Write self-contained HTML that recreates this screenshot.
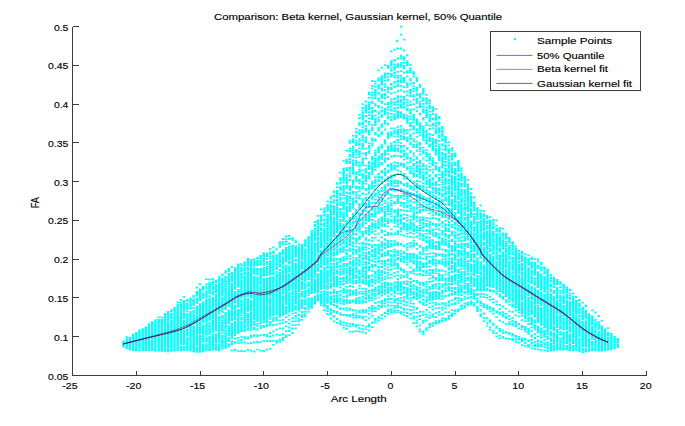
<!DOCTYPE html>
<html><head><meta charset="utf-8"><title>Comparison</title>
<style>html,body{margin:0;padding:0;background:#fff;font-family:"Liberation Sans",sans-serif}</style>
</head><body>
<svg width="685" height="426" viewBox="0 0 685 426" style="display:block">
<defs><filter id="b" x="0" y="0" width="100%" height="100%" filterUnits="userSpaceOnUse"><feGaussianBlur stdDeviation="0.5"/></filter></defs>
<rect width="685" height="426" fill="#fff"/>
<path d="M122.3 341.3h2.4M122.3 341.5h2.4M122.3 341.7h2.4M122.3 341.8h2.4M122.3 342.2h2.4M122.3 342.4h2.4M122.3 342.5h2.4M122.3 342.7h2.4M122.3 342.8h2.4M122.3 342.9h2.4M122.3 343.3h2.4M122.3 343.4h2.4M122.3 343.7h2.4M122.3 344h2.4M122.3 344.1h2.4M122.3 344.3h2.4M122.3 344.4h2.4M122.3 344.5h2.4M122.3 344.6h2.4M122.3 344.7h2.4M122.3 344.9h2.4M122.3 345h2.4M122.3 345.1h2.4M122.3 345.2h2.4M122.3 345.3h2.4M122.3 345.5h2.4M122.3 345.7h2.4M122.3 346h2.4M122.3 346.1h2.4M122.3 346.3h2.4M122.3 346.4h2.4M122.3 346.5h2.4M122.3 346.7h2.4M125.5 337.2h2.4M125.5 339.1h2.4M125.5 339.3h2.4M125.5 339.7h2.4M125.5 340.1h2.4M125.5 340.4h2.4M125.5 340.5h2.4M125.5 340.7h2.4M125.5 340.9h2.4M125.5 341.1h2.4M125.5 341.2h2.4M125.5 341.3h2.4M125.5 341.5h2.4M125.5 341.6h2.4M125.5 341.7h2.4M125.5 341.9h2.4M125.5 342h2.4M125.5 342.2h2.4M125.5 342.4h2.4M125.5 342.5h2.4M125.5 342.7h2.4M125.5 343.4h2.4M125.5 343.5h2.4M125.5 343.6h2.4M125.5 343.7h2.4M125.5 344h2.4M125.5 344.3h2.4M125.5 344.6h2.4M125.5 344.8h2.4M125.5 344.9h2.4M125.5 345.1h2.4M125.5 345.2h2.4M125.5 345.4h2.4M125.5 345.5h2.4M125.5 345.7h2.4M125.5 346.1h2.4M125.5 346.3h2.4M125.5 346.4h2.4M125.5 346.5h2.4M125.5 346.9h2.4M125.5 347h2.4M125.5 347.2h2.4M125.5 347.3h2.4M125.5 347.7h2.4M125.5 348.2h2.4M128.7 337.6h2.4M128.7 337.9h2.4M128.7 338.7h2.4M128.7 338.8h2.4M128.7 338.9h2.4M128.7 339.2h2.4M128.7 339.4h2.4M128.7 339.6h2.4M128.7 339.7h2.4M128.7 339.9h2.4M128.7 340.1h2.4M128.7 340.6h2.4M128.7 340.8h2.4M128.7 340.9h2.4M128.7 341h2.4M128.7 341.1h2.4M128.7 341.5h2.4M128.7 341.7h2.4M128.7 342h2.4M128.7 342.1h2.4M128.7 342.2h2.4M128.7 342.3h2.4M128.7 342.4h2.4M128.7 342.7h2.4M128.7 343h2.4M128.7 343.2h2.4M128.7 343.7h2.4M128.7 344h2.4M128.7 344.3h2.4M128.7 344.4h2.4M128.7 344.5h2.4M128.7 344.6h2.4M128.7 344.8h2.4M128.7 345.1h2.4M128.7 345.4h2.4M128.7 345.6h2.4M128.7 346.1h2.4M128.7 346.2h2.4M128.7 346.3h2.4M128.7 346.4h2.4M128.7 346.9h2.4M128.7 347h2.4M128.7 347.1h2.4M128.7 347.4h2.4M128.7 347.5h2.4M128.7 347.8h2.4M128.7 347.9h2.4M128.7 348h2.4M128.7 348.7h2.4M128.7 348.9h2.4M128.7 349.3h2.4M131.9 334.6h2.4M131.9 336.3h2.4M131.9 336.6h2.4M131.9 336.8h2.4M131.9 337h2.4M131.9 337.1h2.4M131.9 337.5h2.4M131.9 337.7h2.4M131.9 338.1h2.4M131.9 338.2h2.4M131.9 338.6h2.4M131.9 338.7h2.4M131.9 338.8h2.4M131.9 338.9h2.4M131.9 339h2.4M131.9 339.4h2.4M131.9 339.6h2.4M131.9 339.7h2.4M131.9 339.8h2.4M131.9 340h2.4M131.9 340.2h2.4M131.9 340.3h2.4M131.9 340.4h2.4M131.9 340.5h2.4M131.9 341h2.4M131.9 341.1h2.4M131.9 341.2h2.4M131.9 341.6h2.4M131.9 342.2h2.4M131.9 342.6h2.4M131.9 342.8h2.4M131.9 343h2.4M131.9 343.4h2.4M131.9 343.6h2.4M131.9 344.1h2.4M131.9 344.3h2.4M131.9 344.9h2.4M131.9 345.3h2.4M131.9 345.6h2.4M131.9 345.8h2.4M131.9 345.9h2.4M131.9 346.1h2.4M131.9 346.2h2.4M131.9 346.4h2.4M131.9 346.6h2.4M131.9 346.7h2.4M131.9 346.9h2.4M131.9 347.5h2.4M131.9 347.7h2.4M131.9 347.9h2.4M131.9 348.1h2.4M131.9 348.5h2.4M131.9 348.9h2.4M131.9 349.1h2.4M131.9 349.8h2.4M131.9 350.1h2.4M135.1 332.9h2.4M135.1 333.4h2.4M135.1 334h2.4M135.1 335.1h2.4M135.1 335.5h2.4M135.1 335.6h2.4M135.1 335.7h2.4M135.1 335.8h2.4M135.1 336h2.4M135.1 336.1h2.4M135.1 336.6h2.4M135.1 336.7h2.4M135.1 336.9h2.4M135.1 337.1h2.4M135.1 337.4h2.4M135.1 338.1h2.4M135.1 338.3h2.4M135.1 338.4h2.4M135.1 338.5h2.4M135.1 338.6h2.4M135.1 339h2.4M135.1 339.1h2.4M135.1 339.2h2.4M135.1 339.5h2.4M135.1 340h2.4M135.1 340.2h2.4M135.1 340.3h2.4M135.1 340.4h2.4M135.1 341.3h2.4M135.1 341.5h2.4M135.1 341.9h2.4M135.1 342.2h2.4M135.1 342.4h2.4M135.1 342.5h2.4M135.1 343.6h2.4M135.1 343.9h2.4M135.1 344.3h2.4M135.1 344.5h2.4M135.1 344.9h2.4M135.1 345.2h2.4M135.1 345.5h2.4M135.1 345.6h2.4M135.1 346.1h2.4M135.1 346.7h2.4M135.1 347.1h2.4M135.1 347.5h2.4M135.1 347.6h2.4M135.1 347.8h2.4M135.1 347.9h2.4M135.1 348.3h2.4M135.1 348.4h2.4M135.1 348.7h2.4M135.1 349.4h2.4M135.1 349.8h2.4M135.1 350.3h2.4M138.3 330.2h2.4M138.3 330.9h2.4M138.3 332h2.4M138.3 334h2.4M138.3 334.1h2.4M138.3 334.6h2.4M138.3 334.7h2.4M138.3 334.8h2.4M138.3 334.9h2.4M138.3 335.3h2.4M138.3 335.8h2.4M138.3 336h2.4M138.3 336.6h2.4M138.3 336.8h2.4M138.3 337h2.4M138.3 337.3h2.4M138.3 337.5h2.4M138.3 337.6h2.4M138.3 337.9h2.4M138.3 338.2h2.4M138.3 338.6h2.4M138.3 338.9h2.4M138.3 339h2.4M138.3 339.3h2.4M138.3 339.9h2.4M138.3 340.1h2.4M138.3 341.1h2.4M138.3 341.3h2.4M138.3 341.5h2.4M138.3 341.7h2.4M138.3 341.8h2.4M138.3 342.2h2.4M138.3 342.9h2.4M138.3 343.9h2.4M138.3 344h2.4M138.3 344.3h2.4M138.3 344.5h2.4M138.3 345h2.4M138.3 345.2h2.4M138.3 345.3h2.4M138.3 345.4h2.4M138.3 345.5h2.4M138.3 345.7h2.4M138.3 345.9h2.4M138.3 346.3h2.4M138.3 346.5h2.4M138.3 346.8h2.4M138.3 347.1h2.4M138.3 347.4h2.4M138.3 347.7h2.4M138.3 348h2.4M138.3 348.3h2.4M138.3 348.6h2.4M138.3 349h2.4M138.3 349.3h2.4M138.3 349.4h2.4M138.3 349.6h2.4M138.3 350.3h2.4M141.5 329.1h2.4M141.5 329.5h2.4M141.5 330.1h2.4M141.5 331.1h2.4M141.5 331.9h2.4M141.5 332.2h2.4M141.5 332.7h2.4M141.5 333h2.4M141.5 333.3h2.4M141.5 333.6h2.4M141.5 333.7h2.4M141.5 334.3h2.4M141.5 334.9h2.4M141.5 335h2.4M141.5 335.5h2.4M141.5 336h2.4M141.5 336.1h2.4M141.5 336.2h2.4M141.5 336.3h2.4M141.5 336.4h2.4M141.5 336.5h2.4M141.5 336.9h2.4M141.5 337.1h2.4M141.5 337.2h2.4M141.5 337.7h2.4M141.5 337.9h2.4M141.5 338.2h2.4M141.5 338.4h2.4M141.5 338.6h2.4M141.5 338.9h2.4M141.5 339.1h2.4M141.5 339.6h2.4M141.5 339.8h2.4M141.5 339.9h2.4M141.5 340.7h2.4M141.5 340.8h2.4M141.5 340.9h2.4M141.5 341.5h2.4M141.5 342.3h2.4M141.5 342.4h2.4M141.5 343.1h2.4M141.5 343.5h2.4M141.5 343.8h2.4M141.5 344.2h2.4M141.5 344.6h2.4M141.5 344.9h2.4M141.5 345.2h2.4M141.5 345.4h2.4M141.5 345.5h2.4M141.5 345.9h2.4M141.5 346.5h2.4M141.5 346.7h2.4M141.5 346.9h2.4M141.5 347.5h2.4M141.5 347.8h2.4M141.5 348.3h2.4M141.5 348.5h2.4M141.5 349h2.4M141.5 349.2h2.4M141.5 349.3h2.4M141.5 349.4h2.4M141.5 349.5h2.4M141.5 349.9h2.4M141.5 350.2h2.4M144.6 327.3h2.4M144.6 327.8h2.4M144.6 328.8h2.4M144.6 329.3h2.4M144.6 330.1h2.4M144.6 331.2h2.4M144.6 331.5h2.4M144.6 331.8h2.4M144.6 331.9h2.4M144.6 332.3h2.4M144.6 332.6h2.4M144.6 333.1h2.4M144.6 333.3h2.4M144.6 333.8h2.4M144.6 333.9h2.4M144.6 334h2.4M144.6 334.2h2.4M144.6 334.7h2.4M144.6 335h2.4M144.6 335.1h2.4M144.6 335.2h2.4M144.6 335.8h2.4M144.6 335.9h2.4M144.6 336h2.4M144.6 336.3h2.4M144.6 336.4h2.4M144.6 336.6h2.4M144.6 336.9h2.4M144.6 337h2.4M144.6 337.3h2.4M144.6 337.7h2.4M144.6 337.8h2.4M144.6 338.2h2.4M144.6 338.7h2.4M144.6 339.3h2.4M144.6 339.8h2.4M144.6 340h2.4M144.6 340.3h2.4M144.6 340.7h2.4M144.6 342h2.4M144.6 342.2h2.4M144.6 342.5h2.4M144.6 342.9h2.4M144.6 343.4h2.4M144.6 343.6h2.4M144.6 343.9h2.4M144.6 344h2.4M144.6 344.1h2.4M144.6 344.3h2.4M144.6 344.4h2.4M144.6 344.5h2.4M144.6 345.1h2.4M144.6 345.4h2.4M144.6 345.8h2.4M144.6 346.5h2.4M144.6 346.7h2.4M144.6 347.1h2.4M144.6 347.2h2.4M144.6 348.2h2.4M144.6 348.3h2.4M144.6 348.6h2.4M144.6 348.8h2.4M144.6 349.1h2.4M144.6 349.3h2.4M144.6 349.4h2.4M144.6 349.5h2.4M144.6 349.9h2.4M144.6 350.4h2.4M147.8 324.2h2.4M147.8 325.9h2.4M147.8 327h2.4M147.8 328.1h2.4M147.8 329.1h2.4M147.8 329.3h2.4M147.8 330h2.4M147.8 330.1h2.4M147.8 330.6h2.4M147.8 330.8h2.4M147.8 331h2.4M147.8 331.3h2.4M147.8 331.6h2.4M147.8 332.8h2.4M147.8 333.1h2.4M147.8 333.2h2.4M147.8 333.7h2.4M147.8 333.8h2.4M147.8 334.1h2.4M147.8 334.3h2.4M147.8 335h2.4M147.8 335.2h2.4M147.8 335.4h2.4M147.8 335.5h2.4M147.8 335.6h2.4M147.8 335.8h2.4M147.8 335.9h2.4M147.8 336h2.4M147.8 336.1h2.4M147.8 336.2h2.4M147.8 336.5h2.4M147.8 336.9h2.4M147.8 337.6h2.4M147.8 338h2.4M147.8 338.3h2.4M147.8 338.7h2.4M147.8 339h2.4M147.8 339.1h2.4M147.8 339.4h2.4M147.8 339.5h2.4M147.8 341.2h2.4M147.8 342.4h2.4M147.8 342.7h2.4M147.8 343h2.4M147.8 343.6h2.4M147.8 343.8h2.4M147.8 344h2.4M147.8 344.2h2.4M147.8 344.4h2.4M147.8 344.6h2.4M147.8 344.7h2.4M147.8 345h2.4M147.8 345.5h2.4M147.8 345.7h2.4M147.8 346.5h2.4M147.8 347.6h2.4M147.8 348.1h2.4M147.8 348.8h2.4M147.8 348.9h2.4M147.8 349h2.4M147.8 349.7h2.4M147.8 349.8h2.4M147.8 350.1h2.4M147.8 350.2h2.4M151 322.2h2.4M151 322.9h2.4M151 323h2.4M151 324.8h2.4M151 325.2h2.4M151 327.2h2.4M151 327.4h2.4M151 327.7h2.4M151 328h2.4M151 328.2h2.4M151 328.3h2.4M151 329.2h2.4M151 329.3h2.4M151 329.4h2.4M151 329.7h2.4M151 330.1h2.4M151 330.3h2.4M151 330.4h2.4M151 330.9h2.4M151 331.1h2.4M151 332.2h2.4M151 332.6h2.4M151 332.8h2.4M151 333.1h2.4M151 334h2.4M151 334.1h2.4M151 334.3h2.4M151 334.4h2.4M151 334.5h2.4M151 334.8h2.4M151 335.3h2.4M151 335.4h2.4M151 335.8h2.4M151 336h2.4M151 336.1h2.4M151 336.2h2.4M151 337.2h2.4M151 337.4h2.4M151 338h2.4M151 338.3h2.4M151 338.5h2.4M151 338.7h2.4M151 338.8h2.4M151 340.8h2.4M151 341.3h2.4M151 341.5h2.4M151 341.6h2.4M151 342.2h2.4M151 343.5h2.4M151 343.6h2.4M151 343.8h2.4M151 343.9h2.4M151 344h2.4M151 344.1h2.4M151 344.2h2.4M151 344.5h2.4M151 344.8h2.4M151 345.3h2.4M151 346h2.4M151 346.1h2.4M151 346.5h2.4M151 347.1h2.4M151 348.2h2.4M151 348.6h2.4M151 348.7h2.4M151 349.1h2.4M151 349.2h2.4M151 349.3h2.4M151 349.4h2.4M151 349.7h2.4M151 350h2.4M151 350.2h2.4M154.2 320.1h2.4M154.2 321.8h2.4M154.2 322h2.4M154.2 323h2.4M154.2 324h2.4M154.2 325.5h2.4M154.2 326.4h2.4M154.2 326.8h2.4M154.2 326.9h2.4M154.2 327.1h2.4M154.2 327.6h2.4M154.2 327.8h2.4M154.2 328.2h2.4M154.2 328.6h2.4M154.2 329.2h2.4M154.2 329.3h2.4M154.2 329.5h2.4M154.2 330.4h2.4M154.2 331h2.4M154.2 331.5h2.4M154.2 331.7h2.4M154.2 331.8h2.4M154.2 332.1h2.4M154.2 332.3h2.4M154.2 332.6h2.4M154.2 332.7h2.4M154.2 333.6h2.4M154.2 334.1h2.4M154.2 334.5h2.4M154.2 334.6h2.4M154.2 334.7h2.4M154.2 334.9h2.4M154.2 335.2h2.4M154.2 335.4h2.4M154.2 335.6h2.4M154.2 336.4h2.4M154.2 336.8h2.4M154.2 337.1h2.4M154.2 337.7h2.4M154.2 337.8h2.4M154.2 338.2h2.4M154.2 338.4h2.4M154.2 338.7h2.4M154.2 340h2.4M154.2 340.2h2.4M154.2 340.3h2.4M154.2 341.3h2.4M154.2 341.4h2.4M154.2 341.6h2.4M154.2 342.9h2.4M154.2 343.2h2.4M154.2 343.4h2.4M154.2 344.1h2.4M154.2 344.5h2.4M154.2 344.8h2.4M154.2 345.1h2.4M154.2 345.3h2.4M154.2 346.2h2.4M154.2 346.3h2.4M154.2 346.9h2.4M154.2 348.2h2.4M154.2 348.7h2.4M154.2 349.3h2.4M154.2 349.4h2.4M154.2 349.5h2.4M154.2 350h2.4M154.2 350.1h2.4M154.2 350.2h2.4M154.2 350.7h2.4M154.2 350.8h2.4M157.4 317.4h2.4M157.4 319.9h2.4M157.4 320h2.4M157.4 321.3h2.4M157.4 321.5h2.4M157.4 323h2.4M157.4 323.3h2.4M157.4 324.2h2.4M157.4 324.9h2.4M157.4 325.2h2.4M157.4 325.6h2.4M157.4 326h2.4M157.4 326.5h2.4M157.4 327.4h2.4M157.4 327.5h2.4M157.4 327.8h2.4M157.4 327.9h2.4M157.4 328.8h2.4M157.4 329h2.4M157.4 329.8h2.4M157.4 330h2.4M157.4 330.2h2.4M157.4 331h2.4M157.4 331.2h2.4M157.4 331.9h2.4M157.4 332.1h2.4M157.4 332.5h2.4M157.4 332.9h2.4M157.4 333.2h2.4M157.4 333.7h2.4M157.4 333.8h2.4M157.4 334h2.4M157.4 334.2h2.4M157.4 334.3h2.4M157.4 334.4h2.4M157.4 334.8h2.4M157.4 335.8h2.4M157.4 335.9h2.4M157.4 336.6h2.4M157.4 337.6h2.4M157.4 337.9h2.4M157.4 338.8h2.4M157.4 339h2.4M157.4 339.4h2.4M157.4 340.3h2.4M157.4 340.6h2.4M157.4 340.8h2.4M157.4 341.2h2.4M157.4 341.7h2.4M157.4 342.1h2.4M157.4 342.7h2.4M157.4 343.3h2.4M157.4 343.8h2.4M157.4 344.1h2.4M157.4 344.2h2.4M157.4 344.5h2.4M157.4 344.9h2.4M157.4 345.4h2.4M157.4 346.3h2.4M157.4 346.9h2.4M157.4 347.2h2.4M157.4 347.4h2.4M157.4 348.5h2.4M157.4 348.7h2.4M157.4 349.1h2.4M157.4 349.2h2.4M157.4 349.3h2.4M157.4 349.5h2.4M157.4 349.8h2.4M157.4 350h2.4M157.4 350.6h2.4M160.6 317.6h2.4M160.6 319.8h2.4M160.6 320.6h2.4M160.6 320.8h2.4M160.6 321.4h2.4M160.6 321.9h2.4M160.6 322.3h2.4M160.6 322.4h2.4M160.6 323.7h2.4M160.6 323.9h2.4M160.6 324h2.4M160.6 325h2.4M160.6 325.5h2.4M160.6 325.9h2.4M160.6 326.4h2.4M160.6 326.6h2.4M160.6 327.5h2.4M160.6 328.7h2.4M160.6 329h2.4M160.6 329.3h2.4M160.6 329.5h2.4M160.6 329.6h2.4M160.6 330.2h2.4M160.6 330.8h2.4M160.6 330.9h2.4M160.6 331.5h2.4M160.6 331.9h2.4M160.6 332.3h2.4M160.6 332.4h2.4M160.6 332.5h2.4M160.6 332.7h2.4M160.6 332.9h2.4M160.6 333.3h2.4M160.6 333.6h2.4M160.6 334h2.4M160.6 334.3h2.4M160.6 336h2.4M160.6 336.1h2.4M160.6 336.2h2.4M160.6 336.4h2.4M160.6 336.6h2.4M160.6 338h2.4M160.6 339.6h2.4M160.6 339.7h2.4M160.6 340h2.4M160.6 340.1h2.4M160.6 341.2h2.4M160.6 341.4h2.4M160.6 342.1h2.4M160.6 342.8h2.4M160.6 343.2h2.4M160.6 343.5h2.4M160.6 343.6h2.4M160.6 344.1h2.4M160.6 344.3h2.4M160.6 344.4h2.4M160.6 344.5h2.4M160.6 345h2.4M160.6 346.1h2.4M160.6 346.9h2.4M160.6 347.7h2.4M160.6 347.8h2.4M160.6 348.1h2.4M160.6 348.4h2.4M160.6 348.6h2.4M160.6 349.3h2.4M160.6 349.5h2.4M160.6 350.1h2.4M160.6 350.6h2.4M160.6 350.8h2.4M163.8 313.8h2.4M163.8 315.7h2.4M163.8 316.1h2.4M163.8 316.6h2.4M163.8 317.3h2.4M163.8 318.7h2.4M163.8 319.3h2.4M163.8 319.5h2.4M163.8 320.5h2.4M163.8 321.2h2.4M163.8 321.3h2.4M163.8 321.5h2.4M163.8 321.7h2.4M163.8 322.5h2.4M163.8 323h2.4M163.8 324.1h2.4M163.8 324.7h2.4M163.8 325h2.4M163.8 325.5h2.4M163.8 326.1h2.4M163.8 326.6h2.4M163.8 326.7h2.4M163.8 327.6h2.4M163.8 328.4h2.4M163.8 328.6h2.4M163.8 329.4h2.4M163.8 329.5h2.4M163.8 330.2h2.4M163.8 330.3h2.4M163.8 330.7h2.4M163.8 330.8h2.4M163.8 331.1h2.4M163.8 332h2.4M163.8 332.5h2.4M163.8 332.6h2.4M163.8 332.7h2.4M163.8 333h2.4M163.8 333.3h2.4M163.8 334.2h2.4M163.8 335h2.4M163.8 335.5h2.4M163.8 336.3h2.4M163.8 336.7h2.4M163.8 336.8h2.4M163.8 337.8h2.4M163.8 338.5h2.4M163.8 339.2h2.4M163.8 339.9h2.4M163.8 340.1h2.4M163.8 340.2h2.4M163.8 341.1h2.4M163.8 341.5h2.4M163.8 342h2.4M163.8 342.6h2.4M163.8 342.8h2.4M163.8 343.1h2.4M163.8 343.6h2.4M163.8 343.7h2.4M163.8 343.8h2.4M163.8 344.5h2.4M163.8 345.7h2.4M163.8 345.9h2.4M163.8 346h2.4M163.8 348.1h2.4M163.8 348.2h2.4M163.8 348.3h2.4M163.8 348.8h2.4M163.8 348.9h2.4M163.8 349.1h2.4M163.8 349.7h2.4M163.8 350.1h2.4M163.8 350.2h2.4M163.8 350.5h2.4M163.8 350.8h2.4M167 311.9h2.4M167 312.2h2.4M167 313.5h2.4M167 313.7h2.4M167 314.7h2.4M167 315.8h2.4M167 316.8h2.4M167 317h2.4M167 317.8h2.4M167 318.6h2.4M167 319.4h2.4M167 319.6h2.4M167 320h2.4M167 320.1h2.4M167 322.4h2.4M167 322.8h2.4M167 323h2.4M167 323.4h2.4M167 323.8h2.4M167 324.6h2.4M167 325.2h2.4M167 325.5h2.4M167 326.2h2.4M167 326.4h2.4M167 327h2.4M167 327.2h2.4M167 328.8h2.4M167 329.2h2.4M167 329.4h2.4M167 329.6h2.4M167 330.5h2.4M167 330.6h2.4M167 330.8h2.4M167 331.2h2.4M167 331.4h2.4M167 331.8h2.4M167 331.9h2.4M167 332.6h2.4M167 333.3h2.4M167 333.7h2.4M167 333.8h2.4M167 334.9h2.4M167 335.7h2.4M167 335.8h2.4M167 336.6h2.4M167 338.4h2.4M167 338.6h2.4M167 339h2.4M167 339.9h2.4M167 340.3h2.4M167 340.9h2.4M167 341.7h2.4M167 341.9h2.4M167 342.2h2.4M167 342.9h2.4M167 343.1h2.4M167 343.2h2.4M167 343.5h2.4M167 343.8h2.4M167 344.4h2.4M167 344.8h2.4M167 345.9h2.4M167 346.8h2.4M167 347.1h2.4M167 347.2h2.4M167 349.1h2.4M167 349.3h2.4M167 349.4h2.4M167 349.6h2.4M167 349.7h2.4M167 349.9h2.4M167 350h2.4M167 350.3h2.4M167 350.4h2.4M167 351.5h2.4M170.2 310.2h2.4M170.2 310.4h2.4M170.2 310.7h2.4M170.2 311h2.4M170.2 313.6h2.4M170.2 313.9h2.4M170.2 314.3h2.4M170.2 315.7h2.4M170.2 316.4h2.4M170.2 316.7h2.4M170.2 317.2h2.4M170.2 317.7h2.4M170.2 318.2h2.4M170.2 318.4h2.4M170.2 320.7h2.4M170.2 321h2.4M170.2 321.7h2.4M170.2 321.9h2.4M170.2 322.3h2.4M170.2 322.9h2.4M170.2 323.5h2.4M170.2 323.8h2.4M170.2 324.4h2.4M170.2 325.6h2.4M170.2 326.2h2.4M170.2 327.7h2.4M170.2 328h2.4M170.2 328.1h2.4M170.2 329h2.4M170.2 329.3h2.4M170.2 329.4h2.4M170.2 330.1h2.4M170.2 330.6h2.4M170.2 330.7h2.4M170.2 331.3h2.4M170.2 331.8h2.4M170.2 332.4h2.4M170.2 333.2h2.4M170.2 333.5h2.4M170.2 334.5h2.4M170.2 334.8h2.4M170.2 334.9h2.4M170.2 335.2h2.4M170.2 336.9h2.4M170.2 338h2.4M170.2 338.8h2.4M170.2 339.1h2.4M170.2 339.4h2.4M170.2 339.5h2.4M170.2 340.7h2.4M170.2 341.1h2.4M170.2 341.3h2.4M170.2 341.4h2.4M170.2 341.6h2.4M170.2 342.3h2.4M170.2 342.8h2.4M170.2 344h2.4M170.2 344.4h2.4M170.2 344.8h2.4M170.2 345.2h2.4M170.2 346h2.4M170.2 347.3h2.4M170.2 348h2.4M170.2 349h2.4M170.2 349.2h2.4M170.2 349.3h2.4M170.2 349.8h2.4M170.2 349.9h2.4M170.2 350.5h2.4M170.2 350.7h2.4M170.2 350.9h2.4M173.3 307.8h2.4M173.3 309.7h2.4M173.3 311.2h2.4M173.3 312.3h2.4M173.3 312.8h2.4M173.3 313.3h2.4M173.3 314.6h2.4M173.3 315h2.4M173.3 315.1h2.4M173.3 315.2h2.4M173.3 316.3h2.4M173.3 317.4h2.4M173.3 318.7h2.4M173.3 319.6h2.4M173.3 319.8h2.4M173.3 320.2h2.4M173.3 321.4h2.4M173.3 321.8h2.4M173.3 322.3h2.4M173.3 322.9h2.4M173.3 323h2.4M173.3 324.2h2.4M173.3 324.3h2.4M173.3 325.2h2.4M173.3 325.9h2.4M173.3 326.5h2.4M173.3 327h2.4M173.3 327.5h2.4M173.3 327.8h2.4M173.3 328.1h2.4M173.3 328.2h2.4M173.3 328.8h2.4M173.3 329.1h2.4M173.3 329.2h2.4M173.3 329.4h2.4M173.3 330h2.4M173.3 330.2h2.4M173.3 330.6h2.4M173.3 330.7h2.4M173.3 330.9h2.4M173.3 331.6h2.4M173.3 332.5h2.4M173.3 332.6h2.4M173.3 333.7h2.4M173.3 334.6h2.4M173.3 335.3h2.4M173.3 336.1h2.4M173.3 336.9h2.4M173.3 338.1h2.4M173.3 338.7h2.4M173.3 338.9h2.4M173.3 339.1h2.4M173.3 339.2h2.4M173.3 339.9h2.4M173.3 340h2.4M173.3 340.2h2.4M173.3 340.4h2.4M173.3 341.6h2.4M173.3 342.2h2.4M173.3 342.5h2.4M173.3 343.1h2.4M173.3 343.5h2.4M173.3 344.3h2.4M173.3 345.1h2.4M173.3 345.4h2.4M173.3 346.7h2.4M173.3 347.4h2.4M173.3 348.2h2.4M173.3 348.6h2.4M173.3 348.7h2.4M173.3 348.9h2.4M173.3 349.7h2.4M173.3 350.5h2.4M173.3 350.6h2.4M173.3 350.7h2.4M176.5 302.4h2.4M176.5 305h2.4M176.5 306.3h2.4M176.5 308.3h2.4M176.5 308.4h2.4M176.5 309.6h2.4M176.5 311.7h2.4M176.5 311.8h2.4M176.5 312h2.4M176.5 313.3h2.4M176.5 313.5h2.4M176.5 313.8h2.4M176.5 315.6h2.4M176.5 316.8h2.4M176.5 317.6h2.4M176.5 318.2h2.4M176.5 318.9h2.4M176.5 320h2.4M176.5 320.8h2.4M176.5 321.8h2.4M176.5 322.3h2.4M176.5 322.6h2.4M176.5 323.9h2.4M176.5 324h2.4M176.5 324.1h2.4M176.5 326h2.4M176.5 326.9h2.4M176.5 327.1h2.4M176.5 327.2h2.4M176.5 327.7h2.4M176.5 327.9h2.4M176.5 328h2.4M176.5 328.7h2.4M176.5 329h2.4M176.5 329.2h2.4M176.5 329.7h2.4M176.5 329.8h2.4M176.5 331.2h2.4M176.5 331.4h2.4M176.5 332.4h2.4M176.5 332.7h2.4M176.5 333.8h2.4M176.5 334.2h2.4M176.5 335.7h2.4M176.5 336.6h2.4M176.5 337.9h2.4M176.5 338h2.4M176.5 338.2h2.4M176.5 338.4h2.4M176.5 338.7h2.4M176.5 339.5h2.4M176.5 339.7h2.4M176.5 340.4h2.4M176.5 341h2.4M176.5 341.2h2.4M176.5 342.2h2.4M176.5 342.6h2.4M176.5 342.7h2.4M176.5 343.8h2.4M176.5 344.1h2.4M176.5 345h2.4M176.5 346.6h2.4M176.5 347.1h2.4M176.5 348.3h2.4M176.5 348.6h2.4M176.5 349.1h2.4M176.5 349.4h2.4M176.5 349.5h2.4M176.5 349.6h2.4M176.5 349.7h2.4M176.5 349.9h2.4M176.5 350.1h2.4M179.7 299.9h2.4M179.7 302.6h2.4M179.7 304.9h2.4M179.7 305.3h2.4M179.7 305.8h2.4M179.7 307.5h2.4M179.7 308.1h2.4M179.7 310.2h2.4M179.7 310.4h2.4M179.7 310.5h2.4M179.7 311h2.4M179.7 311.1h2.4M179.7 312.1h2.4M179.7 313.5h2.4M179.7 315.1h2.4M179.7 315.8h2.4M179.7 317.2h2.4M179.7 317.3h2.4M179.7 317.5h2.4M179.7 318.1h2.4M179.7 319h2.4M179.7 320.5h2.4M179.7 320.7h2.4M179.7 320.9h2.4M179.7 321.9h2.4M179.7 322.9h2.4M179.7 323h2.4M179.7 323.8h2.4M179.7 325.3h2.4M179.7 326.2h2.4M179.7 326.7h2.4M179.7 327.1h2.4M179.7 327.2h2.4M179.7 327.3h2.4M179.7 327.4h2.4M179.7 328h2.4M179.7 328.4h2.4M179.7 328.5h2.4M179.7 328.6h2.4M179.7 330.7h2.4M179.7 330.9h2.4M179.7 331.9h2.4M179.7 332.1h2.4M179.7 333.5h2.4M179.7 333.6h2.4M179.7 334h2.4M179.7 334.1h2.4M179.7 334.9h2.4M179.7 335.1h2.4M179.7 336.2h2.4M179.7 337.5h2.4M179.7 337.6h2.4M179.7 338.3h2.4M179.7 338.5h2.4M179.7 339h2.4M179.7 339.3h2.4M179.7 340.6h2.4M179.7 340.8h2.4M179.7 341h2.4M179.7 341.1h2.4M179.7 341.8h2.4M179.7 342.5h2.4M179.7 343.3h2.4M179.7 343.7h2.4M179.7 343.9h2.4M179.7 344.4h2.4M179.7 346.9h2.4M179.7 347.6h2.4M179.7 349h2.4M179.7 349.3h2.4M179.7 349.5h2.4M179.7 349.9h2.4M179.7 350h2.4M179.7 350.3h2.4M179.7 350.7h2.4M182.9 296.9h2.4M182.9 301h2.4M182.9 302.1h2.4M182.9 302.8h2.4M182.9 303.3h2.4M182.9 304.1h2.4M182.9 306h2.4M182.9 306.4h2.4M182.9 307.9h2.4M182.9 308.5h2.4M182.9 309h2.4M182.9 309.8h2.4M182.9 309.9h2.4M182.9 310.1h2.4M182.9 310.9h2.4M182.9 313.2h2.4M182.9 314.4h2.4M182.9 315.4h2.4M182.9 316.3h2.4M182.9 316.7h2.4M182.9 317.9h2.4M182.9 318.1h2.4M182.9 320.3h2.4M182.9 320.9h2.4M182.9 321.6h2.4M182.9 321.9h2.4M182.9 322.2h2.4M182.9 323.8h2.4M182.9 325.1h2.4M182.9 325.3h2.4M182.9 325.4h2.4M182.9 325.8h2.4M182.9 326.5h2.4M182.9 326.6h2.4M182.9 326.7h2.4M182.9 326.8h2.4M182.9 327h2.4M182.9 327.6h2.4M182.9 327.8h2.4M182.9 330.3h2.4M182.9 330.7h2.4M182.9 330.9h2.4M182.9 332.4h2.4M182.9 333.1h2.4M182.9 334.1h2.4M182.9 334.6h2.4M182.9 334.9h2.4M182.9 335.2h2.4M182.9 335.6h2.4M182.9 336.3h2.4M182.9 336.6h2.4M182.9 337.4h2.4M182.9 338.3h2.4M182.9 338.4h2.4M182.9 339.5h2.4M182.9 340.5h2.4M182.9 340.6h2.4M182.9 340.9h2.4M182.9 341.5h2.4M182.9 342h2.4M182.9 342.2h2.4M182.9 342.4h2.4M182.9 342.7h2.4M182.9 343.4h2.4M182.9 343.6h2.4M182.9 343.7h2.4M182.9 344.3h2.4M182.9 346.8h2.4M182.9 347.3h2.4M182.9 348.1h2.4M182.9 349.1h2.4M182.9 349.3h2.4M182.9 349.4h2.4M182.9 349.5h2.4M182.9 349.6h2.4M182.9 349.8h2.4M182.9 349.9h2.4M182.9 350h2.4M182.9 350.1h2.4M186.1 299.8h2.4M186.1 300.5h2.4M186.1 301.3h2.4M186.1 301.4h2.4M186.1 303.9h2.4M186.1 304.9h2.4M186.1 305.3h2.4M186.1 306.2h2.4M186.1 306.8h2.4M186.1 307.1h2.4M186.1 308.2h2.4M186.1 309h2.4M186.1 309.2h2.4M186.1 311.3h2.4M186.1 313.9h2.4M186.1 314.6h2.4M186.1 315h2.4M186.1 315.5h2.4M186.1 315.7h2.4M186.1 316.6h2.4M186.1 318.2h2.4M186.1 319.3h2.4M186.1 319.8h2.4M186.1 320.1h2.4M186.1 320.6h2.4M186.1 320.8h2.4M186.1 321h2.4M186.1 322.4h2.4M186.1 323.5h2.4M186.1 323.8h2.4M186.1 323.9h2.4M186.1 324.1h2.4M186.1 324.6h2.4M186.1 324.9h2.4M186.1 325.6h2.4M186.1 325.8h2.4M186.1 326h2.4M186.1 326.2h2.4M186.1 326.4h2.4M186.1 326.9h2.4M186.1 329.4h2.4M186.1 329.9h2.4M186.1 330.4h2.4M186.1 330.9h2.4M186.1 331.5h2.4M186.1 332.6h2.4M186.1 333.4h2.4M186.1 333.6h2.4M186.1 333.8h2.4M186.1 334.4h2.4M186.1 335.1h2.4M186.1 335.2h2.4M186.1 337.6h2.4M186.1 337.9h2.4M186.1 338.4h2.4M186.1 339.3h2.4M186.1 339.7h2.4M186.1 341.4h2.4M186.1 341.9h2.4M186.1 342.4h2.4M186.1 342.7h2.4M186.1 343.7h2.4M186.1 343.9h2.4M186.1 344.8h2.4M186.1 346.2h2.4M186.1 347.9h2.4M186.1 348.5h2.4M186.1 348.9h2.4M186.1 349h2.4M186.1 349.2h2.4M186.1 349.5h2.4M186.1 349.6h2.4M186.1 349.8h2.4M186.1 350h2.4M186.1 350.1h2.4M189.3 298.5h2.4M189.3 298.7h2.4M189.3 299h2.4M189.3 299.5h2.4M189.3 299.8h2.4M189.3 300.1h2.4M189.3 301.6h2.4M189.3 303.3h2.4M189.3 303.8h2.4M189.3 304.5h2.4M189.3 304.6h2.4M189.3 305.3h2.4M189.3 306.2h2.4M189.3 306.5h2.4M189.3 307h2.4M189.3 308.6h2.4M189.3 308.7h2.4M189.3 312.2h2.4M189.3 312.8h2.4M189.3 313.7h2.4M189.3 314h2.4M189.3 314.7h2.4M189.3 316.1h2.4M189.3 316.2h2.4M189.3 317.5h2.4M189.3 317.7h2.4M189.3 318.9h2.4M189.3 319h2.4M189.3 319.3h2.4M189.3 319.4h2.4M189.3 321.2h2.4M189.3 321.3h2.4M189.3 322.6h2.4M189.3 322.9h2.4M189.3 323.2h2.4M189.3 323.3h2.4M189.3 323.6h2.4M189.3 323.9h2.4M189.3 324.2h2.4M189.3 325.4h2.4M189.3 326h2.4M189.3 326.1h2.4M189.3 327.6h2.4M189.3 327.9h2.4M189.3 328.2h2.4M189.3 330h2.4M189.3 331.1h2.4M189.3 332.5h2.4M189.3 332.6h2.4M189.3 332.7h2.4M189.3 333.4h2.4M189.3 334h2.4M189.3 334.6h2.4M189.3 335.1h2.4M189.3 335.8h2.4M189.3 336h2.4M189.3 336.6h2.4M189.3 337.4h2.4M189.3 338.8h2.4M189.3 339.3h2.4M189.3 339.9h2.4M189.3 340.8h2.4M189.3 341.1h2.4M189.3 341.4h2.4M189.3 341.7h2.4M189.3 343.1h2.4M189.3 343.7h2.4M189.3 343.8h2.4M189.3 343.9h2.4M189.3 345.3h2.4M189.3 346.7h2.4M189.3 348h2.4M189.3 348.1h2.4M189.3 348.4h2.4M189.3 349.1h2.4M189.3 349.2h2.4M189.3 349.5h2.4M189.3 349.6h2.4M189.3 349.7h2.4M189.3 349.8h2.4M189.3 350.1h2.4M189.3 350.6h2.4M192.5 296h2.4M192.5 296.1h2.4M192.5 296.6h2.4M192.5 296.9h2.4M192.5 299.3h2.4M192.5 300.7h2.4M192.5 302.5h2.4M192.5 302.9h2.4M192.5 303h2.4M192.5 303.2h2.4M192.5 303.9h2.4M192.5 304.5h2.4M192.5 304.9h2.4M192.5 308.2h2.4M192.5 310.8h2.4M192.5 310.9h2.4M192.5 311.6h2.4M192.5 312.2h2.4M192.5 312.8h2.4M192.5 314.8h2.4M192.5 315h2.4M192.5 315.3h2.4M192.5 316.1h2.4M192.5 316.9h2.4M192.5 317.1h2.4M192.5 318.8h2.4M192.5 319.1h2.4M192.5 319.3h2.4M192.5 319.9h2.4M192.5 320.3h2.4M192.5 320.5h2.4M192.5 320.8h2.4M192.5 321.5h2.4M192.5 322.5h2.4M192.5 323.2h2.4M192.5 323.3h2.4M192.5 323.4h2.4M192.5 323.7h2.4M192.5 326.5h2.4M192.5 326.8h2.4M192.5 327.6h2.4M192.5 329h2.4M192.5 329.8h2.4M192.5 330.3h2.4M192.5 331h2.4M192.5 332h2.4M192.5 332.1h2.4M192.5 333h2.4M192.5 334.1h2.4M192.5 334.5h2.4M192.5 334.7h2.4M192.5 335h2.4M192.5 335.6h2.4M192.5 336.2h2.4M192.5 337.5h2.4M192.5 338.3h2.4M192.5 339.4h2.4M192.5 339.5h2.4M192.5 340.4h2.4M192.5 341h2.4M192.5 341.2h2.4M192.5 341.4h2.4M192.5 342.4h2.4M192.5 342.7h2.4M192.5 344.2h2.4M192.5 344.3h2.4M192.5 345.3h2.4M192.5 347.2h2.4M192.5 347.4h2.4M192.5 348.8h2.4M192.5 349.1h2.4M192.5 349.2h2.4M192.5 349.5h2.4M192.5 349.6h2.4M192.5 349.8h2.4M192.5 349.9h2.4M192.5 350.1h2.4M192.5 351.3h2.4M195.7 287.5h2.4M195.7 291.8h2.4M195.7 293.1h2.4M195.7 294.2h2.4M195.7 295h2.4M195.7 295.2h2.4M195.7 295.6h2.4M195.7 298.3h2.4M195.7 299.8h2.4M195.7 299.9h2.4M195.7 300.3h2.4M195.7 300.6h2.4M195.7 300.9h2.4M195.7 301.8h2.4M195.7 302.1h2.4M195.7 302.9h2.4M195.7 306.7h2.4M195.7 307.5h2.4M195.7 308h2.4M195.7 309.2h2.4M195.7 310.1h2.4M195.7 310.8h2.4M195.7 311.1h2.4M195.7 312.1h2.4M195.7 312.6h2.4M195.7 312.8h2.4M195.7 313.3h2.4M195.7 313.9h2.4M195.7 315.9h2.4M195.7 316h2.4M195.7 317.2h2.4M195.7 317.7h2.4M195.7 318h2.4M195.7 318.9h2.4M195.7 319.5h2.4M195.7 319.7h2.4M195.7 319.8h2.4M195.7 320.3h2.4M195.7 320.4h2.4M195.7 321.7h2.4M195.7 322.1h2.4M195.7 324.2h2.4M195.7 324.3h2.4M195.7 325.5h2.4M195.7 325.6h2.4M195.7 327.7h2.4M195.7 328.9h2.4M195.7 329.1h2.4M195.7 329.8h2.4M195.7 330.4h2.4M195.7 331.5h2.4M195.7 332.3h2.4M195.7 333.1h2.4M195.7 333.7h2.4M195.7 334h2.4M195.7 334.4h2.4M195.7 334.7h2.4M195.7 336.7h2.4M195.7 337.7h2.4M195.7 337.9h2.4M195.7 338.1h2.4M195.7 339.6h2.4M195.7 340.4h2.4M195.7 340.6h2.4M195.7 340.8h2.4M195.7 341.5h2.4M195.7 341.6h2.4M195.7 343.6h2.4M195.7 344.3h2.4M195.7 344.9h2.4M195.7 345h2.4M195.7 347.4h2.4M195.7 347.8h2.4M195.7 348.1h2.4M195.7 348.8h2.4M195.7 349h2.4M195.7 349.2h2.4M195.7 349.3h2.4M195.7 349.8h2.4M195.7 350h2.4M195.7 350.3h2.4M195.7 351.8h2.4M198.9 284.2h2.4M198.9 289.3h2.4M198.9 291h2.4M198.9 291.6h2.4M198.9 291.8h2.4M198.9 291.9h2.4M198.9 293.5h2.4M198.9 295h2.4M198.9 296.9h2.4M198.9 297.5h2.4M198.9 298.1h2.4M198.9 298.5h2.4M198.9 298.7h2.4M198.9 299.1h2.4M198.9 300.1h2.4M198.9 304.1h2.4M198.9 304.2h2.4M198.9 305.2h2.4M198.9 306.9h2.4M198.9 307.1h2.4M198.9 308.2h2.4M198.9 308.3h2.4M198.9 309.2h2.4M198.9 310.1h2.4M198.9 310.3h2.4M198.9 310.8h2.4M198.9 311.8h2.4M198.9 312.8h2.4M198.9 313.1h2.4M198.9 313.5h2.4M198.9 314.4h2.4M198.9 314.6h2.4M198.9 315.2h2.4M198.9 316h2.4M198.9 316.9h2.4M198.9 317.3h2.4M198.9 317.7h2.4M198.9 318.2h2.4M198.9 318.9h2.4M198.9 319.2h2.4M198.9 320.7h2.4M198.9 322.7h2.4M198.9 323.2h2.4M198.9 324.2h2.4M198.9 326.1h2.4M198.9 327h2.4M198.9 327.9h2.4M198.9 328.4h2.4M198.9 329.9h2.4M198.9 330.9h2.4M198.9 331.9h2.4M198.9 332.7h2.4M198.9 332.8h2.4M198.9 333.3h2.4M198.9 333.4h2.4M198.9 333.7h2.4M198.9 336h2.4M198.9 336.4h2.4M198.9 337.4h2.4M198.9 337.5h2.4M198.9 339h2.4M198.9 339.3h2.4M198.9 340h2.4M198.9 340.2h2.4M198.9 340.4h2.4M198.9 340.9h2.4M198.9 341.7h2.4M198.9 343.3h2.4M198.9 344.2h2.4M198.9 345.4h2.4M198.9 346.1h2.4M198.9 346.9h2.4M198.9 347.4h2.4M198.9 348.8h2.4M198.9 349h2.4M198.9 349.4h2.4M198.9 349.5h2.4M198.9 349.6h2.4M198.9 350.1h2.4M198.9 350.4h2.4M198.9 351.8h2.4M202 286.8h2.4M202 286.9h2.4M202 288.7h2.4M202 289.5h2.4M202 293.4h2.4M202 294.8h2.4M202 295h2.4M202 295.1h2.4M202 295.4h2.4M202 295.8h2.4M202 295.9h2.4M202 297.8h2.4M202 302.4h2.4M202 302.6h2.4M202 303h2.4M202 304.1h2.4M202 304.6h2.4M202 305.3h2.4M202 306.6h2.4M202 307.2h2.4M202 307.7h2.4M202 308h2.4M202 308.6h2.4M202 310h2.4M202 310.9h2.4M202 311.4h2.4M202 312h2.4M202 312.2h2.4M202 312.5h2.4M202 312.6h2.4M202 313.4h2.4M202 314.4h2.4M202 315.2h2.4M202 317h2.4M202 317.5h2.4M202 317.7h2.4M202 317.9h2.4M202 318.7h2.4M202 320h2.4M202 320.8h2.4M202 322.2h2.4M202 325.4h2.4M202 326.3h2.4M202 326.5h2.4M202 327.6h2.4M202 327.9h2.4M202 329.3h2.4M202 329.6h2.4M202 331.4h2.4M202 331.8h2.4M202 332.6h2.4M202 332.9h2.4M202 333.3h2.4M202 335.5h2.4M202 335.6h2.4M202 335.8h2.4M202 336.6h2.4M202 338.6h2.4M202 338.7h2.4M202 339.4h2.4M202 339.5h2.4M202 340.2h2.4M202 340.6h2.4M202 341.7h2.4M202 344.6h2.4M202 345.3h2.4M202 345.6h2.4M202 346.5h2.4M202 347h2.4M202 347.2h2.4M202 348.7h2.4M202 348.9h2.4M202 349.5h2.4M202 349.8h2.4M202 349.9h2.4M202 351.3h2.4M205.2 279.1h2.4M205.2 284.3h2.4M205.2 284.5h2.4M205.2 287.1h2.4M205.2 287.5h2.4M205.2 288.2h2.4M205.2 288.7h2.4M205.2 291.3h2.4M205.2 293h2.4M205.2 293.1h2.4M205.2 293.5h2.4M205.2 293.8h2.4M205.2 294.2h2.4M205.2 294.4h2.4M205.2 294.6h2.4M205.2 295.2h2.4M205.2 297h2.4M205.2 299.4h2.4M205.2 300.8h2.4M205.2 301.5h2.4M205.2 301.8h2.4M205.2 302h2.4M205.2 303.3h2.4M205.2 304.1h2.4M205.2 304.9h2.4M205.2 305.4h2.4M205.2 307.1h2.4M205.2 308h2.4M205.2 308.9h2.4M205.2 309h2.4M205.2 309.1h2.4M205.2 309.4h2.4M205.2 310h2.4M205.2 311.4h2.4M205.2 312h2.4M205.2 312.6h2.4M205.2 314h2.4M205.2 314.8h2.4M205.2 315.5h2.4M205.2 315.6h2.4M205.2 316h2.4M205.2 316.4h2.4M205.2 317.9h2.4M205.2 319.3h2.4M205.2 319.5h2.4M205.2 320.1h2.4M205.2 321.2h2.4M205.2 323.1h2.4M205.2 324.4h2.4M205.2 326.1h2.4M205.2 327.6h2.4M205.2 327.8h2.4M205.2 328.6h2.4M205.2 330.1h2.4M205.2 330.7h2.4M205.2 330.8h2.4M205.2 331.2h2.4M205.2 332.8h2.4M205.2 333.5h2.4M205.2 334.2h2.4M205.2 334.6h2.4M205.2 337.5h2.4M205.2 338h2.4M205.2 338.4h2.4M205.2 338.6h2.4M205.2 338.7h2.4M205.2 340.2h2.4M205.2 340.5h2.4M205.2 341.5h2.4M205.2 344.1h2.4M205.2 344.8h2.4M205.2 345.8h2.4M205.2 346.2h2.4M205.2 347h2.4M205.2 347.6h2.4M205.2 348.3h2.4M205.2 348.6h2.4M205.2 348.8h2.4M205.2 349.1h2.4M205.2 349.2h2.4M205.2 349.3h2.4M205.2 349.5h2.4M205.2 350.3h2.4M208.4 279.5h2.4M208.4 283h2.4M208.4 283.5h2.4M208.4 284.7h2.4M208.4 285h2.4M208.4 286.5h2.4M208.4 288.1h2.4M208.4 289.9h2.4M208.4 290.2h2.4M208.4 290.8h2.4M208.4 290.9h2.4M208.4 291.9h2.4M208.4 292.3h2.4M208.4 292.7h2.4M208.4 293.2h2.4M208.4 293.3h2.4M208.4 296.1h2.4M208.4 298.3h2.4M208.4 299.5h2.4M208.4 300.5h2.4M208.4 301.3h2.4M208.4 301.4h2.4M208.4 302.5h2.4M208.4 303.2h2.4M208.4 304.5h2.4M208.4 305.7h2.4M208.4 306.2h2.4M208.4 306.8h2.4M208.4 307.1h2.4M208.4 307.3h2.4M208.4 307.8h2.4M208.4 308h2.4M208.4 308.4h2.4M208.4 308.5h2.4M208.4 309.9h2.4M208.4 310.5h2.4M208.4 312h2.4M208.4 312.5h2.4M208.4 313.3h2.4M208.4 313.7h2.4M208.4 314h2.4M208.4 315.8h2.4M208.4 316.3h2.4M208.4 317.7h2.4M208.4 319.1h2.4M208.4 319.9h2.4M208.4 322.7h2.4M208.4 322.8h2.4M208.4 323.3h2.4M208.4 323.9h2.4M208.4 325.8h2.4M208.4 326.7h2.4M208.4 326.9h2.4M208.4 328.1h2.4M208.4 328.9h2.4M208.4 330.4h2.4M208.4 331.1h2.4M208.4 332.4h2.4M208.4 332.6h2.4M208.4 332.9h2.4M208.4 333.1h2.4M208.4 333.9h2.4M208.4 337h2.4M208.4 337.4h2.4M208.4 337.6h2.4M208.4 338h2.4M208.4 338.5h2.4M208.4 338.7h2.4M208.4 338.8h2.4M208.4 340.7h2.4M208.4 340.9h2.4M208.4 342.1h2.4M208.4 343.7h2.4M208.4 345.3h2.4M208.4 346.4h2.4M208.4 346.6h2.4M208.4 346.8h2.4M208.4 347.1h2.4M208.4 347.8h2.4M208.4 348.3h2.4M208.4 348.7h2.4M208.4 348.9h2.4M208.4 349h2.4M208.4 349.7h2.4M208.4 349.8h2.4M208.4 350h2.4M211.6 279h2.4M211.6 281.6h2.4M211.6 282.7h2.4M211.6 283.1h2.4M211.6 283.3h2.4M211.6 284.1h2.4M211.6 286.6h2.4M211.6 288.3h2.4M211.6 288.6h2.4M211.6 289.3h2.4M211.6 289.5h2.4M211.6 291.9h2.4M211.6 292h2.4M211.6 292.7h2.4M211.6 293.1h2.4M211.6 294.2h2.4M211.6 297.8h2.4M211.6 297.9h2.4M211.6 298.1h2.4M211.6 298.9h2.4M211.6 299.6h2.4M211.6 300h2.4M211.6 301.3h2.4M211.6 302h2.4M211.6 302.6h2.4M211.6 302.7h2.4M211.6 304.3h2.4M211.6 305.3h2.4M211.6 305.4h2.4M211.6 305.8h2.4M211.6 305.9h2.4M211.6 306.1h2.4M211.6 306.6h2.4M211.6 306.7h2.4M211.6 306.8h2.4M211.6 308.8h2.4M211.6 308.9h2.4M211.6 311.1h2.4M211.6 311.3h2.4M211.6 311.8h2.4M211.6 312.1h2.4M211.6 312.7h2.4M211.6 313.5h2.4M211.6 313.9h2.4M211.6 315.5h2.4M211.6 317.2h2.4M211.6 318h2.4M211.6 320.1h2.4M211.6 321.3h2.4M211.6 321.5h2.4M211.6 321.7h2.4M211.6 322.7h2.4M211.6 324.3h2.4M211.6 324.7h2.4M211.6 325.2h2.4M211.6 326.2h2.4M211.6 327.5h2.4M211.6 328.1h2.4M211.6 328.3h2.4M211.6 329.2h2.4M211.6 329.3h2.4M211.6 330.9h2.4M211.6 331.4h2.4M211.6 331.8h2.4M211.6 334.7h2.4M211.6 336.5h2.4M211.6 336.7h2.4M211.6 336.9h2.4M211.6 337.2h2.4M211.6 337.8h2.4M211.6 338.3h2.4M211.6 339.7h2.4M211.6 341.4h2.4M211.6 341.9h2.4M211.6 343.6h2.4M211.6 345h2.4M211.6 345.2h2.4M211.6 345.8h2.4M211.6 346.4h2.4M211.6 346.6h2.4M211.6 347h2.4M211.6 347.5h2.4M211.6 347.6h2.4M211.6 348.3h2.4M211.6 348.4h2.4M211.6 348.6h2.4M211.6 349.4h2.4M211.6 349.5h2.4M214.8 280.6h2.4M214.8 280.8h2.4M214.8 281.6h2.4M214.8 281.7h2.4M214.8 282.2h2.4M214.8 284.6h2.4M214.8 285.6h2.4M214.8 287h2.4M214.8 287.1h2.4M214.8 287.9h2.4M214.8 288h2.4M214.8 289.3h2.4M214.8 290.2h2.4M214.8 290.5h2.4M214.8 291.6h2.4M214.8 292.2h2.4M214.8 294.4h2.4M214.8 295.1h2.4M214.8 296h2.4M214.8 296.5h2.4M214.8 297.2h2.4M214.8 298.3h2.4M214.8 299.1h2.4M214.8 299.3h2.4M214.8 300.8h2.4M214.8 301.2h2.4M214.8 302.6h2.4M214.8 303.5h2.4M214.8 303.6h2.4M214.8 303.9h2.4M214.8 304.1h2.4M214.8 304.3h2.4M214.8 304.4h2.4M214.8 304.7h2.4M214.8 304.9h2.4M214.8 305.4h2.4M214.8 306.4h2.4M214.8 307.2h2.4M214.8 309.1h2.4M214.8 309.4h2.4M214.8 309.7h2.4M214.8 309.9h2.4M214.8 310.1h2.4M214.8 310.8h2.4M214.8 312.1h2.4M214.8 313.6h2.4M214.8 314.8h2.4M214.8 316.7h2.4M214.8 318.5h2.4M214.8 319.5h2.4M214.8 319.9h2.4M214.8 320.6h2.4M214.8 320.8h2.4M214.8 322.1h2.4M214.8 322.5h2.4M214.8 324h2.4M214.8 324.9h2.4M214.8 325h2.4M214.8 326.4h2.4M214.8 327.6h2.4M214.8 328h2.4M214.8 328.1h2.4M214.8 328.4h2.4M214.8 329.8h2.4M214.8 330h2.4M214.8 330.8h2.4M214.8 330.9h2.4M214.8 334.2h2.4M214.8 334.6h2.4M214.8 334.7h2.4M214.8 336h2.4M214.8 336.6h2.4M214.8 337.1h2.4M214.8 338.5h2.4M214.8 340.3h2.4M214.8 341h2.4M214.8 341.4h2.4M214.8 341.7h2.4M214.8 342.1h2.4M214.8 344.4h2.4M214.8 345.3h2.4M214.8 345.5h2.4M214.8 345.8h2.4M214.8 346.2h2.4M214.8 346.9h2.4M214.8 347.4h2.4M214.8 348.1h2.4M214.8 348.5h2.4M214.8 348.7h2.4M214.8 349.2h2.4M214.8 349.9h2.4M218 276.7h2.4M218 278.6h2.4M218 279.8h2.4M218 280.4h2.4M218 280.8h2.4M218 283.2h2.4M218 284.2h2.4M218 284.8h2.4M218 286.3h2.4M218 287h2.4M218 288.3h2.4M218 288.6h2.4M218 289.5h2.4M218 290h2.4M218 290.4h2.4M218 291.5h2.4M218 292.9h2.4M218 293.9h2.4M218 294.5h2.4M218 295.2h2.4M218 295.7h2.4M218 296.9h2.4M218 297.1h2.4M218 298.1h2.4M218 299h2.4M218 299.4h2.4M218 299.5h2.4M218 300.3h2.4M218 300.8h2.4M218 301.4h2.4M218 302.1h2.4M218 302.3h2.4M218 302.5h2.4M218 303h2.4M218 303.2h2.4M218 303.8h2.4M218 304.3h2.4M218 304.9h2.4M218 305h2.4M218 307h2.4M218 307.8h2.4M218 308.1h2.4M218 309h2.4M218 309.1h2.4M218 309.9h2.4M218 311h2.4M218 311.5h2.4M218 313.6h2.4M218 316.9h2.4M218 317.4h2.4M218 318.3h2.4M218 318.6h2.4M218 318.7h2.4M218 319.9h2.4M218 320h2.4M218 322.3h2.4M218 323.4h2.4M218 323.5h2.4M218 324.1h2.4M218 325.3h2.4M218 326.3h2.4M218 326.7h2.4M218 326.8h2.4M218 327.9h2.4M218 328.4h2.4M218 328.9h2.4M218 330.2h2.4M218 332.1h2.4M218 332.7h2.4M218 333.5h2.4M218 334.3h2.4M218 336h2.4M218 336.5h2.4M218 336.8h2.4M218 337.3h2.4M218 338.4h2.4M218 340.6h2.4M218 341.1h2.4M218 341.9h2.4M218 344.4h2.4M218 345.1h2.4M218 345.6h2.4M218 346h2.4M218 346.2h2.4M218 346.9h2.4M218 347h2.4M218 347.1h2.4M218 347.4h2.4M218 347.8h2.4M218 347.9h2.4M218 349h2.4M218 350.4h2.4M221.2 274.5h2.4M221.2 275.2h2.4M221.2 275.4h2.4M221.2 278.3h2.4M221.2 278.6h2.4M221.2 278.7h2.4M221.2 279.8h2.4M221.2 281.6h2.4M221.2 282h2.4M221.2 282.1h2.4M221.2 283.2h2.4M221.2 284.3h2.4M221.2 284.8h2.4M221.2 286.5h2.4M221.2 287.1h2.4M221.2 287.6h2.4M221.2 288.1h2.4M221.2 288.2h2.4M221.2 289.6h2.4M221.2 291.1h2.4M221.2 291.4h2.4M221.2 291.5h2.4M221.2 293.3h2.4M221.2 293.5h2.4M221.2 293.9h2.4M221.2 294.4h2.4M221.2 294.6h2.4M221.2 295.1h2.4M221.2 297.5h2.4M221.2 297.7h2.4M221.2 297.8h2.4M221.2 297.9h2.4M221.2 299.6h2.4M221.2 300h2.4M221.2 300.3h2.4M221.2 300.4h2.4M221.2 300.7h2.4M221.2 301.3h2.4M221.2 301.6h2.4M221.2 301.8h2.4M221.2 303.6h2.4M221.2 303.7h2.4M221.2 304.8h2.4M221.2 306h2.4M221.2 306.1h2.4M221.2 306.8h2.4M221.2 307.7h2.4M221.2 308.7h2.4M221.2 308.8h2.4M221.2 310.9h2.4M221.2 311.9h2.4M221.2 316h2.4M221.2 316.1h2.4M221.2 316.3h2.4M221.2 317.2h2.4M221.2 317.4h2.4M221.2 318.5h2.4M221.2 321h2.4M221.2 322.5h2.4M221.2 323.8h2.4M221.2 324.2h2.4M221.2 324.3h2.4M221.2 324.5h2.4M221.2 324.6h2.4M221.2 324.7h2.4M221.2 326.2h2.4M221.2 327.4h2.4M221.2 328h2.4M221.2 329.9h2.4M221.2 330.9h2.4M221.2 331h2.4M221.2 333.4h2.4M221.2 335.8h2.4M221.2 336h2.4M221.2 336.1h2.4M221.2 337h2.4M221.2 338.2h2.4M221.2 340h2.4M221.2 340.5h2.4M221.2 340.9h2.4M221.2 342.2h2.4M221.2 343.9h2.4M221.2 345h2.4M221.2 345.4h2.4M221.2 345.7h2.4M221.2 346h2.4M221.2 346.3h2.4M221.2 347h2.4M221.2 347.1h2.4M221.2 348.1h2.4M221.2 348.6h2.4M224.4 271.1h2.4M224.4 272.8h2.4M224.4 277h2.4M224.4 278.6h2.4M224.4 279.5h2.4M224.4 279.7h2.4M224.4 281.1h2.4M224.4 282.6h2.4M224.4 282.8h2.4M224.4 283.7h2.4M224.4 284.2h2.4M224.4 285.1h2.4M224.4 285.6h2.4M224.4 286.1h2.4M224.4 288.2h2.4M224.4 289.2h2.4M224.4 289.8h2.4M224.4 289.9h2.4M224.4 290h2.4M224.4 291.5h2.4M224.4 292.3h2.4M224.4 292.4h2.4M224.4 292.9h2.4M224.4 294.1h2.4M224.4 294.4h2.4M224.4 295.1h2.4M224.4 295.4h2.4M224.4 296h2.4M224.4 298h2.4M224.4 298.1h2.4M224.4 298.6h2.4M224.4 298.8h2.4M224.4 299.8h2.4M224.4 300.1h2.4M224.4 300.2h2.4M224.4 300.4h2.4M224.4 301.8h2.4M224.4 302.8h2.4M224.4 303.2h2.4M224.4 304.5h2.4M224.4 305.7h2.4M224.4 306.2h2.4M224.4 306.9h2.4M224.4 307.4h2.4M224.4 308.2h2.4M224.4 309.2h2.4M224.4 312.8h2.4M224.4 312.9h2.4M224.4 313.4h2.4M224.4 314.4h2.4M224.4 315.6h2.4M224.4 316.4h2.4M224.4 318.3h2.4M224.4 319h2.4M224.4 319.5h2.4M224.4 319.9h2.4M224.4 320.6h2.4M224.4 321.9h2.4M224.4 322h2.4M224.4 322.2h2.4M224.4 323h2.4M224.4 323.1h2.4M224.4 325.2h2.4M224.4 325.7h2.4M224.4 326.4h2.4M224.4 327.8h2.4M224.4 328.5h2.4M224.4 330.9h2.4M224.4 332.1h2.4M224.4 332.8h2.4M224.4 333.1h2.4M224.4 334.2h2.4M224.4 334.5h2.4M224.4 336.4h2.4M224.4 336.8h2.4M224.4 338.1h2.4M224.4 338.2h2.4M224.4 338.3h2.4M224.4 339.6h2.4M224.4 340.8h2.4M224.4 341.4h2.4M224.4 342h2.4M224.4 342.3h2.4M224.4 342.7h2.4M224.4 343h2.4M224.4 344.3h2.4M224.4 345.3h2.4M224.4 346.9h2.4M224.4 347.2h2.4M224.4 347.9h2.4M227.6 269h2.4M227.6 270.3h2.4M227.6 271.1h2.4M227.6 274h2.4M227.6 274.8h2.4M227.6 275h2.4M227.6 275.4h2.4M227.6 276.9h2.4M227.6 277.1h2.4M227.6 278h2.4M227.6 278.3h2.4M227.6 280.2h2.4M227.6 280.8h2.4M227.6 281h2.4M227.6 281.7h2.4M227.6 282.4h2.4M227.6 283.7h2.4M227.6 284.1h2.4M227.6 286.1h2.4M227.6 286.9h2.4M227.6 287h2.4M227.6 287.1h2.4M227.6 288h2.4M227.6 290.2h2.4M227.6 290.4h2.4M227.6 290.6h2.4M227.6 290.8h2.4M227.6 291.9h2.4M227.6 292.3h2.4M227.6 292.5h2.4M227.6 293.4h2.4M227.6 293.9h2.4M227.6 295.3h2.4M227.6 295.5h2.4M227.6 295.9h2.4M227.6 296.5h2.4M227.6 296.8h2.4M227.6 297.1h2.4M227.6 297.8h2.4M227.6 297.9h2.4M227.6 298.1h2.4M227.6 298.2h2.4M227.6 299h2.4M227.6 299.7h2.4M227.6 300.4h2.4M227.6 300.9h2.4M227.6 301.4h2.4M227.6 303.2h2.4M227.6 303.8h2.4M227.6 305.1h2.4M227.6 305.2h2.4M227.6 305.7h2.4M227.6 306.2h2.4M227.6 310.3h2.4M227.6 310.4h2.4M227.6 311h2.4M227.6 311.1h2.4M227.6 312.6h2.4M227.6 312.8h2.4M227.6 314.3h2.4M227.6 314.8h2.4M227.6 316h2.4M227.6 316.5h2.4M227.6 317.1h2.4M227.6 317.5h2.4M227.6 319.5h2.4M227.6 319.7h2.4M227.6 319.9h2.4M227.6 320.2h2.4M227.6 320.3h2.4M227.6 322.1h2.4M227.6 322.6h2.4M227.6 322.7h2.4M227.6 323.4h2.4M227.6 326.1h2.4M227.6 327.9h2.4M227.6 329.2h2.4M227.6 329.7h2.4M227.6 329.9h2.4M227.6 331h2.4M227.6 331.6h2.4M227.6 331.7h2.4M227.6 332.7h2.4M227.6 333.6h2.4M227.6 334.3h2.4M227.6 335.1h2.4M227.6 337.6h2.4M227.6 338h2.4M227.6 338.5h2.4M227.6 338.7h2.4M227.6 339h2.4M227.6 339.2h2.4M227.6 340.7h2.4M227.6 341h2.4M227.6 344.3h2.4M227.6 345.3h2.4M227.6 346.4h2.4M230.7 267.2h2.4M230.7 272.9h2.4M230.7 273.4h2.4M230.7 274.7h2.4M230.7 274.9h2.4M230.7 275.2h2.4M230.7 277h2.4M230.7 277.6h2.4M230.7 278h2.4M230.7 279.3h2.4M230.7 279.8h2.4M230.7 280.9h2.4M230.7 281h2.4M230.7 283.7h2.4M230.7 284h2.4M230.7 284.9h2.4M230.7 285.4h2.4M230.7 286.3h2.4M230.7 287.7h2.4M230.7 288.2h2.4M230.7 288.3h2.4M230.7 289.4h2.4M230.7 290.1h2.4M230.7 290.2h2.4M230.7 290.4h2.4M230.7 291.1h2.4M230.7 291.8h2.4M230.7 292.9h2.4M230.7 293.2h2.4M230.7 294.3h2.4M230.7 294.4h2.4M230.7 294.9h2.4M230.7 295.3h2.4M230.7 296.1h2.4M230.7 296.4h2.4M230.7 296.9h2.4M230.7 297.3h2.4M230.7 297.6h2.4M230.7 298.6h2.4M230.7 299.3h2.4M230.7 299.6h2.4M230.7 299.8h2.4M230.7 301.5h2.4M230.7 302.2h2.4M230.7 302.6h2.4M230.7 304h2.4M230.7 304.3h2.4M230.7 304.6h2.4M230.7 306.5h2.4M230.7 308.3h2.4M230.7 308.5h2.4M230.7 310.6h2.4M230.7 310.9h2.4M230.7 311.1h2.4M230.7 312.4h2.4M230.7 313.2h2.4M230.7 314h2.4M230.7 315.2h2.4M230.7 315.3h2.4M230.7 315.8h2.4M230.7 316.4h2.4M230.7 316.6h2.4M230.7 316.7h2.4M230.7 318.6h2.4M230.7 318.9h2.4M230.7 319.8h2.4M230.7 320.2h2.4M230.7 320.3h2.4M230.7 323.4h2.4M230.7 324.9h2.4M230.7 325.2h2.4M230.7 326.1h2.4M230.7 327.3h2.4M230.7 327.6h2.4M230.7 328.1h2.4M230.7 329.6h2.4M230.7 330.2h2.4M230.7 330.5h2.4M230.7 331h2.4M230.7 331.5h2.4M230.7 332.8h2.4M230.7 333h2.4M230.7 333.5h2.4M230.7 334.5h2.4M230.7 335h2.4M230.7 335.4h2.4M230.7 337.1h2.4M230.7 337.9h2.4M230.7 341.3h2.4M230.7 343.4h2.4M230.7 344.3h2.4M230.7 350.3h2.4M233.9 268.1h2.4M233.9 269.4h2.4M233.9 270.4h2.4M233.9 271.1h2.4M233.9 272.1h2.4M233.9 272.5h2.4M233.9 273.1h2.4M233.9 274.4h2.4M233.9 274.5h2.4M233.9 274.9h2.4M233.9 275.5h2.4M233.9 277.5h2.4M233.9 278.2h2.4M233.9 279.3h2.4M233.9 279.9h2.4M233.9 281.1h2.4M233.9 281.2h2.4M233.9 281.7h2.4M233.9 283h2.4M233.9 283.3h2.4M233.9 285.3h2.4M233.9 286.7h2.4M233.9 286.9h2.4M233.9 287.5h2.4M233.9 288.2h2.4M233.9 288.4h2.4M233.9 288.7h2.4M233.9 288.8h2.4M233.9 291.8h2.4M233.9 291.9h2.4M233.9 292.1h2.4M233.9 292.7h2.4M233.9 292.9h2.4M233.9 293h2.4M233.9 293.3h2.4M233.9 293.6h2.4M233.9 294.6h2.4M233.9 294.9h2.4M233.9 295.8h2.4M233.9 296.4h2.4M233.9 296.5h2.4M233.9 297h2.4M233.9 299.5h2.4M233.9 299.9h2.4M233.9 300h2.4M233.9 300.6h2.4M233.9 301.9h2.4M233.9 302.2h2.4M233.9 302.7h2.4M233.9 305.4h2.4M233.9 306h2.4M233.9 306.5h2.4M233.9 307.4h2.4M233.9 307.9h2.4M233.9 308h2.4M233.9 308.5h2.4M233.9 310.8h2.4M233.9 311.6h2.4M233.9 311.7h2.4M233.9 313.3h2.4M233.9 313.8h2.4M233.9 313.9h2.4M233.9 314.3h2.4M233.9 314.6h2.4M233.9 315.3h2.4M233.9 316.1h2.4M233.9 316.3h2.4M233.9 317.2h2.4M233.9 318.2h2.4M233.9 318.6h2.4M233.9 319.3h2.4M233.9 321.9h2.4M233.9 322h2.4M233.9 322.3h2.4M233.9 322.4h2.4M233.9 323.9h2.4M233.9 325.3h2.4M233.9 326h2.4M233.9 327.2h2.4M233.9 327.5h2.4M233.9 329h2.4M233.9 329.1h2.4M233.9 329.2h2.4M233.9 329.4h2.4M233.9 331h2.4M233.9 331.6h2.4M233.9 331.9h2.4M233.9 332.3h2.4M233.9 332.4h2.4M233.9 332.9h2.4M233.9 334.3h2.4M233.9 335h2.4M233.9 338.5h2.4M233.9 342.1h2.4M233.9 342.9h2.4M233.9 350h2.4M237.1 264.3h2.4M237.1 265.6h2.4M237.1 265.9h2.4M237.1 267h2.4M237.1 267.2h2.4M237.1 267.9h2.4M237.1 269.4h2.4M237.1 270.8h2.4M237.1 271.5h2.4M237.1 271.7h2.4M237.1 272.7h2.4M237.1 272.9h2.4M237.1 273h2.4M237.1 275h2.4M237.1 276.2h2.4M237.1 277.4h2.4M237.1 277.6h2.4M237.1 278.5h2.4M237.1 279.6h2.4M237.1 280h2.4M237.1 281.5h2.4M237.1 282.8h2.4M237.1 283.3h2.4M237.1 284.2h2.4M237.1 284.6h2.4M237.1 286.1h2.4M237.1 286.4h2.4M237.1 286.6h2.4M237.1 286.7h2.4M237.1 289.8h2.4M237.1 290.2h2.4M237.1 290.4h2.4M237.1 290.5h2.4M237.1 290.6h2.4M237.1 291.5h2.4M237.1 291.7h2.4M237.1 292.8h2.4M237.1 293.1h2.4M237.1 293.4h2.4M237.1 294.6h2.4M237.1 295.4h2.4M237.1 295.6h2.4M237.1 296.1h2.4M237.1 297.8h2.4M237.1 297.9h2.4M237.1 298h2.4M237.1 299.5h2.4M237.1 300.6h2.4M237.1 300.7h2.4M237.1 301.4h2.4M237.1 302.7h2.4M237.1 304.1h2.4M237.1 305.5h2.4M237.1 305.8h2.4M237.1 306.3h2.4M237.1 306.9h2.4M237.1 309.9h2.4M237.1 310.1h2.4M237.1 310.5h2.4M237.1 311.8h2.4M237.1 311.9h2.4M237.1 312h2.4M237.1 312.2h2.4M237.1 313.6h2.4M237.1 313.9h2.4M237.1 314.2h2.4M237.1 314.6h2.4M237.1 316.1h2.4M237.1 316.7h2.4M237.1 318.7h2.4M237.1 320.3h2.4M237.1 320.4h2.4M237.1 320.9h2.4M237.1 321h2.4M237.1 322h2.4M237.1 322.8h2.4M237.1 324.1h2.4M237.1 325.5h2.4M237.1 326.2h2.4M237.1 326.9h2.4M237.1 327h2.4M237.1 327.8h2.4M237.1 328.3h2.4M237.1 328.9h2.4M237.1 329.3h2.4M237.1 330h2.4M237.1 330.9h2.4M237.1 331.5h2.4M237.1 333h2.4M237.1 333.1h2.4M237.1 338.1h2.4M237.1 340.6h2.4M237.1 343.1h2.4M237.1 351.1h2.4M240.3 264.2h2.4M240.3 264.5h2.4M240.3 265.2h2.4M240.3 265.7h2.4M240.3 268h2.4M240.3 269.1h2.4M240.3 270.5h2.4M240.3 270.6h2.4M240.3 270.8h2.4M240.3 271.2h2.4M240.3 271.6h2.4M240.3 273.8h2.4M240.3 274.5h2.4M240.3 276h2.4M240.3 276.1h2.4M240.3 277.2h2.4M240.3 278.4h2.4M240.3 280.4h2.4M240.3 281.2h2.4M240.3 282.3h2.4M240.3 283h2.4M240.3 283.1h2.4M240.3 283.8h2.4M240.3 285.1h2.4M240.3 285.2h2.4M240.3 285.6h2.4M240.3 286.5h2.4M240.3 288h2.4M240.3 288.5h2.4M240.3 288.9h2.4M240.3 289.1h2.4M240.3 289.2h2.4M240.3 289.8h2.4M240.3 289.9h2.4M240.3 291h2.4M240.3 291.4h2.4M240.3 291.9h2.4M240.3 292.4h2.4M240.3 293.7h2.4M240.3 294.4h2.4M240.3 294.8h2.4M240.3 294.9h2.4M240.3 295h2.4M240.3 295.7h2.4M240.3 297.5h2.4M240.3 297.7h2.4M240.3 300.3h2.4M240.3 300.6h2.4M240.3 300.7h2.4M240.3 302.1h2.4M240.3 302.2h2.4M240.3 304.2h2.4M240.3 305.3h2.4M240.3 305.9h2.4M240.3 306.1h2.4M240.3 307.7h2.4M240.3 308h2.4M240.3 309.4h2.4M240.3 310.1h2.4M240.3 310.4h2.4M240.3 311h2.4M240.3 311.3h2.4M240.3 311.5h2.4M240.3 312.4h2.4M240.3 313h2.4M240.3 315.3h2.4M240.3 315.5h2.4M240.3 315.7h2.4M240.3 317.9h2.4M240.3 318.7h2.4M240.3 318.9h2.4M240.3 319h2.4M240.3 319.2h2.4M240.3 321.4h2.4M240.3 321.5h2.4M240.3 322h2.4M240.3 322.9h2.4M240.3 324.5h2.4M240.3 325.4h2.4M240.3 325.8h2.4M240.3 325.9h2.4M240.3 327.6h2.4M240.3 327.7h2.4M240.3 327.9h2.4M240.3 328.2h2.4M240.3 328.7h2.4M240.3 329.6h2.4M240.3 331.2h2.4M240.3 331.3h2.4M240.3 336.8h2.4M240.3 340h2.4M240.3 342.7h2.4M240.3 351h2.4M243.5 262.3h2.4M243.5 263.8h2.4M243.5 264.4h2.4M243.5 264.6h2.4M243.5 265.3h2.4M243.5 266.1h2.4M243.5 266.3h2.4M243.5 268.5h2.4M243.5 268.6h2.4M243.5 269.5h2.4M243.5 269.6h2.4M243.5 269.9h2.4M243.5 270.4h2.4M243.5 272.7h2.4M243.5 273.7h2.4M243.5 274.1h2.4M243.5 274.2h2.4M243.5 276.4h2.4M243.5 277.4h2.4M243.5 278h2.4M243.5 278.9h2.4M243.5 280h2.4M243.5 280.2h2.4M243.5 281.5h2.4M243.5 282.2h2.4M243.5 282.7h2.4M243.5 283.7h2.4M243.5 283.9h2.4M243.5 285.1h2.4M243.5 285.4h2.4M243.5 285.6h2.4M243.5 285.8h2.4M243.5 286.9h2.4M243.5 287.4h2.4M243.5 287.8h2.4M243.5 287.9h2.4M243.5 289.1h2.4M243.5 290.3h2.4M243.5 290.7h2.4M243.5 291.7h2.4M243.5 293h2.4M243.5 293.4h2.4M243.5 293.6h2.4M243.5 293.7h2.4M243.5 294h2.4M243.5 294.4h2.4M243.5 294.6h2.4M243.5 295.6h2.4M243.5 297.2h2.4M243.5 297.9h2.4M243.5 299.9h2.4M243.5 300.3h2.4M243.5 301.6h2.4M243.5 302.3h2.4M243.5 302.9h2.4M243.5 303.2h2.4M243.5 303.9h2.4M243.5 304.6h2.4M243.5 305.1h2.4M243.5 305.8h2.4M243.5 306.3h2.4M243.5 307.2h2.4M243.5 307.6h2.4M243.5 309.1h2.4M243.5 309.3h2.4M243.5 309.4h2.4M243.5 309.7h2.4M243.5 310.3h2.4M243.5 311h2.4M243.5 312.1h2.4M243.5 313.4h2.4M243.5 315.2h2.4M243.5 315.6h2.4M243.5 316.8h2.4M243.5 317.7h2.4M243.5 318.2h2.4M243.5 319.2h2.4M243.5 320h2.4M243.5 320.8h2.4M243.5 321.3h2.4M243.5 321.8h2.4M243.5 322.5h2.4M243.5 323.1h2.4M243.5 323.4h2.4M243.5 324h2.4M243.5 324.9h2.4M243.5 325.6h2.4M243.5 326h2.4M243.5 326.5h2.4M243.5 327.1h2.4M243.5 327.3h2.4M243.5 327.6h2.4M243.5 329.6h2.4M243.5 330.5h2.4M243.5 331.1h2.4M243.5 337.1h2.4M243.5 338.7h2.4M243.5 342.5h2.4M243.5 351.2h2.4M246.7 258.6h2.4M246.7 260.5h2.4M246.7 261.6h2.4M246.7 262.9h2.4M246.7 264.4h2.4M246.7 265.1h2.4M246.7 267.3h2.4M246.7 268.5h2.4M246.7 269h2.4M246.7 269.4h2.4M246.7 270.1h2.4M246.7 272.2h2.4M246.7 272.5h2.4M246.7 273.4h2.4M246.7 273.5h2.4M246.7 275.2h2.4M246.7 276.6h2.4M246.7 276.8h2.4M246.7 277h2.4M246.7 278.5h2.4M246.7 279.9h2.4M246.7 280.9h2.4M246.7 281h2.4M246.7 281.8h2.4M246.7 282.9h2.4M246.7 283.2h2.4M246.7 283.3h2.4M246.7 284.3h2.4M246.7 284.5h2.4M246.7 284.7h2.4M246.7 286.2h2.4M246.7 286.5h2.4M246.7 287.1h2.4M246.7 287.4h2.4M246.7 288h2.4M246.7 288.5h2.4M246.7 288.9h2.4M246.7 289.2h2.4M246.7 290.3h2.4M246.7 291h2.4M246.7 291.1h2.4M246.7 291.6h2.4M246.7 292.3h2.4M246.7 292.4h2.4M246.7 292.5h2.4M246.7 294.1h2.4M246.7 295.6h2.4M246.7 295.7h2.4M246.7 296.1h2.4M246.7 299h2.4M246.7 300.3h2.4M246.7 300.5h2.4M246.7 300.9h2.4M246.7 301.8h2.4M246.7 302.9h2.4M246.7 303.2h2.4M246.7 303.8h2.4M246.7 304.1h2.4M246.7 304.6h2.4M246.7 304.9h2.4M246.7 305.3h2.4M246.7 306.6h2.4M246.7 307.5h2.4M246.7 307.8h2.4M246.7 308.3h2.4M246.7 308.6h2.4M246.7 309.4h2.4M246.7 310.4h2.4M246.7 310.8h2.4M246.7 310.9h2.4M246.7 313.6h2.4M246.7 314.3h2.4M246.7 314.8h2.4M246.7 315.7h2.4M246.7 316h2.4M246.7 316.8h2.4M246.7 317.5h2.4M246.7 318.4h2.4M246.7 318.7h2.4M246.7 318.9h2.4M246.7 319.2h2.4M246.7 321.2h2.4M246.7 321.3h2.4M246.7 322.2h2.4M246.7 322.7h2.4M246.7 323.1h2.4M246.7 323.4h2.4M246.7 325.4h2.4M246.7 325.8h2.4M246.7 325.9h2.4M246.7 326.2h2.4M246.7 326.7h2.4M246.7 328.6h2.4M246.7 329.5h2.4M246.7 329.8h2.4M246.7 337.5h2.4M246.7 338.6h2.4M246.7 343.3h2.4M246.7 349.8h2.4M249.9 259.9h2.4M249.9 261.9h2.4M249.9 262.2h2.4M249.9 263.5h2.4M249.9 264.9h2.4M249.9 265.5h2.4M249.9 266.8h2.4M249.9 268.8h2.4M249.9 269.4h2.4M249.9 269.5h2.4M249.9 269.6h2.4M249.9 270.6h2.4M249.9 271.2h2.4M249.9 271.7h2.4M249.9 272.6h2.4M249.9 274h2.4M249.9 274.7h2.4M249.9 276.3h2.4M249.9 276.6h2.4M249.9 278.1h2.4M249.9 279.4h2.4M249.9 279.8h2.4M249.9 280.8h2.4M249.9 281.4h2.4M249.9 282h2.4M249.9 282.1h2.4M249.9 284.1h2.4M249.9 284.3h2.4M249.9 285.7h2.4M249.9 285.8h2.4M249.9 286.2h2.4M249.9 286.8h2.4M249.9 287h2.4M249.9 287.5h2.4M249.9 288h2.4M249.9 288.3h2.4M249.9 288.6h2.4M249.9 289.5h2.4M249.9 290.3h2.4M249.9 290.5h2.4M249.9 290.8h2.4M249.9 291h2.4M249.9 291.1h2.4M249.9 292.6h2.4M249.9 293.1h2.4M249.9 293.5h2.4M249.9 294.2h2.4M249.9 295.9h2.4M249.9 296.3h2.4M249.9 297.5h2.4M249.9 300.9h2.4M249.9 301h2.4M249.9 301.4h2.4M249.9 301.6h2.4M249.9 301.8h2.4M249.9 302.6h2.4M249.9 302.7h2.4M249.9 303.4h2.4M249.9 303.8h2.4M249.9 304h2.4M249.9 304.8h2.4M249.9 306.6h2.4M249.9 307.1h2.4M249.9 307.2h2.4M249.9 308.1h2.4M249.9 309.5h2.4M249.9 309.9h2.4M249.9 310.3h2.4M249.9 312.6h2.4M249.9 312.8h2.4M249.9 313.4h2.4M249.9 313.5h2.4M249.9 313.9h2.4M249.9 315.6h2.4M249.9 316.3h2.4M249.9 316.5h2.4M249.9 316.6h2.4M249.9 317.6h2.4M249.9 318h2.4M249.9 318.3h2.4M249.9 319.1h2.4M249.9 320.5h2.4M249.9 321h2.4M249.9 321.7h2.4M249.9 322.4h2.4M249.9 323.1h2.4M249.9 323.7h2.4M249.9 323.8h2.4M249.9 325h2.4M249.9 325.7h2.4M249.9 327.7h2.4M249.9 328h2.4M249.9 330.3h2.4M249.9 335.7h2.4M249.9 337.1h2.4M249.9 343.1h2.4M249.9 350.6h2.4M253.1 259.3h2.4M253.1 261.5h2.4M253.1 261.7h2.4M253.1 262h2.4M253.1 263.8h2.4M253.1 264.5h2.4M253.1 265.3h2.4M253.1 265.8h2.4M253.1 268.4h2.4M253.1 268.5h2.4M253.1 270.1h2.4M253.1 270.5h2.4M253.1 270.7h2.4M253.1 271.4h2.4M253.1 272.1h2.4M253.1 272.7h2.4M253.1 273.6h2.4M253.1 276.9h2.4M253.1 277h2.4M253.1 277.4h2.4M253.1 278.5h2.4M253.1 278.8h2.4M253.1 279h2.4M253.1 280.6h2.4M253.1 281.1h2.4M253.1 281.2h2.4M253.1 281.9h2.4M253.1 282.7h2.4M253.1 283.2h2.4M253.1 283.5h2.4M253.1 284.6h2.4M253.1 285.6h2.4M253.1 286.6h2.4M253.1 286.8h2.4M253.1 286.9h2.4M253.1 287.1h2.4M253.1 287.4h2.4M253.1 288h2.4M253.1 288.3h2.4M253.1 288.5h2.4M253.1 290.3h2.4M253.1 290.5h2.4M253.1 290.9h2.4M253.1 291.5h2.4M253.1 291.8h2.4M253.1 291.9h2.4M253.1 295.2h2.4M253.1 295.3h2.4M253.1 296h2.4M253.1 296.4h2.4M253.1 297h2.4M253.1 298.7h2.4M253.1 299.2h2.4M253.1 300.2h2.4M253.1 300.3h2.4M253.1 301.6h2.4M253.1 301.8h2.4M253.1 302.6h2.4M253.1 303h2.4M253.1 304.1h2.4M253.1 304.9h2.4M253.1 305.3h2.4M253.1 305.7h2.4M253.1 306.1h2.4M253.1 306.3h2.4M253.1 307.6h2.4M253.1 308.7h2.4M253.1 309.8h2.4M253.1 310h2.4M253.1 310.2h2.4M253.1 312h2.4M253.1 312.7h2.4M253.1 313.4h2.4M253.1 313.5h2.4M253.1 314.5h2.4M253.1 315.1h2.4M253.1 316h2.4M253.1 316.6h2.4M253.1 317h2.4M253.1 317.4h2.4M253.1 318.2h2.4M253.1 318.9h2.4M253.1 319h2.4M253.1 321.3h2.4M253.1 321.7h2.4M253.1 322.3h2.4M253.1 322.7h2.4M253.1 322.9h2.4M253.1 323.3h2.4M253.1 325h2.4M253.1 327.6h2.4M253.1 327.7h2.4M253.1 329.4h2.4M253.1 335.4h2.4M253.1 335.8h2.4M253.1 342.5h2.4M253.1 351.5h2.4M256.3 257.6h2.4M256.3 258h2.4M256.3 260.7h2.4M256.3 262h2.4M256.3 263.6h2.4M256.3 264h2.4M256.3 265h2.4M256.3 265.4h2.4M256.3 269h2.4M256.3 269.6h2.4M256.3 270.7h2.4M256.3 270.9h2.4M256.3 271h2.4M256.3 272.5h2.4M256.3 272.7h2.4M256.3 273h2.4M256.3 274.3h2.4M256.3 277.3h2.4M256.3 277.7h2.4M256.3 277.8h2.4M256.3 278.5h2.4M256.3 279.1h2.4M256.3 280.1h2.4M256.3 281h2.4M256.3 281.7h2.4M256.3 281.8h2.4M256.3 282.1h2.4M256.3 283.9h2.4M256.3 284.3h2.4M256.3 284.4h2.4M256.3 286.2h2.4M256.3 287.1h2.4M256.3 288h2.4M256.3 288.4h2.4M256.3 288.6h2.4M256.3 289h2.4M256.3 289.5h2.4M256.3 289.6h2.4M256.3 290.6h2.4M256.3 291h2.4M256.3 292.1h2.4M256.3 292.8h2.4M256.3 292.9h2.4M256.3 295.5h2.4M256.3 295.9h2.4M256.3 296.1h2.4M256.3 296.4h2.4M256.3 297.2h2.4M256.3 298.7h2.4M256.3 299.2h2.4M256.3 300.2h2.4M256.3 301.4h2.4M256.3 301.9h2.4M256.3 302.3h2.4M256.3 302.9h2.4M256.3 303.5h2.4M256.3 303.8h2.4M256.3 304h2.4M256.3 304.4h2.4M256.3 304.6h2.4M256.3 304.8h2.4M256.3 305.2h2.4M256.3 305.8h2.4M256.3 307.3h2.4M256.3 307.9h2.4M256.3 308.2h2.4M256.3 309h2.4M256.3 309.2h2.4M256.3 309.9h2.4M256.3 310.5h2.4M256.3 310.7h2.4M256.3 310.9h2.4M256.3 312h2.4M256.3 312.2h2.4M256.3 313h2.4M256.3 313.7h2.4M256.3 314.8h2.4M256.3 314.9h2.4M256.3 315h2.4M256.3 315.2h2.4M256.3 315.4h2.4M256.3 316.1h2.4M256.3 317.6h2.4M256.3 318.4h2.4M256.3 319.5h2.4M256.3 320.3h2.4M256.3 320.5h2.4M256.3 321h2.4M256.3 321.2h2.4M256.3 323.8h2.4M256.3 325.8h2.4M256.3 325.9h2.4M256.3 329.5h2.4M256.3 335.2h2.4M256.3 336.1h2.4M256.3 342h2.4M256.3 349.7h2.4M259.4 255.9h2.4M259.4 256.5h2.4M259.4 257.7h2.4M259.4 258.2h2.4M259.4 260.6h2.4M259.4 260.7h2.4M259.4 262h2.4M259.4 263.4h2.4M259.4 264.3h2.4M259.4 264.9h2.4M259.4 268.6h2.4M259.4 270.4h2.4M259.4 270.5h2.4M259.4 270.7h2.4M259.4 270.8h2.4M259.4 272.2h2.4M259.4 272.9h2.4M259.4 273.7h2.4M259.4 274.7h2.4M259.4 276.2h2.4M259.4 277.1h2.4M259.4 278.9h2.4M259.4 279.2h2.4M259.4 280.1h2.4M259.4 280.8h2.4M259.4 281.1h2.4M259.4 281.6h2.4M259.4 282.2h2.4M259.4 283h2.4M259.4 283.2h2.4M259.4 284.2h2.4M259.4 286.3h2.4M259.4 287.1h2.4M259.4 288h2.4M259.4 288.4h2.4M259.4 288.7h2.4M259.4 288.8h2.4M259.4 289.5h2.4M259.4 289.8h2.4M259.4 291.6h2.4M259.4 291.7h2.4M259.4 291.8h2.4M259.4 292.8h2.4M259.4 293.6h2.4M259.4 294.5h2.4M259.4 295.8h2.4M259.4 296.1h2.4M259.4 296.8h2.4M259.4 297.4h2.4M259.4 297.8h2.4M259.4 298.3h2.4M259.4 298.5h2.4M259.4 299.2h2.4M259.4 300.5h2.4M259.4 301.7h2.4M259.4 302.2h2.4M259.4 302.5h2.4M259.4 302.8h2.4M259.4 303.6h2.4M259.4 303.9h2.4M259.4 304.5h2.4M259.4 304.7h2.4M259.4 305.2h2.4M259.4 306h2.4M259.4 306.6h2.4M259.4 306.9h2.4M259.4 307.8h2.4M259.4 308.1h2.4M259.4 308.2h2.4M259.4 309.3h2.4M259.4 310h2.4M259.4 310.7h2.4M259.4 311.3h2.4M259.4 311.8h2.4M259.4 312.3h2.4M259.4 312.6h2.4M259.4 312.7h2.4M259.4 313.9h2.4M259.4 314.8h2.4M259.4 315.1h2.4M259.4 315.5h2.4M259.4 315.9h2.4M259.4 317.8h2.4M259.4 318.1h2.4M259.4 319h2.4M259.4 319.7h2.4M259.4 320h2.4M259.4 320.3h2.4M259.4 320.5h2.4M259.4 320.6h2.4M259.4 322.7h2.4M259.4 323.1h2.4M259.4 325.9h2.4M259.4 328h2.4M259.4 335.3h2.4M259.4 335.4h2.4M259.4 342.1h2.4M259.4 350.7h2.4M262.6 253.2h2.4M262.6 254.9h2.4M262.6 256h2.4M262.6 256.5h2.4M262.6 258.6h2.4M262.6 260.2h2.4M262.6 260.4h2.4M262.6 261.1h2.4M262.6 263.4h2.4M262.6 264.8h2.4M262.6 267.6h2.4M262.6 269.5h2.4M262.6 269.7h2.4M262.6 270.3h2.4M262.6 270.5h2.4M262.6 271.8h2.4M262.6 271.9h2.4M262.6 273.7h2.4M262.6 274.7h2.4M262.6 275.2h2.4M262.6 275.6h2.4M262.6 276h2.4M262.6 278.8h2.4M262.6 279.2h2.4M262.6 279.8h2.4M262.6 279.9h2.4M262.6 280.2h2.4M262.6 280.4h2.4M262.6 282.1h2.4M262.6 282.6h2.4M262.6 283.2h2.4M262.6 283.6h2.4M262.6 285.2h2.4M262.6 285.7h2.4M262.6 285.9h2.4M262.6 287.2h2.4M262.6 288.1h2.4M262.6 288.4h2.4M262.6 289.2h2.4M262.6 289.4h2.4M262.6 289.5h2.4M262.6 290.4h2.4M262.6 291.1h2.4M262.6 291.6h2.4M262.6 292h2.4M262.6 292.7h2.4M262.6 294.6h2.4M262.6 295h2.4M262.6 295.4h2.4M262.6 295.7h2.4M262.6 295.8h2.4M262.6 296.3h2.4M262.6 297.6h2.4M262.6 297.8h2.4M262.6 298.4h2.4M262.6 298.6h2.4M262.6 299.9h2.4M262.6 300.5h2.4M262.6 302.4h2.4M262.6 302.5h2.4M262.6 302.8h2.4M262.6 303h2.4M262.6 303.9h2.4M262.6 304.7h2.4M262.6 304.8h2.4M262.6 305.3h2.4M262.6 306.3h2.4M262.6 307.7h2.4M262.6 307.9h2.4M262.6 308h2.4M262.6 308.3h2.4M262.6 308.8h2.4M262.6 309.2h2.4M262.6 309.8h2.4M262.6 310.2h2.4M262.6 311h2.4M262.6 311.7h2.4M262.6 312.4h2.4M262.6 313.3h2.4M262.6 313.4h2.4M262.6 313.6h2.4M262.6 314.2h2.4M262.6 314.3h2.4M262.6 314.6h2.4M262.6 315.3h2.4M262.6 316.7h2.4M262.6 317.9h2.4M262.6 318.2h2.4M262.6 318.3h2.4M262.6 319h2.4M262.6 319.2h2.4M262.6 319.3h2.4M262.6 321.5h2.4M262.6 322.3h2.4M262.6 325.8h2.4M262.6 327.2h2.4M262.6 334.8h2.4M262.6 335.3h2.4M262.6 340.8h2.4M262.6 351h2.4M265.8 253.7h2.4M265.8 255.1h2.4M265.8 256.2h2.4M265.8 259.1h2.4M265.8 262h2.4M265.8 263.9h2.4M265.8 264h2.4M265.8 267h2.4M265.8 268.1h2.4M265.8 268.3h2.4M265.8 268.4h2.4M265.8 269.4h2.4M265.8 270.5h2.4M265.8 271.6h2.4M265.8 271.8h2.4M265.8 273h2.4M265.8 273.1h2.4M265.8 273.8h2.4M265.8 275h2.4M265.8 275.1h2.4M265.8 278.5h2.4M265.8 278.6h2.4M265.8 278.7h2.4M265.8 279.3h2.4M265.8 279.9h2.4M265.8 280.2h2.4M265.8 280.5h2.4M265.8 282h2.4M265.8 282.6h2.4M265.8 283.2h2.4M265.8 284.1h2.4M265.8 285.8h2.4M265.8 285.9h2.4M265.8 286.3h2.4M265.8 286.6h2.4M265.8 287.5h2.4M265.8 288.5h2.4M265.8 288.6h2.4M265.8 289.5h2.4M265.8 290.2h2.4M265.8 291.1h2.4M265.8 291.4h2.4M265.8 291.5h2.4M265.8 292.7h2.4M265.8 294.4h2.4M265.8 295.3h2.4M265.8 295.6h2.4M265.8 295.8h2.4M265.8 297.6h2.4M265.8 297.8h2.4M265.8 298.2h2.4M265.8 298.6h2.4M265.8 300h2.4M265.8 300.8h2.4M265.8 301.2h2.4M265.8 301.7h2.4M265.8 301.9h2.4M265.8 302.2h2.4M265.8 302.7h2.4M265.8 303.6h2.4M265.8 303.7h2.4M265.8 303.8h2.4M265.8 304.1h2.4M265.8 305.9h2.4M265.8 306.2h2.4M265.8 307.2h2.4M265.8 307.3h2.4M265.8 307.8h2.4M265.8 308.1h2.4M265.8 308.2h2.4M265.8 309.1h2.4M265.8 309.4h2.4M265.8 310.3h2.4M265.8 310.9h2.4M265.8 311.4h2.4M265.8 311.7h2.4M265.8 312.3h2.4M265.8 312.6h2.4M265.8 313.2h2.4M265.8 313.3h2.4M265.8 313.7h2.4M265.8 314.3h2.4M265.8 315.3h2.4M265.8 315.4h2.4M265.8 316.7h2.4M265.8 316.9h2.4M265.8 317.7h2.4M265.8 318h2.4M265.8 318.7h2.4M265.8 320.6h2.4M265.8 322.2h2.4M265.8 324.6h2.4M265.8 326.2h2.4M265.8 335h2.4M265.8 336.1h2.4M265.8 341.2h2.4M265.8 349.7h2.4M269 249.1h2.4M269 252.5h2.4M269 253.3h2.4M269 253.9h2.4M269 256.2h2.4M269 258.5h2.4M269 261.4h2.4M269 262.4h2.4M269 263.6h2.4M269 265h2.4M269 265.8h2.4M269 267.2h2.4M269 267.6h2.4M269 267.8h2.4M269 268.5h2.4M269 269.5h2.4M269 270.8h2.4M269 271.1h2.4M269 272.2h2.4M269 272.4h2.4M269 274h2.4M269 274.7h2.4M269 277.5h2.4M269 278.2h2.4M269 278.7h2.4M269 279h2.4M269 279.1h2.4M269 279.2h2.4M269 279.7h2.4M269 281.1h2.4M269 281.7h2.4M269 281.8h2.4M269 282.5h2.4M269 283.4h2.4M269 284.3h2.4M269 285.3h2.4M269 285.9h2.4M269 287.2h2.4M269 288.2h2.4M269 288.7h2.4M269 289.3h2.4M269 289.4h2.4M269 290.3h2.4M269 290.5h2.4M269 291.7h2.4M269 292.2h2.4M269 292.7h2.4M269 292.8h2.4M269 293.6h2.4M269 293.8h2.4M269 293.9h2.4M269 294.5h2.4M269 295.2h2.4M269 295.6h2.4M269 295.9h2.4M269 298.2h2.4M269 298.4h2.4M269 299.2h2.4M269 299.3h2.4M269 300.7h2.4M269 300.9h2.4M269 301.2h2.4M269 301.9h2.4M269 302.3h2.4M269 303.3h2.4M269 303.5h2.4M269 303.6h2.4M269 305.6h2.4M269 306h2.4M269 306.5h2.4M269 306.9h2.4M269 307.2h2.4M269 307.4h2.4M269 307.7h2.4M269 307.8h2.4M269 309h2.4M269 309.3h2.4M269 309.8h2.4M269 310.2h2.4M269 310.3h2.4M269 310.5h2.4M269 311.2h2.4M269 311.7h2.4M269 312.2h2.4M269 312.5h2.4M269 313.1h2.4M269 314.1h2.4M269 314.3h2.4M269 315h2.4M269 315.5h2.4M269 316.2h2.4M269 316.4h2.4M269 316.7h2.4M269 318.8h2.4M269 322.2h2.4M269 323.4h2.4M269 325.4h2.4M269 333h2.4M269 336.5h2.4M269 341h2.4M269 348.8h2.4M272.2 247.4h2.4M272.2 251.3h2.4M272.2 251.8h2.4M272.2 253.3h2.4M272.2 255.8h2.4M272.2 257.2h2.4M272.2 258.3h2.4M272.2 259.5h2.4M272.2 261.3h2.4M272.2 262.5h2.4M272.2 264.7h2.4M272.2 265.1h2.4M272.2 266.1h2.4M272.2 266.2h2.4M272.2 266.5h2.4M272.2 267.4h2.4M272.2 267.5h2.4M272.2 268.8h2.4M272.2 269.8h2.4M272.2 270.2h2.4M272.2 270.4h2.4M272.2 272.4h2.4M272.2 274.1h2.4M272.2 277.2h2.4M272.2 277.5h2.4M272.2 277.9h2.4M272.2 278h2.4M272.2 278.2h2.4M272.2 278.7h2.4M272.2 279.9h2.4M272.2 280.2h2.4M272.2 280.6h2.4M272.2 280.8h2.4M272.2 281h2.4M272.2 281.4h2.4M272.2 282.9h2.4M272.2 283h2.4M272.2 283.9h2.4M272.2 284.9h2.4M272.2 285h2.4M272.2 286.6h2.4M272.2 287.3h2.4M272.2 288.3h2.4M272.2 289h2.4M272.2 289.2h2.4M272.2 289.5h2.4M272.2 290h2.4M272.2 291.3h2.4M272.2 291.6h2.4M272.2 292.2h2.4M272.2 292.3h2.4M272.2 292.5h2.4M272.2 293h2.4M272.2 293.1h2.4M272.2 293.5h2.4M272.2 294.4h2.4M272.2 294.7h2.4M272.2 294.8h2.4M272.2 295.8h2.4M272.2 297.1h2.4M272.2 298.2h2.4M272.2 298.3h2.4M272.2 298.4h2.4M272.2 299.5h2.4M272.2 299.7h2.4M272.2 300.6h2.4M272.2 301.3h2.4M272.2 301.4h2.4M272.2 301.7h2.4M272.2 301.8h2.4M272.2 301.9h2.4M272.2 302.7h2.4M272.2 304.5h2.4M272.2 304.9h2.4M272.2 305.4h2.4M272.2 305.9h2.4M272.2 306.1h2.4M272.2 306.4h2.4M272.2 306.5h2.4M272.2 307.2h2.4M272.2 308h2.4M272.2 308.4h2.4M272.2 309.1h2.4M272.2 309.2h2.4M272.2 310.4h2.4M272.2 310.7h2.4M272.2 310.9h2.4M272.2 311h2.4M272.2 312.2h2.4M272.2 313.3h2.4M272.2 314h2.4M272.2 314.5h2.4M272.2 314.7h2.4M272.2 315.1h2.4M272.2 315.2h2.4M272.2 315.3h2.4M272.2 317.9h2.4M272.2 319.9h2.4M272.2 321.1h2.4M272.2 325h2.4M272.2 331.4h2.4M272.2 335.5h2.4M272.2 340.8h2.4M272.2 344.9h2.4M275.4 249.1h2.4M275.4 249.7h2.4M275.4 255.2h2.4M275.4 255.3h2.4M275.4 256.4h2.4M275.4 257.1h2.4M275.4 259h2.4M275.4 259.2h2.4M275.4 259.6h2.4M275.4 260h2.4M275.4 262.1h2.4M275.4 262.7h2.4M275.4 262.8h2.4M275.4 263.2h2.4M275.4 264h2.4M275.4 264.3h2.4M275.4 265.3h2.4M275.4 267.3h2.4M275.4 267.6h2.4M275.4 267.9h2.4M275.4 268.1h2.4M275.4 269.1h2.4M275.4 271.9h2.4M275.4 272.1h2.4M275.4 274.5h2.4M275.4 275.3h2.4M275.4 275.4h2.4M275.4 275.7h2.4M275.4 276.5h2.4M275.4 277.5h2.4M275.4 277.9h2.4M275.4 278.3h2.4M275.4 279.1h2.4M275.4 279.2h2.4M275.4 280.5h2.4M275.4 280.7h2.4M275.4 281.2h2.4M275.4 281.4h2.4M275.4 282.5h2.4M275.4 283.7h2.4M275.4 283.8h2.4M275.4 283.9h2.4M275.4 284.5h2.4M275.4 285.3h2.4M275.4 286.9h2.4M275.4 287.2h2.4M275.4 288.8h2.4M275.4 289.4h2.4M275.4 289.8h2.4M275.4 290.3h2.4M275.4 290.7h2.4M275.4 290.8h2.4M275.4 290.9h2.4M275.4 291.7h2.4M275.4 292h2.4M275.4 292.8h2.4M275.4 293.1h2.4M275.4 293.6h2.4M275.4 294.2h2.4M275.4 295.2h2.4M275.4 296.4h2.4M275.4 296.5h2.4M275.4 298.1h2.4M275.4 298.2h2.4M275.4 298.4h2.4M275.4 299.6h2.4M275.4 300.2h2.4M275.4 300.5h2.4M275.4 300.6h2.4M275.4 301.4h2.4M275.4 302.1h2.4M275.4 303.1h2.4M275.4 303.5h2.4M275.4 303.8h2.4M275.4 304.9h2.4M275.4 305.1h2.4M275.4 305.9h2.4M275.4 306h2.4M275.4 307.3h2.4M275.4 307.4h2.4M275.4 307.5h2.4M275.4 307.9h2.4M275.4 308.3h2.4M275.4 308.5h2.4M275.4 308.8h2.4M275.4 309h2.4M275.4 309.5h2.4M275.4 311.1h2.4M275.4 311.5h2.4M275.4 313h2.4M275.4 313.1h2.4M275.4 313.3h2.4M275.4 313.9h2.4M275.4 314h2.4M275.4 317.3h2.4M275.4 319.1h2.4M275.4 320h2.4M275.4 324.5h2.4M275.4 329.6h2.4M275.4 334.3h2.4M275.4 340.8h2.4M275.4 342.7h2.4M278.6 242.1h2.4M278.6 243.8h2.4M278.6 246.1h2.4M278.6 246.3h2.4M278.6 246.8h2.4M278.6 252.8h2.4M278.6 253h2.4M278.6 254.3h2.4M278.6 254.4h2.4M278.6 256.2h2.4M278.6 256.4h2.4M278.6 257.3h2.4M278.6 257.6h2.4M278.6 259.6h2.4M278.6 260.5h2.4M278.6 261h2.4M278.6 261.1h2.4M278.6 261.2h2.4M278.6 262.3h2.4M278.6 262.6h2.4M278.6 264.6h2.4M278.6 265.1h2.4M278.6 265.3h2.4M278.6 266.7h2.4M278.6 269.8h2.4M278.6 270.7h2.4M278.6 272.9h2.4M278.6 273h2.4M278.6 273.7h2.4M278.6 274.3h2.4M278.6 275.1h2.4M278.6 275.7h2.4M278.6 276.2h2.4M278.6 276.6h2.4M278.6 277.2h2.4M278.6 278.9h2.4M278.6 279.7h2.4M278.6 280.5h2.4M278.6 281.3h2.4M278.6 282.1h2.4M278.6 282.6h2.4M278.6 282.7h2.4M278.6 283.8h2.4M278.6 285.6h2.4M278.6 287.1h2.4M278.6 287.3h2.4M278.6 287.7h2.4M278.6 288.2h2.4M278.6 288.5h2.4M278.6 288.7h2.4M278.6 289.1h2.4M278.6 289.8h2.4M278.6 290h2.4M278.6 290.1h2.4M278.6 291.4h2.4M278.6 291.9h2.4M278.6 292.1h2.4M278.6 292.5h2.4M278.6 293.7h2.4M278.6 294.3h2.4M278.6 294.4h2.4M278.6 295.2h2.4M278.6 295.9h2.4M278.6 297.2h2.4M278.6 298h2.4M278.6 299.1h2.4M278.6 299.2h2.4M278.6 300.4h2.4M278.6 300.7h2.4M278.6 300.8h2.4M278.6 301.1h2.4M278.6 301.6h2.4M278.6 301.9h2.4M278.6 302.1h2.4M278.6 303.7h2.4M278.6 304.7h2.4M278.6 305.3h2.4M278.6 305.8h2.4M278.6 306.5h2.4M278.6 306.8h2.4M278.6 307.6h2.4M278.6 307.8h2.4M278.6 308.1h2.4M278.6 308.3h2.4M278.6 310.2h2.4M278.6 310.5h2.4M278.6 311.1h2.4M278.6 312h2.4M278.6 312.3h2.4M278.6 312.5h2.4M278.6 312.7h2.4M278.6 313h2.4M278.6 314.2h2.4M278.6 315.9h2.4M278.6 316.7h2.4M278.6 320.4h2.4M278.6 323.7h2.4M278.6 328.3h2.4M278.6 334.8h2.4M278.6 339.4h2.4M278.6 341.5h2.4M281.8 239h2.4M281.8 241.9h2.4M281.8 244h2.4M281.8 250.2h2.4M281.8 250.8h2.4M281.8 251.8h2.4M281.8 251.9h2.4M281.8 252.8h2.4M281.8 253.4h2.4M281.8 254h2.4M281.8 254.6h2.4M281.8 257.1h2.4M281.8 257.9h2.4M281.8 258.3h2.4M281.8 259.3h2.4M281.8 259.5h2.4M281.8 260.3h2.4M281.8 261.2h2.4M281.8 262.1h2.4M281.8 263.4h2.4M281.8 263.8h2.4M281.8 266.1h2.4M281.8 266.7h2.4M281.8 268.5h2.4M281.8 270.8h2.4M281.8 271h2.4M281.8 271.1h2.4M281.8 272.2h2.4M281.8 272.5h2.4M281.8 273.4h2.4M281.8 274.1h2.4M281.8 275.1h2.4M281.8 275.3h2.4M281.8 275.7h2.4M281.8 277.1h2.4M281.8 278.4h2.4M281.8 278.5h2.4M281.8 279h2.4M281.8 279.9h2.4M281.8 280h2.4M281.8 281h2.4M281.8 282.4h2.4M281.8 284.6h2.4M281.8 285.8h2.4M281.8 286.5h2.4M281.8 286.6h2.4M281.8 287.5h2.4M281.8 287.9h2.4M281.8 288.2h2.4M281.8 288.7h2.4M281.8 289.1h2.4M281.8 289.2h2.4M281.8 290.2h2.4M281.8 291.4h2.4M281.8 291.6h2.4M281.8 291.8h2.4M281.8 292.3h2.4M281.8 292.8h2.4M281.8 293.2h2.4M281.8 293.5h2.4M281.8 293.6h2.4M281.8 296.1h2.4M281.8 296.5h2.4M281.8 297.4h2.4M281.8 298.1h2.4M281.8 298.6h2.4M281.8 298.7h2.4M281.8 299.4h2.4M281.8 300.3h2.4M281.8 300.4h2.4M281.8 300.7h2.4M281.8 301h2.4M281.8 303.3h2.4M281.8 303.4h2.4M281.8 303.9h2.4M281.8 304h2.4M281.8 305.1h2.4M281.8 305.2h2.4M281.8 305.4h2.4M281.8 305.5h2.4M281.8 305.6h2.4M281.8 305.9h2.4M281.8 306.9h2.4M281.8 307.8h2.4M281.8 308.3h2.4M281.8 309.3h2.4M281.8 309.8h2.4M281.8 310h2.4M281.8 310.5h2.4M281.8 311h2.4M281.8 311.1h2.4M281.8 311.4h2.4M281.8 312.6h2.4M281.8 314.2h2.4M281.8 315.2h2.4M281.8 319.9h2.4M281.8 322.9h2.4M281.8 328.5h2.4M281.8 334h2.4M281.8 338h2.4M281.8 339.9h2.4M285 236.5h2.4M285 239.3h2.4M285 241.7h2.4M285 242.2h2.4M285 244.4h2.4M285 247.9h2.4M285 248.6h2.4M285 249h2.4M285 249.4h2.4M285 249.5h2.4M285 250.8h2.4M285 251.9h2.4M285 252.7h2.4M285 253.7h2.4M285 254.8h2.4M285 256.1h2.4M285 256.3h2.4M285 257.5h2.4M285 258.5h2.4M285 258.7h2.4M285 259.7h2.4M285 260.2h2.4M285 261.4h2.4M285 261.5h2.4M285 265.4h2.4M285 265.9h2.4M285 267.6h2.4M285 268.6h2.4M285 268.7h2.4M285 268.9h2.4M285 269.1h2.4M285 269.9h2.4M285 270.1h2.4M285 270.6h2.4M285 271.7h2.4M285 271.8h2.4M285 272.7h2.4M285 273.1h2.4M285 273.5h2.4M285 275.6h2.4M285 276.3h2.4M285 277.1h2.4M285 277.4h2.4M285 278.3h2.4M285 278.5h2.4M285 278.8h2.4M285 279.9h2.4M285 281.1h2.4M285 282h2.4M285 282.8h2.4M285 283.4h2.4M285 283.7h2.4M285 283.8h2.4M285 284.4h2.4M285 285.9h2.4M285 286.1h2.4M285 286.2h2.4M285 286.4h2.4M285 286.5h2.4M285 287.3h2.4M285 288.1h2.4M285 288.9h2.4M285 290.3h2.4M285 290.5h2.4M285 290.6h2.4M285 290.8h2.4M285 290.9h2.4M285 291.1h2.4M285 291.3h2.4M285 292.2h2.4M285 292.9h2.4M285 294.6h2.4M285 295.5h2.4M285 295.6h2.4M285 296.5h2.4M285 297.1h2.4M285 297.8h2.4M285 298.8h2.4M285 299h2.4M285 300.6h2.4M285 301h2.4M285 301.6h2.4M285 302.2h2.4M285 302.5h2.4M285 303.4h2.4M285 303.5h2.4M285 303.6h2.4M285 304.3h2.4M285 304.4h2.4M285 306.9h2.4M285 307.6h2.4M285 309.5h2.4M285 309.7h2.4M285 309.8h2.4M285 309.9h2.4M285 310h2.4M285 310.4h2.4M285 311.6h2.4M285 313.5h2.4M285 317.4h2.4M285 321.9h2.4M285 326.3h2.4M285 331.1h2.4M285 335.4h2.4M285 337h2.4M288.1 235.8h2.4M288.1 239h2.4M288.1 243.5h2.4M288.1 246.6h2.4M288.1 247h2.4M288.1 247.3h2.4M288.1 247.7h2.4M288.1 249.2h2.4M288.1 249.8h2.4M288.1 250h2.4M288.1 250.3h2.4M288.1 252.1h2.4M288.1 253.2h2.4M288.1 254.5h2.4M288.1 255.1h2.4M288.1 256.2h2.4M288.1 256.7h2.4M288.1 256.8h2.4M288.1 258.6h2.4M288.1 258.8h2.4M288.1 261.2h2.4M288.1 261.4h2.4M288.1 263h2.4M288.1 263.4h2.4M288.1 266.4h2.4M288.1 266.7h2.4M288.1 266.9h2.4M288.1 267.4h2.4M288.1 267.7h2.4M288.1 268h2.4M288.1 268.1h2.4M288.1 268.7h2.4M288.1 269.6h2.4M288.1 270.4h2.4M288.1 270.8h2.4M288.1 271h2.4M288.1 271.7h2.4M288.1 274.2h2.4M288.1 274.5h2.4M288.1 275h2.4M288.1 275.6h2.4M288.1 276.4h2.4M288.1 277.3h2.4M288.1 278.6h2.4M288.1 278.7h2.4M288.1 280.1h2.4M288.1 280.5h2.4M288.1 281h2.4M288.1 281.2h2.4M288.1 281.4h2.4M288.1 282.2h2.4M288.1 283.3h2.4M288.1 284h2.4M288.1 284.2h2.4M288.1 284.5h2.4M288.1 284.6h2.4M288.1 284.8h2.4M288.1 285.6h2.4M288.1 285.9h2.4M288.1 287h2.4M288.1 288.5h2.4M288.1 288.7h2.4M288.1 288.9h2.4M288.1 289.3h2.4M288.1 289.5h2.4M288.1 289.6h2.4M288.1 289.7h2.4M288.1 290.5h2.4M288.1 290.6h2.4M288.1 293.1h2.4M288.1 293.3h2.4M288.1 293.8h2.4M288.1 294.3h2.4M288.1 294.7h2.4M288.1 295.4h2.4M288.1 295.8h2.4M288.1 297h2.4M288.1 297.4h2.4M288.1 297.8h2.4M288.1 299.6h2.4M288.1 299.7h2.4M288.1 300h2.4M288.1 300.4h2.4M288.1 300.6h2.4M288.1 300.7h2.4M288.1 300.8h2.4M288.1 300.9h2.4M288.1 301.7h2.4M288.1 301.9h2.4M288.1 302.1h2.4M288.1 303.2h2.4M288.1 304.2h2.4M288.1 304.4h2.4M288.1 305.1h2.4M288.1 306.7h2.4M288.1 308h2.4M288.1 308.3h2.4M288.1 308.6h2.4M288.1 309h2.4M288.1 309.4h2.4M288.1 310.7h2.4M288.1 311.4h2.4M288.1 311.7h2.4M288.1 315.3h2.4M288.1 319.7h2.4M288.1 323.5h2.4M288.1 327.6h2.4M288.1 331h2.4M288.1 335.1h2.4M291.3 238.1h2.4M291.3 238.6h2.4M291.3 239.8h2.4M291.3 245.4h2.4M291.3 246h2.4M291.3 246.4h2.4M291.3 247.2h2.4M291.3 248.3h2.4M291.3 249.1h2.4M291.3 249.3h2.4M291.3 249.8h2.4M291.3 250.7h2.4M291.3 251.6h2.4M291.3 252.8h2.4M291.3 254.7h2.4M291.3 255h2.4M291.3 256h2.4M291.3 256.5h2.4M291.3 256.9h2.4M291.3 257h2.4M291.3 257.8h2.4M291.3 258h2.4M291.3 259.9h2.4M291.3 260.3h2.4M291.3 262.1h2.4M291.3 263.3h2.4M291.3 264.5h2.4M291.3 264.6h2.4M291.3 265.7h2.4M291.3 266.2h2.4M291.3 266.7h2.4M291.3 267h2.4M291.3 267.1h2.4M291.3 268.1h2.4M291.3 268.2h2.4M291.3 269h2.4M291.3 269.1h2.4M291.3 270.8h2.4M291.3 271.4h2.4M291.3 271.5h2.4M291.3 272.3h2.4M291.3 272.5h2.4M291.3 273h2.4M291.3 273.1h2.4M291.3 274.6h2.4M291.3 276.3h2.4M291.3 276.4h2.4M291.3 277.8h2.4M291.3 278.1h2.4M291.3 279.1h2.4M291.3 279.2h2.4M291.3 279.7h2.4M291.3 280.6h2.4M291.3 280.9h2.4M291.3 281.8h2.4M291.3 282.1h2.4M291.3 282.2h2.4M291.3 282.4h2.4M291.3 282.5h2.4M291.3 282.6h2.4M291.3 283.2h2.4M291.3 284.3h2.4M291.3 286h2.4M291.3 286.5h2.4M291.3 286.7h2.4M291.3 287.3h2.4M291.3 287.7h2.4M291.3 288h2.4M291.3 288.2h2.4M291.3 288.6h2.4M291.3 289.4h2.4M291.3 291.7h2.4M291.3 291.8h2.4M291.3 291.9h2.4M291.3 292.8h2.4M291.3 294h2.4M291.3 294.2h2.4M291.3 294.3h2.4M291.3 296.5h2.4M291.3 296.6h2.4M291.3 297.4h2.4M291.3 297.8h2.4M291.3 298.4h2.4M291.3 298.7h2.4M291.3 299h2.4M291.3 299.4h2.4M291.3 299.5h2.4M291.3 300.6h2.4M291.3 300.8h2.4M291.3 301.3h2.4M291.3 301.9h2.4M291.3 304h2.4M291.3 304.2h2.4M291.3 305.9h2.4M291.3 306.8h2.4M291.3 307h2.4M291.3 307.6h2.4M291.3 308.2h2.4M291.3 308.6h2.4M291.3 309h2.4M291.3 310.8h2.4M291.3 310.9h2.4M291.3 313.6h2.4M291.3 317.9h2.4M291.3 321.4h2.4M291.3 325.1h2.4M291.3 328.4h2.4M291.3 333h2.4M294.5 241.1h2.4M294.5 241.5h2.4M294.5 242.3h2.4M294.5 246.1h2.4M294.5 246.7h2.4M294.5 247.5h2.4M294.5 248.3h2.4M294.5 248.8h2.4M294.5 249.6h2.4M294.5 250.5h2.4M294.5 250.9h2.4M294.5 252h2.4M294.5 252.3h2.4M294.5 252.9h2.4M294.5 253.7h2.4M294.5 255.3h2.4M294.5 256h2.4M294.5 256.5h2.4M294.5 256.6h2.4M294.5 256.7h2.4M294.5 259.6h2.4M294.5 260h2.4M294.5 260.1h2.4M294.5 260.8h2.4M294.5 263.6h2.4M294.5 263.7h2.4M294.5 264.4h2.4M294.5 265.2h2.4M294.5 265.5h2.4M294.5 266.1h2.4M294.5 266.4h2.4M294.5 266.7h2.4M294.5 267.4h2.4M294.5 267.6h2.4M294.5 267.7h2.4M294.5 268.5h2.4M294.5 269.4h2.4M294.5 269.8h2.4M294.5 270.4h2.4M294.5 271.2h2.4M294.5 271.4h2.4M294.5 271.7h2.4M294.5 273.3h2.4M294.5 274.1h2.4M294.5 275.5h2.4M294.5 275.7h2.4M294.5 276.1h2.4M294.5 276.2h2.4M294.5 276.9h2.4M294.5 277.8h2.4M294.5 278.6h2.4M294.5 279.1h2.4M294.5 279.6h2.4M294.5 279.9h2.4M294.5 280.3h2.4M294.5 280.8h2.4M294.5 281.2h2.4M294.5 281.5h2.4M294.5 283.3h2.4M294.5 283.9h2.4M294.5 284.4h2.4M294.5 284.7h2.4M294.5 284.9h2.4M294.5 285.5h2.4M294.5 285.6h2.4M294.5 286h2.4M294.5 287.6h2.4M294.5 287.7h2.4M294.5 288.4h2.4M294.5 290.3h2.4M294.5 290.9h2.4M294.5 291.3h2.4M294.5 292.4h2.4M294.5 292.5h2.4M294.5 293h2.4M294.5 293.4h2.4M294.5 295.2h2.4M294.5 295.4h2.4M294.5 296.4h2.4M294.5 296.8h2.4M294.5 297h2.4M294.5 297.3h2.4M294.5 297.6h2.4M294.5 298.3h2.4M294.5 298.4h2.4M294.5 299.3h2.4M294.5 299.5h2.4M294.5 300.6h2.4M294.5 302h2.4M294.5 303.3h2.4M294.5 303.7h2.4M294.5 305.8h2.4M294.5 305.9h2.4M294.5 306.2h2.4M294.5 306.6h2.4M294.5 307.1h2.4M294.5 307.3h2.4M294.5 307.5h2.4M294.5 308.2h2.4M294.5 309.5h2.4M294.5 312.9h2.4M294.5 316h2.4M294.5 318.4h2.4M294.5 321.1h2.4M294.5 325.2h2.4M294.5 328.4h2.4M297.7 244.3h2.4M297.7 244.9h2.4M297.7 247.4h2.4M297.7 247.9h2.4M297.7 249.7h2.4M297.7 249.8h2.4M297.7 249.9h2.4M297.7 251.6h2.4M297.7 252h2.4M297.7 252.5h2.4M297.7 253.3h2.4M297.7 253.6h2.4M297.7 255.4h2.4M297.7 256.5h2.4M297.7 256.7h2.4M297.7 257.1h2.4M297.7 257.2h2.4M297.7 257.3h2.4M297.7 258.4h2.4M297.7 258.9h2.4M297.7 259.4h2.4M297.7 260.5h2.4M297.7 262.5h2.4M297.7 263.7h2.4M297.7 264.1h2.4M297.7 264.2h2.4M297.7 265.1h2.4M297.7 265.4h2.4M297.7 265.5h2.4M297.7 266h2.4M297.7 266.3h2.4M297.7 266.4h2.4M297.7 266.6h2.4M297.7 267.1h2.4M297.7 268.5h2.4M297.7 268.7h2.4M297.7 269.9h2.4M297.7 270.1h2.4M297.7 270.7h2.4M297.7 271.7h2.4M297.7 273h2.4M297.7 273.5h2.4M297.7 273.6h2.4M297.7 273.9h2.4M297.7 274.3h2.4M297.7 274.6h2.4M297.7 274.9h2.4M297.7 276h2.4M297.7 276.2h2.4M297.7 276.7h2.4M297.7 277h2.4M297.7 277.3h2.4M297.7 277.5h2.4M297.7 277.9h2.4M297.7 278.2h2.4M297.7 279.3h2.4M297.7 279.4h2.4M297.7 280.9h2.4M297.7 281.4h2.4M297.7 281.6h2.4M297.7 281.7h2.4M297.7 282.6h2.4M297.7 283.4h2.4M297.7 283.7h2.4M297.7 284.3h2.4M297.7 285h2.4M297.7 286.2h2.4M297.7 286.6h2.4M297.7 287.4h2.4M297.7 287.9h2.4M297.7 289.2h2.4M297.7 289.6h2.4M297.7 290.4h2.4M297.7 290.6h2.4M297.7 291h2.4M297.7 291.1h2.4M297.7 291.7h2.4M297.7 293.8h2.4M297.7 294h2.4M297.7 294.5h2.4M297.7 294.8h2.4M297.7 295.4h2.4M297.7 295.8h2.4M297.7 296.3h2.4M297.7 296.4h2.4M297.7 297.7h2.4M297.7 298.2h2.4M297.7 298.5h2.4M297.7 298.9h2.4M297.7 300.8h2.4M297.7 302h2.4M297.7 302.2h2.4M297.7 303.7h2.4M297.7 304.4h2.4M297.7 305h2.4M297.7 305.6h2.4M297.7 305.7h2.4M297.7 306.2h2.4M297.7 306.6h2.4M297.7 307.6h2.4M297.7 308.5h2.4M297.7 310.6h2.4M297.7 314.6h2.4M297.7 315.4h2.4M297.7 318.9h2.4M297.7 321h2.4M297.7 324.7h2.4M300.9 244.6h2.4M300.9 246h2.4M300.9 247.1h2.4M300.9 248h2.4M300.9 249h2.4M300.9 249.4h2.4M300.9 249.9h2.4M300.9 250.2h2.4M300.9 251.9h2.4M300.9 252.7h2.4M300.9 253h2.4M300.9 253.6h2.4M300.9 255.2h2.4M300.9 256.2h2.4M300.9 256.5h2.4M300.9 256.8h2.4M300.9 257.2h2.4M300.9 257.7h2.4M300.9 257.8h2.4M300.9 258h2.4M300.9 259.2h2.4M300.9 259.4h2.4M300.9 261.7h2.4M300.9 262.7h2.4M300.9 262.9h2.4M300.9 263.3h2.4M300.9 263.9h2.4M300.9 264.4h2.4M300.9 265.1h2.4M300.9 265.2h2.4M300.9 265.3h2.4M300.9 266h2.4M300.9 266.5h2.4M300.9 267.1h2.4M300.9 267.4h2.4M300.9 267.7h2.4M300.9 268.4h2.4M300.9 268.8h2.4M300.9 268.9h2.4M300.9 271.5h2.4M300.9 271.7h2.4M300.9 271.8h2.4M300.9 272h2.4M300.9 272.1h2.4M300.9 272.3h2.4M300.9 272.5h2.4M300.9 273.4h2.4M300.9 274h2.4M300.9 274.5h2.4M300.9 274.7h2.4M300.9 274.8h2.4M300.9 275.8h2.4M300.9 276.2h2.4M300.9 276.3h2.4M300.9 276.7h2.4M300.9 277.6h2.4M300.9 278.8h2.4M300.9 279.3h2.4M300.9 279.7h2.4M300.9 281.9h2.4M300.9 282.3h2.4M300.9 282.8h2.4M300.9 283h2.4M300.9 283.8h2.4M300.9 285h2.4M300.9 285.4h2.4M300.9 286.8h2.4M300.9 286.9h2.4M300.9 287.2h2.4M300.9 288.4h2.4M300.9 288.5h2.4M300.9 288.9h2.4M300.9 289h2.4M300.9 292h2.4M300.9 292.1h2.4M300.9 292.6h2.4M300.9 292.9h2.4M300.9 293.1h2.4M300.9 293.8h2.4M300.9 293.9h2.4M300.9 294.8h2.4M300.9 295.1h2.4M300.9 295.3h2.4M300.9 295.6h2.4M300.9 295.8h2.4M300.9 296.4h2.4M300.9 296.7h2.4M300.9 300h2.4M300.9 300.1h2.4M300.9 301.6h2.4M300.9 303.2h2.4M300.9 303.5h2.4M300.9 303.7h2.4M300.9 304.3h2.4M300.9 305.3h2.4M300.9 305.4h2.4M300.9 305.5h2.4M300.9 306.5h2.4M300.9 306.6h2.4M300.9 307.1h2.4M300.9 308.3h2.4M300.9 312h2.4M300.9 312.4h2.4M300.9 315.1h2.4M300.9 317h2.4M300.9 319.8h2.4M304.1 240.1h2.4M304.1 240.4h2.4M304.1 241h2.4M304.1 242.6h2.4M304.1 243.6h2.4M304.1 243.8h2.4M304.1 244.4h2.4M304.1 245.3h2.4M304.1 246h2.4M304.1 246.1h2.4M304.1 246.2h2.4M304.1 249.3h2.4M304.1 249.6h2.4M304.1 250.3h2.4M304.1 250.6h2.4M304.1 250.7h2.4M304.1 251h2.4M304.1 251.2h2.4M304.1 253h2.4M304.1 253.5h2.4M304.1 254.3h2.4M304.1 254.4h2.4M304.1 254.6h2.4M304.1 254.9h2.4M304.1 255h2.4M304.1 256.2h2.4M304.1 256.7h2.4M304.1 258.5h2.4M304.1 258.8h2.4M304.1 258.9h2.4M304.1 259.4h2.4M304.1 260.2h2.4M304.1 261.3h2.4M304.1 261.8h2.4M304.1 263.3h2.4M304.1 264.1h2.4M304.1 264.3h2.4M304.1 264.4h2.4M304.1 264.5h2.4M304.1 265.4h2.4M304.1 265.6h2.4M304.1 266.8h2.4M304.1 267.7h2.4M304.1 268.6h2.4M304.1 268.7h2.4M304.1 269.2h2.4M304.1 269.3h2.4M304.1 269.8h2.4M304.1 270.5h2.4M304.1 270.8h2.4M304.1 271.5h2.4M304.1 271.9h2.4M304.1 272.2h2.4M304.1 272.4h2.4M304.1 273.1h2.4M304.1 273.6h2.4M304.1 274.1h2.4M304.1 274.2h2.4M304.1 275.2h2.4M304.1 275.9h2.4M304.1 276.6h2.4M304.1 276.8h2.4M304.1 277.1h2.4M304.1 278.1h2.4M304.1 279.3h2.4M304.1 280.1h2.4M304.1 280.2h2.4M304.1 280.7h2.4M304.1 281h2.4M304.1 281.3h2.4M304.1 283.6h2.4M304.1 283.8h2.4M304.1 284.1h2.4M304.1 285.1h2.4M304.1 285.8h2.4M304.1 286.3h2.4M304.1 286.4h2.4M304.1 286.8h2.4M304.1 288.3h2.4M304.1 288.4h2.4M304.1 290.9h2.4M304.1 291.8h2.4M304.1 291.9h2.4M304.1 293.4h2.4M304.1 293.8h2.4M304.1 294h2.4M304.1 294.3h2.4M304.1 294.8h2.4M304.1 294.9h2.4M304.1 295.3h2.4M304.1 295.9h2.4M304.1 297.6h2.4M304.1 300.1h2.4M304.1 301h2.4M304.1 302.2h2.4M304.1 302.9h2.4M304.1 303h2.4M304.1 303.1h2.4M304.1 303.7h2.4M304.1 304.1h2.4M304.1 304.7h2.4M304.1 307.7h2.4M304.1 309.1h2.4M304.1 309.2h2.4M304.1 311.6h2.4M304.1 313.9h2.4M304.1 316h2.4M307.3 237.1h2.4M307.3 237.8h2.4M307.3 239.5h2.4M307.3 240.3h2.4M307.3 241.7h2.4M307.3 241.9h2.4M307.3 242.5h2.4M307.3 243.6h2.4M307.3 245.1h2.4M307.3 246h2.4M307.3 246.6h2.4M307.3 246.8h2.4M307.3 248.3h2.4M307.3 249.1h2.4M307.3 249.2h2.4M307.3 250.3h2.4M307.3 250.7h2.4M307.3 250.9h2.4M307.3 251.1h2.4M307.3 251.4h2.4M307.3 251.9h2.4M307.3 252.9h2.4M307.3 253.2h2.4M307.3 254.6h2.4M307.3 256.2h2.4M307.3 256.4h2.4M307.3 256.6h2.4M307.3 257.1h2.4M307.3 257.2h2.4M307.3 257.6h2.4M307.3 257.8h2.4M307.3 258.5h2.4M307.3 259.5h2.4M307.3 259.7h2.4M307.3 260.1h2.4M307.3 260.3h2.4M307.3 261.2h2.4M307.3 262h2.4M307.3 262.2h2.4M307.3 262.5h2.4M307.3 262.9h2.4M307.3 263.4h2.4M307.3 264.4h2.4M307.3 265.2h2.4M307.3 266.4h2.4M307.3 267.1h2.4M307.3 267.3h2.4M307.3 267.6h2.4M307.3 267.9h2.4M307.3 268.4h2.4M307.3 269h2.4M307.3 269.3h2.4M307.3 269.4h2.4M307.3 269.9h2.4M307.3 270h2.4M307.3 270.5h2.4M307.3 271.7h2.4M307.3 272.1h2.4M307.3 272.3h2.4M307.3 273.1h2.4M307.3 273.7h2.4M307.3 274.4h2.4M307.3 274.9h2.4M307.3 275.9h2.4M307.3 276h2.4M307.3 277.9h2.4M307.3 278h2.4M307.3 278.4h2.4M307.3 278.9h2.4M307.3 279.1h2.4M307.3 282.5h2.4M307.3 282.6h2.4M307.3 283.1h2.4M307.3 283.8h2.4M307.3 284.2h2.4M307.3 284.5h2.4M307.3 284.7h2.4M307.3 284.8h2.4M307.3 285.1h2.4M307.3 286.4h2.4M307.3 289.2h2.4M307.3 289.3h2.4M307.3 289.5h2.4M307.3 289.8h2.4M307.3 290.1h2.4M307.3 291.4h2.4M307.3 291.7h2.4M307.3 291.9h2.4M307.3 292.1h2.4M307.3 292.8h2.4M307.3 293.2h2.4M307.3 293.4h2.4M307.3 295.4h2.4M307.3 298.7h2.4M307.3 298.9h2.4M307.3 300.4h2.4M307.3 301h2.4M307.3 301.2h2.4M307.3 301.3h2.4M307.3 302.5h2.4M307.3 302.8h2.4M307.3 302.9h2.4M307.3 303.1h2.4M307.3 303.3h2.4M307.3 305.2h2.4M307.3 306.8h2.4M307.3 307.2h2.4M307.3 309.1h2.4M307.3 309.3h2.4M307.3 311.9h2.4M310.5 230.9h2.4M310.5 232.9h2.4M310.5 233.5h2.4M310.5 234.5h2.4M310.5 235.7h2.4M310.5 236.6h2.4M310.5 237h2.4M310.5 238h2.4M310.5 239.1h2.4M310.5 239.5h2.4M310.5 240h2.4M310.5 241.3h2.4M310.5 241.4h2.4M310.5 241.9h2.4M310.5 242.5h2.4M310.5 242.7h2.4M310.5 243.6h2.4M310.5 244.9h2.4M310.5 245.6h2.4M310.5 245.7h2.4M310.5 246.1h2.4M310.5 247.2h2.4M310.5 247.9h2.4M310.5 248.2h2.4M310.5 249.4h2.4M310.5 250.1h2.4M310.5 250.8h2.4M310.5 252h2.4M310.5 252.5h2.4M310.5 252.7h2.4M310.5 253.3h2.4M310.5 253.4h2.4M310.5 253.6h2.4M310.5 254.6h2.4M310.5 254.8h2.4M310.5 255.4h2.4M310.5 255.8h2.4M310.5 257.1h2.4M310.5 257.2h2.4M310.5 257.3h2.4M310.5 257.4h2.4M310.5 258.7h2.4M310.5 258.9h2.4M310.5 259h2.4M310.5 260.1h2.4M310.5 261.5h2.4M310.5 263.2h2.4M310.5 263.7h2.4M310.5 263.8h2.4M310.5 264.3h2.4M310.5 264.5h2.4M310.5 264.6h2.4M310.5 265h2.4M310.5 265.4h2.4M310.5 265.8h2.4M310.5 266h2.4M310.5 266.5h2.4M310.5 266.7h2.4M310.5 266.8h2.4M310.5 267h2.4M310.5 267.3h2.4M310.5 268.5h2.4M310.5 269h2.4M310.5 269.9h2.4M310.5 271h2.4M310.5 271.4h2.4M310.5 272.5h2.4M310.5 273h2.4M310.5 273.5h2.4M310.5 273.8h2.4M310.5 274.3h2.4M310.5 274.6h2.4M310.5 275.2h2.4M310.5 275.9h2.4M310.5 276.8h2.4M310.5 277.9h2.4M310.5 279.3h2.4M310.5 280.3h2.4M310.5 280.8h2.4M310.5 281.7h2.4M310.5 283.1h2.4M310.5 283.3h2.4M310.5 283.7h2.4M310.5 283.9h2.4M310.5 284.5h2.4M310.5 285.4h2.4M310.5 285.8h2.4M310.5 287.6h2.4M310.5 287.7h2.4M310.5 287.9h2.4M310.5 288.4h2.4M310.5 288.9h2.4M310.5 290h2.4M310.5 290.5h2.4M310.5 290.6h2.4M310.5 290.7h2.4M310.5 291h2.4M310.5 291.7h2.4M310.5 291.8h2.4M310.5 293h2.4M310.5 298.2h2.4M310.5 298.3h2.4M310.5 299h2.4M310.5 299.5h2.4M310.5 300.3h2.4M310.5 300.4h2.4M310.5 300.6h2.4M310.5 300.7h2.4M310.5 301.6h2.4M310.5 301.9h2.4M310.5 302.2h2.4M310.5 302.4h2.4M310.5 303.5h2.4M310.5 303.8h2.4M310.5 304.8h2.4M310.5 305.7h2.4M310.5 306.8h2.4M310.5 307.8h2.4M313.7 222h2.4M313.7 225h2.4M313.7 226.2h2.4M313.7 229h2.4M313.7 229.7h2.4M313.7 229.9h2.4M313.7 232h2.4M313.7 232.1h2.4M313.7 232.4h2.4M313.7 232.8h2.4M313.7 234.9h2.4M313.7 235.7h2.4M313.7 235.9h2.4M313.7 236.5h2.4M313.7 237h2.4M313.7 237.9h2.4M313.7 239.4h2.4M313.7 239.7h2.4M313.7 240.2h2.4M313.7 240.3h2.4M313.7 240.4h2.4M313.7 243.2h2.4M313.7 243.9h2.4M313.7 244.1h2.4M313.7 244.7h2.4M313.7 245.6h2.4M313.7 246.4h2.4M313.7 246.9h2.4M313.7 247.2h2.4M313.7 248.6h2.4M313.7 248.7h2.4M313.7 248.8h2.4M313.7 249.3h2.4M313.7 249.7h2.4M313.7 249.9h2.4M313.7 251.8h2.4M313.7 252h2.4M313.7 253.6h2.4M313.7 254.1h2.4M313.7 254.2h2.4M313.7 254.8h2.4M313.7 255h2.4M313.7 256.9h2.4M313.7 259.1h2.4M313.7 260.5h2.4M313.7 260.8h2.4M313.7 260.9h2.4M313.7 261h2.4M313.7 261.2h2.4M313.7 262.2h2.4M313.7 262.3h2.4M313.7 262.9h2.4M313.7 263.1h2.4M313.7 263.6h2.4M313.7 263.9h2.4M313.7 264.3h2.4M313.7 264.7h2.4M313.7 264.8h2.4M313.7 265.2h2.4M313.7 265.5h2.4M313.7 266.6h2.4M313.7 267.2h2.4M313.7 267.3h2.4M313.7 269h2.4M313.7 269.1h2.4M313.7 269.9h2.4M313.7 270.4h2.4M313.7 270.5h2.4M313.7 271.3h2.4M313.7 271.9h2.4M313.7 272.1h2.4M313.7 272.9h2.4M313.7 273.3h2.4M313.7 274.8h2.4M313.7 276.9h2.4M313.7 279.6h2.4M313.7 280.1h2.4M313.7 281.3h2.4M313.7 282.3h2.4M313.7 282.6h2.4M313.7 282.8h2.4M313.7 283.2h2.4M313.7 284.8h2.4M313.7 285.6h2.4M313.7 285.9h2.4M313.7 286.3h2.4M313.7 286.4h2.4M313.7 286.9h2.4M313.7 288h2.4M313.7 288.1h2.4M313.7 288.2h2.4M313.7 288.9h2.4M313.7 289.3h2.4M313.7 289.5h2.4M313.7 291.4h2.4M313.7 291.6h2.4M313.7 292.7h2.4M313.7 296.3h2.4M313.7 297.3h2.4M313.7 298.3h2.4M313.7 298.7h2.4M313.7 298.8h2.4M313.7 299.4h2.4M313.7 299.8h2.4M313.7 300.1h2.4M313.7 300.4h2.4M313.7 301.3h2.4M313.7 301.5h2.4M313.7 302.6h2.4M313.7 302.8h2.4M313.7 303.3h2.4M313.7 303.6h2.4M316.8 215.9h2.4M316.8 220.3h2.4M316.8 220.8h2.4M316.8 221.6h2.4M316.8 223.1h2.4M316.8 223.2h2.4M316.8 223.4h2.4M316.8 224h2.4M316.8 226.4h2.4M316.8 226.9h2.4M316.8 227.2h2.4M316.8 228.8h2.4M316.8 228.9h2.4M316.8 230.1h2.4M316.8 230.4h2.4M316.8 232.2h2.4M316.8 232.5h2.4M316.8 233h2.4M316.8 234.5h2.4M316.8 234.9h2.4M316.8 235.3h2.4M316.8 235.4h2.4M316.8 237.6h2.4M316.8 238.6h2.4M316.8 239.2h2.4M316.8 241.1h2.4M316.8 242.1h2.4M316.8 242.4h2.4M316.8 243.1h2.4M316.8 243.4h2.4M316.8 243.8h2.4M316.8 244.2h2.4M316.8 245h2.4M316.8 245.1h2.4M316.8 245.9h2.4M316.8 247.3h2.4M316.8 247.5h2.4M316.8 248.5h2.4M316.8 249.1h2.4M316.8 250.1h2.4M316.8 250.2h2.4M316.8 250.3h2.4M316.8 250.5h2.4M316.8 251.1h2.4M316.8 251.8h2.4M316.8 254.4h2.4M316.8 254.9h2.4M316.8 257.3h2.4M316.8 257.4h2.4M316.8 258h2.4M316.8 258.3h2.4M316.8 259h2.4M316.8 259.1h2.4M316.8 259.6h2.4M316.8 259.9h2.4M316.8 260h2.4M316.8 260.8h2.4M316.8 261.3h2.4M316.8 261.5h2.4M316.8 261.7h2.4M316.8 261.8h2.4M316.8 262h2.4M316.8 262.2h2.4M316.8 262.6h2.4M316.8 265h2.4M316.8 265.1h2.4M316.8 265.2h2.4M316.8 265.6h2.4M316.8 265.9h2.4M316.8 267.9h2.4M316.8 269.1h2.4M316.8 269.3h2.4M316.8 269.9h2.4M316.8 270.3h2.4M316.8 270.4h2.4M316.8 270.9h2.4M316.8 274.1h2.4M316.8 274.4h2.4M316.8 276h2.4M316.8 277.6h2.4M316.8 277.7h2.4M316.8 278h2.4M316.8 279.5h2.4M316.8 280h2.4M316.8 280.5h2.4M316.8 281.8h2.4M316.8 282.1h2.4M316.8 282.6h2.4M316.8 282.7h2.4M316.8 284h2.4M316.8 284.1h2.4M316.8 284.4h2.4M316.8 284.9h2.4M316.8 286.4h2.4M316.8 287.2h2.4M316.8 287.5h2.4M316.8 288h2.4M316.8 288.2h2.4M316.8 288.6h2.4M316.8 289.9h2.4M316.8 290.3h2.4M316.8 290.6h2.4M316.8 292.3h2.4M316.8 294.8h2.4M316.8 295.9h2.4M316.8 296.3h2.4M316.8 298h2.4M316.8 298.1h2.4M316.8 298.2h2.4M316.8 298.6h2.4M316.8 298.7h2.4M316.8 298.8h2.4M316.8 299.4h2.4M316.8 299.5h2.4M316.8 299.9h2.4M316.8 300.2h2.4M316.8 300.6h2.4M320 209.4h2.4M320 215.6h2.4M320 216.7h2.4M320 217.5h2.4M320 218.4h2.4M320 218.7h2.4M320 218.8h2.4M320 219.6h2.4M320 220.1h2.4M320 221.4h2.4M320 223.8h2.4M320 224h2.4M320 224.5h2.4M320 225.3h2.4M320 228.4h2.4M320 228.7h2.4M320 228.9h2.4M320 229h2.4M320 229.2h2.4M320 229.5h2.4M320 230.2h2.4M320 233h2.4M320 233.3h2.4M320 233.9h2.4M320 235.9h2.4M320 236.7h2.4M320 237.2h2.4M320 238.4h2.4M320 238.8h2.4M320 239.1h2.4M320 239.4h2.4M320 239.7h2.4M320 241.1h2.4M320 241.7h2.4M320 242.4h2.4M320 242.6h2.4M320 243.7h2.4M320 244.6h2.4M320 244.8h2.4M320 245.2h2.4M320 245.6h2.4M320 245.7h2.4M320 246.2h2.4M320 246.6h2.4M320 247.5h2.4M320 250.9h2.4M320 251.9h2.4M320 252.3h2.4M320 252.4h2.4M320 252.5h2.4M320 252.6h2.4M320 253.1h2.4M320 253.2h2.4M320 253.5h2.4M320 254.3h2.4M320 255.3h2.4M320 256.5h2.4M320 256.6h2.4M320 256.7h2.4M320 256.8h2.4M320 258.3h2.4M320 258.5h2.4M320 260.1h2.4M320 261h2.4M320 262h2.4M320 262.3h2.4M320 262.8h2.4M320 263h2.4M320 265.2h2.4M320 265.4h2.4M320 265.6h2.4M320 266h2.4M320 266.1h2.4M320 267.2h2.4M320 270.3h2.4M320 270.9h2.4M320 272.3h2.4M320 273.3h2.4M320 274.8h2.4M320 275.5h2.4M320 276.7h2.4M320 277.6h2.4M320 278.9h2.4M320 279.1h2.4M320 279.3h2.4M320 279.8h2.4M320 280.2h2.4M320 280.4h2.4M320 281.4h2.4M320 282.7h2.4M320 284.4h2.4M320 285.5h2.4M320 285.9h2.4M320 286h2.4M320 286.5h2.4M320 287.7h2.4M320 288.4h2.4M320 289.2h2.4M320 291.9h2.4M320 294.4h2.4M320 294.9h2.4M320 295.5h2.4M320 297h2.4M320 297.2h2.4M320 297.4h2.4M320 298h2.4M320 298.2h2.4M320 298.4h2.4M320 299h2.4M320 299.4h2.4M320 300.2h2.4M320 301.4h2.4M320 301.9h2.4M320 302.3h2.4M320 303.1h2.4M320 303.2h2.4M320 305.1h2.4M323.2 208.5h2.4M323.2 210.8h2.4M323.2 212.2h2.4M323.2 212.7h2.4M323.2 215h2.4M323.2 215.2h2.4M323.2 215.5h2.4M323.2 215.6h2.4M323.2 219.5h2.4M323.2 220h2.4M323.2 220.3h2.4M323.2 223.1h2.4M323.2 223.8h2.4M323.2 224.3h2.4M323.2 225.2h2.4M323.2 225.3h2.4M323.2 226.1h2.4M323.2 229h2.4M323.2 230.1h2.4M323.2 230.5h2.4M323.2 231.4h2.4M323.2 232.1h2.4M323.2 233.8h2.4M323.2 234.3h2.4M323.2 234.4h2.4M323.2 234.8h2.4M323.2 235.8h2.4M323.2 236.1h2.4M323.2 236.6h2.4M323.2 237h2.4M323.2 237.4h2.4M323.2 238.1h2.4M323.2 238.6h2.4M323.2 239.6h2.4M323.2 240.2h2.4M323.2 241.5h2.4M323.2 242.1h2.4M323.2 242.8h2.4M323.2 243h2.4M323.2 243.4h2.4M323.2 245.5h2.4M323.2 247.2h2.4M323.2 247.7h2.4M323.2 249h2.4M323.2 249.4h2.4M323.2 250.1h2.4M323.2 250.2h2.4M323.2 250.4h2.4M323.2 250.8h2.4M323.2 253.2h2.4M323.2 253.7h2.4M323.2 253.9h2.4M323.2 254.1h2.4M323.2 254.2h2.4M323.2 255.7h2.4M323.2 256.2h2.4M323.2 256.5h2.4M323.2 258.2h2.4M323.2 258.4h2.4M323.2 258.8h2.4M323.2 259.8h2.4M323.2 260.7h2.4M323.2 262.5h2.4M323.2 263.3h2.4M323.2 263.4h2.4M323.2 263.8h2.4M323.2 264.4h2.4M323.2 264.5h2.4M323.2 267.8h2.4M323.2 268h2.4M323.2 269h2.4M323.2 270.4h2.4M323.2 272.5h2.4M323.2 273.6h2.4M323.2 275.4h2.4M323.2 275.7h2.4M323.2 276.3h2.4M323.2 277.2h2.4M323.2 277.9h2.4M323.2 278.4h2.4M323.2 278.9h2.4M323.2 280h2.4M323.2 280.8h2.4M323.2 282.6h2.4M323.2 283.5h2.4M323.2 283.6h2.4M323.2 283.9h2.4M323.2 284.7h2.4M323.2 285.5h2.4M323.2 286.1h2.4M323.2 287.4h2.4M323.2 288h2.4M323.2 288.2h2.4M323.2 291.1h2.4M323.2 292.7h2.4M323.2 294h2.4M323.2 294.2h2.4M323.2 296h2.4M323.2 296.6h2.4M323.2 297.2h2.4M323.2 297.6h2.4M323.2 297.8h2.4M323.2 299.6h2.4M323.2 301.1h2.4M323.2 301.4h2.4M323.2 302.7h2.4M323.2 304.2h2.4M323.2 305.3h2.4M323.2 306h2.4M323.2 306.6h2.4M323.2 310.1h2.4M326.4 201.3h2.4M326.4 205.1h2.4M326.4 205.9h2.4M326.4 207.5h2.4M326.4 208.4h2.4M326.4 208.8h2.4M326.4 209.8h2.4M326.4 210h2.4M326.4 210.3h2.4M326.4 210.9h2.4M326.4 215h2.4M326.4 215.8h2.4M326.4 216.2h2.4M326.4 218h2.4M326.4 219.3h2.4M326.4 219.5h2.4M326.4 219.6h2.4M326.4 220.7h2.4M326.4 221h2.4M326.4 221.7h2.4M326.4 221.8h2.4M326.4 223.5h2.4M326.4 225.6h2.4M326.4 225.8h2.4M326.4 226.1h2.4M326.4 228h2.4M326.4 228.6h2.4M326.4 229.5h2.4M326.4 231.1h2.4M326.4 231.6h2.4M326.4 232.2h2.4M326.4 232.6h2.4M326.4 233h2.4M326.4 233.5h2.4M326.4 234.7h2.4M326.4 235.7h2.4M326.4 235.8h2.4M326.4 236.7h2.4M326.4 237.5h2.4M326.4 239.1h2.4M326.4 239.7h2.4M326.4 240.2h2.4M326.4 240.7h2.4M326.4 242.9h2.4M326.4 243.3h2.4M326.4 243.9h2.4M326.4 245.1h2.4M326.4 246h2.4M326.4 247h2.4M326.4 247.4h2.4M326.4 247.6h2.4M326.4 247.9h2.4M326.4 249.5h2.4M326.4 250h2.4M326.4 250.8h2.4M326.4 251h2.4M326.4 251.6h2.4M326.4 252.5h2.4M326.4 253h2.4M326.4 254.2h2.4M326.4 254.5h2.4M326.4 255.4h2.4M326.4 257.7h2.4M326.4 257.9h2.4M326.4 258.4h2.4M326.4 259.2h2.4M326.4 259.6h2.4M326.4 260.3h2.4M326.4 260.8h2.4M326.4 262.3h2.4M326.4 262.8h2.4M326.4 264.3h2.4M326.4 266.7h2.4M326.4 266.9h2.4M326.4 268.2h2.4M326.4 270.7h2.4M326.4 271.1h2.4M326.4 272.8h2.4M326.4 273.1h2.4M326.4 273.5h2.4M326.4 274.7h2.4M326.4 275.4h2.4M326.4 275.5h2.4M326.4 276.8h2.4M326.4 277.7h2.4M326.4 279.7h2.4M326.4 279.8h2.4M326.4 281.4h2.4M326.4 281.9h2.4M326.4 282.3h2.4M326.4 283.3h2.4M326.4 283.7h2.4M326.4 285.9h2.4M326.4 286.7h2.4M326.4 286.9h2.4M326.4 287.3h2.4M326.4 289h2.4M326.4 292h2.4M326.4 292.7h2.4M326.4 293.2h2.4M326.4 294.6h2.4M326.4 296.5h2.4M326.4 296.9h2.4M326.4 297.7h2.4M326.4 299.2h2.4M326.4 299.7h2.4M326.4 301.3h2.4M326.4 302.3h2.4M326.4 302.8h2.4M326.4 305.8h2.4M326.4 306.2h2.4M326.4 307.4h2.4M326.4 308.8h2.4M326.4 311.2h2.4M326.4 314h2.4M329.6 196.7h2.4M329.6 198.7h2.4M329.6 201.6h2.4M329.6 201.7h2.4M329.6 202.5h2.4M329.6 205.3h2.4M329.6 205.7h2.4M329.6 207.5h2.4M329.6 207.8h2.4M329.6 209.9h2.4M329.6 210.8h2.4M329.6 211.5h2.4M329.6 212.8h2.4M329.6 214.1h2.4M329.6 214.2h2.4M329.6 214.3h2.4M329.6 215.9h2.4M329.6 216.4h2.4M329.6 216.7h2.4M329.6 218h2.4M329.6 218.7h2.4M329.6 220.5h2.4M329.6 220.8h2.4M329.6 221.8h2.4M329.6 223h2.4M329.6 224.4h2.4M329.6 224.7h2.4M329.6 225.4h2.4M329.6 227h2.4M329.6 227.6h2.4M329.6 228.4h2.4M329.6 228.6h2.4M329.6 229h2.4M329.6 230.3h2.4M329.6 231.8h2.4M329.6 232h2.4M329.6 232.9h2.4M329.6 233.2h2.4M329.6 233.4h2.4M329.6 234h2.4M329.6 235.9h2.4M329.6 236h2.4M329.6 236.2h2.4M329.6 238.2h2.4M329.6 239.1h2.4M329.6 240.2h2.4M329.6 240.3h2.4M329.6 242.2h2.4M329.6 243.3h2.4M329.6 243.5h2.4M329.6 244.2h2.4M329.6 245.9h2.4M329.6 246.2h2.4M329.6 247h2.4M329.6 247.2h2.4M329.6 247.3h2.4M329.6 248.1h2.4M329.6 248.8h2.4M329.6 249.7h2.4M329.6 251.1h2.4M329.6 252.1h2.4M329.6 252.8h2.4M329.6 253.7h2.4M329.6 255.1h2.4M329.6 255.7h2.4M329.6 256.1h2.4M329.6 256.6h2.4M329.6 257.1h2.4M329.6 257.6h2.4M329.6 257.7h2.4M329.6 259.5h2.4M329.6 260.7h2.4M329.6 261.4h2.4M329.6 263.8h2.4M329.6 266.4h2.4M329.6 266.8h2.4M329.6 267.9h2.4M329.6 269.3h2.4M329.6 270.4h2.4M329.6 271.7h2.4M329.6 273.3h2.4M329.6 273.5h2.4M329.6 274h2.4M329.6 275.8h2.4M329.6 276.6h2.4M329.6 278.8h2.4M329.6 279.3h2.4M329.6 279.6h2.4M329.6 280.4h2.4M329.6 280.7h2.4M329.6 280.9h2.4M329.6 281.1h2.4M329.6 283.6h2.4M329.6 285.2h2.4M329.6 285.6h2.4M329.6 286.6h2.4M329.6 287.4h2.4M329.6 287.8h2.4M329.6 292.1h2.4M329.6 292.6h2.4M329.6 293h2.4M329.6 293.4h2.4M329.6 296.5h2.4M329.6 298h2.4M329.6 298.2h2.4M329.6 298.4h2.4M329.6 299.8h2.4M329.6 301.8h2.4M329.6 303.7h2.4M329.6 304.1h2.4M329.6 309.1h2.4M329.6 309.2h2.4M329.6 310.2h2.4M329.6 312.4h2.4M329.6 314.1h2.4M329.6 318.5h2.4M332.8 191.3h2.4M332.8 191.5h2.4M332.8 192.4h2.4M332.8 195.4h2.4M332.8 195.7h2.4M332.8 196.4h2.4M332.8 196.5h2.4M332.8 200.1h2.4M332.8 200.7h2.4M332.8 202.7h2.4M332.8 202.9h2.4M332.8 206.1h2.4M332.8 206.6h2.4M332.8 207.7h2.4M332.8 207.9h2.4M332.8 208.5h2.4M332.8 208.9h2.4M332.8 210.5h2.4M332.8 210.7h2.4M332.8 210.8h2.4M332.8 212h2.4M332.8 213h2.4M332.8 214.2h2.4M332.8 214.5h2.4M332.8 217.5h2.4M332.8 218h2.4M332.8 218.6h2.4M332.8 220.3h2.4M332.8 220.8h2.4M332.8 221.8h2.4M332.8 222.6h2.4M332.8 223.1h2.4M332.8 223.5h2.4M332.8 224.1h2.4M332.8 225.6h2.4M332.8 226.1h2.4M332.8 226.4h2.4M332.8 227.9h2.4M332.8 228.3h2.4M332.8 229.6h2.4M332.8 230.1h2.4M332.8 230.6h2.4M332.8 231.7h2.4M332.8 232.4h2.4M332.8 233.1h2.4M332.8 234.5h2.4M332.8 234.6h2.4M332.8 234.7h2.4M332.8 236h2.4M332.8 236.1h2.4M332.8 236.4h2.4M332.8 239.7h2.4M332.8 239.8h2.4M332.8 240h2.4M332.8 240.1h2.4M332.8 242.3h2.4M332.8 242.7h2.4M332.8 242.9h2.4M332.8 244h2.4M332.8 244.4h2.4M332.8 244.8h2.4M332.8 245.7h2.4M332.8 246.4h2.4M332.8 247.4h2.4M332.8 248.6h2.4M332.8 248.7h2.4M332.8 250.4h2.4M332.8 250.5h2.4M332.8 252.9h2.4M332.8 253.8h2.4M332.8 254.2h2.4M332.8 255.4h2.4M332.8 255.6h2.4M332.8 258.3h2.4M332.8 258.4h2.4M332.8 260.1h2.4M332.8 260.8h2.4M332.8 263.6h2.4M332.8 264.3h2.4M332.8 266.6h2.4M332.8 267.2h2.4M332.8 267.6h2.4M332.8 269.7h2.4M332.8 270h2.4M332.8 272.2h2.4M332.8 272.8h2.4M332.8 273.5h2.4M332.8 274.1h2.4M332.8 276.2h2.4M332.8 277.4h2.4M332.8 278.6h2.4M332.8 279.1h2.4M332.8 279.4h2.4M332.8 279.7h2.4M332.8 281.2h2.4M332.8 282.2h2.4M332.8 282.5h2.4M332.8 283.7h2.4M332.8 284.7h2.4M332.8 285.5h2.4M332.8 286.4h2.4M332.8 289.6h2.4M332.8 291.7h2.4M332.8 292h2.4M332.8 293h2.4M332.8 293.4h2.4M332.8 296h2.4M332.8 298.3h2.4M332.8 299h2.4M332.8 300h2.4M332.8 301.3h2.4M332.8 302.1h2.4M332.8 304.9h2.4M332.8 305.3h2.4M332.8 310.6h2.4M332.8 311.7h2.4M332.8 311.9h2.4M332.8 316h2.4M332.8 316.7h2.4M332.8 321.4h2.4M336 183.1h2.4M336 183.9h2.4M336 187.1h2.4M336 187.4h2.4M336 191h2.4M336 192.3h2.4M336 192.8h2.4M336 193.4h2.4M336 194h2.4M336 196.1h2.4M336 197.1h2.4M336 199.6h2.4M336 200.8h2.4M336 201.2h2.4M336 201.3h2.4M336 203.6h2.4M336 204.2h2.4M336 204.4h2.4M336 205h2.4M336 205.1h2.4M336 207.3h2.4M336 209h2.4M336 209.7h2.4M336 211.7h2.4M336 213.3h2.4M336 214.7h2.4M336 215.9h2.4M336 216.4h2.4M336 216.8h2.4M336 217.5h2.4M336 217.8h2.4M336 217.9h2.4M336 218.4h2.4M336 219.5h2.4M336 219.7h2.4M336 221.9h2.4M336 223.2h2.4M336 223.9h2.4M336 224.7h2.4M336 225.9h2.4M336 226.2h2.4M336 226.9h2.4M336 228.7h2.4M336 228.8h2.4M336 229.1h2.4M336 230.2h2.4M336 230.8h2.4M336 231h2.4M336 231.3h2.4M336 232.2h2.4M336 235.7h2.4M336 236h2.4M336 236.2h2.4M336 238.1h2.4M336 239.4h2.4M336 240.5h2.4M336 241h2.4M336 241.4h2.4M336 241.5h2.4M336 241.7h2.4M336 241.8h2.4M336 244h2.4M336 245.8h2.4M336 246.1h2.4M336 246.3h2.4M336 246.4h2.4M336 247.4h2.4M336 249.6h2.4M336 251.6h2.4M336 251.8h2.4M336 252.1h2.4M336 252.2h2.4M336 252.6h2.4M336 253.1h2.4M336 254.1h2.4M336 254.3h2.4M336 258.8h2.4M336 259.5h2.4M336 262.5h2.4M336 263.6h2.4M336 263.9h2.4M336 264.3h2.4M336 266.5h2.4M336 266.7h2.4M336 267.5h2.4M336 270.3h2.4M336 272.1h2.4M336 272.3h2.4M336 273.7h2.4M336 276.3h2.4M336 276.6h2.4M336 278.5h2.4M336 279.5h2.4M336 279.8h2.4M336 281.2h2.4M336 281.6h2.4M336 282.3h2.4M336 282.7h2.4M336 284.1h2.4M336 285.2h2.4M336 286.2h2.4M336 291.6h2.4M336 291.8h2.4M336 291.9h2.4M336 292.5h2.4M336 293.8h2.4M336 296h2.4M336 298.2h2.4M336 299.2h2.4M336 300.7h2.4M336 301.8h2.4M336 302.7h2.4M336 305.7h2.4M336 307.3h2.4M336 311.9h2.4M336 312.7h2.4M336 312.9h2.4M336 318.9h2.4M336 319.2h2.4M336 323.2h2.4M339.2 172.7h2.4M339.2 178.1h2.4M339.2 178.6h2.4M339.2 180.2h2.4M339.2 182.3h2.4M339.2 182.7h2.4M339.2 183.4h2.4M339.2 183.5h2.4M339.2 187.2h2.4M339.2 187.9h2.4M339.2 189.5h2.4M339.2 193.6h2.4M339.2 193.7h2.4M339.2 194.7h2.4M339.2 195h2.4M339.2 195.5h2.4M339.2 198.2h2.4M339.2 198.7h2.4M339.2 199.9h2.4M339.2 202.4h2.4M339.2 203.1h2.4M339.2 205.1h2.4M339.2 208.8h2.4M339.2 209.3h2.4M339.2 209.4h2.4M339.2 209.6h2.4M339.2 209.9h2.4M339.2 212.1h2.4M339.2 213.2h2.4M339.2 213.8h2.4M339.2 214.3h2.4M339.2 214.4h2.4M339.2 214.8h2.4M339.2 217h2.4M339.2 217.2h2.4M339.2 219.9h2.4M339.2 221h2.4M339.2 221.1h2.4M339.2 223.4h2.4M339.2 223.5h2.4M339.2 224.1h2.4M339.2 225h2.4M339.2 225.6h2.4M339.2 225.9h2.4M339.2 227.4h2.4M339.2 227.5h2.4M339.2 228.6h2.4M339.2 231.1h2.4M339.2 231.7h2.4M339.2 232.8h2.4M339.2 235.3h2.4M339.2 236.5h2.4M339.2 237.1h2.4M339.2 237.4h2.4M339.2 238.4h2.4M339.2 239.1h2.4M339.2 239.6h2.4M339.2 239.9h2.4M339.2 241.9h2.4M339.2 243.9h2.4M339.2 244h2.4M339.2 244.4h2.4M339.2 245.2h2.4M339.2 245.5h2.4M339.2 248.3h2.4M339.2 248.5h2.4M339.2 249.5h2.4M339.2 250.4h2.4M339.2 250.9h2.4M339.2 251h2.4M339.2 251.3h2.4M339.2 252.2h2.4M339.2 252.5h2.4M339.2 258.5h2.4M339.2 259.5h2.4M339.2 260.1h2.4M339.2 260.9h2.4M339.2 261.9h2.4M339.2 262.1h2.4M339.2 265.6h2.4M339.2 266.2h2.4M339.2 266.5h2.4M339.2 269.3h2.4M339.2 271.7h2.4M339.2 273h2.4M339.2 273.7h2.4M339.2 274.8h2.4M339.2 278.2h2.4M339.2 278.3h2.4M339.2 279.1h2.4M339.2 279.4h2.4M339.2 281.7h2.4M339.2 281.8h2.4M339.2 282.1h2.4M339.2 282.4h2.4M339.2 284.3h2.4M339.2 284.8h2.4M339.2 287.4h2.4M339.2 291.1h2.4M339.2 291.2h2.4M339.2 291.8h2.4M339.2 295h2.4M339.2 295.6h2.4M339.2 298.4h2.4M339.2 300.3h2.4M339.2 300.9h2.4M339.2 303.4h2.4M339.2 303.7h2.4M339.2 308.1h2.4M339.2 309.1h2.4M339.2 313.5h2.4M339.2 314.3h2.4M339.2 314.9h2.4M339.2 321.1h2.4M339.2 323.1h2.4M339.2 324.5h2.4M342.4 161.2h2.4M342.4 168.7h2.4M342.4 169.7h2.4M342.4 170.1h2.4M342.4 170.2h2.4M342.4 170.3h2.4M342.4 171.8h2.4M342.4 173.5h2.4M342.4 174.5h2.4M342.4 176.1h2.4M342.4 177.9h2.4M342.4 179.4h2.4M342.4 180.3h2.4M342.4 182.6h2.4M342.4 185.9h2.4M342.4 186.1h2.4M342.4 187.6h2.4M342.4 188.3h2.4M342.4 188.8h2.4M342.4 190.1h2.4M342.4 190.3h2.4M342.4 192.5h2.4M342.4 194.7h2.4M342.4 195.4h2.4M342.4 198.3h2.4M342.4 202.3h2.4M342.4 202.5h2.4M342.4 203.5h2.4M342.4 204.5h2.4M342.4 204.8h2.4M342.4 206.2h2.4M342.4 207h2.4M342.4 208.6h2.4M342.4 209.2h2.4M342.4 209.4h2.4M342.4 212.5h2.4M342.4 215h2.4M342.4 215.6h2.4M342.4 216.5h2.4M342.4 216.7h2.4M342.4 217.3h2.4M342.4 217.9h2.4M342.4 218.8h2.4M342.4 219h2.4M342.4 220.4h2.4M342.4 220.5h2.4M342.4 221.1h2.4M342.4 224.5h2.4M342.4 226.1h2.4M342.4 227.4h2.4M342.4 227.6h2.4M342.4 229.4h2.4M342.4 230.5h2.4M342.4 234h2.4M342.4 234.7h2.4M342.4 235.4h2.4M342.4 235.9h2.4M342.4 236.8h2.4M342.4 240.1h2.4M342.4 241.2h2.4M342.4 241.6h2.4M342.4 242.1h2.4M342.4 242.5h2.4M342.4 243.9h2.4M342.4 247h2.4M342.4 247.3h2.4M342.4 247.4h2.4M342.4 247.6h2.4M342.4 247.9h2.4M342.4 248h2.4M342.4 248.7h2.4M342.4 250.2h2.4M342.4 251.5h2.4M342.4 257.2h2.4M342.4 258.2h2.4M342.4 258.5h2.4M342.4 259.6h2.4M342.4 259.9h2.4M342.4 260.8h2.4M342.4 263.9h2.4M342.4 265h2.4M342.4 266.3h2.4M342.4 268.9h2.4M342.4 271h2.4M342.4 271.9h2.4M342.4 272.4h2.4M342.4 273.9h2.4M342.4 277.3h2.4M342.4 278.1h2.4M342.4 278.3h2.4M342.4 279.5h2.4M342.4 280.3h2.4M342.4 280.6h2.4M342.4 281.2h2.4M342.4 283.6h2.4M342.4 284.5h2.4M342.4 289h2.4M342.4 291h2.4M342.4 291.2h2.4M342.4 292.3h2.4M342.4 292.7h2.4M342.4 296.6h2.4M342.4 299.3h2.4M342.4 300.9h2.4M342.4 301.4h2.4M342.4 303.4h2.4M342.4 304.1h2.4M342.4 308.6h2.4M342.4 309h2.4M342.4 314.9h2.4M342.4 315.2h2.4M342.4 322.4h2.4M342.4 325.4h2.4M342.4 327.9h2.4M345.5 150.7h2.4M345.5 160h2.4M345.5 160.2h2.4M345.5 161.1h2.4M345.5 162.5h2.4M345.5 163.1h2.4M345.5 163.2h2.4M345.5 168.1h2.4M345.5 169.4h2.4M345.5 169.5h2.4M345.5 170h2.4M345.5 175.1h2.4M345.5 177.3h2.4M345.5 178.4h2.4M345.5 180.4h2.4M345.5 182.1h2.4M345.5 182.7h2.4M345.5 182.9h2.4M345.5 183.7h2.4M345.5 185.8h2.4M345.5 186.6h2.4M345.5 187.9h2.4M345.5 192.4h2.4M345.5 193.2h2.4M345.5 196h2.4M345.5 196.3h2.4M345.5 197h2.4M345.5 197.2h2.4M345.5 198.3h2.4M345.5 200h2.4M345.5 200.4h2.4M345.5 202.4h2.4M345.5 203.6h2.4M345.5 203.8h2.4M345.5 206.8h2.4M345.5 207.8h2.4M345.5 209.2h2.4M345.5 210.3h2.4M345.5 211.1h2.4M345.5 211.8h2.4M345.5 212.4h2.4M345.5 212.6h2.4M345.5 213.5h2.4M345.5 214.2h2.4M345.5 215.2h2.4M345.5 216.1h2.4M345.5 216.2h2.4M345.5 221.2h2.4M345.5 222h2.4M345.5 222.7h2.4M345.5 223.8h2.4M345.5 226.6h2.4M345.5 226.9h2.4M345.5 230.5h2.4M345.5 231.6h2.4M345.5 231.8h2.4M345.5 232.4h2.4M345.5 233.8h2.4M345.5 234.3h2.4M345.5 237.5h2.4M345.5 237.6h2.4M345.5 239h2.4M345.5 239.3h2.4M345.5 239.5h2.4M345.5 239.8h2.4M345.5 242.2h2.4M345.5 243h2.4M345.5 244h2.4M345.5 244.4h2.4M345.5 244.9h2.4M345.5 246.3h2.4M345.5 246.5h2.4M345.5 250h2.4M345.5 252.3h2.4M345.5 254.1h2.4M345.5 256.3h2.4M345.5 256.6h2.4M345.5 258.9h2.4M345.5 259.2h2.4M345.5 259.4h2.4M345.5 263.9h2.4M345.5 264.3h2.4M345.5 266h2.4M345.5 268.7h2.4M345.5 270.7h2.4M345.5 272.6h2.4M345.5 273.5h2.4M345.5 275.8h2.4M345.5 275.9h2.4M345.5 276.1h2.4M345.5 277.7h2.4M345.5 278.3h2.4M345.5 278.7h2.4M345.5 280.1h2.4M345.5 280.6h2.4M345.5 282h2.4M345.5 283h2.4M345.5 286.9h2.4M345.5 290.1h2.4M345.5 291h2.4M345.5 292.3h2.4M345.5 292.5h2.4M345.5 295.5h2.4M345.5 297.1h2.4M345.5 299.9h2.4M345.5 301.3h2.4M345.5 301.7h2.4M345.5 303h2.4M345.5 303.4h2.4M345.5 308.2h2.4M345.5 310.3h2.4M345.5 315h2.4M345.5 315.4h2.4M345.5 315.7h2.4M345.5 323.1h2.4M345.5 325.5h2.4M345.5 329h2.4M348.7 140.9h2.4M348.7 142.8h2.4M348.7 148.7h2.4M348.7 151h2.4M348.7 151.7h2.4M348.7 154.9h2.4M348.7 155.2h2.4M348.7 156.2h2.4M348.7 159.2h2.4M348.7 161.4h2.4M348.7 161.6h2.4M348.7 162.6h2.4M348.7 162.8h2.4M348.7 167.7h2.4M348.7 168.7h2.4M348.7 170.7h2.4M348.7 170.9h2.4M348.7 173.3h2.4M348.7 175.7h2.4M348.7 176h2.4M348.7 176.4h2.4M348.7 176.5h2.4M348.7 176.8h2.4M348.7 179.6h2.4M348.7 180.6h2.4M348.7 186.2h2.4M348.7 187.5h2.4M348.7 189h2.4M348.7 190h2.4M348.7 190.1h2.4M348.7 192.7h2.4M348.7 193.4h2.4M348.7 193.9h2.4M348.7 196.6h2.4M348.7 198h2.4M348.7 198.4h2.4M348.7 200.7h2.4M348.7 203.4h2.4M348.7 203.9h2.4M348.7 204.9h2.4M348.7 206.8h2.4M348.7 206.9h2.4M348.7 207.1h2.4M348.7 207.9h2.4M348.7 209h2.4M348.7 209.1h2.4M348.7 209.5h2.4M348.7 210.8h2.4M348.7 211.2h2.4M348.7 217.8h2.4M348.7 218.1h2.4M348.7 218.9h2.4M348.7 220.2h2.4M348.7 220.8h2.4M348.7 223.2h2.4M348.7 223.8h2.4M348.7 226.5h2.4M348.7 227.8h2.4M348.7 229.3h2.4M348.7 231.3h2.4M348.7 232.1h2.4M348.7 234.8h2.4M348.7 235.2h2.4M348.7 235.6h2.4M348.7 236.3h2.4M348.7 236.9h2.4M348.7 238.6h2.4M348.7 239.6h2.4M348.7 240.4h2.4M348.7 241.9h2.4M348.7 244h2.4M348.7 244.8h2.4M348.7 245h2.4M348.7 245.3h2.4M348.7 248.4h2.4M348.7 250.4h2.4M348.7 251h2.4M348.7 255.3h2.4M348.7 255.6h2.4M348.7 256.1h2.4M348.7 256.2h2.4M348.7 258.9h2.4M348.7 261.8h2.4M348.7 263.4h2.4M348.7 264h2.4M348.7 267.2h2.4M348.7 268.5h2.4M348.7 270.2h2.4M348.7 271h2.4M348.7 272h2.4M348.7 272.3h2.4M348.7 273.7h2.4M348.7 274.2h2.4M348.7 275.1h2.4M348.7 277.3h2.4M348.7 279.3h2.4M348.7 279.4h2.4M348.7 280.5h2.4M348.7 280.7h2.4M348.7 282.6h2.4M348.7 286h2.4M348.7 290.1h2.4M348.7 290.9h2.4M348.7 291.4h2.4M348.7 293.5h2.4M348.7 295.1h2.4M348.7 295.4h2.4M348.7 300.3h2.4M348.7 301.7h2.4M348.7 302h2.4M348.7 302.4h2.4M348.7 303h2.4M348.7 308.6h2.4M348.7 309.7h2.4M348.7 314.8h2.4M348.7 315.8h2.4M348.7 316.4h2.4M348.7 324.2h2.4M348.7 326.4h2.4M348.7 331.7h2.4M351.9 135.6h2.4M351.9 139.5h2.4M351.9 141.1h2.4M351.9 142.3h2.4M351.9 146.6h2.4M351.9 146.8h2.4M351.9 147.8h2.4M351.9 150.4h2.4M351.9 152.8h2.4M351.9 153.3h2.4M351.9 155.1h2.4M351.9 157.1h2.4M351.9 160.5h2.4M351.9 160.6h2.4M351.9 162.9h2.4M351.9 163.7h2.4M351.9 165.2h2.4M351.9 167.2h2.4M351.9 168.4h2.4M351.9 169.1h2.4M351.9 169.8h2.4M351.9 170.7h2.4M351.9 172.7h2.4M351.9 173.5h2.4M351.9 180.5h2.4M351.9 180.8h2.4M351.9 181.7h2.4M351.9 182.7h2.4M351.9 183.8h2.4M351.9 184.7h2.4M351.9 186.7h2.4M351.9 187.1h2.4M351.9 187.2h2.4M351.9 191.7h2.4M351.9 191.9h2.4M351.9 193.2h2.4M351.9 193.5h2.4M351.9 198.6h2.4M351.9 199.4h2.4M351.9 201.3h2.4M351.9 201.9h2.4M351.9 202.2h2.4M351.9 202.6h2.4M351.9 203.4h2.4M351.9 204.6h2.4M351.9 205.2h2.4M351.9 207.1h2.4M351.9 207.8h2.4M351.9 214h2.4M351.9 214.6h2.4M351.9 215.6h2.4M351.9 216.4h2.4M351.9 216.5h2.4M351.9 218.1h2.4M351.9 219h2.4M351.9 221.9h2.4M351.9 222.9h2.4M351.9 225.3h2.4M351.9 225.6h2.4M351.9 230.4h2.4M351.9 231.1h2.4M351.9 231.9h2.4M351.9 232.4h2.4M351.9 232.9h2.4M351.9 233.6h2.4M351.9 234.8h2.4M351.9 234.9h2.4M351.9 237.8h2.4M351.9 238.9h2.4M351.9 242.3h2.4M351.9 243.5h2.4M351.9 243.6h2.4M351.9 246h2.4M351.9 249.1h2.4M351.9 250.6h2.4M351.9 253h2.4M351.9 253.3h2.4M351.9 253.7h2.4M351.9 254h2.4M351.9 257.6h2.4M351.9 260.5h2.4M351.9 262.1h2.4M351.9 263.6h2.4M351.9 265h2.4M351.9 265.8h2.4M351.9 268.5h2.4M351.9 270h2.4M351.9 271.6h2.4M351.9 273.4h2.4M351.9 274h2.4M351.9 275.5h2.4M351.9 276.5h2.4M351.9 276.6h2.4M351.9 278.1h2.4M351.9 278.6h2.4M351.9 281.1h2.4M351.9 281.5h2.4M351.9 283.7h2.4M351.9 286.8h2.4M351.9 291.1h2.4M351.9 293h2.4M351.9 294h2.4M351.9 294.2h2.4M351.9 294.6h2.4M351.9 300.3h2.4M351.9 301.2h2.4M351.9 301.5h2.4M351.9 301.9h2.4M351.9 309.8h2.4M351.9 310.3h2.4M351.9 314.1h2.4M351.9 315.2h2.4M351.9 317.5h2.4M351.9 323.9h2.4M351.9 325.5h2.4M351.9 331.7h2.4M355.1 128.6h2.4M355.1 128.8h2.4M355.1 131.9h2.4M355.1 132.5h2.4M355.1 135.7h2.4M355.1 136.8h2.4M355.1 137.3h2.4M355.1 140.7h2.4M355.1 142.9h2.4M355.1 143.5h2.4M355.1 144.3h2.4M355.1 145h2.4M355.1 149.9h2.4M355.1 151.1h2.4M355.1 151.9h2.4M355.1 152.1h2.4M355.1 154.6h2.4M355.1 157.6h2.4M355.1 157.7h2.4M355.1 160.9h2.4M355.1 161h2.4M355.1 161.6h2.4M355.1 162.2h2.4M355.1 163h2.4M355.1 165.1h2.4M355.1 172.2h2.4M355.1 173.3h2.4M355.1 174.1h2.4M355.1 176.6h2.4M355.1 177.4h2.4M355.1 179.2h2.4M355.1 179.5h2.4M355.1 181.3h2.4M355.1 186.5h2.4M355.1 186.7h2.4M355.1 186.8h2.4M355.1 188.4h2.4M355.1 192.1h2.4M355.1 194.4h2.4M355.1 194.5h2.4M355.1 195.1h2.4M355.1 195.4h2.4M355.1 195.6h2.4M355.1 197.8h2.4M355.1 200.8h2.4M355.1 201.6h2.4M355.1 201.7h2.4M355.1 202.5h2.4M355.1 209.6h2.4M355.1 211.3h2.4M355.1 212.3h2.4M355.1 213h2.4M355.1 213.3h2.4M355.1 216.4h2.4M355.1 217.9h2.4M355.1 220.2h2.4M355.1 220.8h2.4M355.1 222.3h2.4M355.1 225.3h2.4M355.1 227.3h2.4M355.1 227.6h2.4M355.1 228h2.4M355.1 228.9h2.4M355.1 229.3h2.4M355.1 230.2h2.4M355.1 230.5h2.4M355.1 233.7h2.4M355.1 234.6h2.4M355.1 238.4h2.4M355.1 239.8h2.4M355.1 240.7h2.4M355.1 241.1h2.4M355.1 241.3h2.4M355.1 243.3h2.4M355.1 246.5h2.4M355.1 249.9h2.4M355.1 250.2h2.4M355.1 250.6h2.4M355.1 252.1h2.4M355.1 253.5h2.4M355.1 258.1h2.4M355.1 258.7h2.4M355.1 260h2.4M355.1 262.3h2.4M355.1 263.4h2.4M355.1 264.5h2.4M355.1 267.2h2.4M355.1 267.9h2.4M355.1 269.2h2.4M355.1 271.2h2.4M355.1 271.9h2.4M355.1 272.1h2.4M355.1 275.1h2.4M355.1 276.5h2.4M355.1 277.2h2.4M355.1 277.6h2.4M355.1 280.6h2.4M355.1 280.7h2.4M355.1 281.4h2.4M355.1 281.7h2.4M355.1 282h2.4M355.1 283h2.4M355.1 290h2.4M355.1 290.6h2.4M355.1 292.6h2.4M355.1 293.5h2.4M355.1 295h2.4M355.1 298.5h2.4M355.1 300.1h2.4M355.1 301.3h2.4M355.1 302.1h2.4M355.1 303h2.4M355.1 310.7h2.4M355.1 310.8h2.4M355.1 313.4h2.4M355.1 316h2.4M355.1 317.7h2.4M355.1 324.8h2.4M355.1 326.7h2.4M355.1 331.2h2.4M358.3 114.9h2.4M358.3 118h2.4M358.3 122.9h2.4M358.3 123.3h2.4M358.3 123.6h2.4M358.3 124.7h2.4M358.3 125.3h2.4M358.3 130.2h2.4M358.3 130.5h2.4M358.3 132.9h2.4M358.3 133.8h2.4M358.3 134.3h2.4M358.3 139.2h2.4M358.3 139.6h2.4M358.3 141.6h2.4M358.3 143.9h2.4M358.3 144.2h2.4M358.3 145.1h2.4M358.3 148.1h2.4M358.3 151.1h2.4M358.3 152.1h2.4M358.3 152.4h2.4M358.3 153h2.4M358.3 154.5h2.4M358.3 156.6h2.4M358.3 162.5h2.4M358.3 165.1h2.4M358.3 166.5h2.4M358.3 166.7h2.4M358.3 169.5h2.4M358.3 170.2h2.4M358.3 171.6h2.4M358.3 172h2.4M358.3 175h2.4M358.3 179.7h2.4M358.3 181h2.4M358.3 181.1h2.4M358.3 183.1h2.4M358.3 183.4h2.4M358.3 187h2.4M358.3 187.5h2.4M358.3 187.8h2.4M358.3 188.9h2.4M358.3 191.3h2.4M358.3 195.3h2.4M358.3 195.5h2.4M358.3 197.8h2.4M358.3 198.5h2.4M358.3 204.2h2.4M358.3 206h2.4M358.3 206.8h2.4M358.3 208.4h2.4M358.3 208.8h2.4M358.3 208.9h2.4M358.3 213.3h2.4M358.3 214h2.4M358.3 215.5h2.4M358.3 218.9h2.4M358.3 219.4h2.4M358.3 220.7h2.4M358.3 224.1h2.4M358.3 225h2.4M358.3 225.1h2.4M358.3 225.5h2.4M358.3 226.6h2.4M358.3 227.7h2.4M358.3 228.7h2.4M358.3 229.8h2.4M358.3 231.8h2.4M358.3 236.4h2.4M358.3 236.8h2.4M358.3 236.9h2.4M358.3 237.2h2.4M358.3 238.6h2.4M358.3 239.3h2.4M358.3 243.6h2.4M358.3 247.5h2.4M358.3 248.4h2.4M358.3 249.7h2.4M358.3 250.1h2.4M358.3 251.6h2.4M358.3 255h2.4M358.3 256.6h2.4M358.3 257.6h2.4M358.3 260.2h2.4M358.3 261.4h2.4M358.3 263.4h2.4M358.3 264.1h2.4M358.3 265.2h2.4M358.3 265.7h2.4M358.3 270.5h2.4M358.3 271h2.4M358.3 271.8h2.4M358.3 273.1h2.4M358.3 274.2h2.4M358.3 276.8h2.4M358.3 278.6h2.4M358.3 279.6h2.4M358.3 280.7h2.4M358.3 281.5h2.4M358.3 281.9h2.4M358.3 282.2h2.4M358.3 282.5h2.4M358.3 285.6h2.4M358.3 288.4h2.4M358.3 292.2h2.4M358.3 293.2h2.4M358.3 293.6h2.4M358.3 297.7h2.4M358.3 298.5h2.4M358.3 300.9h2.4M358.3 302.2h2.4M358.3 303.1h2.4M358.3 310.9h2.4M358.3 311.5h2.4M358.3 312.2h2.4M358.3 316.1h2.4M358.3 317.7h2.4M358.3 325.1h2.4M358.3 328.1h2.4M358.3 331.5h2.4M361.5 104.2h2.4M361.5 108h2.4M361.5 110.5h2.4M361.5 113h2.4M361.5 115.4h2.4M361.5 117.1h2.4M361.5 117.3h2.4M361.5 118.6h2.4M361.5 119.6h2.4M361.5 122.5h2.4M361.5 124.4h2.4M361.5 124.7h2.4M361.5 127.3h2.4M361.5 130.3h2.4M361.5 132.3h2.4M361.5 135.7h2.4M361.5 136.4h2.4M361.5 137.5h2.4M361.5 140.1h2.4M361.5 143.6h2.4M361.5 144.2h2.4M361.5 144.7h2.4M361.5 146h2.4M361.5 146.6h2.4M361.5 148.6h2.4M361.5 153.5h2.4M361.5 158.4h2.4M361.5 159h2.4M361.5 161.2h2.4M361.5 161.6h2.4M361.5 163.1h2.4M361.5 164.7h2.4M361.5 165.2h2.4M361.5 170.3h2.4M361.5 174.2h2.4M361.5 175.6h2.4M361.5 175.7h2.4M361.5 176.5h2.4M361.5 177h2.4M361.5 177.9h2.4M361.5 181.3h2.4M361.5 181.7h2.4M361.5 183.3h2.4M361.5 184.2h2.4M361.5 186.1h2.4M361.5 187h2.4M361.5 187.3h2.4M361.5 188.4h2.4M361.5 193.1h2.4M361.5 193.9h2.4M361.5 199.1h2.4M361.5 200.7h2.4M361.5 202.5h2.4M361.5 204.1h2.4M361.5 204.9h2.4M361.5 205.7h2.4M361.5 210.1h2.4M361.5 210.6h2.4M361.5 211.3h2.4M361.5 214h2.4M361.5 214.4h2.4M361.5 217.9h2.4M361.5 220.1h2.4M361.5 220.6h2.4M361.5 223h2.4M361.5 223.1h2.4M361.5 223.6h2.4M361.5 223.7h2.4M361.5 225.2h2.4M361.5 225.6h2.4M361.5 226.6h2.4M361.5 231.8h2.4M361.5 233.4h2.4M361.5 233.6h2.4M361.5 234.2h2.4M361.5 234.8h2.4M361.5 236h2.4M361.5 242.3h2.4M361.5 244h2.4M361.5 246.8h2.4M361.5 247.3h2.4M361.5 248.1h2.4M361.5 249.8h2.4M361.5 252.7h2.4M361.5 255.1h2.4M361.5 257.7h2.4M361.5 259h2.4M361.5 259.6h2.4M361.5 262.2h2.4M361.5 264.3h2.4M361.5 267.1h2.4M361.5 269h2.4M361.5 269.7h2.4M361.5 270.5h2.4M361.5 271.2h2.4M361.5 273.1h2.4M361.5 275.2h2.4M361.5 275.8h2.4M361.5 277.2h2.4M361.5 279.6h2.4M361.5 281.4h2.4M361.5 281.7h2.4M361.5 282h2.4M361.5 282.8h2.4M361.5 283.1h2.4M361.5 288.7h2.4M361.5 291.8h2.4M361.5 293.8h2.4M361.5 294.2h2.4M361.5 296.8h2.4M361.5 297.7h2.4M361.5 300.3h2.4M361.5 301.8h2.4M361.5 302.9h2.4M361.5 310h2.4M361.5 311.2h2.4M361.5 312.7h2.4M361.5 316.7h2.4M361.5 318.3h2.4M361.5 325.6h2.4M361.5 329.1h2.4M361.5 331.8h2.4M364.7 101.3h2.4M364.7 101.6h2.4M364.7 105.3h2.4M364.7 106.7h2.4M364.7 108h2.4M364.7 108.9h2.4M364.7 109.5h2.4M364.7 111.4h2.4M364.7 112.3h2.4M364.7 115.9h2.4M364.7 116h2.4M364.7 121h2.4M364.7 121.7h2.4M364.7 125.8h2.4M364.7 128.5h2.4M364.7 129.8h2.4M364.7 131.4h2.4M364.7 131.5h2.4M364.7 137.5h2.4M364.7 137.8h2.4M364.7 138.4h2.4M364.7 140.5h2.4M364.7 141.2h2.4M364.7 142.2h2.4M364.7 148.7h2.4M364.7 152.9h2.4M364.7 154.2h2.4M364.7 155h2.4M364.7 155.1h2.4M364.7 155.3h2.4M364.7 158.2h2.4M364.7 158.6h2.4M364.7 165.7h2.4M364.7 169.1h2.4M364.7 170.9h2.4M364.7 171.2h2.4M364.7 171.4h2.4M364.7 172.3h2.4M364.7 172.6h2.4M364.7 175.7h2.4M364.7 177.4h2.4M364.7 178.6h2.4M364.7 179.3h2.4M364.7 179.6h2.4M364.7 180h2.4M364.7 181.1h2.4M364.7 183.7h2.4M364.7 189h2.4M364.7 190.2h2.4M364.7 194.3h2.4M364.7 194.4h2.4M364.7 197.6h2.4M364.7 199.3h2.4M364.7 199.8h2.4M364.7 204h2.4M364.7 205.5h2.4M364.7 207.7h2.4M364.7 207.8h2.4M364.7 210.7h2.4M364.7 210.9h2.4M364.7 214.7h2.4M364.7 216.4h2.4M364.7 217h2.4M364.7 217.8h2.4M364.7 218.5h2.4M364.7 219.1h2.4M364.7 220.5h2.4M364.7 220.6h2.4M364.7 222.9h2.4M364.7 223.3h2.4M364.7 228.2h2.4M364.7 230.9h2.4M364.7 231h2.4M364.7 231.3h2.4M364.7 232.8h2.4M364.7 233.5h2.4M364.7 237.8h2.4M364.7 239.8h2.4M364.7 243.5h2.4M364.7 244.7h2.4M364.7 247.1h2.4M364.7 249.5h2.4M364.7 253h2.4M364.7 253.5h2.4M364.7 256h2.4M364.7 257.4h2.4M364.7 258.7h2.4M364.7 259h2.4M364.7 262h2.4M364.7 262.9h2.4M364.7 264.6h2.4M364.7 267h2.4M364.7 267.3h2.4M364.7 268.4h2.4M364.7 268.8h2.4M364.7 271.1h2.4M364.7 272.9h2.4M364.7 275h2.4M364.7 276.5h2.4M364.7 278.3h2.4M364.7 278.8h2.4M364.7 280.8h2.4M364.7 282.8h2.4M364.7 283.2h2.4M364.7 284.3h2.4M364.7 288.9h2.4M364.7 291.1h2.4M364.7 293.2h2.4M364.7 293.3h2.4M364.7 294.9h2.4M364.7 297.5h2.4M364.7 299h2.4M364.7 301.7h2.4M364.7 302h2.4M364.7 310.1h2.4M364.7 311.5h2.4M364.7 312.3h2.4M364.7 316.7h2.4M364.7 320.2h2.4M364.7 326.7h2.4M364.7 329.4h2.4M364.7 333.1h2.4M367.9 92.6h2.4M367.9 94h2.4M367.9 97.7h2.4M367.9 102.3h2.4M367.9 104.4h2.4M367.9 106.2h2.4M367.9 107.4h2.4M367.9 108.3h2.4M367.9 109.4h2.4M367.9 112.2h2.4M367.9 115.2h2.4M367.9 118.4h2.4M367.9 121.9h2.4M367.9 122.1h2.4M367.9 124.2h2.4M367.9 124.6h2.4M367.9 130.8h2.4M367.9 131.2h2.4M367.9 132.7h2.4M367.9 134.1h2.4M367.9 134.6h2.4M367.9 143.4h2.4M367.9 146h2.4M367.9 146.6h2.4M367.9 147.1h2.4M367.9 147.3h2.4M367.9 148.2h2.4M367.9 151.2h2.4M367.9 152.9h2.4M367.9 161.8h2.4M367.9 163.4h2.4M367.9 165.3h2.4M367.9 165.6h2.4M367.9 167.1h2.4M367.9 167.5h2.4M367.9 168.3h2.4M367.9 169.2h2.4M367.9 172.8h2.4M367.9 173.6h2.4M367.9 173.8h2.4M367.9 174.8h2.4M367.9 177h2.4M367.9 178h2.4M367.9 185.2h2.4M367.9 186.3h2.4M367.9 187.9h2.4M367.9 189.6h2.4M367.9 192.2h2.4M367.9 193.4h2.4M367.9 197.7h2.4M367.9 200.8h2.4M367.9 202.2h2.4M367.9 203.7h2.4M367.9 204.8h2.4M367.9 206.4h2.4M367.9 206.8h2.4M367.9 211.7h2.4M367.9 212h2.4M367.9 212.5h2.4M367.9 214.5h2.4M367.9 216h2.4M367.9 216.6h2.4M367.9 217.3h2.4M367.9 218h2.4M367.9 219h2.4M367.9 220.9h2.4M367.9 225.8h2.4M367.9 227.4h2.4M367.9 228.9h2.4M367.9 229.3h2.4M367.9 231.2h2.4M367.9 233.2h2.4M367.9 234.4h2.4M367.9 234.9h2.4M367.9 240.2h2.4M367.9 244.1h2.4M367.9 245h2.4M367.9 248.6h2.4M367.9 251.9h2.4M367.9 253.3h2.4M367.9 253.4h2.4M367.9 254.1h2.4M367.9 256.9h2.4M367.9 258.9h2.4M367.9 259.2h2.4M367.9 260.7h2.4M367.9 263h2.4M367.9 263.3h2.4M367.9 267h2.4M367.9 267.4h2.4M367.9 268.5h2.4M367.9 269.5h2.4M367.9 269.6h2.4M367.9 270.1h2.4M367.9 276h2.4M367.9 277.9h2.4M367.9 280.3h2.4M367.9 280.4h2.4M367.9 281.9h2.4M367.9 283.6h2.4M367.9 284.7h2.4M367.9 286.4h2.4M367.9 290.5h2.4M367.9 291.4h2.4M367.9 291.9h2.4M367.9 295.3h2.4M367.9 296.3h2.4M367.9 298h2.4M367.9 300.4h2.4M367.9 300.5h2.4M367.9 308h2.4M367.9 310.7h2.4M367.9 313.9h2.4M367.9 318.3h2.4M367.9 324.5h2.4M367.9 326.4h2.4M367.9 330.5h2.4M371.1 81h2.4M371.1 85.8h2.4M371.1 88.5h2.4M371.1 92.4h2.4M371.1 94.8h2.4M371.1 95.7h2.4M371.1 98.1h2.4M371.1 101.7h2.4M371.1 102.6h2.4M371.1 102.7h2.4M371.1 102.9h2.4M371.1 108h2.4M371.1 111h2.4M371.1 112.5h2.4M371.1 115.3h2.4M371.1 116.8h2.4M371.1 117.5h2.4M371.1 119.1h2.4M371.1 125.1h2.4M371.1 125.3h2.4M371.1 127.9h2.4M371.1 128.4h2.4M371.1 128.9h2.4M371.1 130.7h2.4M371.1 138.3h2.4M371.1 138.9h2.4M371.1 139.6h2.4M371.1 140.1h2.4M371.1 140.5h2.4M371.1 143.3h2.4M371.1 145.3h2.4M371.1 145.6h2.4M371.1 157h2.4M371.1 157.8h2.4M371.1 159.3h2.4M371.1 159.9h2.4M371.1 162.6h2.4M371.1 162.8h2.4M371.1 163.8h2.4M371.1 164.9h2.4M371.1 166.9h2.4M371.1 168.1h2.4M371.1 168.3h2.4M371.1 169.2h2.4M371.1 170.5h2.4M371.1 172.7h2.4M371.1 173.8h2.4M371.1 181.6h2.4M371.1 183.2h2.4M371.1 183.6h2.4M371.1 185.6h2.4M371.1 187.5h2.4M371.1 188.7h2.4M371.1 195.2h2.4M371.1 196.7h2.4M371.1 198.3h2.4M371.1 198.9h2.4M371.1 202.9h2.4M371.1 203.1h2.4M371.1 203.3h2.4M371.1 208.2h2.4M371.1 209.1h2.4M371.1 209.7h2.4M371.1 210.3h2.4M371.1 213.8h2.4M371.1 214.2h2.4M371.1 214.6h2.4M371.1 216.3h2.4M371.1 220h2.4M371.1 223.3h2.4M371.1 225.1h2.4M371.1 226.1h2.4M371.1 227.2h2.4M371.1 229.5h2.4M371.1 231.8h2.4M371.1 232.1h2.4M371.1 232.5h2.4M371.1 237.9h2.4M371.1 240.9h2.4M371.1 245.1h2.4M371.1 247.2h2.4M371.1 250.1h2.4M371.1 250.2h2.4M371.1 251.7h2.4M371.1 254.4h2.4M371.1 255.2h2.4M371.1 256.4h2.4M371.1 256.6h2.4M371.1 259.9h2.4M371.1 261h2.4M371.1 264.6h2.4M371.1 265.4h2.4M371.1 265.8h2.4M371.1 267.3h2.4M371.1 267.4h2.4M371.1 270.8h2.4M371.1 275.3h2.4M371.1 275.8h2.4M371.1 279.1h2.4M371.1 279.4h2.4M371.1 280.3h2.4M371.1 281.2h2.4M371.1 282.5h2.4M371.1 285.5h2.4M371.1 289.7h2.4M371.1 290.4h2.4M371.1 291.3h2.4M371.1 293.3h2.4M371.1 294.8h2.4M371.1 297.3h2.4M371.1 298.1h2.4M371.1 300.3h2.4M371.1 306h2.4M371.1 307.6h2.4M371.1 309.5h2.4M371.1 311.7h2.4M371.1 315.6h2.4M371.1 322.3h2.4M371.1 322.8h2.4M371.1 327.1h2.4M374.2 81.3h2.4M374.2 83.6h2.4M374.2 86.5h2.4M374.2 89.8h2.4M374.2 90h2.4M374.2 91h2.4M374.2 91.8h2.4M374.2 93.4h2.4M374.2 95.1h2.4M374.2 97.1h2.4M374.2 98.2h2.4M374.2 98.4h2.4M374.2 104.1h2.4M374.2 104.7h2.4M374.2 105.5h2.4M374.2 110.4h2.4M374.2 110.9h2.4M374.2 111.1h2.4M374.2 115.6h2.4M374.2 118.9h2.4M374.2 120.3h2.4M374.2 121.9h2.4M374.2 123.6h2.4M374.2 124.4h2.4M374.2 125.2h2.4M374.2 132.8h2.4M374.2 134.1h2.4M374.2 134.3h2.4M374.2 134.5h2.4M374.2 134.6h2.4M374.2 139.5h2.4M374.2 140h2.4M374.2 140.7h2.4M374.2 150.7h2.4M374.2 152.8h2.4M374.2 153.5h2.4M374.2 153.8h2.4M374.2 155.6h2.4M374.2 158.4h2.4M374.2 158.7h2.4M374.2 160.7h2.4M374.2 162.2h2.4M374.2 162.9h2.4M374.2 163.4h2.4M374.2 164.8h2.4M374.2 166h2.4M374.2 167.6h2.4M374.2 169.8h2.4M374.2 177.1h2.4M374.2 179.7h2.4M374.2 181.4h2.4M374.2 181.6h2.4M374.2 183.3h2.4M374.2 186h2.4M374.2 189.4h2.4M374.2 189.6h2.4M374.2 193.4h2.4M374.2 195.2h2.4M374.2 195.8h2.4M374.2 199.3h2.4M374.2 199.6h2.4M374.2 202.8h2.4M374.2 203h2.4M374.2 206.7h2.4M374.2 209.2h2.4M374.2 209.3h2.4M374.2 211.7h2.4M374.2 212.7h2.4M374.2 213.2h2.4M374.2 214.5h2.4M374.2 216.7h2.4M374.2 221.3h2.4M374.2 224h2.4M374.2 224.6h2.4M374.2 225h2.4M374.2 225.9h2.4M374.2 227.5h2.4M374.2 228.2h2.4M374.2 230.9h2.4M374.2 234.4h2.4M374.2 237.6h2.4M374.2 244.9h2.4M374.2 245.5h2.4M374.2 248.5h2.4M374.2 249.3h2.4M374.2 251.2h2.4M374.2 252.6h2.4M374.2 253.3h2.4M374.2 253.8h2.4M374.2 254.7h2.4M374.2 256.3h2.4M374.2 258.8h2.4M374.2 261.7h2.4M374.2 261.9h2.4M374.2 262.2h2.4M374.2 264.9h2.4M374.2 266.2h2.4M374.2 271.7h2.4M374.2 272.9h2.4M374.2 274.2h2.4M374.2 276.7h2.4M374.2 277.3h2.4M374.2 277.7h2.4M374.2 280.2h2.4M374.2 281.4h2.4M374.2 283.6h2.4M374.2 287.7h2.4M374.2 289.4h2.4M374.2 290.4h2.4M374.2 291.4h2.4M374.2 293.9h2.4M374.2 295.9h2.4M374.2 296h2.4M374.2 298.8h2.4M374.2 303h2.4M374.2 307.5h2.4M374.2 307.7h2.4M374.2 308.3h2.4M374.2 311.1h2.4M374.2 319h2.4M374.2 320h2.4M374.2 322.5h2.4M377.4 70.4h2.4M377.4 78.5h2.4M377.4 80.3h2.4M377.4 85.1h2.4M377.4 85.2h2.4M377.4 85.5h2.4M377.4 86.7h2.4M377.4 87.8h2.4M377.4 88.4h2.4M377.4 92.9h2.4M377.4 93.1h2.4M377.4 93.7h2.4M377.4 98.7h2.4M377.4 99h2.4M377.4 100.9h2.4M377.4 106h2.4M377.4 106.4h2.4M377.4 107h2.4M377.4 112.2h2.4M377.4 113.2h2.4M377.4 113.7h2.4M377.4 117.4h2.4M377.4 119.7h2.4M377.4 120.3h2.4M377.4 121.4h2.4M377.4 127.7h2.4M377.4 129.4h2.4M377.4 129.7h2.4M377.4 130.1h2.4M377.4 130.7h2.4M377.4 135.1h2.4M377.4 135.6h2.4M377.4 136h2.4M377.4 147.4h2.4M377.4 148.9h2.4M377.4 149.7h2.4M377.4 149.8h2.4M377.4 150.7h2.4M377.4 152.1h2.4M377.4 156.5h2.4M377.4 158.2h2.4M377.4 158.9h2.4M377.4 159.2h2.4M377.4 159.9h2.4M377.4 160h2.4M377.4 162.5h2.4M377.4 164.6h2.4M377.4 166.6h2.4M377.4 174h2.4M377.4 176.9h2.4M377.4 177.6h2.4M377.4 179.9h2.4M377.4 181.2h2.4M377.4 184.4h2.4M377.4 184.5h2.4M377.4 185.6h2.4M377.4 190.5h2.4M377.4 191.5h2.4M377.4 193.2h2.4M377.4 194.6h2.4M377.4 197.2h2.4M377.4 199.3h2.4M377.4 200.8h2.4M377.4 202.8h2.4M377.4 205.6h2.4M377.4 207.8h2.4M377.4 208.2h2.4M377.4 210.1h2.4M377.4 212.1h2.4M377.4 212.3h2.4M377.4 213h2.4M377.4 219.4h2.4M377.4 221.6h2.4M377.4 221.7h2.4M377.4 222.6h2.4M377.4 222.8h2.4M377.4 224.7h2.4M377.4 226.9h2.4M377.4 228.3h2.4M377.4 233.6h2.4M377.4 233.7h2.4M377.4 240.4h2.4M377.4 244.7h2.4M377.4 245.7h2.4M377.4 246.7h2.4M377.4 247.8h2.4M377.4 248.1h2.4M377.4 250.2h2.4M377.4 251h2.4M377.4 252.6h2.4M377.4 253.1h2.4M377.4 253.7h2.4M377.4 257.1h2.4M377.4 258.6h2.4M377.4 260.9h2.4M377.4 261.4h2.4M377.4 261.9h2.4M377.4 267h2.4M377.4 269.3h2.4M377.4 270.7h2.4M377.4 272h2.4M377.4 274.5h2.4M377.4 275.9h2.4M377.4 276.8h2.4M377.4 278.6h2.4M377.4 279.8h2.4M377.4 282h2.4M377.4 286.3h2.4M377.4 287.7h2.4M377.4 289.7h2.4M377.4 290.8h2.4M377.4 292.6h2.4M377.4 292.8h2.4M377.4 294.2h2.4M377.4 297.7h2.4M377.4 301.8h2.4M377.4 305.6h2.4M377.4 306h2.4M377.4 308.9h2.4M377.4 317.1h2.4M377.4 317.8h2.4M377.4 320.5h2.4M380.6 67.6h2.4M380.6 76.2h2.4M380.6 77h2.4M380.6 77.7h2.4M380.6 79.2h2.4M380.6 80.7h2.4M380.6 81.7h2.4M380.6 82.5h2.4M380.6 83.8h2.4M380.6 84.6h2.4M380.6 88.3h2.4M380.6 89h2.4M380.6 90.5h2.4M380.6 94.3h2.4M380.6 96.2h2.4M380.6 97.9h2.4M380.6 101.4h2.4M380.6 102.4h2.4M380.6 102.8h2.4M380.6 107.5h2.4M380.6 110.7h2.4M380.6 111.6h2.4M380.6 115.1h2.4M380.6 115.4h2.4M380.6 116.2h2.4M380.6 116.9h2.4M380.6 124.4h2.4M380.6 125.4h2.4M380.6 125.9h2.4M380.6 126.3h2.4M380.6 126.8h2.4M380.6 132.1h2.4M380.6 133h2.4M380.6 134h2.4M380.6 145.1h2.4M380.6 145.2h2.4M380.6 145.3h2.4M380.6 145.6h2.4M380.6 146.6h2.4M380.6 147.9h2.4M380.6 154h2.4M380.6 154.7h2.4M380.6 155.2h2.4M380.6 156h2.4M380.6 156.9h2.4M380.6 158.2h2.4M380.6 158.8h2.4M380.6 163h2.4M380.6 164.2h2.4M380.6 171h2.4M380.6 172.7h2.4M380.6 176.6h2.4M380.6 176.8h2.4M380.6 177h2.4M380.6 178.4h2.4M380.6 181.3h2.4M380.6 183.3h2.4M380.6 187.9h2.4M380.6 190.5h2.4M380.6 191h2.4M380.6 194.9h2.4M380.6 195.3h2.4M380.6 198h2.4M380.6 199.2h2.4M380.6 201.1h2.4M380.6 204.7h2.4M380.6 207.7h2.4M380.6 208h2.4M380.6 208.2h2.4M380.6 209.8h2.4M380.6 211.6h2.4M380.6 217.3h2.4M380.6 218.4h2.4M380.6 219.2h2.4M380.6 220.7h2.4M380.6 222.7h2.4M380.6 224.6h2.4M380.6 225.9h2.4M380.6 230.5h2.4M380.6 232.3h2.4M380.6 237.3h2.4M380.6 241.9h2.4M380.6 244h2.4M380.6 244.4h2.4M380.6 245.9h2.4M380.6 246.9h2.4M380.6 249.5h2.4M380.6 250.5h2.4M380.6 253.9h2.4M380.6 254h2.4M380.6 255.7h2.4M380.6 256.2h2.4M380.6 256.7h2.4M380.6 261h2.4M380.6 261.5h2.4M380.6 263.8h2.4M380.6 266.9h2.4M380.6 267.2h2.4M380.6 271h2.4M380.6 272.7h2.4M380.6 275h2.4M380.6 277.6h2.4M380.6 278.3h2.4M380.6 280.4h2.4M380.6 283.3h2.4M380.6 285.7h2.4M380.6 287.2h2.4M380.6 288.4h2.4M380.6 290.3h2.4M380.6 291.6h2.4M380.6 292h2.4M380.6 293h2.4M380.6 295.5h2.4M380.6 301h2.4M380.6 302.4h2.4M380.6 303.7h2.4M380.6 305.8h2.4M380.6 307.1h2.4M380.6 314.9h2.4M380.6 315.2h2.4M380.6 318.5h2.4M383.8 65.1h2.4M383.8 73.3h2.4M383.8 74.2h2.4M383.8 74.9h2.4M383.8 75h2.4M383.8 75.9h2.4M383.8 76.9h2.4M383.8 77.6h2.4M383.8 80.6h2.4M383.8 84.1h2.4M383.8 86.4h2.4M383.8 86.8h2.4M383.8 90.1h2.4M383.8 93.6h2.4M383.8 95.1h2.4M383.8 97.4h2.4M383.8 98.2h2.4M383.8 98.4h2.4M383.8 104.1h2.4M383.8 108.6h2.4M383.8 108.9h2.4M383.8 110.6h2.4M383.8 112h2.4M383.8 113.1h2.4M383.8 114.2h2.4M383.8 120.9h2.4M383.8 121.5h2.4M383.8 122.2h2.4M383.8 122.5h2.4M383.8 123.6h2.4M383.8 129.4h2.4M383.8 129.5h2.4M383.8 140.2h2.4M383.8 140.4h2.4M383.8 141.2h2.4M383.8 142.6h2.4M383.8 142.8h2.4M383.8 143.6h2.4M383.8 150.7h2.4M383.8 151.6h2.4M383.8 151.9h2.4M383.8 152.7h2.4M383.8 153.1h2.4M383.8 155h2.4M383.8 157.9h2.4M383.8 160h2.4M383.8 161.8h2.4M383.8 168.8h2.4M383.8 169.5h2.4M383.8 172.1h2.4M383.8 173.7h2.4M383.8 174.2h2.4M383.8 175.4h2.4M383.8 179.6h2.4M383.8 181h2.4M383.8 185.3h2.4M383.8 187h2.4M383.8 188.4h2.4M383.8 190.3h2.4M383.8 192.6h2.4M383.8 195.2h2.4M383.8 195.3h2.4M383.8 200.7h2.4M383.8 203.2h2.4M383.8 206.6h2.4M383.8 206.9h2.4M383.8 209.5h2.4M383.8 212h2.4M383.8 213.5h2.4M383.8 215.2h2.4M383.8 215.4h2.4M383.8 216.6h2.4M383.8 219h2.4M383.8 221h2.4M383.8 221.1h2.4M383.8 224.2h2.4M383.8 226h2.4M383.8 231.2h2.4M383.8 235h2.4M383.8 239.2h2.4M383.8 239.8h2.4M383.8 243.4h2.4M383.8 245.1h2.4M383.8 245.5h2.4M383.8 247.8h2.4M383.8 247.9h2.4M383.8 248.2h2.4M383.8 252.6h2.4M383.8 253.1h2.4M383.8 253.5h2.4M383.8 255.5h2.4M383.8 260.6h2.4M383.8 261h2.4M383.8 262.3h2.4M383.8 263.9h2.4M383.8 265.8h2.4M383.8 269.1h2.4M383.8 272.1h2.4M383.8 273.3h2.4M383.8 276.9h2.4M383.8 279.1h2.4M383.8 282.4h2.4M383.8 283.5h2.4M383.8 285.5h2.4M383.8 286.7h2.4M383.8 287h2.4M383.8 289.4h2.4M383.8 289.8h2.4M383.8 290.6h2.4M383.8 291.8h2.4M383.8 294.1h2.4M383.8 298.8h2.4M383.8 300.5h2.4M383.8 301.3h2.4M383.8 303.6h2.4M383.8 306.3h2.4M383.8 312.6h2.4M383.8 313.2h2.4M383.8 316.3h2.4M387 65.7h2.4M387 65.9h2.4M387 67.3h2.4M387 67.6h2.4M387 67.8h2.4M387 73.3h2.4M387 74.3h2.4M387 77.4h2.4M387 79.8h2.4M387 80.6h2.4M387 87.5h2.4M387 88.2h2.4M387 89.2h2.4M387 91.4h2.4M387 91.9h2.4M387 97.2h2.4M387 102.6h2.4M387 104.2h2.4M387 104.5h2.4M387 107.1h2.4M387 109.5h2.4M387 113.2h2.4M387 113.6h2.4M387 116.5h2.4M387 118h2.4M387 123.6h2.4M387 124.4h2.4M387 133.1h2.4M387 134.8h2.4M387 136.5h2.4M387 136.6h2.4M387 137.4h2.4M387 138.1h2.4M387 146.3h2.4M387 146.8h2.4M387 147.9h2.4M387 149.1h2.4M387 149.6h2.4M387 151h2.4M387 153.8h2.4M387 158.1h2.4M387 159.1h2.4M387 165h2.4M387 166h2.4M387 166.1h2.4M387 170.6h2.4M387 170.8h2.4M387 172h2.4M387 177.1h2.4M387 178.9h2.4M387 181.1h2.4M387 184h2.4M387 184.8h2.4M387 185.6h2.4M387 185.7h2.4M387 192.5h2.4M387 192.8h2.4M387 193.2h2.4M387 194.1h2.4M387 198.5h2.4M387 202.7h2.4M387 205.1h2.4M387 206.4h2.4M387 207.5h2.4M387 209.4h2.4M387 210.1h2.4M387 210.8h2.4M387 211.3h2.4M387 214.2h2.4M387 218.9h2.4M387 221h2.4M387 222.3h2.4M387 223.1h2.4M387 226.5h2.4M387 233h2.4M387 235h2.4M387 235.2h2.4M387 241h2.4M387 241.5h2.4M387 243.6h2.4M387 245.7h2.4M387 246h2.4M387 247.1h2.4M387 251h2.4M387 252.3h2.4M387 253.7h2.4M387 254.7h2.4M387 255.3h2.4M387 259.7h2.4M387 260.7h2.4M387 261h2.4M387 261.2h2.4M387 264.1h2.4M387 267.4h2.4M387 269.9h2.4M387 272.8h2.4M387 275.5h2.4M387 278.1h2.4M387 282.9h2.4M387 283.7h2.4M387 285.2h2.4M387 285.4h2.4M387 287.6h2.4M387 287.8h2.4M387 289h2.4M387 289.8h2.4M387 291.1h2.4M387 293h2.4M387 296.1h2.4M387 298.8h2.4M387 299.5h2.4M387 302.4h2.4M387 305.5h2.4M387 309.7h2.4M387 311.5h2.4M387 314h2.4M390.2 51.3h2.4M390.2 61.1h2.4M390.2 61.3h2.4M390.2 62.3h2.4M390.2 64h2.4M390.2 65h2.4M390.2 67.7h2.4M390.2 69.9h2.4M390.2 70.5h2.4M390.2 70.8h2.4M390.2 74h2.4M390.2 76h2.4M390.2 76.6h2.4M390.2 84h2.4M390.2 84.9h2.4M390.2 87.6h2.4M390.2 89.2h2.4M390.2 93.5h2.4M390.2 99.4h2.4M390.2 101.6h2.4M390.2 101.8h2.4M390.2 102.1h2.4M390.2 103.8h2.4M390.2 106.5h2.4M390.2 109.3h2.4M390.2 110h2.4M390.2 110.7h2.4M390.2 113.9h2.4M390.2 116.8h2.4M390.2 119.3h2.4M390.2 120.1h2.4M390.2 120.2h2.4M390.2 128.4h2.4M390.2 132.1h2.4M390.2 133.2h2.4M390.2 133.5h2.4M390.2 134.8h2.4M390.2 135.6h2.4M390.2 143.3h2.4M390.2 143.9h2.4M390.2 145.9h2.4M390.2 147.4h2.4M390.2 148.2h2.4M390.2 149.6h2.4M390.2 150.9h2.4M390.2 156.1h2.4M390.2 156.5h2.4M390.2 164h2.4M390.2 165.1h2.4M390.2 166.3h2.4M390.2 167.2h2.4M390.2 168.5h2.4M390.2 169.9h2.4M390.2 175.7h2.4M390.2 178.1h2.4M390.2 180.7h2.4M390.2 181.8h2.4M390.2 183.2h2.4M390.2 183.6h2.4M390.2 185.5h2.4M390.2 189.8h2.4M390.2 190.2h2.4M390.2 194.7h2.4M390.2 195.4h2.4M390.2 197.7h2.4M390.2 200.7h2.4M390.2 203.5h2.4M390.2 203.9h2.4M390.2 205.5h2.4M390.2 208.4h2.4M390.2 209.7h2.4M390.2 209.8h2.4M390.2 211.9h2.4M390.2 214.2h2.4M390.2 216.4h2.4M390.2 220.1h2.4M390.2 220.3h2.4M390.2 221.4h2.4M390.2 221.7h2.4M390.2 229.3h2.4M390.2 233.5h2.4M390.2 234h2.4M390.2 234.5h2.4M390.2 240.9h2.4M390.2 243.3h2.4M390.2 244.3h2.4M390.2 246.2h2.4M390.2 246.6h2.4M390.2 250.9h2.4M390.2 251.3h2.4M390.2 255h2.4M390.2 255.1h2.4M390.2 256.2h2.4M390.2 258.6h2.4M390.2 260.6h2.4M390.2 260.8h2.4M390.2 262.4h2.4M390.2 264.5h2.4M390.2 265.9h2.4M390.2 269.5h2.4M390.2 274.3h2.4M390.2 274.6h2.4M390.2 277.6h2.4M390.2 283.7h2.4M390.2 283.8h2.4M390.2 284.6h2.4M390.2 285h2.4M390.2 287.3h2.4M390.2 288.3h2.4M390.2 289h2.4M390.2 290.4h2.4M390.2 290.6h2.4M390.2 294.4h2.4M390.2 294.5h2.4M390.2 298.7h2.4M390.2 299.1h2.4M390.2 302.3h2.4M390.2 305.7h2.4M390.2 309.1h2.4M390.2 311.2h2.4M390.2 312.7h2.4M393.4 49.6h2.4M393.4 60h2.4M393.4 60.2h2.4M393.4 60.3h2.4M393.4 60.9h2.4M393.4 64.3h2.4M393.4 66.7h2.4M393.4 67.5h2.4M393.4 68.1h2.4M393.4 69.8h2.4M393.4 73h2.4M393.4 75.7h2.4M393.4 77.7h2.4M393.4 82h2.4M393.4 82.1h2.4M393.4 82.9h2.4M393.4 86.5h2.4M393.4 87h2.4M393.4 92.6h2.4M393.4 98.4h2.4M393.4 98.6h2.4M393.4 99h2.4M393.4 102.2h2.4M393.4 102.8h2.4M393.4 104.9h2.4M393.4 108.2h2.4M393.4 108.8h2.4M393.4 111.1h2.4M393.4 114.4h2.4M393.4 116.5h2.4M393.4 117.2h2.4M393.4 118h2.4M393.4 119.2h2.4M393.4 128.4h2.4M393.4 131.2h2.4M393.4 132.5h2.4M393.4 133.2h2.4M393.4 133.4h2.4M393.4 136.3h2.4M393.4 141.9h2.4M393.4 142.2h2.4M393.4 145.3h2.4M393.4 147.3h2.4M393.4 149.1h2.4M393.4 150.9h2.4M393.4 151h2.4M393.4 155.5h2.4M393.4 156h2.4M393.4 162.3h2.4M393.4 165.4h2.4M393.4 165.9h2.4M393.4 166.9h2.4M393.4 167.8h2.4M393.4 169.4h2.4M393.4 175h2.4M393.4 175.9h2.4M393.4 180.4h2.4M393.4 182.1h2.4M393.4 182.7h2.4M393.4 183.4h2.4M393.4 186.2h2.4M393.4 189.7h2.4M393.4 190.8h2.4M393.4 195.9h2.4M393.4 196.2h2.4M393.4 196.9h2.4M393.4 202.1h2.4M393.4 202.2h2.4M393.4 202.9h2.4M393.4 203.4h2.4M393.4 210.4h2.4M393.4 210.6h2.4M393.4 210.8h2.4M393.4 212.6h2.4M393.4 216.5h2.4M393.4 217.3h2.4M393.4 217.8h2.4M393.4 218.9h2.4M393.4 219.7h2.4M393.4 221.3h2.4M393.4 222.9h2.4M393.4 226.4h2.4M393.4 233.4h2.4M393.4 233.6h2.4M393.4 234.1h2.4M393.4 241.1h2.4M393.4 243.3h2.4M393.4 243.8h2.4M393.4 245.1h2.4M393.4 249.7h2.4M393.4 251.9h2.4M393.4 252.1h2.4M393.4 254.6h2.4M393.4 254.8h2.4M393.4 256.6h2.4M393.4 259.5h2.4M393.4 261h2.4M393.4 263.1h2.4M393.4 265h2.4M393.4 265.5h2.4M393.4 268.3h2.4M393.4 273h2.4M393.4 276.2h2.4M393.4 276.3h2.4M393.4 282.3h2.4M393.4 282.8h2.4M393.4 285.4h2.4M393.4 285.9h2.4M393.4 286.5h2.4M393.4 287.9h2.4M393.4 288h2.4M393.4 290.6h2.4M393.4 291.6h2.4M393.4 293.2h2.4M393.4 296.1h2.4M393.4 299.2h2.4M393.4 300.4h2.4M393.4 302.2h2.4M393.4 305.9h2.4M393.4 307.9h2.4M393.4 310.8h2.4M393.4 312.3h2.4M396 41h2.4M396.6 48.5h2.4M396.6 58.4h2.4M396.6 58.5h2.4M396.6 58.7h2.4M396.6 64.1h2.4M396.6 64.6h2.4M396.6 65.8h2.4M396.6 66.3h2.4M396.6 67.3h2.4M396.6 71.8h2.4M396.6 75.7h2.4M396.6 77.7h2.4M396.6 80.3h2.4M396.6 81.8h2.4M396.6 84.5h2.4M396.6 86h2.4M396.6 91.1h2.4M396.6 96.2h2.4M396.6 97.6h2.4M396.6 97.9h2.4M396.6 100.4h2.4M396.6 102.2h2.4M396.6 104.7h2.4M396.6 107.5h2.4M396.6 107.8h2.4M396.6 111.3h2.4M396.6 113h2.4M396.6 114.3h2.4M396.6 116.1h2.4M396.6 117.2h2.4M396.6 117.9h2.4M396.6 126.8h2.4M396.6 129.7h2.4M396.6 130.9h2.4M396.6 132.7h2.4M396.6 134.5h2.4M396.6 136.7h2.4M396.6 140h2.4M396.6 142.4h2.4M396.6 145.3h2.4M396.6 148.4h2.4M396.6 148.6h2.4M396.6 150.5h2.4M396.6 150.8h2.4M396.6 155.8h2.4M396.6 163h2.4M396.6 165.4h2.4M396.6 165.5h2.4M396.6 165.6h2.4M396.6 166.4h2.4M396.6 170.4h2.4M396.6 174.1h2.4M396.6 180.8h2.4M396.6 182.6h2.4M396.6 183.3h2.4M396.6 185.6h2.4M396.6 186h2.4M396.6 190.1h2.4M396.6 190.7h2.4M396.6 195.7h2.4M396.6 196.1h2.4M396.6 197.5h2.4M396.6 199.4h2.4M396.6 200.5h2.4M396.6 202.5h2.4M396.6 203.1h2.4M396.6 209.3h2.4M396.6 210.5h2.4M396.6 212.5h2.4M396.6 214.1h2.4M396.6 215.8h2.4M396.6 216.7h2.4M396.6 219.5h2.4M396.6 219.6h2.4M396.6 221h2.4M396.6 221.5h2.4M396.6 224.2h2.4M396.6 226.5h2.4M396.6 231.2h2.4M396.6 233h2.4M396.6 234.4h2.4M396.6 242.6h2.4M396.6 243h2.4M396.6 244h2.4M396.6 245.4h2.4M396.6 251.1h2.4M396.6 252.1h2.4M396.6 252.7h2.4M396.6 252.8h2.4M396.6 255.2h2.4M396.6 257.6h2.4M396.6 257.8h2.4M396.6 259.2h2.4M396.6 259.6h2.4M396.6 263.6h2.4M396.6 264.9h2.4M396.6 266.6h2.4M396.6 268.3h2.4M396.6 271.8h2.4M396.6 275.5h2.4M396.6 279.2h2.4M396.6 281.6h2.4M396.6 283.1h2.4M396.6 285h2.4M396.6 285.4h2.4M396.6 286.2h2.4M396.6 288h2.4M396.6 288.6h2.4M396.6 290.2h2.4M396.6 293.3h2.4M396.6 293.4h2.4M396.6 293.7h2.4M396.6 298.6h2.4M396.6 300.1h2.4M396.6 303.1h2.4M396.6 305.5h2.4M396.6 307.2h2.4M396.6 310.3h2.4M396.6 312.4h2.4M399.8 48.5h2.4M399.8 55.7h2.4M399.8 56.4h2.4M399.8 58.4h2.4M399.8 58.5h2.4M399.8 62.9h2.4M399.8 65h2.4M399.8 65.8h2.4M399.8 66.3h2.4M399.8 66.5h2.4M399.8 71.2h2.4M399.8 75.8h2.4M399.8 78.3h2.4M399.8 78.4h2.4M399.8 80.5h2.4M399.8 81.4h2.4M399.8 82.3h2.4M399.8 85.8h2.4M399.8 90.1h2.4M399.8 96.3h2.4M399.8 96.9h2.4M399.8 100h2.4M399.8 101.8h2.4M399.8 104.3h2.4M399.8 106h2.4M399.8 107.7h2.4M399.8 112.5h2.4M399.8 114.1h2.4M399.8 115.2h2.4M399.8 115.4h2.4M399.8 116.8h2.4M399.8 117.2h2.4M399.8 126.2h2.4M399.8 129.4h2.4M399.8 131.3h2.4M399.8 132.6h2.4M399.8 135.6h2.4M399.8 136.7h2.4M399.8 139.1h2.4M399.8 143.2h2.4M399.8 145.9h2.4M399.8 147.6h2.4M399.8 150.5h2.4M399.8 151.2h2.4M399.8 152.3h2.4M399.8 155.8h2.4M399.8 157h2.4M399.8 163.5h2.4M399.8 163.7h2.4M399.8 163.8h2.4M399.8 164.5h2.4M399.8 165.3h2.4M399.8 171.7h2.4M399.8 174.2h2.4M399.8 182h2.4M399.8 182.9h2.4M399.8 183.3h2.4M399.8 183.4h2.4M399.8 189.1h2.4M399.8 190h2.4M399.8 191.2h2.4M399.8 195.6h2.4M399.8 195.7h2.4M399.8 196.2h2.4M399.8 197.6h2.4M399.8 202.3h2.4M399.8 202.8h2.4M399.8 203h2.4M399.8 205.5h2.4M399.8 210h2.4M399.8 215.2h2.4M399.8 216.3h2.4M399.8 219.1h2.4M399.8 220.9h2.4M399.8 222.6h2.4M399.8 223.1h2.4M399.8 223.6h2.4M399.8 227.3h2.4M399.8 227.8h2.4M399.8 229h2.4M399.8 231.4h2.4M399.8 234.7h2.4M399.8 243.9h2.4M399.8 244.4h2.4M399.8 244.9h2.4M399.8 250.9h2.4M399.8 253.4h2.4M399.8 253.9h2.4M399.8 256.2h2.4M399.8 258.4h2.4M399.8 259.2h2.4M399.8 259.6h2.4M399.8 260.5h2.4M399.8 260.7h2.4M399.8 261.4h2.4M399.8 268.3h2.4M399.8 270.1h2.4M399.8 270.2h2.4M399.8 275.5h2.4M399.8 277.8h2.4M399.8 282.4h2.4M399.8 282.8h2.4M399.8 284.2h2.4M399.8 286h2.4M399.8 286.3h2.4M399.8 287.2h2.4M399.8 289.1h2.4M399.8 290.4h2.4M399.8 292.8h2.4M399.8 293h2.4M399.8 294.6h2.4M399.8 297.9h2.4M399.8 300.8h2.4M399.8 303.3h2.4M399.8 307.2h2.4M399.8 307.9h2.4M399.8 311.9h2.4M399.8 313.5h2.4M400 26.7h2.4M400 34.6h2.4M402.9 50.5h2.4M402.9 57.1h2.4M402.9 57.5h2.4M402.9 58.3h2.4M402.9 58.8h2.4M402.9 59.9h2.4M402.9 62.8h2.4M402.9 65.9h2.4M402.9 66.4h2.4M402.9 67.8h2.4M402.9 68h2.4M402.9 72.5h2.4M402.9 78h2.4M402.9 79.3h2.4M402.9 80.5h2.4M402.9 80.7h2.4M402.9 82h2.4M402.9 82.4h2.4M402.9 87.1h2.4M402.9 91.7h2.4M402.9 96.8h2.4M402.9 98.2h2.4M402.9 99.9h2.4M402.9 102.4h2.4M402.9 104h2.4M402.9 106.4h2.4M402.9 106.6h2.4M402.9 107.5h2.4M402.9 114.3h2.4M402.9 115.9h2.4M402.9 116.8h2.4M402.9 118.3h2.4M402.9 118.6h2.4M402.9 129.4h2.4M402.9 130h2.4M402.9 131.1h2.4M402.9 133.5h2.4M402.9 136.3h2.4M402.9 137.8h2.4M402.9 139.3h2.4M402.9 145.9h2.4M402.9 146.7h2.4M402.9 150.5h2.4M402.9 151.4h2.4M402.9 153.6h2.4M402.9 155.4h2.4M402.9 156h2.4M402.9 159.6h2.4M402.9 164h2.4M402.9 165h2.4M402.9 166.3h2.4M402.9 166.4h2.4M402.9 166.8h2.4M402.9 174h2.4M402.9 175.7h2.4M402.9 178.5h2.4M402.9 184.1h2.4M402.9 184.2h2.4M402.9 184.6h2.4M402.9 185.4h2.4M402.9 190.3h2.4M402.9 190.7h2.4M402.9 193.8h2.4M402.9 194.3h2.4M402.9 195.3h2.4M402.9 196.4h2.4M402.9 199.1h2.4M402.9 202.8h2.4M402.9 204.4h2.4M402.9 204.5h2.4M402.9 206.8h2.4M402.9 210.5h2.4M402.9 214.7h2.4M402.9 217.8h2.4M402.9 218.7h2.4M402.9 219h2.4M402.9 222.9h2.4M402.9 223.4h2.4M402.9 225.2h2.4M402.9 225.6h2.4M402.9 227h2.4M402.9 229.1h2.4M402.9 229.4h2.4M402.9 235.5h2.4M402.9 245.3h2.4M402.9 245.9h2.4M402.9 246h2.4M402.9 246.1h2.4M402.9 252.2h2.4M402.9 253.7h2.4M402.9 256.7h2.4M402.9 257.5h2.4M402.9 257.6h2.4M402.9 257.8h2.4M402.9 258.5h2.4M402.9 258.9h2.4M402.9 261.1h2.4M402.9 262.2h2.4M402.9 269.9h2.4M402.9 270.7h2.4M402.9 272h2.4M402.9 276.1h2.4M402.9 276.8h2.4M402.9 281.7h2.4M402.9 283.7h2.4M402.9 287.1h2.4M402.9 287.9h2.4M402.9 288h2.4M402.9 289.2h2.4M402.9 291.5h2.4M402.9 292.7h2.4M402.9 293.2h2.4M402.9 297.2h2.4M402.9 299.7h2.4M402.9 301.6h2.4M402.9 305.2h2.4M402.9 308.4h2.4M402.9 309.8h2.4M402.9 312.3h2.4M402.9 315.1h2.4M403 39.7h2.4M406.1 55.1h2.4M406.1 61.3h2.4M406.1 63.2h2.4M406.1 64.2h2.4M406.1 64.8h2.4M406.1 65.3h2.4M406.1 71.2h2.4M406.1 72h2.4M406.1 72.1h2.4M406.1 72.7h2.4M406.1 76.4h2.4M406.1 83.4h2.4M406.1 84.2h2.4M406.1 84.4h2.4M406.1 84.8h2.4M406.1 85.1h2.4M406.1 87.1h2.4M406.1 91.5h2.4M406.1 95.3h2.4M406.1 99.8h2.4M406.1 102.4h2.4M406.1 105.1h2.4M406.1 105.5h2.4M406.1 108.3h2.4M406.1 109h2.4M406.1 109.9h2.4M406.1 110.4h2.4M406.1 115.7h2.4M406.1 118h2.4M406.1 119.5h2.4M406.1 121.3h2.4M406.1 121.8h2.4M406.1 122.9h2.4M406.1 130.1h2.4M406.1 133.2h2.4M406.1 133.4h2.4M406.1 137.4h2.4M406.1 139.5h2.4M406.1 140.4h2.4M406.1 141.2h2.4M406.1 147.8h2.4M406.1 149.2h2.4M406.1 153.7h2.4M406.1 153.8h2.4M406.1 156.2h2.4M406.1 157.9h2.4M406.1 158.7h2.4M406.1 162.4h2.4M406.1 167.5h2.4M406.1 168h2.4M406.1 168.1h2.4M406.1 168.7h2.4M406.1 169.3h2.4M406.1 176.8h2.4M406.1 178.5h2.4M406.1 183.2h2.4M406.1 184.4h2.4M406.1 185.6h2.4M406.1 186.6h2.4M406.1 191.1h2.4M406.1 192h2.4M406.1 194.2h2.4M406.1 196.1h2.4M406.1 196.9h2.4M406.1 198.1h2.4M406.1 200.4h2.4M406.1 202.7h2.4M406.1 205.3h2.4M406.1 207.1h2.4M406.1 210.9h2.4M406.1 211.1h2.4M406.1 215.2h2.4M406.1 217.7h2.4M406.1 220.5h2.4M406.1 220.9h2.4M406.1 224.1h2.4M406.1 225.1h2.4M406.1 226.7h2.4M406.1 227.4h2.4M406.1 228.7h2.4M406.1 230.5h2.4M406.1 233.6h2.4M406.1 236.4h2.4M406.1 244.2h2.4M406.1 247.2h2.4M406.1 247.3h2.4M406.1 249.6h2.4M406.1 253.8h2.4M406.1 254.2h2.4M406.1 255.9h2.4M406.1 256.1h2.4M406.1 257.1h2.4M406.1 257.5h2.4M406.1 257.8h2.4M406.1 258.5h2.4M406.1 259.6h2.4M406.1 262.3h2.4M406.1 264.7h2.4M406.1 271.8h2.4M406.1 274.1h2.4M406.1 274.6h2.4M406.1 275.7h2.4M406.1 277.7h2.4M406.1 281.4h2.4M406.1 283.7h2.4M406.1 284.4h2.4M406.1 287.9h2.4M406.1 288.2h2.4M406.1 289.4h2.4M406.1 290.8h2.4M406.1 292.5h2.4M406.1 293.2h2.4M406.1 294.6h2.4M406.1 296.4h2.4M406.1 298.5h2.4M406.1 302.1h2.4M406.1 305.4h2.4M406.1 309.3h2.4M406.1 312.7h2.4M406.1 313.2h2.4M406.1 316h2.4M409.3 65h2.4M409.3 68.3h2.4M409.3 69.8h2.4M409.3 71.1h2.4M409.3 72h2.4M409.3 79.1h2.4M409.3 79.2h2.4M409.3 79.4h2.4M409.3 80.7h2.4M409.3 83.5h2.4M409.3 89.7h2.4M409.3 90.8h2.4M409.3 91.1h2.4M409.3 92h2.4M409.3 93.5h2.4M409.3 96h2.4M409.3 101.6h2.4M409.3 105h2.4M409.3 109.7h2.4M409.3 110.9h2.4M409.3 112.8h2.4M409.3 113.6h2.4M409.3 116.3h2.4M409.3 116.5h2.4M409.3 116.6h2.4M409.3 119.1h2.4M409.3 122.9h2.4M409.3 124h2.4M409.3 125.7h2.4M409.3 126.1h2.4M409.3 129.7h2.4M409.3 135h2.4M409.3 136.8h2.4M409.3 138.9h2.4M409.3 142.8h2.4M409.3 143.1h2.4M409.3 143.4h2.4M409.3 144.2h2.4M409.3 150.8h2.4M409.3 152.2h2.4M409.3 157.8h2.4M409.3 158.9h2.4M409.3 161.2h2.4M409.3 161.3h2.4M409.3 162h2.4M409.3 166.6h2.4M409.3 168.6h2.4M409.3 171.1h2.4M409.3 171.2h2.4M409.3 172.6h2.4M409.3 173.4h2.4M409.3 180.4h2.4M409.3 180.7h2.4M409.3 185.7h2.4M409.3 186.1h2.4M409.3 186.5h2.4M409.3 187h2.4M409.3 188.6h2.4M409.3 192.9h2.4M409.3 193.7h2.4M409.3 194h2.4M409.3 195.9h2.4M409.3 200.3h2.4M409.3 200.8h2.4M409.3 201.6h2.4M409.3 205h2.4M409.3 206.6h2.4M409.3 208.8h2.4M409.3 211.1h2.4M409.3 211.3h2.4M409.3 216.4h2.4M409.3 216.6h2.4M409.3 219.8h2.4M409.3 222.1h2.4M409.3 223h2.4M409.3 224.5h2.4M409.3 225.6h2.4M409.3 226.7h2.4M409.3 227.6h2.4M409.3 229.3h2.4M409.3 232.8h2.4M409.3 237.1h2.4M409.3 237.2h2.4M409.3 243h2.4M409.3 245.3h2.4M409.3 246.8h2.4M409.3 254h2.4M409.3 254.3h2.4M409.3 254.9h2.4M409.3 256.4h2.4M409.3 256.7h2.4M409.3 258.1h2.4M409.3 260.1h2.4M409.3 260.5h2.4M409.3 260.6h2.4M409.3 261h2.4M409.3 261.5h2.4M409.3 267.5h2.4M409.3 272h2.4M409.3 272.9h2.4M409.3 278.4h2.4M409.3 279h2.4M409.3 281.9h2.4M409.3 283.7h2.4M409.3 286h2.4M409.3 288.5h2.4M409.3 289.9h2.4M409.3 290.2h2.4M409.3 291.8h2.4M409.3 292.4h2.4M409.3 294.3h2.4M409.3 294.8h2.4M409.3 297.8h2.4M409.3 300.6h2.4M409.3 303.3h2.4M409.3 306.3h2.4M409.3 310h2.4M409.3 314h2.4M409.3 314.3h2.4M409.3 318.1h2.4M412.5 72.1h2.4M412.5 73.2h2.4M412.5 74.1h2.4M412.5 76.3h2.4M412.5 76.6h2.4M412.5 82.8h2.4M412.5 83.5h2.4M412.5 86.3h2.4M412.5 88.9h2.4M412.5 91.4h2.4M412.5 95.1h2.4M412.5 95.8h2.4M412.5 96.3h2.4M412.5 96.5h2.4M412.5 96.6h2.4M412.5 99.6h2.4M412.5 104.1h2.4M412.5 109.3h2.4M412.5 114.6h2.4M412.5 115.8h2.4M412.5 117h2.4M412.5 118h2.4M412.5 119.6h2.4M412.5 120.1h2.4M412.5 122.3h2.4M412.5 126.2h2.4M412.5 126.9h2.4M412.5 127.9h2.4M412.5 129.6h2.4M412.5 133.5h2.4M412.5 139.2h2.4M412.5 139.4h2.4M412.5 141.4h2.4M412.5 144.8h2.4M412.5 145.5h2.4M412.5 146.6h2.4M412.5 147h2.4M412.5 153.3h2.4M412.5 155.6h2.4M412.5 159.7h2.4M412.5 160.1h2.4M412.5 163.9h2.4M412.5 165.1h2.4M412.5 165.5h2.4M412.5 168.4h2.4M412.5 170.7h2.4M412.5 173.1h2.4M412.5 173.6h2.4M412.5 175.5h2.4M412.5 176.7h2.4M412.5 181.8h2.4M412.5 182.8h2.4M412.5 186.9h2.4M412.5 187.9h2.4M412.5 189.8h2.4M412.5 194h2.4M412.5 194.7h2.4M412.5 195h2.4M412.5 199.1h2.4M412.5 202.1h2.4M412.5 202.2h2.4M412.5 202.5h2.4M412.5 207.4h2.4M412.5 208h2.4M412.5 210.3h2.4M412.5 213h2.4M412.5 214h2.4M412.5 216h2.4M412.5 218h2.4M412.5 219.7h2.4M412.5 223.4h2.4M412.5 225h2.4M412.5 225.3h2.4M412.5 226h2.4M412.5 228.5h2.4M412.5 229.4h2.4M412.5 231.2h2.4M412.5 233.6h2.4M412.5 237.3h2.4M412.5 240.6h2.4M412.5 243.1h2.4M412.5 245h2.4M412.5 246.6h2.4M412.5 253.9h2.4M412.5 255.2h2.4M412.5 256.8h2.4M412.5 257.1h2.4M412.5 258h2.4M412.5 260.6h2.4M412.5 260.8h2.4M412.5 261.5h2.4M412.5 261.7h2.4M412.5 263.5h2.4M412.5 263.6h2.4M412.5 269.5h2.4M412.5 271.3h2.4M412.5 273.7h2.4M412.5 280.9h2.4M412.5 281.2h2.4M412.5 285.1h2.4M412.5 286.6h2.4M412.5 289.2h2.4M412.5 291.9h2.4M412.5 293.1h2.4M412.5 293.8h2.4M412.5 294.6h2.4M412.5 297h2.4M412.5 298.1h2.4M412.5 303.6h2.4M412.5 307.2h2.4M412.5 309.6h2.4M412.5 312.7h2.4M412.5 316.7h2.4M412.5 318.7h2.4M412.5 323h2.4M415.7 78h2.4M415.7 79.8h2.4M415.7 80.8h2.4M415.7 81h2.4M415.7 87.7h2.4M415.7 88.8h2.4M415.7 89.1h2.4M415.7 90.8h2.4M415.7 93.6h2.4M415.7 95.1h2.4M415.7 98.7h2.4M415.7 99.8h2.4M415.7 100.6h2.4M415.7 101.2h2.4M415.7 101.3h2.4M415.7 102.9h2.4M415.7 107.3h2.4M415.7 111.1h2.4M415.7 119.5h2.4M415.7 119.8h2.4M415.7 120.5h2.4M415.7 121.5h2.4M415.7 123.2h2.4M415.7 123.8h2.4M415.7 124.4h2.4M415.7 124.7h2.4M415.7 129.2h2.4M415.7 129.8h2.4M415.7 130.7h2.4M415.7 132.8h2.4M415.7 136.6h2.4M415.7 141.7h2.4M415.7 144.1h2.4M415.7 145h2.4M415.7 145.5h2.4M415.7 147.1h2.4M415.7 150.3h2.4M415.7 150.9h2.4M415.7 157.4h2.4M415.7 158.8h2.4M415.7 162h2.4M415.7 163.3h2.4M415.7 166h2.4M415.7 167.2h2.4M415.7 168.9h2.4M415.7 170.9h2.4M415.7 171.9h2.4M415.7 174.9h2.4M415.7 175.6h2.4M415.7 176.3h2.4M415.7 181h2.4M415.7 183.7h2.4M415.7 185.4h2.4M415.7 186.4h2.4M415.7 187.1h2.4M415.7 188h2.4M415.7 191.6h2.4M415.7 192.1h2.4M415.7 195h2.4M415.7 196.5h2.4M415.7 197.8h2.4M415.7 200.2h2.4M415.7 201.3h2.4M415.7 201.9h2.4M415.7 204.9h2.4M415.7 207.3h2.4M415.7 208.7h2.4M415.7 211.6h2.4M415.7 213.2h2.4M415.7 216.4h2.4M415.7 216.6h2.4M415.7 217.9h2.4M415.7 221.2h2.4M415.7 226.4h2.4M415.7 227.6h2.4M415.7 227.9h2.4M415.7 230.2h2.4M415.7 232.5h2.4M415.7 232.6h2.4M415.7 236.3h2.4M415.7 236.9h2.4M415.7 243.6h2.4M415.7 244.4h2.4M415.7 244.6h2.4M415.7 248.9h2.4M415.7 255.3h2.4M415.7 256.5h2.4M415.7 257h2.4M415.7 258.9h2.4M415.7 261.1h2.4M415.7 261.6h2.4M415.7 263.4h2.4M415.7 263.7h2.4M415.7 265h2.4M415.7 267h2.4M415.7 268.2h2.4M415.7 270.5h2.4M415.7 274.3h2.4M415.7 280.9h2.4M415.7 282h2.4M415.7 282.6h2.4M415.7 286.9h2.4M415.7 288.7h2.4M415.7 290.4h2.4M415.7 293h2.4M415.7 294.8h2.4M415.7 295.3h2.4M415.7 295.8h2.4M415.7 296.3h2.4M415.7 298.7h2.4M415.7 299.1h2.4M415.7 307.9h2.4M415.7 309.2h2.4M415.7 312.8h2.4M415.7 316.7h2.4M415.7 320.5h2.4M415.7 323.1h2.4M415.7 326.3h2.4M418.9 84.8h2.4M418.9 85.6h2.4M418.9 86h2.4M418.9 86.1h2.4M418.9 86.4h2.4M418.9 86.8h2.4M418.9 94h2.4M418.9 94.4h2.4M418.9 94.8h2.4M418.9 96.5h2.4M418.9 97.7h2.4M418.9 101.6h2.4M418.9 104h2.4M418.9 104.7h2.4M418.9 105.2h2.4M418.9 106.1h2.4M418.9 107.4h2.4M418.9 113.7h2.4M418.9 114.4h2.4M418.9 122.9h2.4M418.9 124.8h2.4M418.9 125.2h2.4M418.9 126.4h2.4M418.9 126.7h2.4M418.9 127.2h2.4M418.9 128h2.4M418.9 130.2h2.4M418.9 132.4h2.4M418.9 132.5h2.4M418.9 135.3h2.4M418.9 135.4h2.4M418.9 142.9h2.4M418.9 144.7h2.4M418.9 147.6h2.4M418.9 148.1h2.4M418.9 148.3h2.4M418.9 149.1h2.4M418.9 151.3h2.4M418.9 154.5h2.4M418.9 160.6h2.4M418.9 162.2h2.4M418.9 163.5h2.4M418.9 166.1h2.4M418.9 168.3h2.4M418.9 170h2.4M418.9 172h2.4M418.9 172.9h2.4M418.9 174.5h2.4M418.9 177.1h2.4M418.9 177.5h2.4M418.9 181.6h2.4M418.9 185.6h2.4M418.9 187.2h2.4M418.9 187.6h2.4M418.9 188h2.4M418.9 188.3h2.4M418.9 194.2h2.4M418.9 194.9h2.4M418.9 196.2h2.4M418.9 197.3h2.4M418.9 198.1h2.4M418.9 198.8h2.4M418.9 200.5h2.4M418.9 204.5h2.4M418.9 205.4h2.4M418.9 207.4h2.4M418.9 210h2.4M418.9 211.5h2.4M418.9 212.5h2.4M418.9 217.3h2.4M418.9 219.6h2.4M418.9 220.7h2.4M418.9 222.9h2.4M418.9 225.3h2.4M418.9 228h2.4M418.9 229.5h2.4M418.9 230.2h2.4M418.9 230.7h2.4M418.9 233.4h2.4M418.9 235.4h2.4M418.9 235.6h2.4M418.9 238.5h2.4M418.9 246h2.4M418.9 246.7h2.4M418.9 246.9h2.4M418.9 252.4h2.4M418.9 254.2h2.4M418.9 257.2h2.4M418.9 257.6h2.4M418.9 258.3h2.4M418.9 261.6h2.4M418.9 262.4h2.4M418.9 263.7h2.4M418.9 264.2h2.4M418.9 266.5h2.4M418.9 267.2h2.4M418.9 268.8h2.4M418.9 269.9h2.4M418.9 270.7h2.4M418.9 273.8h2.4M418.9 274.7h2.4M418.9 282.5h2.4M418.9 283.2h2.4M418.9 284.9h2.4M418.9 287.9h2.4M418.9 290.4h2.4M418.9 292h2.4M418.9 294.5h2.4M418.9 295.8h2.4M418.9 296.2h2.4M418.9 297.9h2.4M418.9 301.4h2.4M418.9 302.5h2.4M418.9 311.6h2.4M418.9 311.9h2.4M418.9 316h2.4M418.9 319.2h2.4M418.9 325.4h2.4M418.9 329.4h2.4M418.9 331.7h2.4M422.1 88.9h2.4M422.1 90.5h2.4M422.1 91.6h2.4M422.1 92.4h2.4M422.1 93.6h2.4M422.1 98.5h2.4M422.1 100.1h2.4M422.1 100.2h2.4M422.1 100.8h2.4M422.1 103.9h2.4M422.1 106.8h2.4M422.1 109.3h2.4M422.1 109.5h2.4M422.1 110.1h2.4M422.1 111.2h2.4M422.1 112.2h2.4M422.1 118.2h2.4M422.1 119.7h2.4M422.1 126.3h2.4M422.1 128.5h2.4M422.1 129.2h2.4M422.1 129.5h2.4M422.1 131.1h2.4M422.1 131.6h2.4M422.1 132.5h2.4M422.1 134.7h2.4M422.1 136.3h2.4M422.1 136.9h2.4M422.1 137.9h2.4M422.1 140.1h2.4M422.1 147.7h2.4M422.1 147.8h2.4M422.1 150.6h2.4M422.1 151.2h2.4M422.1 151.4h2.4M422.1 152.6h2.4M422.1 153.1h2.4M422.1 158.3h2.4M422.1 164.1h2.4M422.1 164.9h2.4M422.1 166.4h2.4M422.1 169.1h2.4M422.1 169.5h2.4M422.1 172.4h2.4M422.1 174.8h2.4M422.1 176.3h2.4M422.1 177.6h2.4M422.1 178.9h2.4M422.1 179.5h2.4M422.1 179.8h2.4M422.1 183.4h2.4M422.1 186.2h2.4M422.1 188.1h2.4M422.1 188.9h2.4M422.1 190.3h2.4M422.1 190.9h2.4M422.1 196.4h2.4M422.1 196.6h2.4M422.1 197.4h2.4M422.1 197.8h2.4M422.1 198.2h2.4M422.1 199.2h2.4M422.1 202.3h2.4M422.1 205.5h2.4M422.1 207.2h2.4M422.1 207.5h2.4M422.1 209.8h2.4M422.1 210.7h2.4M422.1 217.4h2.4M422.1 218.5h2.4M422.1 220.4h2.4M422.1 223.2h2.4M422.1 223.9h2.4M422.1 226.3h2.4M422.1 227.8h2.4M422.1 230.8h2.4M422.1 230.9h2.4M422.1 234.4h2.4M422.1 234.9h2.4M422.1 236.6h2.4M422.1 239.1h2.4M422.1 240.1h2.4M422.1 247.7h2.4M422.1 248h2.4M422.1 249.4h2.4M422.1 251.5h2.4M422.1 253.9h2.4M422.1 258.3h2.4M422.1 258.4h2.4M422.1 258.7h2.4M422.1 263.1h2.4M422.1 263.3h2.4M422.1 263.7h2.4M422.1 264.5h2.4M422.1 265.9h2.4M422.1 267.2h2.4M422.1 270.9h2.4M422.1 271.4h2.4M422.1 271.6h2.4M422.1 274.6h2.4M422.1 275.3h2.4M422.1 282.8h2.4M422.1 284.1h2.4M422.1 285.5h2.4M422.1 289.7h2.4M422.1 291.7h2.4M422.1 292.7h2.4M422.1 293.3h2.4M422.1 295.7h2.4M422.1 296.1h2.4M422.1 299.5h2.4M422.1 299.9h2.4M422.1 303h2.4M422.1 304.9h2.4M422.1 311.9h2.4M422.1 314.8h2.4M422.1 320.6h2.4M422.1 322.6h2.4M422.1 331.3h2.4M422.1 332h2.4M422.1 334.1h2.4M425.3 94.8h2.4M425.3 98.2h2.4M425.3 98.9h2.4M425.3 100.2h2.4M425.3 102.2h2.4M425.3 103.5h2.4M425.3 107.3h2.4M425.3 107.5h2.4M425.3 110h2.4M425.3 112h2.4M425.3 113.7h2.4M425.3 114.3h2.4M425.3 114.6h2.4M425.3 115.6h2.4M425.3 115.7h2.4M425.3 117.4h2.4M425.3 122.9h2.4M425.3 125h2.4M425.3 130.8h2.4M425.3 131.1h2.4M425.3 132.3h2.4M425.3 132.8h2.4M425.3 135h2.4M425.3 136.7h2.4M425.3 137.4h2.4M425.3 139.6h2.4M425.3 140.1h2.4M425.3 140.5h2.4M425.3 142.3h2.4M425.3 143.5h2.4M425.3 150.2h2.4M425.3 152.8h2.4M425.3 153.7h2.4M425.3 153.8h2.4M425.3 155.3h2.4M425.3 155.5h2.4M425.3 156.1h2.4M425.3 160.5h2.4M425.3 165.7h2.4M425.3 168.1h2.4M425.3 169.5h2.4M425.3 172.1h2.4M425.3 173.3h2.4M425.3 173.9h2.4M425.3 177.7h2.4M425.3 178.1h2.4M425.3 180.7h2.4M425.3 180.8h2.4M425.3 182.2h2.4M425.3 183.8h2.4M425.3 184h2.4M425.3 187.4h2.4M425.3 190h2.4M425.3 190.7h2.4M425.3 192.6h2.4M425.3 192.9h2.4M425.3 198.3h2.4M425.3 199.2h2.4M425.3 199.8h2.4M425.3 201.4h2.4M425.3 201.5h2.4M425.3 204.7h2.4M425.3 206.9h2.4M425.3 207.4h2.4M425.3 208.4h2.4M425.3 210.3h2.4M425.3 210.4h2.4M425.3 217.9h2.4M425.3 220.5h2.4M425.3 220.8h2.4M425.3 223.9h2.4M425.3 224.4h2.4M425.3 226h2.4M425.3 230h2.4M425.3 230.1h2.4M425.3 230.8h2.4M425.3 233.9h2.4M425.3 236.8h2.4M425.3 238h2.4M425.3 240.8h2.4M425.3 242.2h2.4M425.3 246.6h2.4M425.3 247.2h2.4M425.3 248.1h2.4M425.3 250.1h2.4M425.3 254.2h2.4M425.3 256.9h2.4M425.3 258.2h2.4M425.3 259.7h2.4M425.3 262.7h2.4M425.3 262.8h2.4M425.3 263.4h2.4M425.3 264h2.4M425.3 264.5h2.4M425.3 267h2.4M425.3 270.5h2.4M425.3 271.6h2.4M425.3 272.7h2.4M425.3 272.9h2.4M425.3 275.4h2.4M425.3 281.9h2.4M425.3 284.1h2.4M425.3 286.9h2.4M425.3 289.5h2.4M425.3 291h2.4M425.3 292.7h2.4M425.3 292.8h2.4M425.3 293.4h2.4M425.3 297.1h2.4M425.3 299.4h2.4M425.3 300h2.4M425.3 301.9h2.4M425.3 305h2.4M425.3 310h2.4M425.3 314.5h2.4M425.3 317.1h2.4M425.3 320.4h2.4M425.3 328.2h2.4M425.3 329.7h2.4M425.3 330.2h2.4M428.5 100.2h2.4M428.5 101h2.4M428.5 103.5h2.4M428.5 105.9h2.4M428.5 106.7h2.4M428.5 107.8h2.4M428.5 108.4h2.4M428.5 111.7h2.4M428.5 114.8h2.4M428.5 116.8h2.4M428.5 119h2.4M428.5 119.9h2.4M428.5 120.2h2.4M428.5 120.3h2.4M428.5 121.4h2.4M428.5 125.5h2.4M428.5 129h2.4M428.5 133.9h2.4M428.5 134.5h2.4M428.5 137.4h2.4M428.5 137.5h2.4M428.5 139.2h2.4M428.5 140.1h2.4M428.5 141h2.4M428.5 144.3h2.4M428.5 144.5h2.4M428.5 146.4h2.4M428.5 146.6h2.4M428.5 154.2h2.4M428.5 156.7h2.4M428.5 157.8h2.4M428.5 158h2.4M428.5 158.7h2.4M428.5 159.2h2.4M428.5 160h2.4M428.5 163.4h2.4M428.5 166.9h2.4M428.5 170.2h2.4M428.5 170.3h2.4M428.5 175.2h2.4M428.5 175.9h2.4M428.5 176.4h2.4M428.5 179.5h2.4M428.5 180.4h2.4M428.5 181.8h2.4M428.5 183.5h2.4M428.5 184.6h2.4M428.5 185.1h2.4M428.5 185.8h2.4M428.5 187.1h2.4M428.5 191.3h2.4M428.5 193.2h2.4M428.5 193.7h2.4M428.5 194.4h2.4M428.5 198.2h2.4M428.5 199.7h2.4M428.5 200.3h2.4M428.5 202.5h2.4M428.5 203.3h2.4M428.5 204h2.4M428.5 207.3h2.4M428.5 208h2.4M428.5 208.6h2.4M428.5 208.7h2.4M428.5 210.3h2.4M428.5 213.4h2.4M428.5 218.5h2.4M428.5 221.9h2.4M428.5 222.1h2.4M428.5 224.2h2.4M428.5 225.4h2.4M428.5 227.4h2.4M428.5 230.1h2.4M428.5 231.4h2.4M428.5 231.9h2.4M428.5 233.6h2.4M428.5 237.6h2.4M428.5 240.2h2.4M428.5 241.1h2.4M428.5 243h2.4M428.5 244.9h2.4M428.5 245.9h2.4M428.5 246.5h2.4M428.5 248.2h2.4M428.5 253.7h2.4M428.5 256.9h2.4M428.5 260.6h2.4M428.5 260.7h2.4M428.5 260.8h2.4M428.5 262.2h2.4M428.5 262.9h2.4M428.5 263.1h2.4M428.5 266.5h2.4M428.5 270h2.4M428.5 270.2h2.4M428.5 273.2h2.4M428.5 274.4h2.4M428.5 275.1h2.4M428.5 278.7h2.4M428.5 282h2.4M428.5 287.2h2.4M428.5 288.3h2.4M428.5 289.1h2.4M428.5 292.3h2.4M428.5 292.9h2.4M428.5 294.3h2.4M428.5 296.2h2.4M428.5 297.9h2.4M428.5 299.4h2.4M428.5 299.8h2.4M428.5 303.3h2.4M428.5 307.3h2.4M428.5 312.3h2.4M428.5 315.7h2.4M428.5 318h2.4M428.5 323.8h2.4M428.5 325.3h2.4M428.5 327.4h2.4M431.6 107.1h2.4M431.6 108h2.4M431.6 109.1h2.4M431.6 109.8h2.4M431.6 111.3h2.4M431.6 113.8h2.4M431.6 118.5h2.4M431.6 119.3h2.4M431.6 123.7h2.4M431.6 123.8h2.4M431.6 124.7h2.4M431.6 124.8h2.4M431.6 125.3h2.4M431.6 125.4h2.4M431.6 128.2h2.4M431.6 135h2.4M431.6 138.7h2.4M431.6 139h2.4M431.6 141.2h2.4M431.6 141.8h2.4M431.6 143.1h2.4M431.6 144.2h2.4M431.6 146.1h2.4M431.6 147.4h2.4M431.6 147.7h2.4M431.6 149.5h2.4M431.6 149.7h2.4M431.6 150h2.4M431.6 158.4h2.4M431.6 161h2.4M431.6 161.5h2.4M431.6 162h2.4M431.6 162.1h2.4M431.6 163.2h2.4M431.6 163.8h2.4M431.6 165h2.4M431.6 169.6h2.4M431.6 172.5h2.4M431.6 172.7h2.4M431.6 178.2h2.4M431.6 178.3h2.4M431.6 179.9h2.4M431.6 183.1h2.4M431.6 183.9h2.4M431.6 184.2h2.4M431.6 184.8h2.4M431.6 187.3h2.4M431.6 187.4h2.4M431.6 188.9h2.4M431.6 189.6h2.4M431.6 192.2h2.4M431.6 195.3h2.4M431.6 195.9h2.4M431.6 196.7h2.4M431.6 200.7h2.4M431.6 200.9h2.4M431.6 201.8h2.4M431.6 205.4h2.4M431.6 205.8h2.4M431.6 207.2h2.4M431.6 207.7h2.4M431.6 209.9h2.4M431.6 211h2.4M431.6 211.1h2.4M431.6 211.8h2.4M431.6 215.4h2.4M431.6 218h2.4M431.6 223.4h2.4M431.6 223.6h2.4M431.6 223.8h2.4M431.6 224.8h2.4M431.6 229.3h2.4M431.6 230.5h2.4M431.6 233.2h2.4M431.6 233.5h2.4M431.6 235.7h2.4M431.6 240.1h2.4M431.6 240.5h2.4M431.6 242.8h2.4M431.6 243.8h2.4M431.6 243.9h2.4M431.6 245.5h2.4M431.6 246.2h2.4M431.6 248h2.4M431.6 253.1h2.4M431.6 256.3h2.4M431.6 259h2.4M431.6 260.7h2.4M431.6 261h2.4M431.6 262.2h2.4M431.6 263.1h2.4M431.6 263.3h2.4M431.6 263.6h2.4M431.6 264.4h2.4M431.6 269.9h2.4M431.6 271.2h2.4M431.6 272.6h2.4M431.6 273.2h2.4M431.6 276.1h2.4M431.6 277.8h2.4M431.6 281.1h2.4M431.6 284.9h2.4M431.6 286.4h2.4M431.6 288.5h2.4M431.6 292.2h2.4M431.6 293h2.4M431.6 294.1h2.4M431.6 294.8h2.4M431.6 296.7h2.4M431.6 297.7h2.4M431.6 299.5h2.4M431.6 302.7h2.4M431.6 306.3h2.4M431.6 309.6h2.4M431.6 314.5h2.4M431.6 316.6h2.4M431.6 323.1h2.4M431.6 323.4h2.4M431.6 325.6h2.4M434.8 109.1h2.4M434.8 114.5h2.4M434.8 115.1h2.4M434.8 115.5h2.4M434.8 117.7h2.4M434.8 118.6h2.4M434.8 119.8h2.4M434.8 123h2.4M434.8 123.7h2.4M434.8 125.7h2.4M434.8 126.7h2.4M434.8 129.1h2.4M434.8 129.5h2.4M434.8 129.9h2.4M434.8 130.8h2.4M434.8 130.9h2.4M434.8 131.5h2.4M434.8 133.4h2.4M434.8 139.7h2.4M434.8 141.2h2.4M434.8 143h2.4M434.8 145.4h2.4M434.8 145.7h2.4M434.8 146.1h2.4M434.8 148.8h2.4M434.8 150.4h2.4M434.8 150.9h2.4M434.8 152.1h2.4M434.8 154.1h2.4M434.8 154.2h2.4M434.8 154.5h2.4M434.8 163h2.4M434.8 163.4h2.4M434.8 166.1h2.4M434.8 166.4h2.4M434.8 166.7h2.4M434.8 167.1h2.4M434.8 167.7h2.4M434.8 169.5h2.4M434.8 174.9h2.4M434.8 175.4h2.4M434.8 176.6h2.4M434.8 181.8h2.4M434.8 182.2h2.4M434.8 183.7h2.4M434.8 185h2.4M434.8 187.8h2.4M434.8 188.2h2.4M434.8 189.7h2.4M434.8 190.6h2.4M434.8 190.7h2.4M434.8 191.7h2.4M434.8 193.3h2.4M434.8 196.5h2.4M434.8 197.9h2.4M434.8 199.1h2.4M434.8 202.6h2.4M434.8 204.6h2.4M434.8 204.8h2.4M434.8 207.1h2.4M434.8 207.9h2.4M434.8 208.2h2.4M434.8 212.3h2.4M434.8 212.6h2.4M434.8 213.6h2.4M434.8 214.6h2.4M434.8 218.5h2.4M434.8 218.9h2.4M434.8 224.2h2.4M434.8 224.6h2.4M434.8 225.1h2.4M434.8 226.7h2.4M434.8 229.3h2.4M434.8 232.8h2.4M434.8 233.8h2.4M434.8 234.5h2.4M434.8 236.4h2.4M434.8 242h2.4M434.8 242.4h2.4M434.8 242.8h2.4M434.8 245.9h2.4M434.8 246.1h2.4M434.8 247.8h2.4M434.8 249.2h2.4M434.8 253.6h2.4M434.8 254.7h2.4M434.8 256.4h2.4M434.8 259.9h2.4M434.8 260.2h2.4M434.8 262.4h2.4M434.8 263h2.4M434.8 263.5h2.4M434.8 263.6h2.4M434.8 265.7h2.4M434.8 268.6h2.4M434.8 270.8h2.4M434.8 273.3h2.4M434.8 278h2.4M434.8 279.1h2.4M434.8 279.8h2.4M434.8 284.1h2.4M434.8 286.2h2.4M434.8 288.3h2.4M434.8 292h2.4M434.8 292.1h2.4M434.8 293.8h2.4M434.8 295.4h2.4M434.8 296.7h2.4M434.8 297.5h2.4M434.8 298.8h2.4M434.8 302.9h2.4M434.8 304.9h2.4M434.8 308.3h2.4M434.8 313.2h2.4M434.8 317h2.4M434.8 321.2h2.4M434.8 322.8h2.4M434.8 323.6h2.4M438 117h2.4M438 118.2h2.4M438 122.4h2.4M438 122.5h2.4M438 124.1h2.4M438 124.5h2.4M438 128.2h2.4M438 128.6h2.4M438 130h2.4M438 131.9h2.4M438 132.2h2.4M438 135.1h2.4M438 136.1h2.4M438 136.2h2.4M438 136.6h2.4M438 137.1h2.4M438 137.3h2.4M438 140.8h2.4M438 144.7h2.4M438 147h2.4M438 148.1h2.4M438 148.3h2.4M438 150.1h2.4M438 151.9h2.4M438 153h2.4M438 154.6h2.4M438 155.4h2.4M438 156.6h2.4M438 158.5h2.4M438 159.6h2.4M438 160.1h2.4M438 167.7h2.4M438 168h2.4M438 168.3h2.4M438 169h2.4M438 169.8h2.4M438 170.4h2.4M438 171.4h2.4M438 174.6h2.4M438 178h2.4M438 179.5h2.4M438 180.9h2.4M438 184.8h2.4M438 188.6h2.4M438 188.9h2.4M438 189.8h2.4M438 190.1h2.4M438 190.5h2.4M438 192.8h2.4M438 193h2.4M438 193.8h2.4M438 194.8h2.4M438 198.2h2.4M438 200.6h2.4M438 201.7h2.4M438 203.8h2.4M438 205.7h2.4M438 206.6h2.4M438 208.2h2.4M438 210.3h2.4M438 210.4h2.4M438 211.4h2.4M438 214h2.4M438 214.3h2.4M438 215.3h2.4M438 219h2.4M438 220.3h2.4M438 220.5h2.4M438 224.2h2.4M438 225.3h2.4M438 229.1h2.4M438 229.5h2.4M438 229.6h2.4M438 234.2h2.4M438 236.6h2.4M438 236.7h2.4M438 238h2.4M438 241.6h2.4M438 242.1h2.4M438 242.5h2.4M438 244.3h2.4M438 245.6h2.4M438 245.8h2.4M438 247.7h2.4M438 249.3h2.4M438 254.2h2.4M438 254.3h2.4M438 255.1h2.4M438 261h2.4M438 261.4h2.4M438 261.7h2.4M438 262.7h2.4M438 263.2h2.4M438 263.4h2.4M438 270.2h2.4M438 270.9h2.4M438 274.2h2.4M438 275.7h2.4M438 276.6h2.4M438 279h2.4M438 280h2.4M438 284.1h2.4M438 286.9h2.4M438 288.5h2.4M438 289.2h2.4M438 292.4h2.4M438 293h2.4M438 293.6h2.4M438 295.4h2.4M438 297h2.4M438 298.5h2.4M438 304.1h2.4M438 307.8h2.4M438 312h2.4M438 314.9h2.4M438 320.6h2.4M438 322.4h2.4M438 322.8h2.4M441.2 126.9h2.4M441.2 127h2.4M441.2 128.8h2.4M441.2 130.9h2.4M441.2 131.8h2.4M441.2 133.8h2.4M441.2 135.7h2.4M441.2 136.2h2.4M441.2 139h2.4M441.2 140.7h2.4M441.2 144.2h2.4M441.2 144.4h2.4M441.2 144.8h2.4M441.2 145.2h2.4M441.2 145.3h2.4M441.2 149.3h2.4M441.2 152.8h2.4M441.2 153.4h2.4M441.2 154.9h2.4M441.2 157.2h2.4M441.2 157.8h2.4M441.2 158h2.4M441.2 159.3h2.4M441.2 161.1h2.4M441.2 162.5h2.4M441.2 162.9h2.4M441.2 164.8h2.4M441.2 166.5h2.4M441.2 167.7h2.4M441.2 171.7h2.4M441.2 172.4h2.4M441.2 174.1h2.4M441.2 174.5h2.4M441.2 175.6h2.4M441.2 177.1h2.4M441.2 177.6h2.4M441.2 179.9h2.4M441.2 182.2h2.4M441.2 184.2h2.4M441.2 187.1h2.4M441.2 189.5h2.4M441.2 190.6h2.4M441.2 193.7h2.4M441.2 194.4h2.4M441.2 194.7h2.4M441.2 195.1h2.4M441.2 196h2.4M441.2 196.1h2.4M441.2 196.3h2.4M441.2 196.4h2.4M441.2 196.7h2.4M441.2 199.6h2.4M441.2 201.5h2.4M441.2 204.3h2.4M441.2 207.3h2.4M441.2 208.1h2.4M441.2 208.9h2.4M441.2 209.2h2.4M441.2 211.3h2.4M441.2 212.8h2.4M441.2 214h2.4M441.2 215.9h2.4M441.2 216.9h2.4M441.2 217.2h2.4M441.2 222.2h2.4M441.2 222.8h2.4M441.2 223.1h2.4M441.2 223.6h2.4M441.2 226.5h2.4M441.2 230.9h2.4M441.2 231.9h2.4M441.2 232.7h2.4M441.2 234.6h2.4M441.2 238.3h2.4M441.2 239h2.4M441.2 240.7h2.4M441.2 240.9h2.4M441.2 242.4h2.4M441.2 242.8h2.4M441.2 243.2h2.4M441.2 244h2.4M441.2 244.1h2.4M441.2 249.3h2.4M441.2 249.6h2.4M441.2 254.1h2.4M441.2 254.8h2.4M441.2 256h2.4M441.2 259.3h2.4M441.2 261.7h2.4M441.2 262.1h2.4M441.2 262.9h2.4M441.2 263.2h2.4M441.2 263.8h2.4M441.2 264.3h2.4M441.2 270.4h2.4M441.2 270.9h2.4M441.2 275.2h2.4M441.2 275.4h2.4M441.2 277.5h2.4M441.2 278.8h2.4M441.2 280.2h2.4M441.2 284.4h2.4M441.2 286.5h2.4M441.2 286.7h2.4M441.2 286.9h2.4M441.2 290.6h2.4M441.2 292.1h2.4M441.2 293.4h2.4M441.2 295.8h2.4M441.2 296.2h2.4M441.2 298.8h2.4M441.2 303.1h2.4M441.2 303.8h2.4M441.2 307.4h2.4M441.2 309.7h2.4M441.2 314.2h2.4M441.2 318.3h2.4M441.2 320.4h2.4M441.2 321.4h2.4M444.4 136.8h2.4M444.4 138.6h2.4M444.4 139.2h2.4M444.4 141h2.4M444.4 142.2h2.4M444.4 142.3h2.4M444.4 145.3h2.4M444.4 145.8h2.4M444.4 147.2h2.4M444.4 148h2.4M444.4 148.9h2.4M444.4 150.3h2.4M444.4 154h2.4M444.4 154.6h2.4M444.4 155.2h2.4M444.4 155.3h2.4M444.4 156.1h2.4M444.4 157.7h2.4M444.4 159.4h2.4M444.4 161.9h2.4M444.4 162h2.4M444.4 165.1h2.4M444.4 165.7h2.4M444.4 165.8h2.4M444.4 165.9h2.4M444.4 168.9h2.4M444.4 169.1h2.4M444.4 170.3h2.4M444.4 171.7h2.4M444.4 172.2h2.4M444.4 174.1h2.4M444.4 175.6h2.4M444.4 178.4h2.4M444.4 179.5h2.4M444.4 179.8h2.4M444.4 180.9h2.4M444.4 182.6h2.4M444.4 182.8h2.4M444.4 183.9h2.4M444.4 187h2.4M444.4 187.5h2.4M444.4 189.4h2.4M444.4 191.6h2.4M444.4 192.9h2.4M444.4 193.7h2.4M444.4 194.6h2.4M444.4 197.3h2.4M444.4 197.9h2.4M444.4 198.9h2.4M444.4 199h2.4M444.4 199.4h2.4M444.4 199.8h2.4M444.4 199.9h2.4M444.4 200.2h2.4M444.4 200.4h2.4M444.4 200.7h2.4M444.4 204.1h2.4M444.4 208.3h2.4M444.4 209.7h2.4M444.4 210.4h2.4M444.4 210.8h2.4M444.4 212.2h2.4M444.4 212.7h2.4M444.4 213.4h2.4M444.4 215.6h2.4M444.4 217h2.4M444.4 217.1h2.4M444.4 220.9h2.4M444.4 224.3h2.4M444.4 224.5h2.4M444.4 225h2.4M444.4 227.4h2.4M444.4 229.1h2.4M444.4 231h2.4M444.4 233.9h2.4M444.4 234.5h2.4M444.4 236.2h2.4M444.4 239.4h2.4M444.4 241.3h2.4M444.4 243.1h2.4M444.4 243.3h2.4M444.4 244h2.4M444.4 244.1h2.4M444.4 244.2h2.4M444.4 244.4h2.4M444.4 245.4h2.4M444.4 250h2.4M444.4 251.7h2.4M444.4 254.8h2.4M444.4 255.2h2.4M444.4 256.3h2.4M444.4 258.8h2.4M444.4 261.2h2.4M444.4 262.2h2.4M444.4 263.2h2.4M444.4 263.8h2.4M444.4 264.9h2.4M444.4 266.3h2.4M444.4 271.7h2.4M444.4 274.3h2.4M444.4 274.7h2.4M444.4 278.4h2.4M444.4 279.8h2.4M444.4 280.6h2.4M444.4 283.1h2.4M444.4 283.8h2.4M444.4 285.5h2.4M444.4 288.2h2.4M444.4 290.1h2.4M444.4 290.3h2.4M444.4 291.5h2.4M444.4 295.7h2.4M444.4 296.1h2.4M444.4 296.3h2.4M444.4 303.5h2.4M444.4 303.6h2.4M444.4 305.7h2.4M444.4 308.4h2.4M444.4 312.4h2.4M444.4 318.4h2.4M444.4 318.9h2.4M444.4 320.3h2.4M447.6 142.3h2.4M447.6 142.4h2.4M447.6 145.3h2.4M447.6 149.5h2.4M447.6 150.4h2.4M447.6 152.2h2.4M447.6 152.9h2.4M447.6 153h2.4M447.6 156.2h2.4M447.6 157.4h2.4M447.6 160h2.4M447.6 160.2h2.4M447.6 160.5h2.4M447.6 160.7h2.4M447.6 162.9h2.4M447.6 163.4h2.4M447.6 165.4h2.4M447.6 167.1h2.4M447.6 167.8h2.4M447.6 170.8h2.4M447.6 171.2h2.4M447.6 172.1h2.4M447.6 172.7h2.4M447.6 174.8h2.4M447.6 174.9h2.4M447.6 176.2h2.4M447.6 176.4h2.4M447.6 179.7h2.4M447.6 180.5h2.4M447.6 183.1h2.4M447.6 183.7h2.4M447.6 186.2h2.4M447.6 186.3h2.4M447.6 188.1h2.4M447.6 188.8h2.4M447.6 189.9h2.4M447.6 191.8h2.4M447.6 193.7h2.4M447.6 196.2h2.4M447.6 197.7h2.4M447.6 198.6h2.4M447.6 200.5h2.4M447.6 201.3h2.4M447.6 201.8h2.4M447.6 202h2.4M447.6 203h2.4M447.6 203.6h2.4M447.6 203.8h2.4M447.6 204.7h2.4M447.6 205.1h2.4M447.6 208.8h2.4M447.6 210h2.4M447.6 212.1h2.4M447.6 213h2.4M447.6 213.2h2.4M447.6 213.6h2.4M447.6 215.8h2.4M447.6 217.9h2.4M447.6 218.5h2.4M447.6 218.7h2.4M447.6 219.1h2.4M447.6 222h2.4M447.6 224.5h2.4M447.6 225.8h2.4M447.6 229h2.4M447.6 230.2h2.4M447.6 230.6h2.4M447.6 231.2h2.4M447.6 235.1h2.4M447.6 236.8h2.4M447.6 237.8h2.4M447.6 240.9h2.4M447.6 243.2h2.4M447.6 243.9h2.4M447.6 244.2h2.4M447.6 245.2h2.4M447.6 247h2.4M447.6 247.2h2.4M447.6 247.6h2.4M447.6 250.7h2.4M447.6 253.2h2.4M447.6 254h2.4M447.6 255.8h2.4M447.6 258.5h2.4M447.6 258.8h2.4M447.6 261.1h2.4M447.6 262.7h2.4M447.6 263.3h2.4M447.6 264.5h2.4M447.6 265.3h2.4M447.6 267.8h2.4M447.6 269.7h2.4M447.6 272.9h2.4M447.6 273.2h2.4M447.6 275.4h2.4M447.6 277.7h2.4M447.6 279.3h2.4M447.6 280.5h2.4M447.6 280.6h2.4M447.6 281h2.4M447.6 284h2.4M447.6 286.9h2.4M447.6 288.5h2.4M447.6 290h2.4M447.6 290.9h2.4M447.6 294.4h2.4M447.6 295.4h2.4M447.6 295.9h2.4M447.6 301.5h2.4M447.6 302.7h2.4M447.6 305.2h2.4M447.6 305.9h2.4M447.6 312.2h2.4M447.6 315.8h2.4M447.6 317.1h2.4M447.6 318.8h2.4M450.8 148.2h2.4M450.8 148.5h2.4M450.8 150.6h2.4M450.8 153.9h2.4M450.8 154.5h2.4M450.8 155.7h2.4M450.8 156.4h2.4M450.8 158.5h2.4M450.8 159h2.4M450.8 159.4h2.4M450.8 159.5h2.4M450.8 162.7h2.4M450.8 164.7h2.4M450.8 165.1h2.4M450.8 167.1h2.4M450.8 167.8h2.4M450.8 169.7h2.4M450.8 170.5h2.4M450.8 172.1h2.4M450.8 172.8h2.4M450.8 175.8h2.4M450.8 176.6h2.4M450.8 178.2h2.4M450.8 178.9h2.4M450.8 179.3h2.4M450.8 180.4h2.4M450.8 180.5h2.4M450.8 182.3h2.4M450.8 183.5h2.4M450.8 184.2h2.4M450.8 186.1h2.4M450.8 188.1h2.4M450.8 189.2h2.4M450.8 191.3h2.4M450.8 192.1h2.4M450.8 193.2h2.4M450.8 194.4h2.4M450.8 195.9h2.4M450.8 196.3h2.4M450.8 200h2.4M450.8 200.7h2.4M450.8 201h2.4M450.8 202.3h2.4M450.8 202.9h2.4M450.8 204.6h2.4M450.8 205h2.4M450.8 205.2h2.4M450.8 205.7h2.4M450.8 206h2.4M450.8 206.7h2.4M450.8 208.8h2.4M450.8 210.2h2.4M450.8 211.9h2.4M450.8 213.4h2.4M450.8 213.6h2.4M450.8 214.9h2.4M450.8 215.2h2.4M450.8 215.4h2.4M450.8 217.3h2.4M450.8 220.4h2.4M450.8 220.8h2.4M450.8 221.1h2.4M450.8 221.3h2.4M450.8 224.9h2.4M450.8 226.9h2.4M450.8 227.4h2.4M450.8 231.7h2.4M450.8 233.2h2.4M450.8 233.4h2.4M450.8 233.5h2.4M450.8 235.6h2.4M450.8 239.7h2.4M450.8 240h2.4M450.8 241.4h2.4M450.8 245.8h2.4M450.8 245.9h2.4M450.8 246.2h2.4M450.8 246.6h2.4M450.8 246.7h2.4M450.8 248h2.4M450.8 249.5h2.4M450.8 250.9h2.4M450.8 251.3h2.4M450.8 254h2.4M450.8 254.4h2.4M450.8 254.6h2.4M450.8 258.2h2.4M450.8 259.7h2.4M450.8 261.7h2.4M450.8 263.1h2.4M450.8 263.3h2.4M450.8 266h2.4M450.8 267h2.4M450.8 268.5h2.4M450.8 268.8h2.4M450.8 271.4h2.4M450.8 272h2.4M450.8 276.3h2.4M450.8 277h2.4M450.8 278.6h2.4M450.8 279.6h2.4M450.8 280.2h2.4M450.8 281.1h2.4M450.8 283.2h2.4M450.8 284.7h2.4M450.8 287.9h2.4M450.8 288.7h2.4M450.8 291h2.4M450.8 293.3h2.4M450.8 294.6h2.4M450.8 294.8h2.4M450.8 300.3h2.4M450.8 300.4h2.4M450.8 304.1h2.4M450.8 304.3h2.4M450.8 310.2h2.4M450.8 313.7h2.4M450.8 315.5h2.4M450.8 316.2h2.4M454 153.5h2.4M454 154.6h2.4M454 156.4h2.4M454 162.6h2.4M454 163.2h2.4M454 164.4h2.4M454 165.2h2.4M454 168.9h2.4M454 169.7h2.4M454 169.8h2.4M454 171.7h2.4M454 172.4h2.4M454 173.3h2.4M454 174.1h2.4M454 174.2h2.4M454 177h2.4M454 177.1h2.4M454 179h2.4M454 181h2.4M454 181.5h2.4M454 182.4h2.4M454 183.3h2.4M454 184.5h2.4M454 185.1h2.4M454 185.7h2.4M454 187.5h2.4M454 187.8h2.4M454 188.7h2.4M454 190.1h2.4M454 190.3h2.4M454 193.4h2.4M454 193.7h2.4M454 195.8h2.4M454 196.3h2.4M454 197.7h2.4M454 198.6h2.4M454 199.8h2.4M454 200h2.4M454 201.1h2.4M454 202.4h2.4M454 204.9h2.4M454 205.4h2.4M454 205.5h2.4M454 207h2.4M454 207.3h2.4M454 207.8h2.4M454 208h2.4M454 208.3h2.4M454 208.7h2.4M454 209h2.4M454 212.9h2.4M454 214.6h2.4M454 215.8h2.4M454 216.4h2.4M454 216.6h2.4M454 218h2.4M454 218.7h2.4M454 219h2.4M454 222.6h2.4M454 222.7h2.4M454 224.4h2.4M454 227.4h2.4M454 227.6h2.4M454 228.5h2.4M454 232.1h2.4M454 234.6h2.4M454 235.9h2.4M454 236.9h2.4M454 237.9h2.4M454 241.3h2.4M454 243.4h2.4M454 243.7h2.4M454 244.6h2.4M454 246.6h2.4M454 248.5h2.4M454 248.8h2.4M454 249.2h2.4M454 249.8h2.4M454 251.2h2.4M454 251.5h2.4M454 254.5h2.4M454 254.7h2.4M454 256.2h2.4M454 257.3h2.4M454 259.2h2.4M454 259.5h2.4M454 262.8h2.4M454 263.4h2.4M454 264h2.4M454 265.7h2.4M454 266h2.4M454 268.1h2.4M454 269.9h2.4M454 271.7h2.4M454 274.8h2.4M454 276.3h2.4M454 277.5h2.4M454 279.3h2.4M454 280.5h2.4M454 280.9h2.4M454 283.1h2.4M454 283.5h2.4M454 287.8h2.4M454 288.7h2.4M454 289.2h2.4M454 291.8h2.4M454 293.4h2.4M454 294h2.4M454 297.8h2.4M454 299.3h2.4M454 302.7h2.4M454 304h2.4M454 310.5h2.4M454 311.2h2.4M454 313.3h2.4M454 313.6h2.4M457.2 160.8h2.4M457.2 161.3h2.4M457.2 162.5h2.4M457.2 163.4h2.4M457.2 165h2.4M457.2 166.2h2.4M457.2 167.1h2.4M457.2 168.3h2.4M457.2 169.8h2.4M457.2 171h2.4M457.2 171.4h2.4M457.2 174.4h2.4M457.2 174.6h2.4M457.2 175.5h2.4M457.2 176.4h2.4M457.2 179h2.4M457.2 179.5h2.4M457.2 179.6h2.4M457.2 180.2h2.4M457.2 182.5h2.4M457.2 183.4h2.4M457.2 184.2h2.4M457.2 185.9h2.4M457.2 187h2.4M457.2 187.4h2.4M457.2 188h2.4M457.2 189.2h2.4M457.2 191h2.4M457.2 191.1h2.4M457.2 192.7h2.4M457.2 193.5h2.4M457.2 194.3h2.4M457.2 195.9h2.4M457.2 197.1h2.4M457.2 197.4h2.4M457.2 199h2.4M457.2 201.6h2.4M457.2 202.1h2.4M457.2 202.2h2.4M457.2 203.5h2.4M457.2 203.7h2.4M457.2 204.7h2.4M457.2 205.1h2.4M457.2 207h2.4M457.2 208.8h2.4M457.2 209.7h2.4M457.2 209.9h2.4M457.2 210.7h2.4M457.2 212.1h2.4M457.2 212.4h2.4M457.2 212.6h2.4M457.2 212.7h2.4M457.2 212.8h2.4M457.2 213h2.4M457.2 213.2h2.4M457.2 217.3h2.4M457.2 219.1h2.4M457.2 219.5h2.4M457.2 219.6h2.4M457.2 220.6h2.4M457.2 221h2.4M457.2 221.6h2.4M457.2 222.3h2.4M457.2 223.1h2.4M457.2 225.3h2.4M457.2 226.1h2.4M457.2 226.6h2.4M457.2 229h2.4M457.2 230.2h2.4M457.2 230.4h2.4M457.2 230.6h2.4M457.2 234.1h2.4M457.2 235.5h2.4M457.2 238.1h2.4M457.2 238.5h2.4M457.2 241.1h2.4M457.2 244.4h2.4M457.2 245h2.4M457.2 245.6h2.4M457.2 247h2.4M457.2 247.2h2.4M457.2 250.5h2.4M457.2 250.7h2.4M457.2 250.9h2.4M457.2 251.8h2.4M457.2 253.5h2.4M457.2 255.1h2.4M457.2 256h2.4M457.2 256.1h2.4M457.2 259.5h2.4M457.2 260.4h2.4M457.2 262.2h2.4M457.2 263.6h2.4M457.2 264.5h2.4M457.2 265.1h2.4M457.2 265.6h2.4M457.2 265.9h2.4M457.2 269.7h2.4M457.2 271.2h2.4M457.2 272h2.4M457.2 274.8h2.4M457.2 275.6h2.4M457.2 277.5h2.4M457.2 278.1h2.4M457.2 281h2.4M457.2 281.1h2.4M457.2 282.9h2.4M457.2 285h2.4M457.2 287.3h2.4M457.2 287.6h2.4M457.2 288.1h2.4M457.2 290h2.4M457.2 291h2.4M457.2 292.9h2.4M457.2 294.8h2.4M457.2 298h2.4M457.2 300.6h2.4M457.2 302.8h2.4M457.2 309.3h2.4M457.2 309.4h2.4M457.2 310.8h2.4M457.2 311.4h2.4M460.3 168.2h2.4M460.3 170.5h2.4M460.3 170.6h2.4M460.3 173.4h2.4M460.3 174.4h2.4M460.3 174.9h2.4M460.3 176.4h2.4M460.3 178h2.4M460.3 179.1h2.4M460.3 180h2.4M460.3 180.4h2.4M460.3 184h2.4M460.3 185.5h2.4M460.3 185.8h2.4M460.3 185.9h2.4M460.3 186.1h2.4M460.3 189.4h2.4M460.3 190.7h2.4M460.3 191h2.4M460.3 191.5h2.4M460.3 192.3h2.4M460.3 193.7h2.4M460.3 193.8h2.4M460.3 195.3h2.4M460.3 195.9h2.4M460.3 198.3h2.4M460.3 198.5h2.4M460.3 199.5h2.4M460.3 200.7h2.4M460.3 201.2h2.4M460.3 201.8h2.4M460.3 202.2h2.4M460.3 204.4h2.4M460.3 205.8h2.4M460.3 206.2h2.4M460.3 207.9h2.4M460.3 208h2.4M460.3 208.7h2.4M460.3 209.5h2.4M460.3 211.3h2.4M460.3 211.6h2.4M460.3 213.2h2.4M460.3 214.3h2.4M460.3 214.4h2.4M460.3 214.6h2.4M460.3 216.3h2.4M460.3 217.3h2.4M460.3 217.7h2.4M460.3 218.3h2.4M460.3 218.4h2.4M460.3 218.6h2.4M460.3 218.7h2.4M460.3 220.6h2.4M460.3 222.3h2.4M460.3 222.6h2.4M460.3 223.6h2.4M460.3 226h2.4M460.3 226.2h2.4M460.3 226.4h2.4M460.3 227.5h2.4M460.3 227.9h2.4M460.3 228.1h2.4M460.3 229h2.4M460.3 229.8h2.4M460.3 230.6h2.4M460.3 233.2h2.4M460.3 233.9h2.4M460.3 234h2.4M460.3 237.2h2.4M460.3 237.5h2.4M460.3 240.7h2.4M460.3 241.1h2.4M460.3 243.6h2.4M460.3 244.8h2.4M460.3 246.8h2.4M460.3 247.4h2.4M460.3 248.2h2.4M460.3 250.8h2.4M460.3 251.4h2.4M460.3 251.5h2.4M460.3 252.7h2.4M460.3 253h2.4M460.3 254.7h2.4M460.3 255.7h2.4M460.3 258.2h2.4M460.3 258.5h2.4M460.3 259.8h2.4M460.3 260.5h2.4M460.3 262.1h2.4M460.3 262.8h2.4M460.3 263.4h2.4M460.3 264.3h2.4M460.3 264.4h2.4M460.3 265.7h2.4M460.3 266.2h2.4M460.3 269.1h2.4M460.3 271.9h2.4M460.3 272.7h2.4M460.3 274.2h2.4M460.3 274.9h2.4M460.3 276.9h2.4M460.3 277.9h2.4M460.3 279.3h2.4M460.3 280.1h2.4M460.3 282.2h2.4M460.3 285.3h2.4M460.3 286.7h2.4M460.3 287.4h2.4M460.3 287.7h2.4M460.3 288.9h2.4M460.3 289.4h2.4M460.3 290.8h2.4M460.3 292.2h2.4M460.3 295.1h2.4M460.3 298.7h2.4M460.3 300.4h2.4M460.3 305.4h2.4M460.3 306.4h2.4M460.3 308.4h2.4M460.3 309.2h2.4M463.5 176.6h2.4M463.5 178.1h2.4M463.5 178.9h2.4M463.5 180.6h2.4M463.5 181.9h2.4M463.5 182.8h2.4M463.5 183.2h2.4M463.5 183.8h2.4M463.5 185.6h2.4M463.5 186.2h2.4M463.5 186.3h2.4M463.5 189.8h2.4M463.5 191.3h2.4M463.5 192.4h2.4M463.5 192.6h2.4M463.5 193.3h2.4M463.5 195.4h2.4M463.5 195.5h2.4M463.5 197.7h2.4M463.5 197.9h2.4M463.5 200.1h2.4M463.5 200.5h2.4M463.5 201.9h2.4M463.5 203.9h2.4M463.5 204.1h2.4M463.5 204.6h2.4M463.5 205.6h2.4M463.5 205.7h2.4M463.5 207.7h2.4M463.5 208.4h2.4M463.5 209.8h2.4M463.5 209.9h2.4M463.5 212.3h2.4M463.5 213h2.4M463.5 213.2h2.4M463.5 215.1h2.4M463.5 215.2h2.4M463.5 217.8h2.4M463.5 218h2.4M463.5 218.8h2.4M463.5 219.4h2.4M463.5 219.9h2.4M463.5 222.6h2.4M463.5 222.8h2.4M463.5 223.5h2.4M463.5 223.6h2.4M463.5 224.1h2.4M463.5 225.6h2.4M463.5 226.7h2.4M463.5 227.5h2.4M463.5 230.6h2.4M463.5 230.8h2.4M463.5 231.2h2.4M463.5 231.4h2.4M463.5 232.4h2.4M463.5 232.5h2.4M463.5 232.6h2.4M463.5 232.8h2.4M463.5 234.3h2.4M463.5 236.9h2.4M463.5 237.2h2.4M463.5 239.1h2.4M463.5 239.9h2.4M463.5 240.3h2.4M463.5 240.8h2.4M463.5 244h2.4M463.5 245.5h2.4M463.5 245.8h2.4M463.5 248.8h2.4M463.5 249.1h2.4M463.5 250.1h2.4M463.5 251.6h2.4M463.5 251.9h2.4M463.5 252.9h2.4M463.5 253.5h2.4M463.5 253.7h2.4M463.5 254.7h2.4M463.5 254.8h2.4M463.5 257.1h2.4M463.5 258.5h2.4M463.5 259.4h2.4M463.5 261.3h2.4M463.5 261.7h2.4M463.5 263.3h2.4M463.5 264.9h2.4M463.5 265h2.4M463.5 265.4h2.4M463.5 266.3h2.4M463.5 268.8h2.4M463.5 271.3h2.4M463.5 272.4h2.4M463.5 274.5h2.4M463.5 274.8h2.4M463.5 275.6h2.4M463.5 277.8h2.4M463.5 278.7h2.4M463.5 278.8h2.4M463.5 281h2.4M463.5 283.5h2.4M463.5 285.8h2.4M463.5 286.4h2.4M463.5 286.7h2.4M463.5 287.4h2.4M463.5 288.7h2.4M463.5 288.9h2.4M463.5 291.9h2.4M463.5 293.3h2.4M463.5 296.6h2.4M463.5 299.2h2.4M463.5 303.4h2.4M463.5 303.7h2.4M463.5 306.2h2.4M463.5 307.5h2.4M466.7 179.9h2.4M466.7 184.5h2.4M466.7 185.3h2.4M466.7 187.3h2.4M466.7 188.1h2.4M466.7 189.4h2.4M466.7 189.7h2.4M466.7 190.9h2.4M466.7 191.5h2.4M466.7 191.6h2.4M466.7 193h2.4M466.7 193.4h2.4M466.7 194.8h2.4M466.7 196.6h2.4M466.7 197.9h2.4M466.7 198.8h2.4M466.7 200.7h2.4M466.7 201.1h2.4M466.7 201.6h2.4M466.7 203.7h2.4M466.7 204.2h2.4M466.7 204.6h2.4M466.7 205.6h2.4M466.7 206.2h2.4M466.7 208h2.4M466.7 209.7h2.4M466.7 209.8h2.4M466.7 210.3h2.4M466.7 210.5h2.4M466.7 211.1h2.4M466.7 214.2h2.4M466.7 214.4h2.4M466.7 215.4h2.4M466.7 216.1h2.4M466.7 216.3h2.4M466.7 216.6h2.4M466.7 218h2.4M466.7 218.2h2.4M466.7 219.9h2.4M466.7 221.1h2.4M466.7 222.4h2.4M466.7 223h2.4M466.7 223.7h2.4M466.7 224h2.4M466.7 224.3h2.4M466.7 224.5h2.4M466.7 225.6h2.4M466.7 226.2h2.4M466.7 226.4h2.4M466.7 227.6h2.4M466.7 228.1h2.4M466.7 228.5h2.4M466.7 229h2.4M466.7 229.3h2.4M466.7 230.3h2.4M466.7 231h2.4M466.7 232.8h2.4M466.7 234.6h2.4M466.7 234.9h2.4M466.7 235.3h2.4M466.7 236h2.4M466.7 237.3h2.4M466.7 238.4h2.4M466.7 238.9h2.4M466.7 239.5h2.4M466.7 243.3h2.4M466.7 243.9h2.4M466.7 244.2h2.4M466.7 245h2.4M466.7 246.4h2.4M466.7 246.8h2.4M466.7 247h2.4M466.7 252.3h2.4M466.7 252.6h2.4M466.7 254.5h2.4M466.7 254.9h2.4M466.7 255.2h2.4M466.7 255.4h2.4M466.7 255.5h2.4M466.7 255.7h2.4M466.7 256.1h2.4M466.7 257.1h2.4M466.7 260.6h2.4M466.7 261.3h2.4M466.7 263.5h2.4M466.7 263.7h2.4M466.7 264.8h2.4M466.7 265h2.4M466.7 265.8h2.4M466.7 266.2h2.4M466.7 267.5h2.4M466.7 268h2.4M466.7 269.1h2.4M466.7 270.9h2.4M466.7 273.5h2.4M466.7 273.6h2.4M466.7 274.4h2.4M466.7 277.4h2.4M466.7 277.6h2.4M466.7 278.1h2.4M466.7 279.6h2.4M466.7 279.7h2.4M466.7 280h2.4M466.7 283.9h2.4M466.7 285.6h2.4M466.7 286.7h2.4M466.7 287.3h2.4M466.7 287.8h2.4M466.7 288.5h2.4M466.7 290.4h2.4M466.7 292.2h2.4M466.7 294.4h2.4M466.7 297.7h2.4M466.7 298.1h2.4M466.7 302.7h2.4M466.7 303.8h2.4M466.7 305.1h2.4M469.9 189h2.4M469.9 193.1h2.4M469.9 193.6h2.4M469.9 196.4h2.4M469.9 196.5h2.4M469.9 197.1h2.4M469.9 198h2.4M469.9 199.8h2.4M469.9 200.1h2.4M469.9 200.4h2.4M469.9 201.9h2.4M469.9 202.6h2.4M469.9 202.8h2.4M469.9 203.7h2.4M469.9 205.5h2.4M469.9 206.2h2.4M469.9 209.1h2.4M469.9 209.3h2.4M469.9 209.4h2.4M469.9 209.9h2.4M469.9 210.5h2.4M469.9 211.6h2.4M469.9 212.8h2.4M469.9 213.1h2.4M469.9 213.7h2.4M469.9 214.7h2.4M469.9 216h2.4M469.9 216.1h2.4M469.9 216.4h2.4M469.9 217.1h2.4M469.9 221.4h2.4M469.9 221.5h2.4M469.9 221.6h2.4M469.9 222.4h2.4M469.9 223.6h2.4M469.9 224h2.4M469.9 224.8h2.4M469.9 224.9h2.4M469.9 225.5h2.4M469.9 227.3h2.4M469.9 228.1h2.4M469.9 228.2h2.4M469.9 229.2h2.4M469.9 231.3h2.4M469.9 231.7h2.4M469.9 232h2.4M469.9 232.2h2.4M469.9 232.4h2.4M469.9 232.9h2.4M469.9 233h2.4M469.9 234.8h2.4M469.9 235.1h2.4M469.9 235.5h2.4M469.9 236h2.4M469.9 237.7h2.4M469.9 237.9h2.4M469.9 238h2.4M469.9 239.8h2.4M469.9 240.5h2.4M469.9 240.9h2.4M469.9 242h2.4M469.9 242.1h2.4M469.9 242.4h2.4M469.9 242.9h2.4M469.9 245.1h2.4M469.9 246.8h2.4M469.9 247.5h2.4M469.9 248.2h2.4M469.9 250.5h2.4M469.9 250.9h2.4M469.9 251.7h2.4M469.9 254.5h2.4M469.9 255.3h2.4M469.9 256.6h2.4M469.9 256.9h2.4M469.9 258.3h2.4M469.9 258.4h2.4M469.9 258.7h2.4M469.9 259h2.4M469.9 259.9h2.4M469.9 261.1h2.4M469.9 264.5h2.4M469.9 264.8h2.4M469.9 265.5h2.4M469.9 265.9h2.4M469.9 266.5h2.4M469.9 266.9h2.4M469.9 268.4h2.4M469.9 269.3h2.4M469.9 269.9h2.4M469.9 271.5h2.4M469.9 271.6h2.4M469.9 274.5h2.4M469.9 276.9h2.4M469.9 277.2h2.4M469.9 277.7h2.4M469.9 279.2h2.4M469.9 280.3h2.4M469.9 281.8h2.4M469.9 282.5h2.4M469.9 283.2h2.4M469.9 283.3h2.4M469.9 285.6h2.4M469.9 285.8h2.4M469.9 288.5h2.4M469.9 289.2h2.4M469.9 289.3h2.4M469.9 289.5h2.4M469.9 291h2.4M469.9 292.6h2.4M469.9 294h2.4M469.9 297h2.4M469.9 297.6h2.4M469.9 301.3h2.4M469.9 301.9h2.4M469.9 303.3h2.4M469.9 304.3h2.4M473.1 197.5h2.4M473.1 202.4h2.4M473.1 203.4h2.4M473.1 204.6h2.4M473.1 205.2h2.4M473.1 205.3h2.4M473.1 205.8h2.4M473.1 207.8h2.4M473.1 208.2h2.4M473.1 208.4h2.4M473.1 209h2.4M473.1 209.8h2.4M473.1 210.2h2.4M473.1 210.4h2.4M473.1 210.7h2.4M473.1 213.8h2.4M473.1 214.2h2.4M473.1 216.8h2.4M473.1 217.3h2.4M473.1 217.7h2.4M473.1 218h2.4M473.1 218.9h2.4M473.1 219.3h2.4M473.1 219.5h2.4M473.1 220.3h2.4M473.1 221h2.4M473.1 221.2h2.4M473.1 221.4h2.4M473.1 222.9h2.4M473.1 223.2h2.4M473.1 223.6h2.4M473.1 223.8h2.4M473.1 227.2h2.4M473.1 227.6h2.4M473.1 228.2h2.4M473.1 228.5h2.4M473.1 229.5h2.4M473.1 229.6h2.4M473.1 230.2h2.4M473.1 230.8h2.4M473.1 233.3h2.4M473.1 233.9h2.4M473.1 235h2.4M473.1 236.4h2.4M473.1 236.7h2.4M473.1 237.1h2.4M473.1 237.5h2.4M473.1 237.8h2.4M473.1 238.2h2.4M473.1 238.4h2.4M473.1 239h2.4M473.1 240h2.4M473.1 241.2h2.4M473.1 241.6h2.4M473.1 241.9h2.4M473.1 242.7h2.4M473.1 244.9h2.4M473.1 245.1h2.4M473.1 245.4h2.4M473.1 245.8h2.4M473.1 247h2.4M473.1 247.8h2.4M473.1 248h2.4M473.1 249.3h2.4M473.1 249.6h2.4M473.1 249.9h2.4M473.1 251h2.4M473.1 254h2.4M473.1 255.9h2.4M473.1 257.3h2.4M473.1 260.1h2.4M473.1 260.5h2.4M473.1 261h2.4M473.1 261.5h2.4M473.1 261.9h2.4M473.1 262.2h2.4M473.1 262.4h2.4M473.1 264.6h2.4M473.1 266h2.4M473.1 267h2.4M473.1 267.4h2.4M473.1 268.2h2.4M473.1 268.7h2.4M473.1 268.9h2.4M473.1 270h2.4M473.1 271.8h2.4M473.1 272.8h2.4M473.1 273.9h2.4M473.1 275.4h2.4M473.1 278.4h2.4M473.1 278.5h2.4M473.1 279h2.4M473.1 279.2h2.4M473.1 280.7h2.4M473.1 281h2.4M473.1 282.2h2.4M473.1 283.4h2.4M473.1 283.7h2.4M473.1 284.9h2.4M473.1 286h2.4M473.1 286.2h2.4M473.1 290.1h2.4M473.1 290.2h2.4M473.1 290.8h2.4M473.1 293.2h2.4M473.1 293.7h2.4M473.1 295.5h2.4M473.1 297.5h2.4M473.1 298.8h2.4M473.1 302.8h2.4M473.1 302.9h2.4M473.1 304.9h2.4M473.1 305.8h2.4M476.3 208.2h2.4M476.3 208.9h2.4M476.3 210.7h2.4M476.3 211.2h2.4M476.3 211.9h2.4M476.3 213.9h2.4M476.3 214h2.4M476.3 214.5h2.4M476.3 215.2h2.4M476.3 215.6h2.4M476.3 215.7h2.4M476.3 216.6h2.4M476.3 216.7h2.4M476.3 218.7h2.4M476.3 219h2.4M476.3 221.8h2.4M476.3 222.1h2.4M476.3 222.2h2.4M476.3 223.7h2.4M476.3 224.5h2.4M476.3 224.9h2.4M476.3 226.3h2.4M476.3 227.2h2.4M476.3 227.3h2.4M476.3 227.4h2.4M476.3 228.7h2.4M476.3 229.2h2.4M476.3 230.6h2.4M476.3 230.7h2.4M476.3 232.5h2.4M476.3 232.6h2.4M476.3 233.3h2.4M476.3 233.9h2.4M476.3 234.4h2.4M476.3 234.9h2.4M476.3 235.1h2.4M476.3 235.6h2.4M476.3 237.2h2.4M476.3 237.3h2.4M476.3 237.8h2.4M476.3 239.7h2.4M476.3 240.1h2.4M476.3 240.4h2.4M476.3 242.3h2.4M476.3 242.6h2.4M476.3 242.7h2.4M476.3 242.8h2.4M476.3 242.9h2.4M476.3 243h2.4M476.3 243.5h2.4M476.3 243.6h2.4M476.3 244.9h2.4M476.3 245.3h2.4M476.3 245.4h2.4M476.3 245.6h2.4M476.3 246.4h2.4M476.3 246.5h2.4M476.3 249.2h2.4M476.3 249.9h2.4M476.3 250.9h2.4M476.3 251.2h2.4M476.3 251.9h2.4M476.3 252.6h2.4M476.3 252.8h2.4M476.3 253.2h2.4M476.3 253.8h2.4M476.3 254.4h2.4M476.3 258.5h2.4M476.3 260.7h2.4M476.3 261.3h2.4M476.3 261.5h2.4M476.3 262.1h2.4M476.3 262.4h2.4M476.3 262.9h2.4M476.3 264h2.4M476.3 264.7h2.4M476.3 265.4h2.4M476.3 265.8h2.4M476.3 266.5h2.4M476.3 267.4h2.4M476.3 268h2.4M476.3 268.1h2.4M476.3 269.8h2.4M476.3 269.9h2.4M476.3 270.5h2.4M476.3 271.9h2.4M476.3 273.1h2.4M476.3 275.9h2.4M476.3 276h2.4M476.3 276.8h2.4M476.3 278.9h2.4M476.3 279.1h2.4M476.3 279.8h2.4M476.3 280.5h2.4M476.3 281.2h2.4M476.3 281.8h2.4M476.3 282.7h2.4M476.3 283.5h2.4M476.3 283.7h2.4M476.3 285.3h2.4M476.3 285.6h2.4M476.3 287.1h2.4M476.3 287.2h2.4M476.3 288.3h2.4M476.3 290h2.4M476.3 290.1h2.4M476.3 293.9h2.4M476.3 295h2.4M476.3 298.2h2.4M476.3 300.6h2.4M476.3 302h2.4M476.3 307h2.4M476.3 307.8h2.4M476.3 309.6h2.4M476.3 311h2.4M479.5 205.4h2.4M479.5 210.6h2.4M479.5 213.2h2.4M479.5 214.4h2.4M479.5 214.8h2.4M479.5 215.4h2.4M479.5 216.5h2.4M479.5 217.1h2.4M479.5 217.6h2.4M479.5 217.7h2.4M479.5 218.7h2.4M479.5 221h2.4M479.5 221.2h2.4M479.5 222.8h2.4M479.5 223.1h2.4M479.5 224.8h2.4M479.5 225.2h2.4M479.5 226.5h2.4M479.5 227.1h2.4M479.5 228.5h2.4M479.5 228.7h2.4M479.5 229.7h2.4M479.5 230.1h2.4M479.5 230.5h2.4M479.5 230.9h2.4M479.5 231.6h2.4M479.5 231.9h2.4M479.5 233.8h2.4M479.5 234.4h2.4M479.5 235.1h2.4M479.5 236h2.4M479.5 237h2.4M479.5 237.4h2.4M479.5 238h2.4M479.5 238.8h2.4M479.5 239.3h2.4M479.5 240.5h2.4M479.5 241.4h2.4M479.5 242.5h2.4M479.5 243.1h2.4M479.5 243.8h2.4M479.5 244.5h2.4M479.5 245.7h2.4M479.5 246h2.4M479.5 246.4h2.4M479.5 247h2.4M479.5 247.2h2.4M479.5 247.3h2.4M479.5 247.4h2.4M479.5 248.9h2.4M479.5 249.3h2.4M479.5 250.1h2.4M479.5 250.2h2.4M479.5 250.4h2.4M479.5 250.6h2.4M479.5 251.3h2.4M479.5 251.9h2.4M479.5 253.6h2.4M479.5 254.5h2.4M479.5 255.7h2.4M479.5 255.9h2.4M479.5 256.3h2.4M479.5 256.5h2.4M479.5 256.6h2.4M479.5 257.2h2.4M479.5 257.5h2.4M479.5 257.8h2.4M479.5 262.3h2.4M479.5 263.5h2.4M479.5 264h2.4M479.5 265.2h2.4M479.5 265.7h2.4M479.5 265.8h2.4M479.5 266h2.4M479.5 267.5h2.4M479.5 268.5h2.4M479.5 268.6h2.4M479.5 268.9h2.4M479.5 269.1h2.4M479.5 269.9h2.4M479.5 272.1h2.4M479.5 272.2h2.4M479.5 273.3h2.4M479.5 274.1h2.4M479.5 276.4h2.4M479.5 277.4h2.4M479.5 277.9h2.4M479.5 278.1h2.4M479.5 279.2h2.4M479.5 280.6h2.4M479.5 281.2h2.4M479.5 281.8h2.4M479.5 282.2h2.4M479.5 282.8h2.4M479.5 284.6h2.4M479.5 285.8h2.4M479.5 285.9h2.4M479.5 286h2.4M479.5 287.4h2.4M479.5 289.1h2.4M479.5 290.5h2.4M479.5 290.6h2.4M479.5 293.8h2.4M479.5 296.5h2.4M479.5 301.6h2.4M479.5 303h2.4M479.5 305.4h2.4M479.5 310.2h2.4M479.5 310.7h2.4M479.5 314.5h2.4M479.5 316.3h2.4M482.7 211h2.4M482.7 214.1h2.4M482.7 215.5h2.4M482.7 216.2h2.4M482.7 218.6h2.4M482.7 218.9h2.4M482.7 219.6h2.4M482.7 220.1h2.4M482.7 221.2h2.4M482.7 222.6h2.4M482.7 223.4h2.4M482.7 224.5h2.4M482.7 225.3h2.4M482.7 225.5h2.4M482.7 227.7h2.4M482.7 228.4h2.4M482.7 228.8h2.4M482.7 229.8h2.4M482.7 230h2.4M482.7 232.3h2.4M482.7 232.8h2.4M482.7 233h2.4M482.7 233.3h2.4M482.7 234.4h2.4M482.7 235.2h2.4M482.7 236.2h2.4M482.7 236.7h2.4M482.7 238.5h2.4M482.7 238.6h2.4M482.7 239.6h2.4M482.7 242.3h2.4M482.7 242.4h2.4M482.7 242.8h2.4M482.7 243.6h2.4M482.7 243.7h2.4M482.7 244.7h2.4M482.7 245.1h2.4M482.7 247.7h2.4M482.7 248.4h2.4M482.7 248.6h2.4M482.7 250.1h2.4M482.7 250.4h2.4M482.7 250.5h2.4M482.7 250.9h2.4M482.7 251.6h2.4M482.7 251.7h2.4M482.7 252.8h2.4M482.7 254.4h2.4M482.7 254.7h2.4M482.7 255h2.4M482.7 255.6h2.4M482.7 255.9h2.4M482.7 257.1h2.4M482.7 258.7h2.4M482.7 260.4h2.4M482.7 260.5h2.4M482.7 260.6h2.4M482.7 260.8h2.4M482.7 260.9h2.4M482.7 261.4h2.4M482.7 261.5h2.4M482.7 261.7h2.4M482.7 265.5h2.4M482.7 266.6h2.4M482.7 267.3h2.4M482.7 268h2.4M482.7 268.2h2.4M482.7 268.5h2.4M482.7 269.4h2.4M482.7 269.8h2.4M482.7 270.4h2.4M482.7 271.2h2.4M482.7 271.3h2.4M482.7 271.5h2.4M482.7 271.8h2.4M482.7 273.8h2.4M482.7 274.6h2.4M482.7 274.8h2.4M482.7 275.4h2.4M482.7 276.3h2.4M482.7 278.1h2.4M482.7 278.5h2.4M482.7 278.9h2.4M482.7 279.8h2.4M482.7 281.3h2.4M482.7 281.5h2.4M482.7 282.3h2.4M482.7 282.7h2.4M482.7 282.9h2.4M482.7 284h2.4M482.7 285.1h2.4M482.7 285.5h2.4M482.7 285.7h2.4M482.7 287.3h2.4M482.7 288.7h2.4M482.7 289.7h2.4M482.7 290.1h2.4M482.7 294.3h2.4M482.7 297.1h2.4M482.7 304.2h2.4M482.7 305.8h2.4M482.7 307.2h2.4M482.7 313.3h2.4M482.7 313.5h2.4M482.7 318.1h2.4M482.7 321.2h2.4M485.9 215.9h2.4M485.9 217.2h2.4M485.9 218.2h2.4M485.9 221.1h2.4M485.9 221.2h2.4M485.9 221.8h2.4M485.9 222.9h2.4M485.9 223h2.4M485.9 225.6h2.4M485.9 227.6h2.4M485.9 227.9h2.4M485.9 228h2.4M485.9 228.6h2.4M485.9 231.4h2.4M485.9 231.5h2.4M485.9 231.6h2.4M485.9 232.3h2.4M485.9 233.6h2.4M485.9 235.1h2.4M485.9 236.6h2.4M485.9 236.8h2.4M485.9 237.2h2.4M485.9 237.5h2.4M485.9 239.7h2.4M485.9 239.8h2.4M485.9 240.9h2.4M485.9 242h2.4M485.9 242.1h2.4M485.9 243.7h2.4M485.9 245.6h2.4M485.9 246.3h2.4M485.9 246.6h2.4M485.9 248.1h2.4M485.9 249.6h2.4M485.9 252h2.4M485.9 252.4h2.4M485.9 253.2h2.4M485.9 253.3h2.4M485.9 254.5h2.4M485.9 255.1h2.4M485.9 255.5h2.4M485.9 256.7h2.4M485.9 257.6h2.4M485.9 257.7h2.4M485.9 258.3h2.4M485.9 259.4h2.4M485.9 259.6h2.4M485.9 260h2.4M485.9 260.4h2.4M485.9 261.5h2.4M485.9 261.8h2.4M485.9 262.4h2.4M485.9 262.8h2.4M485.9 262.9h2.4M485.9 263.2h2.4M485.9 263.4h2.4M485.9 264.4h2.4M485.9 264.8h2.4M485.9 265.5h2.4M485.9 267h2.4M485.9 268.2h2.4M485.9 268.5h2.4M485.9 268.9h2.4M485.9 269.3h2.4M485.9 269.5h2.4M485.9 269.7h2.4M485.9 269.8h2.4M485.9 270.2h2.4M485.9 270.6h2.4M485.9 271.1h2.4M485.9 271.4h2.4M485.9 271.9h2.4M485.9 272.1h2.4M485.9 272.4h2.4M485.9 273.2h2.4M485.9 274.7h2.4M485.9 275.4h2.4M485.9 275.7h2.4M485.9 275.9h2.4M485.9 276.7h2.4M485.9 278.5h2.4M485.9 279h2.4M485.9 279.2h2.4M485.9 279.9h2.4M485.9 281.2h2.4M485.9 281.6h2.4M485.9 282h2.4M485.9 282.5h2.4M485.9 283.6h2.4M485.9 283.7h2.4M485.9 283.8h2.4M485.9 284.8h2.4M485.9 285.4h2.4M485.9 285.8h2.4M485.9 289h2.4M485.9 289.2h2.4M485.9 290h2.4M485.9 294.8h2.4M485.9 297.8h2.4M485.9 305.5h2.4M485.9 306.8h2.4M485.9 308.6h2.4M485.9 317.8h2.4M485.9 317.9h2.4M485.9 322.9h2.4M485.9 325.7h2.4M489 217.1h2.4M489 220.5h2.4M489 222.2h2.4M489 223.1h2.4M489 224.3h2.4M489 224.6h2.4M489 226.3h2.4M489 227.6h2.4M489 228.3h2.4M489 230.5h2.4M489 231.3h2.4M489 231.9h2.4M489 232.3h2.4M489 233.2h2.4M489 234.6h2.4M489 235.6h2.4M489 235.7h2.4M489 237h2.4M489 238.2h2.4M489 238.3h2.4M489 239.2h2.4M489 239.9h2.4M489 241.1h2.4M489 242.1h2.4M489 242.8h2.4M489 243.3h2.4M489 244h2.4M489 245h2.4M489 245.7h2.4M489 246.1h2.4M489 248.6h2.4M489 249.1h2.4M489 249.8h2.4M489 250.1h2.4M489 251.1h2.4M489 251.4h2.4M489 254.4h2.4M489 254.8h2.4M489 255.3h2.4M489 256.1h2.4M489 256.7h2.4M489 257.3h2.4M489 257.4h2.4M489 258.5h2.4M489 258.7h2.4M489 258.9h2.4M489 259.2h2.4M489 260h2.4M489 261.6h2.4M489 261.8h2.4M489 263.2h2.4M489 263.3h2.4M489 264.5h2.4M489 264.7h2.4M489 265.1h2.4M489 265.6h2.4M489 265.9h2.4M489 266.2h2.4M489 266.4h2.4M489 266.5h2.4M489 266.9h2.4M489 267.4h2.4M489 268.1h2.4M489 269.1h2.4M489 270h2.4M489 270.9h2.4M489 271.1h2.4M489 271.4h2.4M489 271.8h2.4M489 272.1h2.4M489 272.2h2.4M489 272.8h2.4M489 273.1h2.4M489 273.2h2.4M489 273.3h2.4M489 273.9h2.4M489 275.6h2.4M489 275.9h2.4M489 276.1h2.4M489 276.3h2.4M489 277.4h2.4M489 278h2.4M489 278.7h2.4M489 279.7h2.4M489 280.5h2.4M489 280.6h2.4M489 281.2h2.4M489 282.4h2.4M489 283.4h2.4M489 283.9h2.4M489 284.4h2.4M489 284.6h2.4M489 284.8h2.4M489 285.3h2.4M489 286.7h2.4M489 289.9h2.4M489 290.2h2.4M489 291.1h2.4M489 296.9h2.4M489 299.8h2.4M489 307.1h2.4M489 308.8h2.4M489 311.3h2.4M489 320.3h2.4M489 321.8h2.4M489 327.4h2.4M489 329.7h2.4M492.2 219.7h2.4M492.2 221.7h2.4M492.2 223.8h2.4M492.2 224.2h2.4M492.2 226.4h2.4M492.2 226.7h2.4M492.2 227.9h2.4M492.2 228.3h2.4M492.2 228.4h2.4M492.2 231.9h2.4M492.2 232.3h2.4M492.2 232.6h2.4M492.2 234.2h2.4M492.2 234.7h2.4M492.2 236.1h2.4M492.2 238.3h2.4M492.2 238.5h2.4M492.2 239.3h2.4M492.2 240.5h2.4M492.2 241.7h2.4M492.2 242.1h2.4M492.2 242.5h2.4M492.2 245h2.4M492.2 245.5h2.4M492.2 245.9h2.4M492.2 246.3h2.4M492.2 247.7h2.4M492.2 247.8h2.4M492.2 249.6h2.4M492.2 250.1h2.4M492.2 252.1h2.4M492.2 252.5h2.4M492.2 252.9h2.4M492.2 253.5h2.4M492.2 253.8h2.4M492.2 257.1h2.4M492.2 257.6h2.4M492.2 257.9h2.4M492.2 259.6h2.4M492.2 260h2.4M492.2 261.3h2.4M492.2 261.5h2.4M492.2 261.7h2.4M492.2 262.3h2.4M492.2 262.4h2.4M492.2 262.6h2.4M492.2 263.3h2.4M492.2 264.6h2.4M492.2 266.6h2.4M492.2 267.8h2.4M492.2 268.1h2.4M492.2 268.2h2.4M492.2 268.4h2.4M492.2 268.6h2.4M492.2 268.9h2.4M492.2 269.2h2.4M492.2 269.5h2.4M492.2 270h2.4M492.2 270.9h2.4M492.2 271.9h2.4M492.2 273.4h2.4M492.2 273.5h2.4M492.2 273.7h2.4M492.2 273.9h2.4M492.2 274h2.4M492.2 274.4h2.4M492.2 274.6h2.4M492.2 274.7h2.4M492.2 275.1h2.4M492.2 275.5h2.4M492.2 275.6h2.4M492.2 275.9h2.4M492.2 276.9h2.4M492.2 277.4h2.4M492.2 277.8h2.4M492.2 278.2h2.4M492.2 278.8h2.4M492.2 278.9h2.4M492.2 279.1h2.4M492.2 279.6h2.4M492.2 280.9h2.4M492.2 281h2.4M492.2 281.5h2.4M492.2 282.8h2.4M492.2 283.4h2.4M492.2 284.5h2.4M492.2 284.6h2.4M492.2 285.2h2.4M492.2 285.4h2.4M492.2 285.6h2.4M492.2 287.2h2.4M492.2 290.6h2.4M492.2 290.9h2.4M492.2 291.8h2.4M492.2 299.1h2.4M492.2 302.3h2.4M492.2 308.7h2.4M492.2 310.5h2.4M492.2 313.7h2.4M492.2 323.7h2.4M492.2 324.9h2.4M492.2 331.1h2.4M492.2 333.1h2.4M495.4 220.4h2.4M495.4 225.7h2.4M495.4 228.5h2.4M495.4 228.6h2.4M495.4 230.1h2.4M495.4 231.4h2.4M495.4 233.8h2.4M495.4 235.4h2.4M495.4 235.5h2.4M495.4 236.6h2.4M495.4 238.1h2.4M495.4 238.7h2.4M495.4 240.3h2.4M495.4 240.4h2.4M495.4 242.2h2.4M495.4 244h2.4M495.4 245.2h2.4M495.4 246h2.4M495.4 246.8h2.4M495.4 247.3h2.4M495.4 248.7h2.4M495.4 248.8h2.4M495.4 250h2.4M495.4 252.5h2.4M495.4 252.8h2.4M495.4 253.1h2.4M495.4 253.8h2.4M495.4 256h2.4M495.4 256.1h2.4M495.4 256.2h2.4M495.4 257.4h2.4M495.4 258.4h2.4M495.4 259.3h2.4M495.4 259.5h2.4M495.4 261.8h2.4M495.4 262.2h2.4M495.4 263.5h2.4M495.4 263.6h2.4M495.4 264.3h2.4M495.4 264.9h2.4M495.4 265.1h2.4M495.4 265.4h2.4M495.4 266.2h2.4M495.4 266.4h2.4M495.4 266.6h2.4M495.4 267.4h2.4M495.4 269.3h2.4M495.4 270.7h2.4M495.4 270.8h2.4M495.4 271.1h2.4M495.4 271.4h2.4M495.4 271.9h2.4M495.4 272.2h2.4M495.4 272.5h2.4M495.4 273.1h2.4M495.4 273.2h2.4M495.4 274.7h2.4M495.4 275.9h2.4M495.4 276.4h2.4M495.4 276.6h2.4M495.4 277h2.4M495.4 277.2h2.4M495.4 277.6h2.4M495.4 277.8h2.4M495.4 278.7h2.4M495.4 279.7h2.4M495.4 279.9h2.4M495.4 280h2.4M495.4 280.9h2.4M495.4 281h2.4M495.4 281.3h2.4M495.4 282.3h2.4M495.4 282.8h2.4M495.4 284.1h2.4M495.4 284.3h2.4M495.4 284.5h2.4M495.4 285.8h2.4M495.4 286.4h2.4M495.4 287h2.4M495.4 287.2h2.4M495.4 287.9h2.4M495.4 288.2h2.4M495.4 289.2h2.4M495.4 291.4h2.4M495.4 291.9h2.4M495.4 293.8h2.4M495.4 301.6h2.4M495.4 304.6h2.4M495.4 311.1h2.4M495.4 312.7h2.4M495.4 317.2h2.4M495.4 326.3h2.4M495.4 327.9h2.4M495.4 333.1h2.4M495.4 336.3h2.4M498.6 228.1h2.4M498.6 230.2h2.4M498.6 230.4h2.4M498.6 231.9h2.4M498.6 234.3h2.4M498.6 236.7h2.4M498.6 237.8h2.4M498.6 238.7h2.4M498.6 239.6h2.4M498.6 240.4h2.4M498.6 242h2.4M498.6 243.2h2.4M498.6 244.1h2.4M498.6 244.5h2.4M498.6 245.9h2.4M498.6 248.5h2.4M498.6 249.1h2.4M498.6 250.4h2.4M498.6 250.6h2.4M498.6 251.6h2.4M498.6 251.9h2.4M498.6 255.1h2.4M498.6 255.3h2.4M498.6 255.4h2.4M498.6 255.5h2.4M498.6 257.3h2.4M498.6 257.6h2.4M498.6 259h2.4M498.6 259.6h2.4M498.6 260.4h2.4M498.6 260.7h2.4M498.6 262.5h2.4M498.6 263h2.4M498.6 265h2.4M498.6 267.2h2.4M498.6 267.3h2.4M498.6 267.4h2.4M498.6 267.5h2.4M498.6 267.7h2.4M498.6 267.9h2.4M498.6 268.4h2.4M498.6 268.5h2.4M498.6 268.7h2.4M498.6 270.4h2.4M498.6 271.1h2.4M498.6 272.3h2.4M498.6 273.1h2.4M498.6 273.4h2.4M498.6 274.1h2.4M498.6 274.6h2.4M498.6 274.7h2.4M498.6 275h2.4M498.6 275.4h2.4M498.6 275.6h2.4M498.6 276h2.4M498.6 276.8h2.4M498.6 277.3h2.4M498.6 278.2h2.4M498.6 278.6h2.4M498.6 279.1h2.4M498.6 280h2.4M498.6 280.3h2.4M498.6 280.4h2.4M498.6 280.5h2.4M498.6 281.3h2.4M498.6 281.5h2.4M498.6 281.6h2.4M498.6 282.5h2.4M498.6 283h2.4M498.6 283.1h2.4M498.6 283.3h2.4M498.6 283.7h2.4M498.6 283.9h2.4M498.6 284.2h2.4M498.6 284.8h2.4M498.6 285.6h2.4M498.6 286.1h2.4M498.6 286.3h2.4M498.6 286.7h2.4M498.6 288.6h2.4M498.6 288.9h2.4M498.6 289h2.4M498.6 289.4h2.4M498.6 289.7h2.4M498.6 290.2h2.4M498.6 290.8h2.4M498.6 291.1h2.4M498.6 291.3h2.4M498.6 294.5h2.4M498.6 295.9h2.4M498.6 296.6h2.4M498.6 304.9h2.4M498.6 309.2h2.4M498.6 312.4h2.4M498.6 313.8h2.4M498.6 320.7h2.4M498.6 328.8h2.4M498.6 331h2.4M498.6 335.7h2.4M498.6 338.4h2.4M501.8 228.7h2.4M501.8 233.4h2.4M501.8 234.1h2.4M501.8 234.2h2.4M501.8 235.6h2.4M501.8 237.9h2.4M501.8 240.1h2.4M501.8 240.2h2.4M501.8 242h2.4M501.8 242.1h2.4M501.8 242.9h2.4M501.8 243.8h2.4M501.8 245.2h2.4M501.8 246.2h2.4M501.8 246.8h2.4M501.8 247.5h2.4M501.8 249h2.4M501.8 252.4h2.4M501.8 252.5h2.4M501.8 253.2h2.4M501.8 254.7h2.4M501.8 254.9h2.4M501.8 255.6h2.4M501.8 256.6h2.4M501.8 258.6h2.4M501.8 259h2.4M501.8 259.6h2.4M501.8 260.9h2.4M501.8 261.1h2.4M501.8 262.3h2.4M501.8 262.9h2.4M501.8 263.7h2.4M501.8 264.7h2.4M501.8 266.2h2.4M501.8 267.3h2.4M501.8 268.5h2.4M501.8 270.3h2.4M501.8 270.5h2.4M501.8 270.6h2.4M501.8 271.8h2.4M501.8 271.9h2.4M501.8 272.1h2.4M501.8 272.6h2.4M501.8 272.8h2.4M501.8 273.2h2.4M501.8 274.6h2.4M501.8 275h2.4M501.8 275.6h2.4M501.8 277.1h2.4M501.8 277.4h2.4M501.8 278h2.4M501.8 278.1h2.4M501.8 278.2h2.4M501.8 278.5h2.4M501.8 278.6h2.4M501.8 278.9h2.4M501.8 279.4h2.4M501.8 280.5h2.4M501.8 280.7h2.4M501.8 280.9h2.4M501.8 281h2.4M501.8 282h2.4M501.8 282.2h2.4M501.8 282.7h2.4M501.8 283h2.4M501.8 283.2h2.4M501.8 283.7h2.4M501.8 284h2.4M501.8 284.2h2.4M501.8 285.1h2.4M501.8 285.3h2.4M501.8 285.7h2.4M501.8 285.8h2.4M501.8 286h2.4M501.8 286.7h2.4M501.8 287.2h2.4M501.8 287.4h2.4M501.8 288h2.4M501.8 289.2h2.4M501.8 289.7h2.4M501.8 290h2.4M501.8 291.5h2.4M501.8 291.7h2.4M501.8 291.8h2.4M501.8 292.2h2.4M501.8 292.6h2.4M501.8 293.2h2.4M501.8 296.6h2.4M501.8 297.9h2.4M501.8 298.8h2.4M501.8 306.4h2.4M501.8 312.1h2.4M501.8 314.5h2.4M501.8 316.1h2.4M501.8 322.2h2.4M501.8 330.7h2.4M501.8 333.1h2.4M501.8 337h2.4M501.8 337.6h2.4M505 233.7h2.4M505 234h2.4M505 235.8h2.4M505 237h2.4M505 237.3h2.4M505 237.5h2.4M505 238.7h2.4M505 241.7h2.4M505 243.6h2.4M505 244.1h2.4M505 244.4h2.4M505 245h2.4M505 245.3h2.4M505 246.9h2.4M505 248.9h2.4M505 250.2h2.4M505 250.7h2.4M505 250.9h2.4M505 252.7h2.4M505 254.8h2.4M505 255.6h2.4M505 255.9h2.4M505 256.8h2.4M505 258.1h2.4M505 258.5h2.4M505 259.6h2.4M505 260.6h2.4M505 262.2h2.4M505 263.1h2.4M505 263.6h2.4M505 265.4h2.4M505 265.5h2.4M505 266.6h2.4M505 267.1h2.4M505 267.4h2.4M505 269.6h2.4M505 271h2.4M505 271.9h2.4M505 272.1h2.4M505 272.8h2.4M505 272.9h2.4M505 273.2h2.4M505 273.4h2.4M505 274.1h2.4M505 274.3h2.4M505 275.2h2.4M505 275.6h2.4M505 276.2h2.4M505 276.7h2.4M505 277.3h2.4M505 278.1h2.4M505 278.5h2.4M505 278.9h2.4M505 279h2.4M505 279.2h2.4M505 279.7h2.4M505 279.8h2.4M505 280.3h2.4M505 281h2.4M505 281.4h2.4M505 282.4h2.4M505 282.7h2.4M505 283.1h2.4M505 283.6h2.4M505 284.3h2.4M505 284.5h2.4M505 285.6h2.4M505 285.7h2.4M505 285.8h2.4M505 285.9h2.4M505 286.6h2.4M505 286.8h2.4M505 287.8h2.4M505 288h2.4M505 288.3h2.4M505 288.4h2.4M505 289.7h2.4M505 289.8h2.4M505 290h2.4M505 290.5h2.4M505 291.1h2.4M505 292h2.4M505 293.7h2.4M505 293.9h2.4M505 294h2.4M505 294.3h2.4M505 294.4h2.4M505 294.5h2.4M505 295.3h2.4M505 296.1h2.4M505 300.1h2.4M505 302.2h2.4M505 308.6h2.4M505 313.8h2.4M505 317h2.4M505 318h2.4M505 324.2h2.4M505 332.2h2.4M505 332.8h2.4M505 338.5h2.4M505 338.7h2.4M508.2 237.9h2.4M508.2 239.6h2.4M508.2 240h2.4M508.2 241h2.4M508.2 242.2h2.4M508.2 242.8h2.4M508.2 245.8h2.4M508.2 246.3h2.4M508.2 247h2.4M508.2 248h2.4M508.2 249.8h2.4M508.2 251.2h2.4M508.2 251.6h2.4M508.2 253.4h2.4M508.2 254.1h2.4M508.2 254.4h2.4M508.2 256.6h2.4M508.2 257.4h2.4M508.2 258.2h2.4M508.2 258.3h2.4M508.2 259.4h2.4M508.2 262h2.4M508.2 262.5h2.4M508.2 262.7h2.4M508.2 263.6h2.4M508.2 265.4h2.4M508.2 266h2.4M508.2 266.2h2.4M508.2 266.5h2.4M508.2 267.8h2.4M508.2 268.3h2.4M508.2 268.4h2.4M508.2 269.9h2.4M508.2 270.5h2.4M508.2 271h2.4M508.2 273h2.4M508.2 274.5h2.4M508.2 275.3h2.4M508.2 275.4h2.4M508.2 275.9h2.4M508.2 276.2h2.4M508.2 276.5h2.4M508.2 276.9h2.4M508.2 277.1h2.4M508.2 278h2.4M508.2 278.2h2.4M508.2 278.8h2.4M508.2 279.3h2.4M508.2 281.2h2.4M508.2 281.3h2.4M508.2 281.7h2.4M508.2 281.9h2.4M508.2 282.2h2.4M508.2 282.8h2.4M508.2 283.2h2.4M508.2 283.9h2.4M508.2 284h2.4M508.2 284.4h2.4M508.2 284.9h2.4M508.2 285h2.4M508.2 286.2h2.4M508.2 286.6h2.4M508.2 286.9h2.4M508.2 287.7h2.4M508.2 288h2.4M508.2 288.2h2.4M508.2 288.4h2.4M508.2 288.5h2.4M508.2 289.1h2.4M508.2 289.3h2.4M508.2 289.8h2.4M508.2 290h2.4M508.2 290.8h2.4M508.2 291h2.4M508.2 291.3h2.4M508.2 291.5h2.4M508.2 292.2h2.4M508.2 293.4h2.4M508.2 293.9h2.4M508.2 294.7h2.4M508.2 295.2h2.4M508.2 295.5h2.4M508.2 295.8h2.4M508.2 296.9h2.4M508.2 297.1h2.4M508.2 297.9h2.4M508.2 298.2h2.4M508.2 299h2.4M508.2 301.3h2.4M508.2 301.7h2.4M508.2 304.8h2.4M508.2 311.4h2.4M508.2 315.8h2.4M508.2 319.1h2.4M508.2 321.8h2.4M508.2 324h2.4M508.2 332.8h2.4M508.2 333.8h2.4M508.2 338.8h2.4M508.2 339h2.4M511.4 242.2h2.4M511.4 243h2.4M511.4 244.7h2.4M511.4 245.6h2.4M511.4 246h2.4M511.4 246.6h2.4M511.4 247h2.4M511.4 248.2h2.4M511.4 249.7h2.4M511.4 249.8h2.4M511.4 252.2h2.4M511.4 252.3h2.4M511.4 253.5h2.4M511.4 253.6h2.4M511.4 254h2.4M511.4 257.7h2.4M511.4 258.7h2.4M511.4 259.8h2.4M511.4 260.1h2.4M511.4 260.6h2.4M511.4 262h2.4M511.4 264.2h2.4M511.4 264.4h2.4M511.4 265.9h2.4M511.4 266.8h2.4M511.4 267.7h2.4M511.4 268.9h2.4M511.4 269.1h2.4M511.4 270h2.4M511.4 270.1h2.4M511.4 270.5h2.4M511.4 272.9h2.4M511.4 273h2.4M511.4 273.3h2.4M511.4 275.4h2.4M511.4 275.5h2.4M511.4 276.2h2.4M511.4 277.3h2.4M511.4 278h2.4M511.4 278.4h2.4M511.4 278.7h2.4M511.4 279h2.4M511.4 279.1h2.4M511.4 279.2h2.4M511.4 280.1h2.4M511.4 280.2h2.4M511.4 281.1h2.4M511.4 281.2h2.4M511.4 282.5h2.4M511.4 283h2.4M511.4 283.5h2.4M511.4 283.8h2.4M511.4 283.9h2.4M511.4 284.5h2.4M511.4 285.2h2.4M511.4 285.7h2.4M511.4 286.7h2.4M511.4 286.9h2.4M511.4 287h2.4M511.4 288h2.4M511.4 288.2h2.4M511.4 288.8h2.4M511.4 289h2.4M511.4 289.2h2.4M511.4 289.8h2.4M511.4 290.5h2.4M511.4 290.9h2.4M511.4 291.1h2.4M511.4 291.3h2.4M511.4 291.6h2.4M511.4 291.7h2.4M511.4 292.4h2.4M511.4 293h2.4M511.4 293.2h2.4M511.4 293.6h2.4M511.4 293.7h2.4M511.4 294.3h2.4M511.4 295.3h2.4M511.4 295.7h2.4M511.4 297h2.4M511.4 298.4h2.4M511.4 298.6h2.4M511.4 299.3h2.4M511.4 299.4h2.4M511.4 299.5h2.4M511.4 299.7h2.4M511.4 301.2h2.4M511.4 301.3h2.4M511.4 304.2h2.4M511.4 304.6h2.4M511.4 306.5h2.4M511.4 311.8h2.4M511.4 317.8h2.4M511.4 320.9h2.4M511.4 323.4h2.4M511.4 325.4h2.4M511.4 333.9h2.4M511.4 335.5h2.4M511.4 338.9h2.4M511.4 340h2.4M514.6 246.3h2.4M514.6 246.4h2.4M514.6 248.6h2.4M514.6 250.2h2.4M514.6 251.9h2.4M514.6 252.5h2.4M514.6 253.9h2.4M514.6 254.8h2.4M514.6 256h2.4M514.6 256.6h2.4M514.6 257.3h2.4M514.6 258.4h2.4M514.6 259.5h2.4M514.6 261.1h2.4M514.6 261.7h2.4M514.6 262.6h2.4M514.6 263.1h2.4M514.6 263.4h2.4M514.6 263.9h2.4M514.6 265.7h2.4M514.6 266.7h2.4M514.6 267.7h2.4M514.6 269.2h2.4M514.6 269.4h2.4M514.6 269.5h2.4M514.6 270.4h2.4M514.6 271.5h2.4M514.6 271.8h2.4M514.6 272.6h2.4M514.6 273.5h2.4M514.6 274.9h2.4M514.6 275.3h2.4M514.6 277.2h2.4M514.6 277.3h2.4M514.6 277.4h2.4M514.6 278.4h2.4M514.6 279.9h2.4M514.6 280.1h2.4M514.6 280.5h2.4M514.6 280.8h2.4M514.6 281.5h2.4M514.6 282h2.4M514.6 282.1h2.4M514.6 282.2h2.4M514.6 282.6h2.4M514.6 283h2.4M514.6 284.9h2.4M514.6 285h2.4M514.6 285.4h2.4M514.6 285.7h2.4M514.6 286.5h2.4M514.6 287.8h2.4M514.6 288.1h2.4M514.6 288.8h2.4M514.6 288.9h2.4M514.6 290.3h2.4M514.6 290.4h2.4M514.6 290.7h2.4M514.6 291.3h2.4M514.6 291.6h2.4M514.6 292.1h2.4M514.6 292.2h2.4M514.6 293.1h2.4M514.6 293.3h2.4M514.6 293.8h2.4M514.6 294.1h2.4M514.6 294.3h2.4M514.6 294.9h2.4M514.6 295.8h2.4M514.6 296h2.4M514.6 296.3h2.4M514.6 296.4h2.4M514.6 296.6h2.4M514.6 297.4h2.4M514.6 297.8h2.4M514.6 299.2h2.4M514.6 300.1h2.4M514.6 301.6h2.4M514.6 301.7h2.4M514.6 302h2.4M514.6 302.4h2.4M514.6 302.9h2.4M514.6 303.3h2.4M514.6 304.9h2.4M514.6 306.8h2.4M514.6 307.7h2.4M514.6 310.5h2.4M514.6 315.4h2.4M514.6 321.7h2.4M514.6 323.4h2.4M514.6 323.9h2.4M514.6 326h2.4M514.6 335.7h2.4M514.6 336.8h2.4M514.6 339.5h2.4M514.6 341.8h2.4M517.7 251h2.4M517.7 253.3h2.4M517.7 254.8h2.4M517.7 255.5h2.4M517.7 256.1h2.4M517.7 256.2h2.4M517.7 256.4h2.4M517.7 257.6h2.4M517.7 258.8h2.4M517.7 259h2.4M517.7 259.4h2.4M517.7 261.6h2.4M517.7 262.2h2.4M517.7 262.3h2.4M517.7 262.5h2.4M517.7 264.9h2.4M517.7 265.5h2.4M517.7 266.2h2.4M517.7 267.2h2.4M517.7 268.2h2.4M517.7 269.2h2.4M517.7 269.4h2.4M517.7 270.2h2.4M517.7 271h2.4M517.7 271.4h2.4M517.7 272.1h2.4M517.7 273.2h2.4M517.7 275.5h2.4M517.7 276.2h2.4M517.7 276.4h2.4M517.7 276.7h2.4M517.7 278.1h2.4M517.7 278.5h2.4M517.7 278.9h2.4M517.7 279.7h2.4M517.7 280h2.4M517.7 280.4h2.4M517.7 280.8h2.4M517.7 282h2.4M517.7 282.1h2.4M517.7 282.5h2.4M517.7 283.4h2.4M517.7 283.5h2.4M517.7 283.6h2.4M517.7 284.1h2.4M517.7 284.2h2.4M517.7 284.3h2.4M517.7 286.3h2.4M517.7 286.8h2.4M517.7 287h2.4M517.7 287.3h2.4M517.7 289.3h2.4M517.7 289.8h2.4M517.7 290h2.4M517.7 290.7h2.4M517.7 290.9h2.4M517.7 292.6h2.4M517.7 292.9h2.4M517.7 293h2.4M517.7 293.7h2.4M517.7 294.3h2.4M517.7 294.6h2.4M517.7 295.5h2.4M517.7 295.7h2.4M517.7 295.8h2.4M517.7 296.8h2.4M517.7 296.9h2.4M517.7 297.6h2.4M517.7 298.6h2.4M517.7 298.8h2.4M517.7 298.9h2.4M517.7 299h2.4M517.7 299.9h2.4M517.7 300.3h2.4M517.7 300.9h2.4M517.7 302.2h2.4M517.7 302.4h2.4M517.7 303.1h2.4M517.7 303.9h2.4M517.7 304.3h2.4M517.7 305.4h2.4M517.7 306h2.4M517.7 306.9h2.4M517.7 307.6h2.4M517.7 307.7h2.4M517.7 309h2.4M517.7 310.2h2.4M517.7 312.6h2.4M517.7 316.4h2.4M517.7 323.9h2.4M517.7 324.6h2.4M517.7 324.7h2.4M517.7 328.3h2.4M517.7 336.8h2.4M517.7 338.9h2.4M517.7 339.7h2.4M517.7 342.7h2.4M520.9 251.9h2.4M520.9 253.7h2.4M520.9 256h2.4M520.9 257h2.4M520.9 257.3h2.4M520.9 257.5h2.4M520.9 258.7h2.4M520.9 258.8h2.4M520.9 260.2h2.4M520.9 260.8h2.4M520.9 261.3h2.4M520.9 264h2.4M520.9 264.2h2.4M520.9 264.5h2.4M520.9 265.6h2.4M520.9 267.6h2.4M520.9 268h2.4M520.9 268.6h2.4M520.9 269.3h2.4M520.9 270.2h2.4M520.9 272.5h2.4M520.9 272.6h2.4M520.9 274h2.4M520.9 274.2h2.4M520.9 274.4h2.4M520.9 275h2.4M520.9 277.3h2.4M520.9 278.4h2.4M520.9 278.5h2.4M520.9 279.1h2.4M520.9 280.9h2.4M520.9 281h2.4M520.9 281.2h2.4M520.9 281.5h2.4M520.9 281.9h2.4M520.9 282.4h2.4M520.9 283h2.4M520.9 283.6h2.4M520.9 284h2.4M520.9 284.4h2.4M520.9 285.8h2.4M520.9 286.1h2.4M520.9 286.3h2.4M520.9 286.5h2.4M520.9 286.9h2.4M520.9 287.1h2.4M520.9 287.6h2.4M520.9 287.8h2.4M520.9 288.3h2.4M520.9 288.9h2.4M520.9 289.3h2.4M520.9 291h2.4M520.9 292.1h2.4M520.9 294.2h2.4M520.9 294.4h2.4M520.9 294.8h2.4M520.9 294.9h2.4M520.9 295.1h2.4M520.9 295.2h2.4M520.9 296.6h2.4M520.9 297.4h2.4M520.9 297.6h2.4M520.9 297.9h2.4M520.9 298.2h2.4M520.9 299.3h2.4M520.9 299.4h2.4M520.9 299.6h2.4M520.9 299.7h2.4M520.9 302.5h2.4M520.9 302.6h2.4M520.9 302.9h2.4M520.9 304h2.4M520.9 304.6h2.4M520.9 304.8h2.4M520.9 305.1h2.4M520.9 305.9h2.4M520.9 307.9h2.4M520.9 308.3h2.4M520.9 310h2.4M520.9 310.5h2.4M520.9 310.9h2.4M520.9 312.7h2.4M520.9 313.2h2.4M520.9 315.5h2.4M520.9 320.1h2.4M520.9 325.8h2.4M520.9 326.8h2.4M520.9 327h2.4M520.9 329.4h2.4M520.9 338.5h2.4M520.9 340.1h2.4M520.9 341.3h2.4M520.9 345.1h2.4M524.1 254.2h2.4M524.1 257.5h2.4M524.1 258.7h2.4M524.1 258.8h2.4M524.1 259.2h2.4M524.1 259.9h2.4M524.1 260.8h2.4M524.1 261.7h2.4M524.1 262.4h2.4M524.1 263.3h2.4M524.1 263.9h2.4M524.1 266h2.4M524.1 266.2h2.4M524.1 266.4h2.4M524.1 267.9h2.4M524.1 268.8h2.4M524.1 269.3h2.4M524.1 269.5h2.4M524.1 271.7h2.4M524.1 273.4h2.4M524.1 273.8h2.4M524.1 274.1h2.4M524.1 275h2.4M524.1 276.3h2.4M524.1 276.8h2.4M524.1 277.6h2.4M524.1 279h2.4M524.1 279.6h2.4M524.1 280.2h2.4M524.1 280.4h2.4M524.1 282.2h2.4M524.1 283.6h2.4M524.1 283.7h2.4M524.1 284h2.4M524.1 284.2h2.4M524.1 284.3h2.4M524.1 284.8h2.4M524.1 285.6h2.4M524.1 285.9h2.4M524.1 286.7h2.4M524.1 287.2h2.4M524.1 287.4h2.4M524.1 288.4h2.4M524.1 288.7h2.4M524.1 288.9h2.4M524.1 289h2.4M524.1 289.5h2.4M524.1 290.2h2.4M524.1 291.1h2.4M524.1 291.5h2.4M524.1 292h2.4M524.1 292.1h2.4M524.1 292.8h2.4M524.1 293.5h2.4M524.1 294.4h2.4M524.1 295.7h2.4M524.1 296.2h2.4M524.1 296.8h2.4M524.1 297.1h2.4M524.1 298h2.4M524.1 298.7h2.4M524.1 298.8h2.4M524.1 299.7h2.4M524.1 300.1h2.4M524.1 300.6h2.4M524.1 300.8h2.4M524.1 301.6h2.4M524.1 301.8h2.4M524.1 302.3h2.4M524.1 303.6h2.4M524.1 304.5h2.4M524.1 304.8h2.4M524.1 305.2h2.4M524.1 305.3h2.4M524.1 305.5h2.4M524.1 305.8h2.4M524.1 306.6h2.4M524.1 306.8h2.4M524.1 307.5h2.4M524.1 308.9h2.4M524.1 309.5h2.4M524.1 310.8h2.4M524.1 311.6h2.4M524.1 312.7h2.4M524.1 313.7h2.4M524.1 314.6h2.4M524.1 315.4h2.4M524.1 316.2h2.4M524.1 318h2.4M524.1 321.2h2.4M524.1 327h2.4M524.1 328.9h2.4M524.1 329.3h2.4M524.1 331.3h2.4M524.1 339h2.4M524.1 339.9h2.4M524.1 343h2.4M524.1 346.2h2.4M527.3 255.3h2.4M527.3 258.8h2.4M527.3 260.2h2.4M527.3 260.7h2.4M527.3 261.2h2.4M527.3 261.9h2.4M527.3 263h2.4M527.3 263.9h2.4M527.3 264.2h2.4M527.3 265.1h2.4M527.3 267.8h2.4M527.3 268.2h2.4M527.3 268.3h2.4M527.3 270.1h2.4M527.3 270.8h2.4M527.3 270.9h2.4M527.3 272.1h2.4M527.3 274h2.4M527.3 274.5h2.4M527.3 275.1h2.4M527.3 276h2.4M527.3 276.9h2.4M527.3 277.6h2.4M527.3 277.8h2.4M527.3 278.9h2.4M527.3 279.6h2.4M527.3 279.9h2.4M527.3 280.8h2.4M527.3 281.6h2.4M527.3 282.2h2.4M527.3 284.7h2.4M527.3 285h2.4M527.3 285.4h2.4M527.3 286.1h2.4M527.3 286.7h2.4M527.3 286.8h2.4M527.3 287.7h2.4M527.3 287.8h2.4M527.3 288.1h2.4M527.3 288.3h2.4M527.3 288.4h2.4M527.3 288.6h2.4M527.3 289.8h2.4M527.3 290.2h2.4M527.3 290.6h2.4M527.3 290.7h2.4M527.3 291.2h2.4M527.3 291.4h2.4M527.3 291.8h2.4M527.3 292.6h2.4M527.3 293.1h2.4M527.3 294.3h2.4M527.3 294.4h2.4M527.3 294.9h2.4M527.3 295.2h2.4M527.3 295.3h2.4M527.3 297.8h2.4M527.3 298.1h2.4M527.3 299.6h2.4M527.3 299.8h2.4M527.3 301.1h2.4M527.3 302.3h2.4M527.3 302.4h2.4M527.3 302.5h2.4M527.3 303.1h2.4M527.3 303.3h2.4M527.3 303.4h2.4M527.3 304.3h2.4M527.3 304.6h2.4M527.3 306h2.4M527.3 306.6h2.4M527.3 308.1h2.4M527.3 308.2h2.4M527.3 308.4h2.4M527.3 308.9h2.4M527.3 309.1h2.4M527.3 309.6h2.4M527.3 309.8h2.4M527.3 310.3h2.4M527.3 311h2.4M527.3 311.8h2.4M527.3 313.9h2.4M527.3 314.1h2.4M527.3 314.8h2.4M527.3 315.2h2.4M527.3 317.5h2.4M527.3 317.9h2.4M527.3 318.2h2.4M527.3 319.8h2.4M527.3 321h2.4M527.3 324h2.4M527.3 328.9h2.4M527.3 330.7h2.4M527.3 332.1h2.4M527.3 333.8h2.4M527.3 340.3h2.4M527.3 341h2.4M527.3 345h2.4M527.3 347h2.4M530.5 257.7h2.4M530.5 258.3h2.4M530.5 259.4h2.4M530.5 262.4h2.4M530.5 262.8h2.4M530.5 262.9h2.4M530.5 263.5h2.4M530.5 264.8h2.4M530.5 265.4h2.4M530.5 266h2.4M530.5 267.8h2.4M530.5 270.3h2.4M530.5 270.6h2.4M530.5 270.7h2.4M530.5 271.2h2.4M530.5 272.2h2.4M530.5 272.3h2.4M530.5 272.6h2.4M530.5 273.9h2.4M530.5 276.2h2.4M530.5 276.9h2.4M530.5 277h2.4M530.5 277.3h2.4M530.5 278.3h2.4M530.5 279.3h2.4M530.5 279.7h2.4M530.5 281.1h2.4M530.5 282.3h2.4M530.5 282.7h2.4M530.5 283h2.4M530.5 287h2.4M530.5 287.4h2.4M530.5 288.3h2.4M530.5 288.6h2.4M530.5 288.7h2.4M530.5 289.3h2.4M530.5 289.8h2.4M530.5 290.1h2.4M530.5 290.6h2.4M530.5 292.4h2.4M530.5 292.5h2.4M530.5 292.9h2.4M530.5 293.4h2.4M530.5 294.2h2.4M530.5 294.9h2.4M530.5 295.1h2.4M530.5 295.8h2.4M530.5 296.1h2.4M530.5 296.4h2.4M530.5 296.8h2.4M530.5 297.5h2.4M530.5 298.2h2.4M530.5 299.6h2.4M530.5 299.7h2.4M530.5 301.8h2.4M530.5 302.2h2.4M530.5 303.5h2.4M530.5 304.2h2.4M530.5 304.5h2.4M530.5 305h2.4M530.5 305.1h2.4M530.5 305.7h2.4M530.5 305.8h2.4M530.5 307h2.4M530.5 307.6h2.4M530.5 309.6h2.4M530.5 309.7h2.4M530.5 309.8h2.4M530.5 310.7h2.4M530.5 310.9h2.4M530.5 311.6h2.4M530.5 311.7h2.4M530.5 312.3h2.4M530.5 312.6h2.4M530.5 313.7h2.4M530.5 313.9h2.4M530.5 314.1h2.4M530.5 317.5h2.4M530.5 318.8h2.4M530.5 319.1h2.4M530.5 319.2h2.4M530.5 319.8h2.4M530.5 321.1h2.4M530.5 322.8h2.4M530.5 323.1h2.4M530.5 324.3h2.4M530.5 327.3h2.4M530.5 331.2h2.4M530.5 335.5h2.4M530.5 336.7h2.4M530.5 340h2.4M530.5 343h2.4M530.5 345.7h2.4M530.5 348.3h2.4M533.7 259.1h2.4M533.7 259.2h2.4M533.7 262.7h2.4M533.7 263.9h2.4M533.7 264.4h2.4M533.7 264.6h2.4M533.7 266h2.4M533.7 266.1h2.4M533.7 266.6h2.4M533.7 268.7h2.4M533.7 270.4h2.4M533.7 271.3h2.4M533.7 272.1h2.4M533.7 272.2h2.4M533.7 273.2h2.4M533.7 274.3h2.4M533.7 274.4h2.4M533.7 274.8h2.4M533.7 278.1h2.4M533.7 278.4h2.4M533.7 278.6h2.4M533.7 278.8h2.4M533.7 281.2h2.4M533.7 281.3h2.4M533.7 281.5h2.4M533.7 282.4h2.4M533.7 283h2.4M533.7 283.9h2.4M533.7 284.7h2.4M533.7 284.8h2.4M533.7 288.1h2.4M533.7 288.6h2.4M533.7 289.9h2.4M533.7 290.2h2.4M533.7 291h2.4M533.7 291.2h2.4M533.7 291.6h2.4M533.7 291.7h2.4M533.7 291.9h2.4M533.7 293.3h2.4M533.7 294.9h2.4M533.7 295.1h2.4M533.7 295.5h2.4M533.7 296.2h2.4M533.7 296.6h2.4M533.7 297.1h2.4M533.7 298.3h2.4M533.7 298.7h2.4M533.7 299.5h2.4M533.7 300.5h2.4M533.7 301.5h2.4M533.7 303.1h2.4M533.7 305.2h2.4M533.7 305.6h2.4M533.7 306.4h2.4M533.7 307.2h2.4M533.7 307.3h2.4M533.7 307.7h2.4M533.7 308.9h2.4M533.7 309.7h2.4M533.7 311.5h2.4M533.7 311.8h2.4M533.7 311.9h2.4M533.7 313.2h2.4M533.7 314.3h2.4M533.7 314.6h2.4M533.7 315.1h2.4M533.7 315.5h2.4M533.7 315.8h2.4M533.7 316.4h2.4M533.7 316.6h2.4M533.7 316.7h2.4M533.7 320.2h2.4M533.7 321.3h2.4M533.7 322h2.4M533.7 322.3h2.4M533.7 322.4h2.4M533.7 325.1h2.4M533.7 326.3h2.4M533.7 327.2h2.4M533.7 327.6h2.4M533.7 329.3h2.4M533.7 334.2h2.4M533.7 337.9h2.4M533.7 338.4h2.4M533.7 341.9h2.4M533.7 344.4h2.4M533.7 346.2h2.4M533.7 348.8h2.4M536.9 259.4h2.4M536.9 261.7h2.4M536.9 265.7h2.4M536.9 266.3h2.4M536.9 267.1h2.4M536.9 267.8h2.4M536.9 268h2.4M536.9 272.1h2.4M536.9 272.8h2.4M536.9 273.1h2.4M536.9 274.2h2.4M536.9 275h2.4M536.9 275.4h2.4M536.9 276.4h2.4M536.9 276.8h2.4M536.9 278.4h2.4M536.9 279.4h2.4M536.9 280.6h2.4M536.9 281.3h2.4M536.9 283.2h2.4M536.9 283.6h2.4M536.9 283.7h2.4M536.9 283.9h2.4M536.9 284.9h2.4M536.9 285.5h2.4M536.9 286.4h2.4M536.9 287.4h2.4M536.9 290.7h2.4M536.9 290.9h2.4M536.9 291.3h2.4M536.9 291.8h2.4M536.9 292.8h2.4M536.9 292.9h2.4M536.9 293.3h2.4M536.9 294h2.4M536.9 294.6h2.4M536.9 294.8h2.4M536.9 296.8h2.4M536.9 296.9h2.4M536.9 297.3h2.4M536.9 297.4h2.4M536.9 298.4h2.4M536.9 299h2.4M536.9 299.3h2.4M536.9 299.4h2.4M536.9 299.6h2.4M536.9 300.8h2.4M536.9 301.3h2.4M536.9 303.1h2.4M536.9 303.2h2.4M536.9 303.6h2.4M536.9 305.9h2.4M536.9 308h2.4M536.9 308.1h2.4M536.9 308.3h2.4M536.9 309.4h2.4M536.9 309.9h2.4M536.9 310.6h2.4M536.9 310.8h2.4M536.9 312.9h2.4M536.9 313.5h2.4M536.9 313.9h2.4M536.9 315h2.4M536.9 315.9h2.4M536.9 317.4h2.4M536.9 317.7h2.4M536.9 317.9h2.4M536.9 318.4h2.4M536.9 319.2h2.4M536.9 319.4h2.4M536.9 319.7h2.4M536.9 320.4h2.4M536.9 320.5h2.4M536.9 322.3h2.4M536.9 326.4h2.4M536.9 327.1h2.4M536.9 327.2h2.4M536.9 327.5h2.4M536.9 327.9h2.4M536.9 329.5h2.4M536.9 330.3h2.4M536.9 331.1h2.4M536.9 332.4h2.4M536.9 336.6h2.4M536.9 340.5h2.4M536.9 341.2h2.4M536.9 343.5h2.4M536.9 345.4h2.4M536.9 346.4h2.4M536.9 349.3h2.4M540.1 262.8h2.4M540.1 264h2.4M540.1 264.1h2.4M540.1 267.2h2.4M540.1 267.8h2.4M540.1 269h2.4M540.1 269.8h2.4M540.1 269.9h2.4M540.1 270.3h2.4M540.1 274.4h2.4M540.1 275.2h2.4M540.1 276.7h2.4M540.1 277.1h2.4M540.1 277.3h2.4M540.1 278.2h2.4M540.1 279h2.4M540.1 279.1h2.4M540.1 280.2h2.4M540.1 281.2h2.4M540.1 282.4h2.4M540.1 283.9h2.4M540.1 285.2h2.4M540.1 286h2.4M540.1 286.1h2.4M540.1 286.8h2.4M540.1 288.4h2.4M540.1 289.4h2.4M540.1 289.5h2.4M540.1 292.9h2.4M540.1 293.4h2.4M540.1 293.5h2.4M540.1 294h2.4M540.1 294.4h2.4M540.1 295.1h2.4M540.1 295.2h2.4M540.1 296.3h2.4M540.1 296.4h2.4M540.1 298.5h2.4M540.1 298.7h2.4M540.1 299.5h2.4M540.1 299.6h2.4M540.1 299.7h2.4M540.1 300.6h2.4M540.1 300.7h2.4M540.1 301.3h2.4M540.1 301.8h2.4M540.1 302.3h2.4M540.1 302.5h2.4M540.1 304.2h2.4M540.1 305.1h2.4M540.1 305.3h2.4M540.1 308.1h2.4M540.1 309.1h2.4M540.1 309.6h2.4M540.1 309.8h2.4M540.1 311.6h2.4M540.1 311.8h2.4M540.1 312.1h2.4M540.1 312.6h2.4M540.1 313.1h2.4M540.1 314.6h2.4M540.1 315.8h2.4M540.1 316.1h2.4M540.1 318h2.4M540.1 319.2h2.4M540.1 319.5h2.4M540.1 320.3h2.4M540.1 321.2h2.4M540.1 322h2.4M540.1 322.3h2.4M540.1 323h2.4M540.1 324.8h2.4M540.1 328.3h2.4M540.1 329.1h2.4M540.1 330.2h2.4M540.1 330.4h2.4M540.1 331.8h2.4M540.1 332h2.4M540.1 333.3h2.4M540.1 333.7h2.4M540.1 335.8h2.4M540.1 337.9h2.4M540.1 341.4h2.4M540.1 342.1h2.4M540.1 344.8h2.4M540.1 346h2.4M540.1 346.4h2.4M540.1 350.1h2.4M543.3 267.4h2.4M543.3 267.8h2.4M543.3 268.6h2.4M543.3 269.6h2.4M543.3 271.9h2.4M543.3 272.8h2.4M543.3 273.1h2.4M543.3 273.4h2.4M543.3 277h2.4M543.3 277.1h2.4M543.3 278.2h2.4M543.3 279.6h2.4M543.3 279.9h2.4M543.3 280.7h2.4M543.3 282.2h2.4M543.3 282.9h2.4M543.3 283.9h2.4M543.3 284h2.4M543.3 284.5h2.4M543.3 285.9h2.4M543.3 286.5h2.4M543.3 287.9h2.4M543.3 288h2.4M543.3 289h2.4M543.3 290.7h2.4M543.3 290.9h2.4M543.3 291.5h2.4M543.3 294.9h2.4M543.3 295h2.4M543.3 295.5h2.4M543.3 295.7h2.4M543.3 295.9h2.4M543.3 296h2.4M543.3 296.9h2.4M543.3 298.1h2.4M543.3 298.2h2.4M543.3 298.3h2.4M543.3 299.6h2.4M543.3 300.8h2.4M543.3 300.9h2.4M543.3 301.1h2.4M543.3 301.3h2.4M543.3 303.2h2.4M543.3 303.3h2.4M543.3 303.6h2.4M543.3 303.9h2.4M543.3 304.5h2.4M543.3 305.8h2.4M543.3 307.2h2.4M543.3 307.5h2.4M543.3 309.2h2.4M543.3 311h2.4M543.3 311.5h2.4M543.3 312.6h2.4M543.3 312.9h2.4M543.3 313.4h2.4M543.3 314.8h2.4M543.3 315.1h2.4M543.3 316.5h2.4M543.3 317.5h2.4M543.3 317.6h2.4M543.3 319.5h2.4M543.3 320.3h2.4M543.3 320.4h2.4M543.3 321.7h2.4M543.3 322h2.4M543.3 323.4h2.4M543.3 323.9h2.4M543.3 324.8h2.4M543.3 325.2h2.4M543.3 325.5h2.4M543.3 325.7h2.4M543.3 327.4h2.4M543.3 330.9h2.4M543.3 331h2.4M543.3 332.7h2.4M543.3 333.6h2.4M543.3 334.3h2.4M543.3 335.2h2.4M543.3 335.4h2.4M543.3 335.6h2.4M543.3 336.8h2.4M543.3 340.2h2.4M543.3 343.2h2.4M543.3 343.7h2.4M543.3 344.9h2.4M543.3 347.2h2.4M543.3 347.3h2.4M543.3 350.3h2.4M546.4 269.3h2.4M546.4 271h2.4M546.4 271.4h2.4M546.4 272.6h2.4M546.4 273.9h2.4M546.4 275.2h2.4M546.4 276.1h2.4M546.4 277.4h2.4M546.4 278.7h2.4M546.4 280.1h2.4M546.4 280.5h2.4M546.4 282h2.4M546.4 282.3h2.4M546.4 282.8h2.4M546.4 283.6h2.4M546.4 284.1h2.4M546.4 285.8h2.4M546.4 286.4h2.4M546.4 286.6h2.4M546.4 287.1h2.4M546.4 287.8h2.4M546.4 288.5h2.4M546.4 289.7h2.4M546.4 292h2.4M546.4 292.4h2.4M546.4 292.9h2.4M546.4 293h2.4M546.4 294.4h2.4M546.4 295.5h2.4M546.4 296.7h2.4M546.4 297.1h2.4M546.4 298h2.4M546.4 298.3h2.4M546.4 298.6h2.4M546.4 299.1h2.4M546.4 299.8h2.4M546.4 300.2h2.4M546.4 300.8h2.4M546.4 300.9h2.4M546.4 302.4h2.4M546.4 302.9h2.4M546.4 303.3h2.4M546.4 304h2.4M546.4 304.2h2.4M546.4 304.8h2.4M546.4 306.1h2.4M546.4 307.2h2.4M546.4 307.4h2.4M546.4 307.6h2.4M546.4 309.7h2.4M546.4 310.7h2.4M546.4 310.8h2.4M546.4 312.4h2.4M546.4 313h2.4M546.4 313.7h2.4M546.4 314.4h2.4M546.4 315.5h2.4M546.4 315.6h2.4M546.4 316.1h2.4M546.4 316.9h2.4M546.4 318.9h2.4M546.4 319.2h2.4M546.4 320.6h2.4M546.4 322.3h2.4M546.4 322.6h2.4M546.4 324.2h2.4M546.4 325.1h2.4M546.4 325.9h2.4M546.4 326.5h2.4M546.4 327.3h2.4M546.4 327.8h2.4M546.4 328.3h2.4M546.4 328.7h2.4M546.4 330.5h2.4M546.4 331.5h2.4M546.4 333.6h2.4M546.4 334.2h2.4M546.4 336.7h2.4M546.4 337h2.4M546.4 337.4h2.4M546.4 337.5h2.4M546.4 338.3h2.4M546.4 339.1h2.4M546.4 342.5h2.4M546.4 343.5h2.4M546.4 344.7h2.4M546.4 345.9h2.4M546.4 347.9h2.4M546.4 348.5h2.4M546.4 351h2.4M549.6 274.8h2.4M549.6 275.2h2.4M549.6 277.3h2.4M549.6 278.3h2.4M549.6 278.4h2.4M549.6 280.7h2.4M549.6 280.8h2.4M549.6 281.6h2.4M549.6 284.5h2.4M549.6 284.8h2.4M549.6 285.3h2.4M549.6 286.3h2.4M549.6 289.5h2.4M549.6 289.6h2.4M549.6 289.7h2.4M549.6 290.5h2.4M549.6 290.7h2.4M549.6 291.3h2.4M549.6 294.1h2.4M549.6 294.7h2.4M549.6 295.1h2.4M549.6 295.4h2.4M549.6 296.2h2.4M549.6 297.3h2.4M549.6 299.1h2.4M549.6 299.6h2.4M549.6 300.4h2.4M549.6 301.2h2.4M549.6 301.3h2.4M549.6 301.4h2.4M549.6 301.5h2.4M549.6 302.1h2.4M549.6 303h2.4M549.6 304.1h2.4M549.6 304.4h2.4M549.6 305.8h2.4M549.6 306.2h2.4M549.6 306.5h2.4M549.6 306.7h2.4M549.6 307.3h2.4M549.6 308.4h2.4M549.6 309h2.4M549.6 310.4h2.4M549.6 310.5h2.4M549.6 312.2h2.4M549.6 312.5h2.4M549.6 313h2.4M549.6 313.7h2.4M549.6 314.7h2.4M549.6 315.4h2.4M549.6 316.4h2.4M549.6 316.5h2.4M549.6 316.8h2.4M549.6 318.2h2.4M549.6 319.3h2.4M549.6 319.5h2.4M549.6 321h2.4M549.6 322.8h2.4M549.6 323.9h2.4M549.6 325.1h2.4M549.6 325.6h2.4M549.6 326h2.4M549.6 327.8h2.4M549.6 328.3h2.4M549.6 328.5h2.4M549.6 328.6h2.4M549.6 331.8h2.4M549.6 332.2h2.4M549.6 333.1h2.4M549.6 333.7h2.4M549.6 334.9h2.4M549.6 335.7h2.4M549.6 338.5h2.4M549.6 339h2.4M549.6 340h2.4M549.6 340.3h2.4M549.6 340.4h2.4M549.6 341.2h2.4M549.6 343.7h2.4M549.6 344.6h2.4M549.6 346.3h2.4M549.6 346.5h2.4M549.6 348h2.4M549.6 348.6h2.4M549.6 350.5h2.4M552.8 277.7h2.4M552.8 278.8h2.4M552.8 279.3h2.4M552.8 279.8h2.4M552.8 281.5h2.4M552.8 282.9h2.4M552.8 284.3h2.4M552.8 284.6h2.4M552.8 286.9h2.4M552.8 287h2.4M552.8 287.2h2.4M552.8 290.7h2.4M552.8 291.5h2.4M552.8 291.8h2.4M552.8 292.8h2.4M552.8 293.1h2.4M552.8 293.2h2.4M552.8 296.3h2.4M552.8 296.9h2.4M552.8 297h2.4M552.8 297.9h2.4M552.8 298.5h2.4M552.8 300.2h2.4M552.8 300.8h2.4M552.8 301.5h2.4M552.8 301.6h2.4M552.8 301.9h2.4M552.8 303.1h2.4M552.8 303.3h2.4M552.8 303.5h2.4M552.8 303.8h2.4M552.8 304h2.4M552.8 304.8h2.4M552.8 306.4h2.4M552.8 307.2h2.4M552.8 307.4h2.4M552.8 308h2.4M552.8 308.2h2.4M552.8 309.1h2.4M552.8 309.8h2.4M552.8 310.4h2.4M552.8 312.1h2.4M552.8 313.3h2.4M552.8 313.8h2.4M552.8 314.3h2.4M552.8 315.1h2.4M552.8 316.1h2.4M552.8 317h2.4M552.8 317.6h2.4M552.8 319.1h2.4M552.8 319.4h2.4M552.8 320h2.4M552.8 321h2.4M552.8 322.2h2.4M552.8 322.3h2.4M552.8 324h2.4M552.8 326.3h2.4M552.8 326.8h2.4M552.8 328.5h2.4M552.8 329.2h2.4M552.8 329.3h2.4M552.8 329.5h2.4M552.8 330.2h2.4M552.8 330.4h2.4M552.8 333.2h2.4M552.8 333.9h2.4M552.8 334.1h2.4M552.8 335.5h2.4M552.8 336.5h2.4M552.8 337h2.4M552.8 337.8h2.4M552.8 339.9h2.4M552.8 341h2.4M552.8 341.8h2.4M552.8 341.9h2.4M552.8 343.1h2.4M552.8 343.4h2.4M552.8 345.5h2.4M552.8 346.1h2.4M552.8 346.5h2.4M552.8 348.5h2.4M552.8 348.6h2.4M552.8 350.3h2.4M556 280h2.4M556 280.1h2.4M556 281.1h2.4M556 282.1h2.4M556 284h2.4M556 284.4h2.4M556 287.9h2.4M556 288.3h2.4M556 288.6h2.4M556 290.5h2.4M556 290.9h2.4M556 292.8h2.4M556 293.8h2.4M556 294.1h2.4M556 294.6h2.4M556 295.3h2.4M556 296.3h2.4M556 298h2.4M556 298.7h2.4M556 300.9h2.4M556 301.2h2.4M556 302.7h2.4M556 303.4h2.4M556 304.3h2.4M556 304.7h2.4M556 305.3h2.4M556 305.5h2.4M556 305.6h2.4M556 305.8h2.4M556 306.6h2.4M556 307.3h2.4M556 307.8h2.4M556 309.2h2.4M556 309.4h2.4M556 309.5h2.4M556 310.4h2.4M556 311.3h2.4M556 312.1h2.4M556 313.6h2.4M556 316.1h2.4M556 316.2h2.4M556 316.6h2.4M556 317.8h2.4M556 318.1h2.4M556 318.3h2.4M556 319.1h2.4M556 320.1h2.4M556 321.2h2.4M556 321.3h2.4M556 321.8h2.4M556 324h2.4M556 324.3h2.4M556 325.3h2.4M556 326.1h2.4M556 327.1h2.4M556 329.9h2.4M556 331.3h2.4M556 331.7h2.4M556 331.8h2.4M556 331.9h2.4M556 332.3h2.4M556 332.4h2.4M556 334.6h2.4M556 336.3h2.4M556 337.4h2.4M556 337.5h2.4M556 338.8h2.4M556 339.5h2.4M556 341h2.4M556 343.2h2.4M556 343.6h2.4M556 344h2.4M556 344.3h2.4M556 344.4h2.4M556 345h2.4M556 345.9h2.4M556 347.5h2.4M556 348.2h2.4M556 348.7h2.4M556 349.4h2.4M556 349.5h2.4M559.2 282.2h2.4M559.2 282.8h2.4M559.2 283.6h2.4M559.2 284.4h2.4M559.2 287.2h2.4M559.2 287.5h2.4M559.2 291h2.4M559.2 291.1h2.4M559.2 291.3h2.4M559.2 291.4h2.4M559.2 293.4h2.4M559.2 295.8h2.4M559.2 296.2h2.4M559.2 297.1h2.4M559.2 297.3h2.4M559.2 299h2.4M559.2 300.9h2.4M559.2 301h2.4M559.2 303.5h2.4M559.2 304.5h2.4M559.2 304.7h2.4M559.2 305.6h2.4M559.2 306.2h2.4M559.2 306.3h2.4M559.2 306.7h2.4M559.2 307.5h2.4M559.2 307.6h2.4M559.2 308.7h2.4M559.2 309.4h2.4M559.2 310.9h2.4M559.2 311.6h2.4M559.2 311.7h2.4M559.2 311.9h2.4M559.2 312.2h2.4M559.2 313.2h2.4M559.2 313.6h2.4M559.2 315.6h2.4M559.2 316.7h2.4M559.2 317.3h2.4M559.2 317.6h2.4M559.2 318.1h2.4M559.2 318.9h2.4M559.2 319.7h2.4M559.2 320.1h2.4M559.2 320.9h2.4M559.2 321.9h2.4M559.2 322.6h2.4M559.2 323.4h2.4M559.2 323.5h2.4M559.2 325.7h2.4M559.2 325.8h2.4M559.2 327.3h2.4M559.2 328.8h2.4M559.2 332h2.4M559.2 332.1h2.4M559.2 332.4h2.4M559.2 332.9h2.4M559.2 333.5h2.4M559.2 333.6h2.4M559.2 334.7h2.4M559.2 338.2h2.4M559.2 338.3h2.4M559.2 338.6h2.4M559.2 338.9h2.4M559.2 341h2.4M559.2 342.4h2.4M559.2 344.4h2.4M559.2 344.7h2.4M559.2 345h2.4M559.2 345.1h2.4M559.2 346h2.4M559.2 346.6h2.4M559.2 346.7h2.4M559.2 347.3h2.4M559.2 347.4h2.4M559.2 349h2.4M559.2 349.2h2.4M559.2 349.5h2.4M562.4 284.7h2.4M562.4 285.4h2.4M562.4 285.8h2.4M562.4 287.5h2.4M562.4 289.7h2.4M562.4 290.6h2.4M562.4 292.5h2.4M562.4 292.8h2.4M562.4 293.5h2.4M562.4 293.6h2.4M562.4 296.1h2.4M562.4 297.6h2.4M562.4 298.1h2.4M562.4 299.1h2.4M562.4 299.2h2.4M562.4 299.6h2.4M562.4 301.2h2.4M562.4 301.9h2.4M562.4 303.4h2.4M562.4 305.8h2.4M562.4 306.1h2.4M562.4 306.3h2.4M562.4 307.1h2.4M562.4 307.6h2.4M562.4 308.7h2.4M562.4 308.9h2.4M562.4 309.1h2.4M562.4 309.7h2.4M562.4 309.8h2.4M562.4 310.1h2.4M562.4 310.4h2.4M562.4 312h2.4M562.4 312.7h2.4M562.4 313.1h2.4M562.4 313.4h2.4M562.4 313.5h2.4M562.4 313.8h2.4M562.4 314.2h2.4M562.4 315.2h2.4M562.4 315.9h2.4M562.4 316.7h2.4M562.4 318.8h2.4M562.4 319.1h2.4M562.4 319.8h2.4M562.4 320h2.4M562.4 320.3h2.4M562.4 320.9h2.4M562.4 321.6h2.4M562.4 322.9h2.4M562.4 324.5h2.4M562.4 324.8h2.4M562.4 325.1h2.4M562.4 326h2.4M562.4 327.7h2.4M562.4 328.8h2.4M562.4 329.7h2.4M562.4 332.6h2.4M562.4 333.1h2.4M562.4 333.4h2.4M562.4 333.8h2.4M562.4 335.4h2.4M562.4 335.6h2.4M562.4 337.3h2.4M562.4 338.4h2.4M562.4 338.5h2.4M562.4 339h2.4M562.4 341h2.4M562.4 341.7h2.4M562.4 343.2h2.4M562.4 345.2h2.4M562.4 345.7h2.4M562.4 346.3h2.4M562.4 346.5h2.4M562.4 346.7h2.4M562.4 347.1h2.4M562.4 347.3h2.4M562.4 347.6h2.4M562.4 348h2.4M562.4 348.1h2.4M562.4 349h2.4M562.4 349.6h2.4M565.6 287.4h2.4M565.6 289.1h2.4M565.6 290.9h2.4M565.6 292.5h2.4M565.6 294.9h2.4M565.6 295h2.4M565.6 295.6h2.4M565.6 295.9h2.4M565.6 296.8h2.4M565.6 298.2h2.4M565.6 300.6h2.4M565.6 301.2h2.4M565.6 301.9h2.4M565.6 302.2h2.4M565.6 303.2h2.4M565.6 304.3h2.4M565.6 306.1h2.4M565.6 307.1h2.4M565.6 307.8h2.4M565.6 308.3h2.4M565.6 309.4h2.4M565.6 309.7h2.4M565.6 310h2.4M565.6 310.2h2.4M565.6 311.4h2.4M565.6 311.8h2.4M565.6 312.3h2.4M565.6 312.4h2.4M565.6 313.9h2.4M565.6 314.6h2.4M565.6 314.8h2.4M565.6 315.4h2.4M565.6 316.2h2.4M565.6 316.3h2.4M565.6 316.9h2.4M565.6 317.5h2.4M565.6 319.5h2.4M565.6 320.4h2.4M565.6 321.3h2.4M565.6 322.2h2.4M565.6 322.3h2.4M565.6 322.6h2.4M565.6 323.1h2.4M565.6 323.9h2.4M565.6 325.5h2.4M565.6 325.9h2.4M565.6 326.6h2.4M565.6 327.2h2.4M565.6 329h2.4M565.6 329.1h2.4M565.6 331.6h2.4M565.6 333.5h2.4M565.6 333.8h2.4M565.6 334h2.4M565.6 334.5h2.4M565.6 336.5h2.4M565.6 337.7h2.4M565.6 338.8h2.4M565.6 341h2.4M565.6 342.3h2.4M565.6 342.8h2.4M565.6 343.1h2.4M565.6 345.9h2.4M565.6 346.1h2.4M565.6 346.3h2.4M565.6 347h2.4M565.6 347.3h2.4M565.6 347.4h2.4M565.6 347.5h2.4M565.6 347.8h2.4M565.6 349.3h2.4M565.6 349.5h2.4M568.8 289.6h2.4M568.8 290.3h2.4M568.8 293.3h2.4M568.8 295.6h2.4M568.8 297.9h2.4M568.8 298.2h2.4M568.8 298.5h2.4M568.8 298.8h2.4M568.8 301.6h2.4M568.8 303.4h2.4M568.8 303.5h2.4M568.8 304.7h2.4M568.8 305.1h2.4M568.8 305.3h2.4M568.8 306.6h2.4M568.8 306.7h2.4M568.8 308h2.4M568.8 309.2h2.4M568.8 309.7h2.4M568.8 310.3h2.4M568.8 311h2.4M568.8 312.2h2.4M568.8 312.8h2.4M568.8 313.1h2.4M568.8 313.5h2.4M568.8 313.6h2.4M568.8 313.8h2.4M568.8 314.1h2.4M568.8 314.4h2.4M568.8 315.7h2.4M568.8 317.8h2.4M568.8 317.9h2.4M568.8 318.2h2.4M568.8 318.3h2.4M568.8 318.4h2.4M568.8 320.2h2.4M568.8 321.1h2.4M568.8 321.9h2.4M568.8 322.3h2.4M568.8 323.8h2.4M568.8 323.9h2.4M568.8 324.3h2.4M568.8 324.4h2.4M568.8 324.7h2.4M568.8 326.9h2.4M568.8 328.5h2.4M568.8 328.6h2.4M568.8 329.7h2.4M568.8 329.9h2.4M568.8 331.2h2.4M568.8 331.7h2.4M568.8 334.5h2.4M568.8 334.7h2.4M568.8 335.6h2.4M568.8 335.7h2.4M568.8 336.8h2.4M568.8 337.5h2.4M568.8 338.6h2.4M568.8 339.2h2.4M568.8 339.7h2.4M568.8 341.2h2.4M568.8 341.9h2.4M568.8 344.1h2.4M568.8 344.7h2.4M568.8 346.5h2.4M568.8 346.9h2.4M568.8 347.3h2.4M568.8 347.4h2.4M568.8 347.7h2.4M568.8 348h2.4M568.8 349.5h2.4M568.8 349.6h2.4M568.8 349.8h2.4M568.8 350.3h2.4M572 293.6h2.4M572 296.8h2.4M572 298.9h2.4M572 300.7h2.4M572 301.4h2.4M572 302.6h2.4M572 302.7h2.4M572 303h2.4M572 304.8h2.4M572 306.1h2.4M572 306.3h2.4M572 307.8h2.4M572 308.3h2.4M572 308.6h2.4M572 309.5h2.4M572 309.6h2.4M572 311.3h2.4M572 311.7h2.4M572 313.7h2.4M572 314.3h2.4M572 314.8h2.4M572 314.9h2.4M572 315h2.4M572 315.5h2.4M572 316.6h2.4M572 316.7h2.4M572 317.3h2.4M572 317.7h2.4M572 318h2.4M572 318.7h2.4M572 319.3h2.4M572 320.4h2.4M572 320.9h2.4M572 321h2.4M572 321.4h2.4M572 323h2.4M572 323.1h2.4M572 324h2.4M572 324.7h2.4M572 326h2.4M572 326.3h2.4M572 326.4h2.4M572 326.8h2.4M572 327.7h2.4M572 328.3h2.4M572 329.6h2.4M572 330.3h2.4M572 331.5h2.4M572 332.3h2.4M572 332.9h2.4M572 334.2h2.4M572 335.6h2.4M572 336.2h2.4M572 337.2h2.4M572 337.5h2.4M572 337.9h2.4M572 339.8h2.4M572 340.9h2.4M572 341.2h2.4M572 341.4h2.4M572 342.6h2.4M572 343.2h2.4M572 345.9h2.4M572 346.3h2.4M572 347.3h2.4M572 347.4h2.4M572 348.3h2.4M572 348.7h2.4M572 348.9h2.4M572 349.1h2.4M572 349.4h2.4M572 350h2.4M572 350.3h2.4M572 350.4h2.4M575.1 296.7h2.4M575.1 297h2.4M575.1 300.6h2.4M575.1 302.4h2.4M575.1 303h2.4M575.1 304.8h2.4M575.1 305.6h2.4M575.1 306.4h2.4M575.1 307.7h2.4M575.1 307.8h2.4M575.1 309.4h2.4M575.1 310h2.4M575.1 310.9h2.4M575.1 311h2.4M575.1 312.9h2.4M575.1 313.2h2.4M575.1 313.8h2.4M575.1 315.8h2.4M575.1 315.9h2.4M575.1 317.8h2.4M575.1 317.9h2.4M575.1 318.5h2.4M575.1 318.6h2.4M575.1 319.5h2.4M575.1 320h2.4M575.1 320.7h2.4M575.1 321h2.4M575.1 321.2h2.4M575.1 321.5h2.4M575.1 323h2.4M575.1 323.9h2.4M575.1 325.1h2.4M575.1 325.4h2.4M575.1 326.4h2.4M575.1 326.5h2.4M575.1 327.9h2.4M575.1 328.8h2.4M575.1 329h2.4M575.1 329.6h2.4M575.1 330.6h2.4M575.1 331.1h2.4M575.1 332.3h2.4M575.1 333.7h2.4M575.1 334.2h2.4M575.1 335.4h2.4M575.1 336.2h2.4M575.1 337.2h2.4M575.1 337.8h2.4M575.1 338.6h2.4M575.1 339.3h2.4M575.1 339.9h2.4M575.1 341h2.4M575.1 341.8h2.4M575.1 342.2h2.4M575.1 342.4h2.4M575.1 343.1h2.4M575.1 344.5h2.4M575.1 345h2.4M575.1 346.4h2.4M575.1 348.3h2.4M575.1 348.5h2.4M575.1 348.6h2.4M575.1 348.7h2.4M575.1 349.1h2.4M575.1 349.3h2.4M575.1 349.6h2.4M575.1 349.7h2.4M575.1 350.1h2.4M575.1 350.2h2.4M578.3 299.9h2.4M578.3 300.3h2.4M578.3 304h2.4M578.3 305.9h2.4M578.3 306.5h2.4M578.3 309h2.4M578.3 309.4h2.4M578.3 309.9h2.4M578.3 310h2.4M578.3 311h2.4M578.3 312.3h2.4M578.3 312.7h2.4M578.3 313h2.4M578.3 315.7h2.4M578.3 316.1h2.4M578.3 316.2h2.4M578.3 316.5h2.4M578.3 319.1h2.4M578.3 319.2h2.4M578.3 319.8h2.4M578.3 321.2h2.4M578.3 321.8h2.4M578.3 322h2.4M578.3 322.1h2.4M578.3 322.9h2.4M578.3 323.2h2.4M578.3 323.8h2.4M578.3 324.6h2.4M578.3 325h2.4M578.3 326.6h2.4M578.3 327.2h2.4M578.3 327.4h2.4M578.3 328.2h2.4M578.3 328.4h2.4M578.3 328.9h2.4M578.3 330.2h2.4M578.3 331.5h2.4M578.3 332.8h2.4M578.3 333.3h2.4M578.3 333.5h2.4M578.3 334.2h2.4M578.3 335h2.4M578.3 336.2h2.4M578.3 336.4h2.4M578.3 338.8h2.4M578.3 339.2h2.4M578.3 339.6h2.4M578.3 339.8h2.4M578.3 340.9h2.4M578.3 341.6h2.4M578.3 342h2.4M578.3 342.3h2.4M578.3 342.8h2.4M578.3 343.9h2.4M578.3 345.1h2.4M578.3 345.8h2.4M578.3 346.1h2.4M578.3 346.8h2.4M578.3 348.7h2.4M578.3 348.8h2.4M578.3 348.9h2.4M578.3 349h2.4M578.3 349.2h2.4M578.3 349.5h2.4M578.3 349.7h2.4M578.3 349.8h2.4M578.3 350h2.4M578.3 350.1h2.4M578.3 350.2h2.4M578.3 351.2h2.4M581.5 302.7h2.4M581.5 307.6h2.4M581.5 309.4h2.4M581.5 309.6h2.4M581.5 311.7h2.4M581.5 312.3h2.4M581.5 313.3h2.4M581.5 313.6h2.4M581.5 315.3h2.4M581.5 315.9h2.4M581.5 317.5h2.4M581.5 318.7h2.4M581.5 318.9h2.4M581.5 319h2.4M581.5 321.6h2.4M581.5 321.8h2.4M581.5 322.2h2.4M581.5 322.5h2.4M581.5 323.7h2.4M581.5 324.2h2.4M581.5 324.4h2.4M581.5 324.7h2.4M581.5 324.8h2.4M581.5 324.9h2.4M581.5 325h2.4M581.5 325.6h2.4M581.5 327h2.4M581.5 327.7h2.4M581.5 327.8h2.4M581.5 328.7h2.4M581.5 330.2h2.4M581.5 330.3h2.4M581.5 330.6h2.4M581.5 331h2.4M581.5 331.8h2.4M581.5 332h2.4M581.5 333.3h2.4M581.5 334.7h2.4M581.5 334.9h2.4M581.5 335.5h2.4M581.5 335.8h2.4M581.5 336.5h2.4M581.5 337.9h2.4M581.5 338.9h2.4M581.5 340.1h2.4M581.5 340.7h2.4M581.5 341h2.4M581.5 342.4h2.4M581.5 342.8h2.4M581.5 343.1h2.4M581.5 343.8h2.4M581.5 344.1h2.4M581.5 344.9h2.4M581.5 345.5h2.4M581.5 346.1h2.4M581.5 346.5h2.4M581.5 349h2.4M581.5 349.2h2.4M581.5 349.4h2.4M581.5 349.5h2.4M581.5 349.8h2.4M581.5 349.9h2.4M581.5 350h2.4M581.5 350.1h2.4M581.5 350.3h2.4M581.5 352.4h2.4M584.7 305.5h2.4M584.7 306.3h2.4M584.7 310.7h2.4M584.7 312h2.4M584.7 312.8h2.4M584.7 314.2h2.4M584.7 315.2h2.4M584.7 315.3h2.4M584.7 316.1h2.4M584.7 317.1h2.4M584.7 317.7h2.4M584.7 318h2.4M584.7 318.5h2.4M584.7 318.6h2.4M584.7 321.2h2.4M584.7 321.3h2.4M584.7 321.9h2.4M584.7 323.7h2.4M584.7 324h2.4M584.7 324.3h2.4M584.7 325.5h2.4M584.7 325.8h2.4M584.7 325.9h2.4M584.7 326.2h2.4M584.7 326.6h2.4M584.7 326.7h2.4M584.7 327.1h2.4M584.7 328h2.4M584.7 329.5h2.4M584.7 329.8h2.4M584.7 330.8h2.4M584.7 330.9h2.4M584.7 331.4h2.4M584.7 331.5h2.4M584.7 331.7h2.4M584.7 332.5h2.4M584.7 333.8h2.4M584.7 334.1h2.4M584.7 335.8h2.4M584.7 336.5h2.4M584.7 337h2.4M584.7 338.7h2.4M584.7 339.2h2.4M584.7 339.7h2.4M584.7 340.1h2.4M584.7 340.4h2.4M584.7 341.4h2.4M584.7 341.9h2.4M584.7 342h2.4M584.7 343.1h2.4M584.7 343.2h2.4M584.7 343.9h2.4M584.7 344h2.4M584.7 344.2h2.4M584.7 345.6h2.4M584.7 345.7h2.4M584.7 345.8h2.4M584.7 346.7h2.4M584.7 349.1h2.4M584.7 349.3h2.4M584.7 349.4h2.4M584.7 349.5h2.4M584.7 349.6h2.4M584.7 349.8h2.4M584.7 349.9h2.4M584.7 350h2.4M584.7 350.4h2.4M584.7 350.5h2.4M584.7 350.8h2.4M584.7 351.7h2.4M587.9 314.1h2.4M587.9 314.4h2.4M587.9 315.5h2.4M587.9 317h2.4M587.9 317.6h2.4M587.9 318.8h2.4M587.9 319.3h2.4M587.9 319.4h2.4M587.9 320.3h2.4M587.9 320.8h2.4M587.9 321.3h2.4M587.9 322.3h2.4M587.9 323.6h2.4M587.9 324.2h2.4M587.9 324.5h2.4M587.9 324.7h2.4M587.9 325.8h2.4M587.9 326.9h2.4M587.9 327.2h2.4M587.9 327.3h2.4M587.9 328.1h2.4M587.9 328.2h2.4M587.9 328.4h2.4M587.9 328.7h2.4M587.9 329h2.4M587.9 330.2h2.4M587.9 330.6h2.4M587.9 332h2.4M587.9 332.6h2.4M587.9 332.7h2.4M587.9 333.2h2.4M587.9 333.3h2.4M587.9 333.5h2.4M587.9 334.1h2.4M587.9 334.9h2.4M587.9 336.1h2.4M587.9 336.4h2.4M587.9 338.8h2.4M587.9 339.1h2.4M587.9 340.2h2.4M587.9 340.5h2.4M587.9 341.2h2.4M587.9 342.7h2.4M587.9 343h2.4M587.9 343.1h2.4M587.9 343.4h2.4M587.9 343.8h2.4M587.9 344h2.4M587.9 344.6h2.4M587.9 344.8h2.4M587.9 345h2.4M587.9 345.2h2.4M587.9 346.5h2.4M587.9 347h2.4M587.9 349.1h2.4M587.9 349.5h2.4M587.9 349.7h2.4M587.9 349.9h2.4M587.9 350.4h2.4M587.9 350.5h2.4M587.9 350.6h2.4M587.9 350.9h2.4M591.1 310.4h2.4M591.1 316.3h2.4M591.1 316.5h2.4M591.1 318.2h2.4M591.1 319.2h2.4M591.1 320.7h2.4M591.1 321.2h2.4M591.1 321.5h2.4M591.1 322.4h2.4M591.1 323.3h2.4M591.1 323.7h2.4M591.1 324.1h2.4M591.1 326.3h2.4M591.1 326.4h2.4M591.1 327.1h2.4M591.1 327.5h2.4M591.1 327.6h2.4M591.1 328.1h2.4M591.1 329.2h2.4M591.1 329.3h2.4M591.1 329.6h2.4M591.1 330h2.4M591.1 330.2h2.4M591.1 330.7h2.4M591.1 331.4h2.4M591.1 331.9h2.4M591.1 332.1h2.4M591.1 332.7h2.4M591.1 333.6h2.4M591.1 334.6h2.4M591.1 334.7h2.4M591.1 334.8h2.4M591.1 335.1h2.4M591.1 335.7h2.4M591.1 336.1h2.4M591.1 336.6h2.4M591.1 337.2h2.4M591.1 338.2h2.4M591.1 339h2.4M591.1 339.2h2.4M591.1 341.8h2.4M591.1 342.3h2.4M591.1 343h2.4M591.1 343.4h2.4M591.1 343.6h2.4M591.1 344h2.4M591.1 344.3h2.4M591.1 344.4h2.4M591.1 344.8h2.4M591.1 345h2.4M591.1 347.3h2.4M591.1 347.5h2.4M591.1 347.6h2.4M591.1 348.6h2.4M591.1 349h2.4M591.1 349.3h2.4M591.1 349.5h2.4M591.1 349.7h2.4M591.1 350h2.4M591.1 350.1h2.4M591.1 350.2h2.4M591.1 350.3h2.4M594.3 312.5h2.4M594.3 320h2.4M594.3 320.2h2.4M594.3 322.4h2.4M594.3 322.8h2.4M594.3 323.3h2.4M594.3 323.4h2.4M594.3 323.8h2.4M594.3 324.1h2.4M594.3 325.7h2.4M594.3 326.7h2.4M594.3 327.2h2.4M594.3 329.1h2.4M594.3 329.4h2.4M594.3 329.5h2.4M594.3 329.8h2.4M594.3 330.4h2.4M594.3 330.8h2.4M594.3 331.1h2.4M594.3 331.3h2.4M594.3 331.5h2.4M594.3 332.6h2.4M594.3 333.5h2.4M594.3 333.7h2.4M594.3 334.5h2.4M594.3 335.4h2.4M594.3 335.6h2.4M594.3 336.6h2.4M594.3 336.7h2.4M594.3 337.1h2.4M594.3 337.8h2.4M594.3 338.1h2.4M594.3 339.1h2.4M594.3 339.4h2.4M594.3 339.8h2.4M594.3 340.3h2.4M594.3 341h2.4M594.3 341.9h2.4M594.3 342.4h2.4M594.3 342.9h2.4M594.3 343.5h2.4M594.3 344h2.4M594.3 344.2h2.4M594.3 344.7h2.4M594.3 345h2.4M594.3 346h2.4M594.3 346.1h2.4M594.3 346.7h2.4M594.3 347.2h2.4M594.3 348.5h2.4M594.3 349.1h2.4M594.3 349.2h2.4M594.3 349.4h2.4M594.3 349.5h2.4M594.3 349.7h2.4M594.3 350.1h2.4M594.3 350.3h2.4M594.3 350.4h2.4M597.5 316h2.4M597.5 322.1h2.4M597.5 322.2h2.4M597.5 324.2h2.4M597.5 324.5h2.4M597.5 325.9h2.4M597.5 326.5h2.4M597.5 327.5h2.4M597.5 327.6h2.4M597.5 329h2.4M597.5 329.3h2.4M597.5 331.8h2.4M597.5 332.2h2.4M597.5 332.5h2.4M597.5 332.6h2.4M597.5 332.9h2.4M597.5 333h2.4M597.5 333.2h2.4M597.5 333.6h2.4M597.5 333.7h2.4M597.5 335.2h2.4M597.5 336.1h2.4M597.5 336.5h2.4M597.5 336.6h2.4M597.5 337.2h2.4M597.5 337.4h2.4M597.5 338.9h2.4M597.5 339.1h2.4M597.5 339.3h2.4M597.5 339.5h2.4M597.5 339.7h2.4M597.5 340.6h2.4M597.5 340.8h2.4M597.5 341.5h2.4M597.5 341.8h2.4M597.5 342.2h2.4M597.5 342.3h2.4M597.5 342.6h2.4M597.5 343h2.4M597.5 344.1h2.4M597.5 344.5h2.4M597.5 344.7h2.4M597.5 344.8h2.4M597.5 345.3h2.4M597.5 345.4h2.4M597.5 345.5h2.4M597.5 345.6h2.4M597.5 345.9h2.4M597.5 346.1h2.4M597.5 347.3h2.4M597.5 348.2h2.4M597.5 348.3h2.4M597.5 349.1h2.4M597.5 349.3h2.4M597.5 349.7h2.4M597.5 349.8h2.4M597.5 350h2.4M597.5 350.3h2.4M597.5 350.4h2.4M597.5 350.5h2.4M600.7 320.7h2.4M600.7 326.4h2.4M600.7 326.7h2.4M600.7 327.7h2.4M600.7 328.4h2.4M600.7 329.2h2.4M600.7 330.3h2.4M600.7 330.6h2.4M600.7 330.8h2.4M600.7 330.9h2.4M600.7 332.8h2.4M600.7 333.5h2.4M600.7 333.9h2.4M600.7 335h2.4M600.7 335.3h2.4M600.7 335.4h2.4M600.7 335.5h2.4M600.7 335.7h2.4M600.7 335.9h2.4M600.7 336.2h2.4M600.7 336.6h2.4M600.7 337.3h2.4M600.7 337.7h2.4M600.7 338.2h2.4M600.7 338.3h2.4M600.7 338.4h2.4M600.7 339.7h2.4M600.7 339.9h2.4M600.7 340h2.4M600.7 340.3h2.4M600.7 340.4h2.4M600.7 340.7h2.4M600.7 341.2h2.4M600.7 341.6h2.4M600.7 342.1h2.4M600.7 342.3h2.4M600.7 342.5h2.4M600.7 343.5h2.4M600.7 343.8h2.4M600.7 344.4h2.4M600.7 344.5h2.4M600.7 344.9h2.4M600.7 345.2h2.4M600.7 345.3h2.4M600.7 345.5h2.4M600.7 346.1h2.4M600.7 346.2h2.4M600.7 346.5h2.4M600.7 346.8h2.4M600.7 346.9h2.4M600.7 348h2.4M600.7 348.3h2.4M600.7 348.4h2.4M600.7 349.4h2.4M600.7 349.5h2.4M600.7 349.8h2.4M600.7 349.9h2.4M600.7 350.1h2.4M600.7 350.2h2.4M600.7 350.4h2.4M600.7 350.6h2.4M600.7 350.7h2.4M603.8 329.4h2.4M603.8 329.6h2.4M603.8 330.6h2.4M603.8 330.8h2.4M603.8 331.7h2.4M603.8 332.2h2.4M603.8 332.7h2.4M603.8 332.8h2.4M603.8 333.5h2.4M603.8 334h2.4M603.8 334.1h2.4M603.8 335.4h2.4M603.8 335.7h2.4M603.8 336.3h2.4M603.8 336.8h2.4M603.8 337h2.4M603.8 337.2h2.4M603.8 337.4h2.4M603.8 337.5h2.4M603.8 338.4h2.4M603.8 338.6h2.4M603.8 339h2.4M603.8 339.3h2.4M603.8 339.6h2.4M603.8 340.7h2.4M603.8 340.8h2.4M603.8 340.9h2.4M603.8 341.1h2.4M603.8 341.5h2.4M603.8 341.6h2.4M603.8 342.3h2.4M603.8 342.5h2.4M603.8 343.6h2.4M603.8 343.8h2.4M603.8 344.1h2.4M603.8 344.2h2.4M603.8 344.4h2.4M603.8 344.8h2.4M603.8 345.5h2.4M603.8 346h2.4M603.8 346.2h2.4M603.8 346.3h2.4M603.8 346.5h2.4M603.8 346.9h2.4M603.8 347.1h2.4M603.8 347.7h2.4M603.8 347.9h2.4M603.8 348.2h2.4M603.8 348.4h2.4M603.8 348.5h2.4M603.8 349h2.4M603.8 349.1h2.4M603.8 349.2h2.4M603.8 349.6h2.4M603.8 349.7h2.4M603.8 349.8h2.4M603.8 349.9h2.4M603.8 350.3h2.4M607 328.2h2.4M607 332.8h2.4M607 334.4h2.4M607 334.8h2.4M607 335h2.4M607 335.2h2.4M607 337.3h2.4M607 337.5h2.4M607 337.8h2.4M607 338.6h2.4M607 338.8h2.4M607 338.9h2.4M607 339h2.4M607 339.6h2.4M607 339.9h2.4M607 340.3h2.4M607 340.8h2.4M607 341.2h2.4M607 342h2.4M607 342.1h2.4M607 342.4h2.4M607 342.8h2.4M607 343h2.4M607 343.2h2.4M607 344.3h2.4M607 344.4h2.4M607 345h2.4M607 345.8h2.4M607 346.2h2.4M607 346.3h2.4M607 346.4h2.4M607 347h2.4M607 347.5h2.4M607 348h2.4M607 348.4h2.4M607 348.7h2.4M607 349h2.4M607 349.3h2.4M607 349.4h2.4M607 349.5h2.4M607 349.7h2.4M610.2 333.8h2.4M610.2 334.6h2.4M610.2 335.8h2.4M610.2 336.5h2.4M610.2 336.7h2.4M610.2 337h2.4M610.2 338.1h2.4M610.2 339.5h2.4M610.2 339.6h2.4M610.2 339.7h2.4M610.2 340.1h2.4M610.2 340.4h2.4M610.2 340.6h2.4M610.2 340.8h2.4M610.2 342.7h2.4M610.2 342.9h2.4M610.2 343h2.4M610.2 343.1h2.4M610.2 343.8h2.4M610.2 344.1h2.4M610.2 344.9h2.4M610.2 345.8h2.4M610.2 346.1h2.4M610.2 346.2h2.4M610.2 346.3h2.4M610.2 346.4h2.4M610.2 346.5h2.4M610.2 346.9h2.4M610.2 347h2.4M610.2 347.2h2.4M610.2 348h2.4M610.2 348.2h2.4M610.2 348.5h2.4M610.2 349.1h2.4M610.2 349.3h2.4M613.4 336.9h2.4M613.4 337.4h2.4M613.4 338h2.4M613.4 338.9h2.4M613.4 339.5h2.4M613.4 339.7h2.4M613.4 339.9h2.4M613.4 340.5h2.4M613.4 341h2.4M613.4 342.7h2.4M613.4 342.8h2.4M613.4 342.9h2.4M613.4 344.8h2.4M613.4 345.1h2.4M613.4 345.5h2.4M613.4 345.7h2.4M613.4 345.8h2.4M613.4 346h2.4M613.4 346.2h2.4M613.4 347h2.4M613.4 347.3h2.4M613.4 348h2.4M616.6 339h2.4M616.6 339.6h2.4M616.6 341.4h2.4M616.6 342.8h2.4M616.6 344.9h2.4M616.6 345h2.4M616.6 345.9h2.4M616.6 346h2.4M616.6 347.1h2.4" stroke="#00ffff" stroke-width="1.8" fill="none" filter="url(#b)"/>
<path d="M123.0 344.3C127.5 343.2 141.3 339.8 150.0 337.6C158.7 335.4 168.3 333.1 175.0 331.0C181.7 328.9 183.6 328.5 190.0 325.2C196.4 321.9 207.7 314.8 213.5 311.4C219.3 308.0 221.1 307.3 225.0 305.0C228.9 302.7 233.1 299.5 237.0 297.5C240.9 295.5 244.8 293.8 248.7 293.0C252.6 292.2 256.5 293.4 260.4 293.0C264.3 292.6 268.1 291.6 272.0 290.5C275.9 289.4 280.1 288.5 284.0 286.5C287.9 284.5 291.8 281.3 295.6 278.6C299.4 275.9 303.3 273.3 307.0 270.4C310.7 267.5 315.8 263.3 318.0 261.0C320.2 258.7 317.3 259.1 320.0 256.5C322.7 253.9 329.3 249.3 334.0 245.7C338.7 242.1 343.3 239.5 348.0 235.0C352.7 230.5 357.3 224.0 362.0 218.7C366.7 213.4 372.1 207.9 376.0 203.4C379.9 198.9 382.9 194.0 385.7 191.7C388.5 189.3 390.1 189.3 392.8 189.3C395.5 189.3 398.5 190.1 402.0 191.7C405.5 193.3 410.5 196.3 414.0 198.7C417.5 201.0 420.3 204.1 423.0 205.8C425.7 207.5 427.2 208.0 430.0 209.0C432.8 210.0 436.5 210.4 439.7 211.6C442.9 212.8 445.4 213.8 449.0 216.0C452.6 218.2 457.5 221.2 461.0 224.5C464.5 227.8 466.8 231.2 470.0 235.5C473.2 239.8 477.8 247.1 480.0 250.5C482.2 253.9 479.2 251.8 483.0 256.0C486.8 260.2 496.3 270.6 503.0 276.0C509.7 281.4 516.3 284.3 523.0 288.5C529.7 292.7 536.3 296.8 543.0 301.0C549.7 305.2 556.3 308.8 563.0 313.5C569.7 318.2 577.2 325.4 583.0 329.5C588.8 333.6 593.8 336.1 598.0 338.3C602.2 340.5 606.3 341.9 608.0 342.6" fill="none" stroke="#ff0000" stroke-width="0.6"/>
<path d="M123.0 344.0C127.5 342.9 141.3 339.3 150.0 337.2C158.7 335.1 168.3 333.3 175.0 331.4C181.7 329.5 183.6 329.0 190.0 325.6C196.4 322.2 207.7 314.8 213.5 311.2C219.3 307.6 221.1 306.6 225.0 304.2C228.9 301.8 233.1 298.6 237.0 296.8C240.9 295.0 244.8 293.6 248.7 293.3C252.6 293.0 256.5 295.1 260.4 294.9C264.3 294.7 268.1 293.9 272.0 292.3C275.9 290.7 280.1 287.8 284.0 285.3C287.9 282.8 291.8 279.9 295.6 277.2C299.4 274.5 303.3 271.9 307.0 269.0C310.7 266.1 315.8 261.8 318.0 259.5C320.2 257.2 317.3 258.2 320.0 255.0C322.7 251.8 329.3 245.3 334.0 240.0C338.7 234.7 343.3 228.5 348.0 223.0C352.7 217.5 357.3 212.7 362.0 207.0C366.7 201.3 371.3 194.0 376.0 189.0C380.7 184.0 386.1 179.3 390.4 177.0C394.7 174.7 398.1 173.7 402.0 175.0C405.9 176.3 410.1 181.6 414.0 184.6C417.9 187.6 421.8 190.4 425.6 193.0C429.4 195.6 433.9 198.1 437.0 200.0C440.1 201.9 440.8 201.5 444.0 204.6C447.2 207.7 451.7 213.6 456.0 218.7C460.3 223.8 466.0 229.9 470.0 235.0C474.0 240.1 477.8 245.7 480.0 249.0C482.2 252.3 479.2 250.7 483.0 255.0C486.8 259.3 496.3 269.6 503.0 275.0C509.7 280.4 516.3 283.3 523.0 287.5C529.7 291.7 536.3 295.8 543.0 300.0C549.7 304.2 556.3 307.8 563.0 312.5C569.7 317.2 577.2 324.3 583.0 328.5C588.8 332.7 593.8 335.2 598.0 337.5C602.2 339.8 606.3 341.2 608.0 342.0" fill="none" stroke="#000" stroke-width="0.6"/>
<polyline points="123.0,343.8 150.0,336.9 175.0,330.1 190.0,324.2 213.5,310.2 225.0,303.6 237.0,296.0 248.7,291.6 260.4,293.6 272.0,291.2 284.0,286.0 295.6,278.0 307.0,269.8 318.0,260.4 320.0,256.0 332.0,242.0 341.0,233.0 350.5,230.4 355.0,228.0 360.0,216.0 366.0,207.0 377.5,206.5 383.0,199.0 390.0,188.0 400.0,190.5 414.0,195.0 425.6,200.0 437.0,204.6 444.0,209.0 451.5,216.0 461.0,224.5 470.0,235.0 480.0,250.0 483.0,255.5 503.0,275.5 523.0,288.0 543.0,300.5 563.0,313.0 583.0,329.0 598.0,338.0 608.0,342.3" fill="none" stroke="#0000ff" stroke-width="0.6" stroke-opacity="0.85"/>
<path d="M72.5 26.5V375.5H646.5" fill="none" stroke="#3c3c3c" stroke-width="1" shape-rendering="crispEdges"/>
<path d="M72.5 375.5h6M72.5 336.7h6M72.5 297.9h6M72.5 259.2h6M72.5 220.4h6M72.5 181.6h6M72.5 142.8h6M72.5 104.1h6M72.5 65.3h6M72.5 26.5h6M72.5 375.5v-5M136.3 375.5v-5M200.1 375.5v-5M263.8 375.5v-5M327.6 375.5v-5M391.4 375.5v-5M455.2 375.5v-5M518.9 375.5v-5M582.7 375.5v-5M646.5 375.5v-5" fill="none" stroke="#3c3c3c" stroke-width="1" shape-rendering="crispEdges"/>
<rect x="490.5" y="31.5" width="150" height="59" fill="#fff" stroke="#3c3c3c" stroke-width="1" shape-rendering="crispEdges"/>
<rect x="514" y="38" width="2" height="2" fill="#00ffff"/>
<path d="M496.5 55.4h36" stroke="#0000ff" stroke-width="0.6"/>
<path d="M496.5 69.4h36" stroke="#ff0000" stroke-width="0.6"/>
<path d="M496.5 83.4h36" stroke="#000" stroke-width="0.6"/>
<g font-family="'Liberation Sans', sans-serif" fill="#000" stroke="#000" stroke-width="0.14">
<text x="214.0" y="19.7" font-size="9.6" text-anchor="start" textLength="288.0" lengthAdjust="spacingAndGlyphs">Comparison: Beta kernel, Gaussian kernel, 50% Quantile</text>
<text x="48.1" y="379.5" font-size="9.6" text-anchor="start" textLength="20.3" lengthAdjust="spacingAndGlyphs">0.05</text>
<text x="53.9" y="340.7" font-size="9.6" text-anchor="start" textLength="14.5" lengthAdjust="spacingAndGlyphs">0.1</text>
<text x="48.1" y="301.9" font-size="9.6" text-anchor="start" textLength="20.3" lengthAdjust="spacingAndGlyphs">0.15</text>
<text x="53.9" y="263.2" font-size="9.6" text-anchor="start" textLength="14.5" lengthAdjust="spacingAndGlyphs">0.2</text>
<text x="48.1" y="224.4" font-size="9.6" text-anchor="start" textLength="20.3" lengthAdjust="spacingAndGlyphs">0.25</text>
<text x="53.9" y="185.6" font-size="9.6" text-anchor="start" textLength="14.5" lengthAdjust="spacingAndGlyphs">0.3</text>
<text x="48.1" y="146.8" font-size="9.6" text-anchor="start" textLength="20.3" lengthAdjust="spacingAndGlyphs">0.35</text>
<text x="53.9" y="108.1" font-size="9.6" text-anchor="start" textLength="14.5" lengthAdjust="spacingAndGlyphs">0.4</text>
<text x="48.1" y="69.3" font-size="9.6" text-anchor="start" textLength="20.3" lengthAdjust="spacingAndGlyphs">0.45</text>
<text x="53.9" y="30.5" font-size="9.6" text-anchor="start" textLength="14.5" lengthAdjust="spacingAndGlyphs">0.5</text>
<text x="62.3" y="389.3" font-size="9.6" text-anchor="start" textLength="15.3" lengthAdjust="spacingAndGlyphs">-25</text>
<text x="126.1" y="389.3" font-size="9.6" text-anchor="start" textLength="15.3" lengthAdjust="spacingAndGlyphs">-20</text>
<text x="189.9" y="389.3" font-size="9.6" text-anchor="start" textLength="15.3" lengthAdjust="spacingAndGlyphs">-15</text>
<text x="253.7" y="389.3" font-size="9.6" text-anchor="start" textLength="15.3" lengthAdjust="spacingAndGlyphs">-10</text>
<text x="320.4" y="389.3" font-size="9.6" text-anchor="start" textLength="9.4" lengthAdjust="spacingAndGlyphs">-5</text>
<text x="387.6" y="389.3" font-size="9.6" text-anchor="start" textLength="5.9" lengthAdjust="spacingAndGlyphs">0</text>
<text x="451.4" y="389.3" font-size="9.6" text-anchor="start" textLength="5.9" lengthAdjust="spacingAndGlyphs">5</text>
<text x="512.3" y="389.3" font-size="9.6" text-anchor="start" textLength="11.8" lengthAdjust="spacingAndGlyphs">10</text>
<text x="576.0" y="389.3" font-size="9.6" text-anchor="start" textLength="11.8" lengthAdjust="spacingAndGlyphs">15</text>
<text x="639.8" y="389.3" font-size="9.6" text-anchor="start" textLength="11.8" lengthAdjust="spacingAndGlyphs">20</text>
<text x="330.7" y="401.5" font-size="9.6" text-anchor="start" textLength="56.0" lengthAdjust="spacingAndGlyphs">Arc Length</text>
<text transform="translate(38.5,208.3) scale(1.13,1) rotate(-90)" font-size="9.6" textLength="11.2" lengthAdjust="spacingAndGlyphs">FA</text>
<text x="537.0" y="44.4" font-size="9.1" text-anchor="start" textLength="75.2" lengthAdjust="spacingAndGlyphs">Sample Points</text>
<text x="537.0" y="58.5" font-size="9.1" text-anchor="start" textLength="67.6" lengthAdjust="spacingAndGlyphs">50% Quantile</text>
<text x="537.0" y="72.3" font-size="9.1" text-anchor="start" textLength="71.0" lengthAdjust="spacingAndGlyphs">Beta kernel fit</text>
<text x="537.0" y="86.6" font-size="9.1" text-anchor="start" textLength="94.9" lengthAdjust="spacingAndGlyphs">Gaussian kernel fit</text>
</g>
</svg>
</body></html>
